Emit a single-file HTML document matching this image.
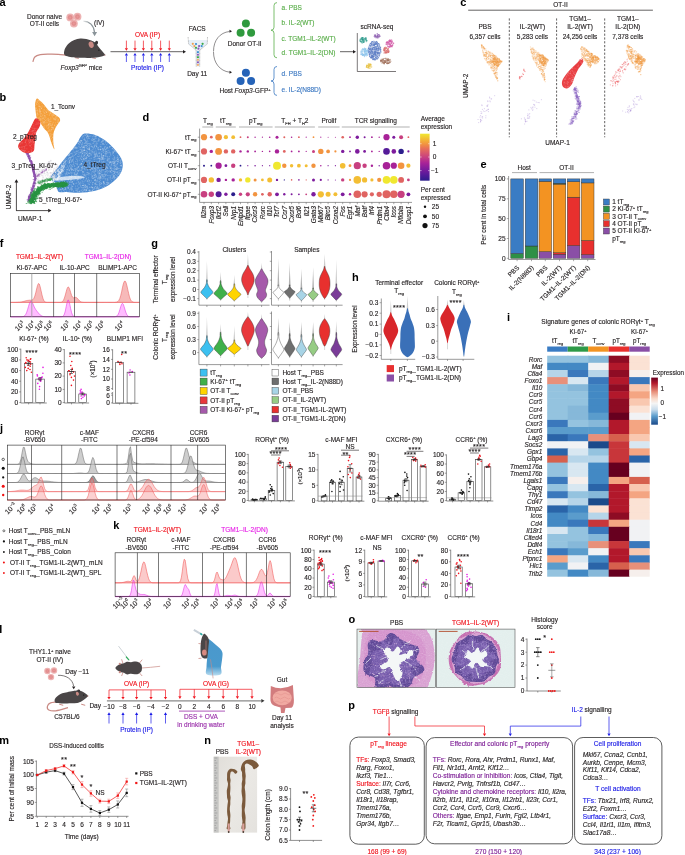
<!DOCTYPE html>
<html><head><meta charset="utf-8"><style>
html,body{margin:0;padding:0;background:#fff;}
svg{display:block;}
text{font-family:"Liberation Sans",sans-serif;stroke-width:0.14px;}
svg{will-change:transform;}
</style></head><body>
<svg width="685" height="855" viewBox="0 0 685 855" font-family="Liberation Sans, sans-serif">
<rect width="685" height="855" fill="#fff"/>
<text x="-0.4" y="5.8" font-size="11" font-weight="bold" fill="#000">a</text>
<text x="44.5" y="18.5" font-size="6.5" text-anchor="middle" fill="#231f20" stroke="#231f20"><tspan>Donor naive</tspan></text>
<text x="44.5" y="25.9" font-size="6.5" text-anchor="middle" fill="#231f20" stroke="#231f20"><tspan>OT-II cells</tspan></text>
<circle cx="70.2" cy="17.4" r="3.9" fill="#eaa4a4" fill-opacity="0.85"/>
<circle cx="77.5" cy="16.7" r="3.9" fill="#eaa4a4" fill-opacity="0.85"/>
<circle cx="73.9" cy="23.6" r="3.9" fill="#eaa4a4" fill-opacity="0.85"/>
<circle cx="70.2" cy="17.4" r="2.4" fill="#de8082" fill-opacity="0.75"/>
<circle cx="70.2" cy="17.4" r="1.0" fill="#e89a9a" fill-opacity="0.8"/>
<circle cx="77.5" cy="16.7" r="2.4" fill="#de8082" fill-opacity="0.75"/>
<circle cx="77.5" cy="16.7" r="1.0" fill="#e89a9a" fill-opacity="0.8"/>
<circle cx="73.9" cy="23.6" r="2.4" fill="#de8082" fill-opacity="0.75"/>
<circle cx="73.9" cy="23.6" r="1.0" fill="#e89a9a" fill-opacity="0.8"/>
<defs><linearGradient id="ivg" x1="0" y1="0" x2="1" y2="0.6"><stop offset="0" stop-color="#8a9499" stop-opacity="0.2"/><stop offset="0.45" stop-color="#8a9499"/></linearGradient></defs>
<path d="M83.3,21.2 C89,21.3 93.6,25 94.5,32.2" fill="none" stroke="url(#ivg)" stroke-width="1.35" />
<path d="M94.6,36.2 L92.1,32.0 L97.1,32.0 Z" fill="#8a9499" />
<text x="99.3" y="25.1" font-size="6.5" text-anchor="middle" fill="#231f20" stroke="#231f20"><tspan>(IV)</tspan></text>
<path d="M66.3,55.1 C65.0,55.0 61.1,54.5 58.3,54.3 C55.5,54.1 52.3,54.0 49.3,54.1 C46.3,54.2 42.7,54.2 40.3,54.7 C37.9,55.2 36.0,55.8 34.8,57.0 C33.6,58.2 33.2,61.1 32.9,61.9" fill="none" stroke="#c98a84" stroke-width="1.2" />
<line x1="91.8" y1="57.7" x2="95.8" y2="58.5" stroke="#c98a84" stroke-width="1.0"/>
<line x1="74.8" y1="57.6" x2="78.8" y2="58.4" stroke="#c98a84" stroke-width="1.0"/>
<path d="M105.3,55.1 C105.3,54.6 104.1,53.6 103.3,52.6 C102.5,51.6 101.3,50.4 100.3,49.1 C99.3,47.9 98.1,46.2 97.3,45.1 C96.5,44.0 96.3,43.4 95.3,42.6 C94.3,41.9 92.8,41.2 91.3,40.6 C89.8,40.0 88.1,39.4 86.3,39.1 C84.5,38.8 82.3,38.4 80.3,38.6 C78.3,38.8 76.1,39.4 74.3,40.1 C72.5,40.9 70.8,41.8 69.3,43.1 C67.8,44.4 66.2,46.4 65.3,48.1 C64.4,49.8 64.0,51.9 64.0,53.1 C64.0,54.4 64.2,54.9 65.3,55.6 C66.3,56.3 68.3,56.7 70.3,57.1 C72.3,57.5 74.5,57.7 77.3,57.8 C80.1,57.9 84.6,57.9 87.3,57.9 C90.0,57.9 91.3,57.9 93.3,57.7 C95.3,57.5 97.6,57.2 99.3,56.9 C101.0,56.6 102.3,56.2 103.3,55.9 C104.3,55.6 105.3,55.6 105.3,55.1 Z" fill="#4a4647" />
<ellipse cx="96.7" cy="42.9" rx="1.5" ry="2.0" fill="#3a3637" transform="rotate(20 96.7 42.3)"/>
<ellipse cx="91.2" cy="44.7" rx="2.5" ry="3.3" fill="#c98a84" transform="rotate(-15 91.2 44.7)"/>
<circle cx="98.9" cy="50.2" r="0.6" fill="#111"/>
<circle cx="104.9" cy="55.1" r="0.6" fill="#c98a84"/>
<text x="81.5" y="69.7" font-size="6.5" text-anchor="middle" fill="#231f20" stroke="#231f20"><tspan font-style="italic">Foxp3</tspan><tspan font-size="4.0" dy="-2.5">GFP</tspan><tspan dy="2.5"> mice</tspan></text>
<line x1="110.5" y1="51.7" x2="183.5" y2="51.7" stroke="#231f20" stroke-width="0.7"/>
<path d="M186.0,51.7 L183.0,49.9 L183.0,53.5 Z" fill="#231f20" />
<line x1="126.4" y1="40.6" x2="126.4" y2="48.5" stroke="#f0141e" stroke-width="0.7"/>
<path d="M126.4,50.8 L124.8,48.2 L128.0,48.2 Z" fill="#f0141e" />
<line x1="126.4" y1="62.0" x2="126.4" y2="55.5" stroke="#1a1ae6" stroke-width="0.7"/>
<path d="M126.4,53.0 L124.8,55.6 L128.0,55.6 Z" fill="#1a1ae6" />
<line x1="135.0" y1="40.6" x2="135.0" y2="48.5" stroke="#f0141e" stroke-width="0.7"/>
<path d="M135.0,50.8 L133.4,48.2 L136.6,48.2 Z" fill="#f0141e" />
<line x1="135.0" y1="62.0" x2="135.0" y2="55.5" stroke="#1a1ae6" stroke-width="0.7"/>
<path d="M135.0,53.0 L133.4,55.6 L136.6,55.6 Z" fill="#1a1ae6" />
<line x1="143.4" y1="40.6" x2="143.4" y2="48.5" stroke="#f0141e" stroke-width="0.7"/>
<path d="M143.4,50.8 L141.8,48.2 L145.0,48.2 Z" fill="#f0141e" />
<line x1="143.4" y1="62.0" x2="143.4" y2="55.5" stroke="#1a1ae6" stroke-width="0.7"/>
<path d="M143.4,53.0 L141.8,55.6 L145.0,55.6 Z" fill="#1a1ae6" />
<line x1="151.8" y1="40.6" x2="151.8" y2="48.5" stroke="#f0141e" stroke-width="0.7"/>
<path d="M151.8,50.8 L150.2,48.2 L153.4,48.2 Z" fill="#f0141e" />
<line x1="151.8" y1="62.0" x2="151.8" y2="55.5" stroke="#1a1ae6" stroke-width="0.7"/>
<path d="M151.8,53.0 L150.2,55.6 L153.4,55.6 Z" fill="#1a1ae6" />
<line x1="160.6" y1="40.6" x2="160.6" y2="48.5" stroke="#f0141e" stroke-width="0.7"/>
<path d="M160.6,50.8 L159.0,48.2 L162.2,48.2 Z" fill="#f0141e" />
<line x1="160.6" y1="62.0" x2="160.6" y2="55.5" stroke="#1a1ae6" stroke-width="0.7"/>
<path d="M160.6,53.0 L159.0,55.6 L162.2,55.6 Z" fill="#1a1ae6" />
<line x1="169.3" y1="40.6" x2="169.3" y2="48.5" stroke="#f0141e" stroke-width="0.7"/>
<path d="M169.3,50.8 L167.7,48.2 L170.9,48.2 Z" fill="#f0141e" />
<line x1="169.3" y1="62.0" x2="169.3" y2="55.5" stroke="#1a1ae6" stroke-width="0.7"/>
<path d="M169.3,53.0 L167.7,55.6 L170.9,55.6 Z" fill="#1a1ae6" />
<text x="147.5" y="37.0" font-size="6.5" text-anchor="middle" fill="#f0141e" stroke="#f0141e"><tspan>OVA (IP)</tspan></text>
<text x="147.5" y="70.3" font-size="6.5" text-anchor="middle" fill="#1a1ae6" stroke="#1a1ae6"><tspan>Protein (IP)</tspan></text>
<text x="197.2" y="30.8" font-size="6.5" text-anchor="middle" fill="#231f20" stroke="#231f20"><tspan>FACS</tspan></text>
<path d="M188.4,40 L188.6,44 L196,50.1 L196.2,66.5 L199.7,66.5 L199.8,50.1 L207.3,44 L207.5,40 Z" fill="#e6eff8" />
<path d="M188.1,37 L188.6,44 L196,50.1 L196.2,66.5 M207.5,37 L207.3,44 L199.8,50.1 L199.7,66.5" fill="none" stroke="#6a6a6a" stroke-width="0.45" stroke-dasharray="0.9,0.5"/>
<circle cx="192.8" cy="43.8" r="1.1" fill="#f0a050"/>
<circle cx="196.0" cy="44.0" r="1.1" fill="#3a90d0"/>
<circle cx="202.6" cy="43.8" r="1.1" fill="#3aaa48"/>
<circle cx="194.4" cy="46.1" r="1.1" fill="#f0a050"/>
<circle cx="199.1" cy="46.1" r="1.1" fill="#8a5ab8"/>
<circle cx="201.7" cy="46.1" r="1.1" fill="#3a90d0"/>
<circle cx="196.0" cy="47.8" r="1.1" fill="#3aaa48"/>
<circle cx="198.4" cy="48.7" r="1.1" fill="#8a5ab8"/>
<rect x="196.9" y="51.2" width="2.0" height="1.8" fill="#3a90d0"/>
<rect x="196.9" y="53.8" width="2.0" height="1.8" fill="#8a5ab8"/>
<rect x="196.9" y="56.3" width="2.0" height="1.8" fill="#3aaa48"/>
<rect x="196.9" y="58.9" width="2.0" height="1.8" fill="#f5b070"/>
<rect x="196.9" y="61.4" width="2.0" height="1.8" fill="#8a5ab8"/>
<rect x="196.9" y="64.0" width="2.0" height="1.8" fill="#f5b070"/>
<text x="197.2" y="75.5" font-size="6.5" text-anchor="middle" fill="#231f20" stroke="#231f20"><tspan>Day 11</tspan></text>
<path d="M213.5,51.5 C213.5,40 220,32.5 229.5,31.5" fill="none" stroke="#231f20" stroke-width="0.5" />
<path d="M232.0,31.3 L229.5,29.8 L229.5,32.8 Z" fill="#231f20" />
<path d="M213.5,52 C213.5,63 220,71 229.5,72.2" fill="none" stroke="#231f20" stroke-width="0.5" />
<path d="M232.0,72.3 L229.5,70.8 L229.5,73.8 Z" fill="#231f20" />
<circle cx="245.9" cy="23.6" r="4.0" fill="#2f9a3e"/>
<circle cx="240.6" cy="32.7" r="4.0" fill="#2f9a3e"/>
<circle cx="251.1" cy="32.7" r="4.0" fill="#2f9a3e"/>
<circle cx="245.9" cy="72.7" r="4.0" fill="#2563b8"/>
<circle cx="240.6" cy="80.9" r="4.0" fill="#2563b8"/>
<circle cx="251.1" cy="80.9" r="4.0" fill="#2563b8"/>
<text x="244.7" y="45.6" font-size="6.5" text-anchor="middle" fill="#231f20" stroke="#231f20"><tspan>Donor OT-II</tspan></text>
<text x="245.0" y="93.3" font-size="6.5" text-anchor="middle" fill="#231f20" stroke="#231f20"><tspan>Host </tspan><tspan font-style="italic">Foxp3</tspan><tspan>-GFP</tspan><tspan font-size="4.0" dy="-2.5">+</tspan></text>
<path d="M277.0,2.6 Q274.0,2.6 274.0,5.6 L274.0,27.2 Q274.0,30.2 271.0,30.2 Q274.0,30.2 274.0,33.2 L274.0,54.8 Q274.0,57.8 277.0,57.8" fill="none" stroke="#5aae4a" stroke-width="0.8" />
<path d="M277.0,66.5 Q274.0,66.5 274.0,69.5 L274.0,78.0 Q274.0,81.0 271.0,81.0 Q274.0,81.0 274.0,84.0 L274.0,92.4 Q274.0,95.4 277.0,95.4" fill="none" stroke="#3b78c2" stroke-width="0.8" />
<text x="281.6" y="10.0" font-size="6.5" text-anchor="start" fill="#5aae4a" stroke="#5aae4a"><tspan>a. PBS</tspan></text>
<text x="281.6" y="25.1" font-size="6.5" text-anchor="start" fill="#5aae4a" stroke="#5aae4a"><tspan>b. IL-2(WT)</tspan></text>
<text x="281.6" y="40.5" font-size="6.5" text-anchor="start" fill="#5aae4a" stroke="#5aae4a"><tspan>c. TGM1–IL-2(WT)</tspan></text>
<text x="281.6" y="54.8" font-size="6.5" text-anchor="start" fill="#5aae4a" stroke="#5aae4a"><tspan>d. TGM1–IL-2(DN)</tspan></text>
<text x="281.6" y="75.5" font-size="6.5" text-anchor="start" fill="#3b78c2" stroke="#3b78c2"><tspan>d. PBS</tspan></text>
<text x="281.6" y="91.6" font-size="6.5" text-anchor="start" fill="#3b78c2" stroke="#3b78c2"><tspan>e. IL-2(N88D)</tspan></text>
<line x1="340.0" y1="51.7" x2="353.0" y2="51.7" stroke="#231f20" stroke-width="0.7"/>
<path d="M356.0,51.7 L353.0,49.9 L353.0,53.5 Z" fill="#231f20" />
<text x="377.0" y="29.1" font-size="6.5" text-anchor="middle" fill="#231f20" stroke="#231f20"><tspan>scRNA-seq</tspan></text>
<line x1="357.3" y1="33.0" x2="357.3" y2="71.5" stroke="#231f20" stroke-width="0.6"/>
<line x1="357.3" y1="71.5" x2="396.0" y2="71.5" stroke="#231f20" stroke-width="0.6"/>
<path d="M363.6 42.5h.1M361.4 42.0h.1M362.7 39.8h.1M366.9 40.5h.1M363.3 41.7h.1M366.0 40.2h.1M364.8 38.5h.1M362.5 39.4h.1M361.1 38.2h.1M360.2 39.9h.1M362.9 39.6h.1M363.6 38.0h.1M363.2 40.8h.1M365.1 38.8h.1M362.7 37.5h.1M362.6 37.5h.1M360.7 41.9h.1M359.9 41.3h.1M364.3 39.7h.1M364.6 41.4h.1M365.9 39.9h.1M361.9 39.1h.1M361.0 40.2h.1M361.7 42.1h.1M360.3 38.9h.1M361.9 37.7h.1M365.7 38.0h.1M362.7 39.2h.1M365.8 38.0h.1M365.8 39.0h.1M363.0 39.0h.1M364.8 38.3h.1M363.2 41.0h.1M365.7 37.9h.1M366.3 41.7h.1M362.2 40.9h.1M362.5 42.8h.1M364.0 39.8h.1M362.8 39.9h.1M363.0 38.6h.1M366.2 38.3h.1M359.6 40.2h.1M363.0 41.1h.1M362.9 40.0h.1M364.2 42.1h.1M362.2 39.5h.1M366.8 41.0h.1M361.9 43.0h.1M365.3 39.2h.1M360.7 40.8h.1M361.6 38.5h.1M360.6 39.4h.1M365.9 39.5h.1M360.5 41.4h.1M363.6 41.9h.1M366.1 40.0h.1M363.0 40.2h.1M360.9 41.5h.1M366.4 40.6h.1M362.8 39.8h.1M361.6 38.8h.1M362.4 38.7h.1M362.5 37.8h.1M364.3 40.4h.1M361.7 37.7h.1M363.4 42.3h.1M361.6 39.4h.1M362.0 41.6h.1" stroke="#2a9a8a" stroke-opacity="0.85" stroke-width="0.7" stroke-linecap="square" fill="none"/>
<path d="M362.4 55.0h.1M363.7 55.1h.1M364.6 51.8h.1M361.4 50.9h.1M363.8 54.5h.1M365.1 50.4h.1M365.5 55.2h.1M364.1 51.1h.1M363.5 54.8h.1M365.8 49.9h.1M365.5 51.0h.1M362.8 55.6h.1M366.5 50.5h.1M364.7 54.0h.1M362.8 52.1h.1M365.8 48.6h.1M365.4 54.7h.1M365.6 49.1h.1M365.3 50.0h.1M366.0 54.3h.1M365.1 50.2h.1M363.0 54.9h.1M362.3 53.9h.1M365.9 51.6h.1M368.4 52.6h.1M367.4 49.4h.1M360.9 54.3h.1M366.2 51.6h.1M364.4 48.4h.1M363.0 49.7h.1M363.9 55.0h.1M364.6 53.7h.1M362.7 51.2h.1M364.8 51.6h.1M367.2 50.4h.1M367.9 50.5h.1M367.0 50.5h.1M367.9 52.8h.1M365.5 54.7h.1M363.0 49.7h.1M361.2 54.7h.1M362.7 50.8h.1M364.4 56.7h.1M361.0 53.1h.1M363.4 54.1h.1M361.0 51.6h.1M366.2 56.0h.1M367.7 50.6h.1M364.7 52.2h.1M361.9 49.5h.1M366.5 53.2h.1M364.2 55.7h.1M362.1 53.9h.1M364.5 52.3h.1M365.8 53.0h.1M365.2 53.3h.1M368.2 51.8h.1M366.9 54.1h.1M363.6 54.8h.1M362.6 55.4h.1M362.4 51.1h.1M365.3 54.9h.1M366.6 54.9h.1M364.0 49.8h.1M366.0 53.4h.1M362.3 55.0h.1M365.0 49.8h.1M365.5 49.1h.1M362.3 53.6h.1M361.1 52.6h.1M361.6 54.3h.1M362.6 53.0h.1M361.2 51.7h.1M366.8 53.8h.1M361.1 54.4h.1M366.8 51.4h.1M367.3 50.1h.1M364.3 55.6h.1M367.1 55.3h.1M362.5 48.9h.1M365.4 49.0h.1M364.2 49.1h.1M366.9 54.6h.1M366.0 52.6h.1M364.6 51.6h.1M365.6 53.3h.1M365.7 51.2h.1M368.1 53.1h.1M367.2 55.4h.1M362.8 48.9h.1M367.4 51.5h.1M364.7 51.7h.1M364.8 49.3h.1M364.2 51.1h.1M364.5 48.1h.1M366.6 53.5h.1M361.2 50.9h.1M364.6 54.4h.1M364.5 56.0h.1M364.6 49.7h.1M362.8 54.6h.1M363.0 54.9h.1M367.0 54.1h.1M367.0 52.0h.1M364.5 50.7h.1M363.2 48.9h.1M363.2 49.6h.1M361.3 52.9h.1" stroke="#8cc4ec" stroke-opacity="0.85" stroke-width="0.7" stroke-linecap="square" fill="none"/>
<path d="M376.5 48.3h.1M379.1 55.2h.1M378.5 47.1h.1M369.3 53.3h.1M375.8 55.0h.1M376.1 57.4h.1M373.3 54.7h.1M372.2 41.9h.1M372.9 58.1h.1M369.4 55.1h.1M371.6 48.0h.1M374.7 51.9h.1M370.5 51.3h.1M376.3 55.5h.1M372.0 58.0h.1M378.5 57.9h.1M369.5 51.4h.1M368.7 52.2h.1M376.6 44.1h.1M369.0 51.4h.1M377.1 45.8h.1M373.8 41.2h.1M371.5 51.4h.1M375.0 58.5h.1M371.6 42.2h.1M376.4 46.8h.1M375.7 55.0h.1M376.6 57.9h.1M378.4 43.5h.1M374.3 59.3h.1M372.9 56.2h.1M374.2 47.7h.1M379.5 55.3h.1M373.5 56.0h.1M369.8 46.7h.1M378.3 50.7h.1M370.3 53.1h.1M375.7 57.5h.1M378.4 48.9h.1M372.3 49.6h.1M373.7 58.2h.1M379.2 56.3h.1M376.2 48.9h.1M378.2 48.4h.1M375.3 42.3h.1M373.0 58.0h.1M371.2 43.5h.1M373.9 58.7h.1M379.7 48.6h.1M372.4 49.8h.1M370.6 50.7h.1M373.4 42.8h.1M372.0 48.9h.1M371.4 44.5h.1M377.1 58.6h.1M373.2 47.7h.1M376.7 49.0h.1M371.8 57.5h.1M370.5 46.4h.1M371.9 45.4h.1M373.5 54.2h.1M379.5 53.9h.1M374.6 43.5h.1M374.2 44.8h.1M374.1 56.4h.1M375.4 49.1h.1M371.3 50.4h.1M375.0 44.9h.1M372.4 55.7h.1M369.0 48.3h.1M370.9 57.5h.1M377.1 53.7h.1M376.3 52.4h.1M375.5 42.5h.1M375.6 54.3h.1M369.6 54.6h.1M376.8 43.0h.1M372.4 48.5h.1M372.2 53.0h.1M369.7 49.3h.1M375.5 55.0h.1M374.7 48.9h.1M376.5 42.0h.1M378.3 48.7h.1M369.8 48.1h.1M370.2 43.5h.1M373.1 45.7h.1M377.4 45.4h.1M370.0 45.7h.1M380.2 50.6h.1M372.1 44.8h.1M370.1 49.5h.1M376.1 57.0h.1M379.0 52.1h.1M371.9 45.5h.1M368.7 46.8h.1M376.4 48.3h.1M375.8 43.3h.1M378.2 52.3h.1M374.7 53.1h.1M368.4 48.3h.1M371.8 58.4h.1M373.7 47.2h.1M377.7 44.8h.1M379.4 46.9h.1M374.3 44.9h.1M376.7 41.9h.1M377.3 45.7h.1M374.7 43.9h.1M375.5 51.7h.1M377.1 52.5h.1M376.9 56.2h.1M373.0 43.9h.1M369.9 54.1h.1M373.0 56.6h.1M374.7 44.5h.1M377.1 58.7h.1M373.8 44.8h.1M371.2 55.5h.1M372.0 47.9h.1M377.5 50.6h.1M375.0 47.0h.1M371.7 51.5h.1M375.2 54.3h.1M372.3 52.7h.1M376.6 51.0h.1M376.7 56.3h.1M375.4 51.0h.1M370.6 52.4h.1M374.1 48.4h.1M371.1 53.9h.1M380.8 52.1h.1M374.9 53.4h.1M371.9 51.1h.1M371.8 46.6h.1M375.6 52.0h.1M374.0 45.6h.1M375.5 44.2h.1M377.8 48.4h.1M374.5 55.4h.1M376.5 43.6h.1M373.4 52.9h.1M371.9 42.0h.1M374.2 50.2h.1M376.4 51.0h.1M375.1 52.1h.1M379.5 53.1h.1M376.9 48.0h.1M378.9 49.4h.1M376.6 41.9h.1M375.6 49.9h.1M372.8 57.5h.1M376.3 49.6h.1M372.9 58.9h.1M377.5 54.4h.1M371.8 57.3h.1M376.9 48.8h.1M374.1 42.4h.1M377.0 44.4h.1M378.0 47.9h.1M371.8 52.8h.1M375.3 44.0h.1M374.2 54.4h.1M373.6 43.2h.1M373.5 44.8h.1M372.0 50.8h.1M374.3 49.1h.1M369.0 52.2h.1M373.6 47.8h.1M375.0 59.2h.1M370.7 43.6h.1M377.5 45.9h.1M378.9 45.6h.1M372.5 55.5h.1M378.2 53.1h.1M376.5 49.7h.1M372.5 49.2h.1M379.1 54.2h.1M374.6 52.6h.1M377.5 56.7h.1M373.9 50.0h.1M375.3 59.8h.1M375.4 57.5h.1M369.5 54.6h.1M369.9 45.4h.1M371.7 49.6h.1M375.3 52.9h.1M375.5 47.7h.1M380.8 51.9h.1M376.4 59.0h.1M378.3 53.8h.1M375.5 59.0h.1M370.6 45.5h.1M374.9 41.7h.1M371.6 56.6h.1M372.5 51.6h.1M377.1 44.2h.1M375.7 46.5h.1M370.2 48.9h.1M374.3 47.9h.1M371.9 55.9h.1M378.9 53.6h.1M374.1 44.3h.1M371.5 44.6h.1M375.4 56.0h.1M378.3 50.4h.1M372.8 51.7h.1M375.0 54.3h.1M379.5 47.1h.1M379.1 43.8h.1M369.7 44.6h.1M370.4 49.1h.1M380.4 47.6h.1M378.8 48.4h.1M375.1 44.5h.1M380.7 50.3h.1M372.9 59.4h.1M375.3 53.2h.1M373.9 45.4h.1M369.3 49.6h.1M379.9 52.6h.1M373.8 56.7h.1M371.4 57.3h.1M374.4 45.4h.1M377.3 53.6h.1M373.0 51.9h.1M377.7 57.3h.1M372.5 41.6h.1M380.5 49.4h.1M372.7 53.2h.1M372.8 56.5h.1M369.8 49.4h.1M370.7 57.3h.1M373.5 56.8h.1M378.9 44.9h.1M373.6 55.0h.1M374.7 49.6h.1M377.7 55.6h.1M371.9 49.6h.1M377.3 51.8h.1M375.1 44.1h.1M380.2 49.4h.1M375.7 50.3h.1M374.8 51.5h.1M371.1 52.8h.1M379.1 52.7h.1M377.5 53.4h.1M374.6 59.0h.1M371.6 52.9h.1M378.6 52.2h.1M370.8 44.9h.1M379.5 46.0h.1M374.5 54.0h.1M374.8 42.1h.1M368.6 50.0h.1M371.2 48.9h.1M374.9 51.6h.1M370.7 43.5h.1M378.2 46.9h.1M371.3 42.6h.1M376.5 43.7h.1M370.5 54.0h.1M375.8 54.1h.1M371.9 41.8h.1M370.5 48.7h.1M371.9 55.6h.1M375.9 44.5h.1M377.0 49.6h.1M372.6 56.8h.1M369.4 55.1h.1M377.4 42.4h.1M373.6 49.4h.1M370.2 47.3h.1M371.1 50.9h.1M372.9 41.7h.1M378.8 55.2h.1M371.3 55.4h.1M379.5 44.8h.1M372.7 47.2h.1M376.9 48.6h.1M370.1 56.3h.1M373.1 55.0h.1M380.5 47.6h.1M372.8 55.9h.1M374.0 53.9h.1M374.5 59.9h.1M377.2 52.7h.1M375.1 53.0h.1M369.0 49.2h.1M377.2 44.1h.1M374.7 49.9h.1M373.2 59.6h.1M377.5 52.6h.1M371.2 51.0h.1M373.1 49.9h.1M375.1 59.8h.1M378.3 57.6h.1M377.3 59.0h.1M372.1 43.7h.1M375.5 52.2h.1M374.7 46.5h.1M376.7 58.5h.1M375.5 49.0h.1M379.1 48.8h.1M372.9 52.6h.1M369.5 56.5h.1M374.0 53.9h.1M375.9 53.2h.1M370.8 57.8h.1M377.0 52.4h.1M380.5 47.0h.1M377.7 49.9h.1M370.6 57.8h.1M369.1 51.2h.1M374.1 51.8h.1M371.3 57.3h.1M375.5 43.5h.1M369.9 52.1h.1M370.1 53.0h.1M375.9 46.8h.1M369.3 45.4h.1M376.1 47.2h.1M380.3 48.5h.1M376.2 54.8h.1M374.9 52.6h.1M378.6 49.7h.1M376.0 48.2h.1M380.5 51.3h.1M376.3 41.4h.1M372.6 44.2h.1M374.7 47.6h.1M370.3 48.9h.1M377.6 56.4h.1M372.4 56.6h.1M371.9 54.3h.1M371.3 56.2h.1M380.7 49.4h.1M378.3 43.9h.1M373.0 59.6h.1M374.2 53.8h.1M368.9 50.5h.1M371.7 56.9h.1M373.2 59.6h.1M370.2 52.4h.1M368.5 48.8h.1M379.2 49.9h.1M369.7 53.2h.1M378.3 53.1h.1M377.8 43.6h.1M380.1 53.7h.1M369.7 56.8h.1M372.5 53.8h.1M368.7 47.8h.1M369.0 54.2h.1M373.6 45.0h.1M373.1 56.9h.1M371.3 53.9h.1M371.0 43.3h.1M372.4 48.7h.1M375.2 56.2h.1M372.7 48.2h.1M377.7 53.1h.1M374.3 52.1h.1M368.4 48.3h.1M369.0 48.8h.1M377.3 42.8h.1M378.2 47.2h.1M373.6 47.5h.1M377.4 46.5h.1M368.4 51.9h.1" stroke="#5a7cc4" stroke-opacity="0.85" stroke-width="0.7" stroke-linecap="square" fill="none"/>
<path d="M376.7 36.9h.1M378.1 34.5h.1M377.5 36.2h.1M376.8 36.2h.1M377.7 35.2h.1M376.7 37.4h.1M374.9 35.9h.1M375.2 34.7h.1M376.1 36.3h.1M379.6 35.8h.1M378.8 36.7h.1M377.1 33.8h.1M377.3 36.1h.1M374.9 36.2h.1M379.3 34.8h.1M376.0 37.2h.1M374.4 35.0h.1M377.6 37.3h.1M379.2 36.9h.1M380.1 36.4h.1M374.6 35.8h.1M378.3 36.5h.1M374.1 36.4h.1M375.3 35.7h.1M379.6 35.8h.1M375.6 35.8h.1M376.1 38.0h.1M378.6 37.2h.1M375.6 35.1h.1M377.4 33.9h.1M378.7 34.5h.1M377.2 36.5h.1M375.4 36.5h.1M378.0 37.9h.1M377.6 38.0h.1M378.0 35.7h.1M378.7 35.3h.1M377.3 36.9h.1M379.2 36.4h.1M374.8 37.3h.1M377.4 35.5h.1M375.4 36.8h.1" stroke="#8a5ab0" stroke-opacity="0.85" stroke-width="0.7" stroke-linecap="square" fill="none"/>
<path d="M390.9 45.3h.1M389.7 46.8h.1M389.3 44.6h.1M390.5 46.1h.1M388.2 42.7h.1M389.4 41.7h.1M388.5 40.8h.1M391.6 46.6h.1M387.7 45.3h.1M387.4 41.7h.1M389.1 43.8h.1M390.8 39.9h.1M387.0 43.7h.1M389.6 47.3h.1M389.3 41.8h.1M391.6 39.9h.1M387.7 46.8h.1M388.3 43.7h.1M389.5 41.2h.1M389.7 40.5h.1M392.3 45.3h.1M391.6 41.3h.1M386.4 42.6h.1M387.3 44.4h.1M386.8 41.7h.1M390.4 44.7h.1M390.2 40.5h.1M388.8 47.1h.1M392.2 41.5h.1M393.6 43.2h.1M390.0 41.3h.1M393.3 43.7h.1M389.8 41.1h.1M387.0 43.9h.1M390.0 46.8h.1M387.7 42.5h.1M392.3 45.4h.1M388.6 46.6h.1M391.2 45.7h.1M390.8 45.9h.1M388.8 42.9h.1M392.6 44.4h.1M390.9 46.2h.1M390.6 44.6h.1M386.3 42.6h.1M391.9 41.4h.1M389.2 44.1h.1M389.6 45.7h.1M391.3 43.0h.1M392.6 42.6h.1M388.1 44.3h.1M391.7 43.1h.1M387.4 42.3h.1M390.6 45.3h.1M393.5 43.2h.1M389.6 39.7h.1M392.7 45.4h.1M390.0 41.6h.1M386.2 44.6h.1M388.4 46.6h.1M391.7 46.3h.1M389.7 46.3h.1M387.4 46.2h.1M389.9 40.7h.1M389.0 41.1h.1M390.7 41.6h.1M387.1 42.7h.1M389.3 44.1h.1M391.5 46.3h.1M390.8 46.9h.1M386.1 43.4h.1M392.0 40.7h.1M389.4 44.1h.1M386.8 42.3h.1M391.6 42.6h.1M392.2 46.8h.1M389.8 40.7h.1M389.9 42.0h.1M386.9 42.6h.1M388.7 42.5h.1M392.1 45.9h.1M391.1 42.5h.1M391.1 43.6h.1M390.5 41.1h.1M386.2 44.6h.1M388.4 42.2h.1M389.9 43.3h.1M389.3 46.8h.1M390.3 44.1h.1M387.7 43.2h.1M391.3 43.3h.1M390.8 41.1h.1M390.9 41.0h.1M388.9 41.5h.1M390.4 46.2h.1M390.7 41.3h.1" stroke="#d35aa8" stroke-opacity="0.85" stroke-width="0.7" stroke-linecap="square" fill="none"/>
<path d="M386.3 52.7h.1M387.5 51.6h.1M383.9 49.4h.1M384.6 49.4h.1M386.5 50.6h.1M385.2 51.8h.1M384.5 49.7h.1M386.2 47.8h.1M384.6 47.9h.1M383.9 50.2h.1M385.7 51.3h.1M386.6 48.1h.1M388.5 52.5h.1M383.8 49.1h.1M384.9 51.0h.1M387.3 50.5h.1M383.9 53.1h.1M387.6 52.2h.1M384.4 50.7h.1M387.8 49.5h.1M388.2 50.7h.1M388.7 50.6h.1M388.1 48.1h.1M388.5 51.4h.1M385.3 52.8h.1M385.4 52.3h.1M387.7 52.6h.1M388.7 52.3h.1M389.0 51.4h.1M386.3 51.4h.1M385.9 48.0h.1M386.3 48.0h.1M385.4 49.8h.1M384.9 48.3h.1M386.2 50.4h.1M388.4 51.7h.1M387.9 49.5h.1M385.4 48.0h.1M384.3 52.0h.1M385.6 50.1h.1M385.1 53.3h.1M385.9 52.9h.1M385.9 52.6h.1M384.4 48.1h.1M388.1 49.9h.1M386.5 52.4h.1M387.5 51.1h.1M383.8 49.1h.1M386.1 52.0h.1M387.1 51.4h.1M384.4 50.5h.1M387.8 48.7h.1M384.9 52.4h.1M388.7 51.2h.1M386.0 48.4h.1M385.7 48.7h.1M386.3 52.1h.1M386.8 53.1h.1M384.3 48.2h.1M388.2 52.4h.1M384.0 50.8h.1M383.9 50.5h.1M386.6 52.6h.1M384.4 48.1h.1M387.2 49.7h.1M388.2 48.5h.1M385.3 47.1h.1" stroke="#d86a6a" stroke-opacity="0.85" stroke-width="0.7" stroke-linecap="square" fill="none"/>
<path d="M388.6 63.0h.1M387.0 60.4h.1M381.1 59.4h.1M384.1 63.7h.1M388.5 59.9h.1M387.1 62.1h.1M387.2 59.3h.1M384.0 62.8h.1M388.0 60.3h.1M390.8 61.3h.1M384.1 62.7h.1M388.4 60.8h.1M389.9 62.5h.1M385.6 62.4h.1M387.9 60.5h.1M388.1 60.0h.1M384.7 62.3h.1M381.5 60.4h.1M382.4 62.3h.1M384.0 63.6h.1M389.9 59.9h.1M386.1 60.3h.1M385.5 62.4h.1M388.5 63.4h.1M389.9 59.4h.1M383.7 60.6h.1M384.3 61.3h.1M387.8 60.1h.1M384.2 63.8h.1M387.1 63.7h.1M383.8 63.3h.1M389.6 62.8h.1M382.9 62.0h.1M383.1 59.1h.1M385.5 62.1h.1M384.7 60.8h.1M387.7 59.7h.1M387.0 62.5h.1M387.8 62.1h.1M382.1 60.5h.1M384.0 62.4h.1M380.7 61.2h.1M381.0 62.0h.1M383.6 61.1h.1M387.9 63.4h.1M382.1 61.2h.1M380.5 60.7h.1M383.2 62.3h.1M385.1 61.2h.1M381.8 60.4h.1M381.8 61.1h.1M380.9 61.4h.1M387.6 63.7h.1M389.3 62.8h.1M387.7 63.4h.1M385.4 61.8h.1M380.6 60.3h.1M388.4 58.7h.1M386.8 60.9h.1M384.2 61.7h.1M385.6 59.0h.1M385.3 58.3h.1M390.0 61.0h.1M388.4 59.4h.1M390.0 62.4h.1M386.9 61.5h.1M386.9 59.6h.1M385.0 60.6h.1M386.6 63.5h.1M389.3 61.5h.1M387.9 60.5h.1M384.2 58.5h.1M382.0 59.2h.1M385.3 60.7h.1M386.9 63.1h.1M388.0 60.7h.1M383.8 60.4h.1M387.6 59.4h.1M381.0 60.7h.1M388.6 62.9h.1M387.1 58.4h.1M385.0 62.4h.1M388.2 63.4h.1M382.3 61.7h.1M380.9 60.7h.1M384.2 62.6h.1M386.0 58.4h.1M385.1 61.8h.1M389.7 59.9h.1M382.6 59.9h.1M389.0 60.5h.1M385.9 61.9h.1M383.0 62.9h.1M382.0 63.2h.1M383.3 59.4h.1M383.2 59.0h.1M382.6 59.6h.1M381.7 60.7h.1M386.7 59.9h.1" stroke="#a0705a" stroke-opacity="0.85" stroke-width="0.7" stroke-linecap="square" fill="none"/>
<path d="M369.2 64.7h.1M369.3 65.5h.1M366.7 66.2h.1M368.5 64.9h.1M368.7 66.9h.1M366.5 65.3h.1M370.1 66.0h.1M369.8 68.3h.1M366.5 66.5h.1M368.2 68.0h.1M369.8 64.1h.1M370.9 66.0h.1M368.1 66.0h.1M369.2 64.6h.1M368.1 67.9h.1M366.9 65.1h.1M370.3 64.6h.1M368.4 66.5h.1M367.0 65.5h.1M367.0 65.7h.1M369.4 66.0h.1M369.3 66.6h.1M370.3 64.5h.1M369.0 68.1h.1M368.3 65.5h.1M368.8 64.8h.1M370.0 66.0h.1M368.4 67.2h.1M370.7 64.3h.1M367.7 65.5h.1M366.4 66.9h.1M371.7 66.9h.1M370.5 64.0h.1M368.0 64.1h.1M370.4 65.8h.1M368.4 66.8h.1M370.0 68.0h.1M371.1 67.2h.1M366.4 67.4h.1M369.0 63.9h.1M369.2 65.6h.1M368.6 67.5h.1M366.4 66.9h.1M370.8 64.5h.1M371.2 65.1h.1M367.4 67.4h.1M368.8 63.7h.1M367.5 67.1h.1" stroke="#e8c040" stroke-opacity="0.85" stroke-width="0.7" stroke-linecap="square" fill="none"/>
<text x="-0.6" y="100.7" font-size="11" font-weight="bold" fill="#000">b</text>
<path d="M84.7,133.5 C87.1,133.2 91.7,133.7 95.2,134.9 C98.7,136.1 102.2,138.1 105.7,140.8 C109.2,143.5 113.5,148.0 116.2,151.3 C118.9,154.6 121.1,157.4 122.1,160.5 C123.1,163.6 122.9,166.8 122.1,169.7 C121.3,172.5 119.8,175.0 117.5,177.6 C115.2,180.2 112.0,183.2 108.3,185.4 C104.6,187.6 100.0,189.5 95.2,190.7 C90.4,191.9 84.2,192.5 79.4,192.7 C74.6,192.9 69.7,192.1 66.3,192.0 C62.9,191.9 60.5,192.6 59.0,192.0 C57.5,191.4 57.7,189.8 57.0,188.5 C56.3,187.2 55.9,186.0 55.0,184.5 C54.1,183.0 52.2,180.9 51.5,179.5 C50.8,178.1 50.2,177.6 51.0,176.0 C51.8,174.4 54.2,172.3 56.0,170.0 C57.8,167.7 59.8,164.8 62.0,162.0 C64.2,159.2 66.5,156.6 69.0,153.5 C71.5,150.4 74.8,146.2 76.8,143.4 C78.8,140.6 79.4,138.5 80.7,136.8 C82.0,135.2 82.3,133.8 84.7,133.5 Z" fill="#4787cf" fill-opacity="0.97" />
<path d="M95.3 177.4h.1M118.1 171.9h.1M84.4 148.1h.1M89.7 167.5h.1M70.9 187.7h.1M105.4 142.9h.1M94.9 141.0h.1M71.6 190.4h.1M89.3 173.6h.1M65.6 189.2h.1M114.5 151.2h.1M72.4 169.2h.1M75.0 151.8h.1M109.2 162.0h.1M73.5 162.0h.1M104.3 183.5h.1M52.3 180.1h.1M77.0 167.7h.1M63.9 190.0h.1M65.0 178.2h.1M75.5 154.5h.1M88.3 179.4h.1M58.7 177.8h.1M107.7 184.4h.1M94.4 187.9h.1M75.2 188.2h.1M89.8 152.0h.1M121.2 165.1h.1M79.9 147.6h.1M93.2 182.4h.1M83.4 158.5h.1M95.8 180.2h.1M61.6 183.5h.1M72.0 160.3h.1M120.4 160.3h.1M85.7 176.7h.1M85.1 150.7h.1M79.7 142.2h.1M77.8 192.0h.1M119.2 170.6h.1M86.5 153.5h.1M106.6 184.8h.1M76.7 180.0h.1M106.1 174.6h.1M98.2 178.5h.1M76.8 175.2h.1M71.0 162.3h.1M105.7 174.4h.1M71.9 189.5h.1M97.2 167.9h.1M68.8 173.3h.1M83.9 181.8h.1M97.0 180.7h.1M75.7 171.6h.1M103.5 182.5h.1M75.9 183.4h.1M112.9 174.2h.1M87.8 164.8h.1M62.8 183.0h.1M117.6 161.8h.1M100.2 176.1h.1M102.9 143.7h.1M106.5 167.9h.1M98.3 158.4h.1M95.3 179.4h.1M96.3 176.1h.1M82.4 172.0h.1M66.6 174.1h.1M95.9 136.0h.1M84.5 146.9h.1M84.1 156.0h.1M94.5 168.4h.1M67.9 187.0h.1M70.8 157.8h.1M59.2 182.7h.1M94.6 139.1h.1M89.8 153.6h.1M92.3 190.2h.1M109.2 158.3h.1M108.8 171.5h.1M93.4 166.9h.1M94.3 154.3h.1M58.7 167.0h.1M94.7 141.8h.1M95.8 186.3h.1M77.7 159.1h.1M93.4 148.9h.1M120.7 162.9h.1M80.5 152.4h.1M121.0 162.6h.1M71.4 161.7h.1M59.7 170.3h.1M82.5 150.9h.1M106.6 182.4h.1M70.5 188.9h.1M106.6 148.0h.1M94.2 161.6h.1M96.9 169.2h.1M103.9 140.5h.1M105.1 151.3h.1M88.9 153.4h.1M72.1 164.9h.1M84.0 154.9h.1M104.0 168.5h.1M83.4 187.8h.1M114.1 165.8h.1M52.0 179.6h.1M81.4 167.6h.1M101.4 170.9h.1M85.3 187.5h.1M78.4 156.7h.1M72.1 182.6h.1M55.7 183.0h.1M100.4 159.1h.1M71.4 179.7h.1M85.0 166.0h.1M86.4 153.1h.1M61.9 168.2h.1M67.4 182.0h.1M107.3 172.8h.1M52.8 176.3h.1M110.9 146.5h.1M96.9 189.9h.1M101.7 141.5h.1M71.8 187.8h.1M61.6 169.6h.1M80.4 143.0h.1M95.3 136.1h.1M91.9 177.4h.1M81.7 152.1h.1M93.7 162.5h.1M117.7 155.7h.1M55.0 174.8h.1M61.7 170.9h.1M87.0 187.4h.1M90.5 170.3h.1M69.7 166.2h.1M69.1 177.9h.1M87.8 141.4h.1M67.7 155.5h.1M103.4 144.1h.1M101.7 172.3h.1M57.1 173.0h.1M93.2 147.6h.1M113.3 161.9h.1M74.0 180.7h.1M53.1 176.4h.1M118.7 173.8h.1M120.2 172.9h.1M95.4 154.5h.1M94.6 154.1h.1M78.4 141.6h.1M110.1 171.9h.1M108.2 159.2h.1M111.5 164.1h.1M93.1 167.4h.1M103.6 156.9h.1M114.2 162.0h.1M84.4 186.2h.1M95.0 158.9h.1M84.1 139.4h.1M77.6 156.3h.1M67.7 162.0h.1M77.2 189.0h.1M99.9 173.4h.1M84.5 189.5h.1M59.4 173.1h.1M71.7 173.4h.1M102.9 143.2h.1M79.5 191.1h.1M76.9 152.0h.1M84.3 150.3h.1M103.1 176.0h.1M98.8 189.2h.1M96.9 159.0h.1M55.3 179.6h.1M87.9 154.2h.1M114.9 162.6h.1M69.2 157.6h.1M63.8 163.6h.1M79.6 165.0h.1M116.5 168.9h.1M85.6 167.3h.1M77.8 170.5h.1M102.6 187.5h.1M72.9 160.1h.1M109.8 146.8h.1M57.2 179.2h.1M109.3 152.0h.1M81.5 167.7h.1M80.9 152.1h.1M104.5 166.4h.1M114.7 172.2h.1M105.0 167.5h.1M82.4 181.9h.1M102.8 175.0h.1M70.0 181.6h.1M78.2 141.2h.1M69.7 173.5h.1M105.3 166.5h.1M94.5 147.2h.1M81.5 155.0h.1M92.6 182.5h.1M102.7 139.1h.1M88.7 143.6h.1M101.4 159.9h.1M116.1 160.8h.1M81.9 159.6h.1M88.9 190.9h.1M93.4 139.6h.1M108.9 158.3h.1M85.3 185.7h.1M78.9 146.3h.1M91.0 154.6h.1M104.4 147.8h.1M76.0 148.2h.1M111.4 170.1h.1M79.5 142.0h.1M110.1 162.5h.1M58.0 176.0h.1M107.7 152.7h.1M99.6 184.6h.1M95.3 180.9h.1M87.4 168.2h.1M73.2 156.2h.1M84.9 175.1h.1M79.4 191.7h.1M100.3 173.2h.1M89.2 180.8h.1M76.8 168.6h.1M99.3 164.4h.1M92.3 178.5h.1M101.8 151.7h.1M104.6 173.2h.1M99.9 183.1h.1M103.5 169.7h.1M65.8 164.1h.1M120.3 165.7h.1M78.7 144.0h.1M97.4 186.8h.1M115.7 169.8h.1M100.0 166.3h.1M101.9 155.6h.1M72.7 149.3h.1M95.2 186.6h.1M62.9 171.0h.1M105.5 146.8h.1M102.8 158.2h.1M81.2 164.8h.1M115.3 151.4h.1M71.0 169.3h.1M91.0 169.2h.1M93.3 171.8h.1M100.1 176.7h.1M73.6 183.8h.1M96.9 188.4h.1M67.3 174.8h.1M110.8 161.7h.1M61.8 170.0h.1M58.5 178.4h.1M103.3 181.8h.1M108.1 175.7h.1M77.6 160.7h.1M99.4 177.5h.1M89.6 155.7h.1M59.4 168.8h.1M77.6 174.0h.1M86.2 190.5h.1M105.0 176.2h.1M85.1 154.5h.1M78.2 150.7h.1M86.5 174.8h.1M107.1 167.6h.1M72.0 153.4h.1M111.3 164.2h.1M67.9 172.9h.1M121.0 165.5h.1M78.5 188.8h.1M105.5 154.9h.1M83.6 156.2h.1M87.7 136.6h.1M66.5 191.2h.1M82.5 161.4h.1M118.9 174.2h.1M87.1 136.6h.1M78.9 179.6h.1M81.9 168.6h.1M115.2 171.7h.1M96.2 135.6h.1M52.7 179.1h.1M80.4 185.3h.1M104.8 186.3h.1M61.5 179.7h.1M81.0 191.0h.1M81.0 149.5h.1M84.4 150.5h.1M98.4 140.8h.1M93.6 141.6h.1M67.8 188.0h.1M70.0 178.1h.1M77.5 179.4h.1M61.8 164.2h.1M96.8 155.7h.1M77.2 161.8h.1M92.4 190.7h.1M68.1 167.2h.1M69.7 165.8h.1M103.0 141.4h.1M85.2 175.3h.1M51.6 179.2h.1M80.8 163.3h.1M94.4 180.4h.1M72.2 160.1h.1M97.6 188.2h.1M77.3 164.9h.1M82.9 177.1h.1M88.6 156.5h.1M90.2 182.6h.1M86.1 167.0h.1M65.7 160.4h.1M70.6 179.9h.1M103.7 149.0h.1M110.0 170.5h.1M78.6 170.7h.1M113.3 159.5h.1M103.6 166.7h.1M109.6 162.8h.1M92.9 140.5h.1M102.3 169.7h.1M94.5 146.6h.1M55.6 174.0h.1M83.7 171.9h.1M114.4 176.2h.1M55.9 171.6h.1M104.6 148.8h.1M104.9 164.0h.1M115.1 161.1h.1M69.7 189.5h.1M81.2 170.3h.1M97.3 143.8h.1M99.9 160.0h.1M91.8 187.5h.1M86.1 165.2h.1M115.0 166.4h.1M98.1 158.3h.1M106.8 183.0h.1M69.4 154.7h.1M95.7 171.4h.1M105.7 153.4h.1M58.3 170.9h.1M111.0 168.0h.1M78.3 171.2h.1M102.5 148.9h.1M80.0 153.0h.1M102.0 157.8h.1M114.7 163.5h.1M91.2 150.7h.1M84.1 139.6h.1M89.2 138.5h.1M121.2 165.6h.1M82.1 149.6h.1M90.2 191.1h.1M81.4 145.9h.1M87.6 187.9h.1M78.1 171.0h.1M116.3 152.8h.1M108.7 164.8h.1M117.8 161.1h.1M82.5 187.8h.1M91.8 163.1h.1M71.2 177.6h.1M69.2 161.4h.1M104.9 169.3h.1M100.4 176.7h.1M95.1 184.3h.1M62.6 174.9h.1M58.5 167.9h.1M68.9 154.6h.1M54.7 176.2h.1M59.7 178.7h.1M74.9 168.5h.1M96.4 162.4h.1M71.1 153.3h.1M80.9 158.0h.1M97.6 178.3h.1M111.7 172.7h.1M80.9 183.1h.1M99.0 153.6h.1M103.0 163.4h.1M101.6 169.9h.1M107.6 142.9h.1M107.2 179.2h.1M89.1 161.8h.1M67.9 182.6h.1M97.3 156.3h.1M96.8 147.1h.1M97.7 167.9h.1M103.9 163.3h.1M81.9 151.6h.1M103.3 155.6h.1M93.4 178.4h.1M82.6 174.1h.1M83.6 159.5h.1M108.1 161.7h.1M88.1 135.0h.1M107.5 178.9h.1M95.3 182.9h.1M94.7 175.9h.1M111.5 170.0h.1M72.3 176.6h.1M78.6 143.3h.1M100.0 146.3h.1M79.6 160.2h.1M83.4 178.9h.1M100.3 184.4h.1M99.6 178.7h.1M107.4 158.1h.1M97.9 172.5h.1M113.8 175.7h.1M82.5 144.8h.1M74.3 148.3h.1M99.5 179.0h.1M64.7 165.1h.1M110.7 155.1h.1M57.7 169.4h.1M90.1 190.2h.1M110.3 152.8h.1M104.8 161.8h.1M108.1 160.2h.1M116.3 169.5h.1M89.2 143.6h.1M81.3 159.6h.1M109.5 147.1h.1M72.0 181.8h.1M66.6 172.9h.1M93.3 139.1h.1M102.9 157.6h.1M73.8 184.2h.1M106.4 151.8h.1M99.2 140.8h.1M87.9 138.4h.1M96.6 187.7h.1M96.2 135.9h.1M87.5 161.3h.1M82.5 142.4h.1M70.8 160.1h.1M56.1 173.4h.1M75.3 145.9h.1M99.5 160.8h.1M58.0 184.5h.1M74.3 174.1h.1M83.2 185.1h.1M109.4 163.2h.1M75.7 163.5h.1M111.1 167.2h.1M83.1 172.4h.1M94.7 157.5h.1M81.3 141.3h.1M82.2 185.5h.1M72.8 155.1h.1M93.9 168.5h.1M58.7 178.2h.1M56.8 170.6h.1M71.2 172.4h.1M100.3 163.7h.1M95.0 183.7h.1M63.6 161.6h.1M73.7 170.5h.1M58.9 185.9h.1M77.3 179.9h.1M78.7 184.2h.1M104.1 176.6h.1M83.5 150.0h.1M117.3 157.3h.1M69.2 170.2h.1M82.1 169.8h.1M83.3 150.5h.1M53.5 181.9h.1M97.9 147.9h.1M86.5 167.9h.1M86.8 186.8h.1M106.4 151.6h.1M75.1 169.7h.1M62.5 188.8h.1M70.4 164.6h.1M66.7 160.5h.1M64.6 191.8h.1M73.2 148.2h.1M106.6 148.6h.1M102.2 162.6h.1M102.9 176.8h.1M115.8 166.5h.1M78.3 167.4h.1M69.5 160.6h.1M68.6 155.3h.1M119.0 162.3h.1M110.5 177.6h.1M93.1 152.6h.1M78.9 152.3h.1M96.1 184.1h.1M107.2 151.0h.1M92.6 147.0h.1M98.2 168.1h.1M71.0 176.8h.1M65.7 188.0h.1M59.5 168.5h.1M101.1 176.9h.1M85.6 185.1h.1M95.7 174.4h.1M84.1 165.8h.1M57.8 177.4h.1M75.6 161.6h.1M88.1 183.2h.1M72.5 166.6h.1M94.0 172.3h.1M73.2 150.0h.1M84.4 169.1h.1M96.8 141.4h.1M82.7 166.7h.1M86.5 150.9h.1M76.0 174.6h.1M114.6 159.7h.1M69.3 161.9h.1M85.5 142.3h.1M98.4 176.2h.1M84.9 165.3h.1M94.6 136.1h.1M86.9 172.7h.1M74.5 174.0h.1M77.2 170.0h.1M94.7 173.2h.1M116.8 175.4h.1M101.4 175.2h.1M67.4 169.9h.1M95.1 137.1h.1M104.6 146.9h.1M86.0 164.5h.1M102.3 178.8h.1M84.3 189.1h.1M82.5 167.0h.1M57.0 179.5h.1M97.3 165.5h.1M107.1 184.4h.1M94.8 174.9h.1M81.3 187.6h.1M74.7 179.1h.1M88.8 173.0h.1M96.3 184.7h.1M86.1 162.7h.1M97.7 166.8h.1M73.7 163.1h.1M72.2 181.6h.1M68.2 173.0h.1M91.4 186.6h.1M84.9 153.0h.1M69.4 155.0h.1M76.2 148.3h.1M71.9 170.7h.1M85.0 140.5h.1M88.2 149.4h.1M61.2 180.0h.1M105.5 165.6h.1M113.1 152.3h.1M114.6 158.6h.1M103.4 181.5h.1M84.1 187.3h.1M121.2 166.3h.1M81.3 164.3h.1M83.2 151.9h.1M118.4 161.6h.1M72.9 179.5h.1M68.4 158.5h.1M88.2 173.4h.1M98.8 164.4h.1M99.0 153.5h.1M86.0 145.9h.1M111.6 162.1h.1M114.3 167.7h.1M71.7 175.7h.1M117.6 172.8h.1M110.5 168.6h.1M63.9 159.9h.1M86.0 179.9h.1M60.5 189.6h.1M112.5 162.1h.1M114.0 151.1h.1M117.4 176.5h.1M97.6 187.3h.1M75.7 153.9h.1M87.7 155.6h.1M70.0 157.9h.1M118.3 168.8h.1M103.6 178.1h.1M94.7 161.7h.1M102.3 158.8h.1M75.8 157.9h.1M70.8 179.8h.1M86.0 143.6h.1M66.7 171.3h.1M76.5 151.1h.1M72.5 169.5h.1M86.8 162.4h.1M99.4 161.5h.1M118.3 159.5h.1M95.2 168.4h.1M107.1 175.6h.1M99.9 153.0h.1M76.4 159.3h.1M99.1 187.2h.1M100.8 146.5h.1M92.3 171.6h.1M71.4 186.1h.1M94.4 175.5h.1M60.9 182.8h.1M71.4 170.1h.1M103.4 152.6h.1M69.9 153.1h.1M84.5 166.8h.1M97.6 149.0h.1M92.4 168.9h.1M120.5 170.3h.1M86.3 158.5h.1M84.5 155.5h.1M105.0 167.6h.1M59.7 190.1h.1M88.4 177.8h.1M89.9 168.3h.1M92.0 140.3h.1M60.3 176.8h.1M109.0 177.8h.1M105.3 156.4h.1M60.4 178.5h.1M66.3 173.1h.1M100.5 149.7h.1M107.2 168.3h.1M103.0 159.3h.1M92.3 151.4h.1M67.4 166.0h.1M94.2 187.3h.1M93.9 163.1h.1M97.3 170.7h.1M80.0 149.3h.1M99.5 156.4h.1M76.5 174.1h.1M97.7 162.5h.1M109.0 152.8h.1M76.0 178.0h.1M99.3 158.7h.1M89.1 184.3h.1M108.4 165.1h.1M98.2 171.5h.1M78.7 140.9h.1M99.6 137.7h.1M64.6 189.7h.1M86.4 178.2h.1M75.6 147.9h.1M77.2 191.7h.1M64.6 187.1h.1M113.8 173.8h.1M69.9 176.7h.1M115.3 168.6h.1M66.6 169.6h.1M119.0 168.5h.1M95.8 136.3h.1M69.3 162.7h.1M99.0 152.3h.1M92.4 164.7h.1M107.1 167.6h.1M96.4 166.9h.1M59.1 184.8h.1M114.6 169.6h.1M111.9 175.0h.1M105.4 175.5h.1M84.4 149.5h.1M76.9 188.9h.1M83.9 145.9h.1M102.9 156.4h.1M84.7 174.0h.1M70.4 168.7h.1M89.8 158.8h.1M73.5 191.6h.1M76.7 183.0h.1M99.3 164.4h.1M82.2 137.9h.1M88.2 148.6h.1M105.9 149.3h.1M117.1 161.4h.1M113.9 161.0h.1M89.5 148.8h.1M104.9 155.3h.1M113.8 175.4h.1M70.1 158.2h.1M77.3 168.0h.1M100.0 174.1h.1M107.2 160.7h.1M86.2 189.1h.1M90.2 168.9h.1M72.9 172.8h.1M85.7 189.4h.1M109.8 166.5h.1M61.2 177.6h.1M95.1 141.2h.1M110.3 172.0h.1M113.4 176.5h.1M102.9 149.3h.1M81.1 156.0h.1M78.9 187.5h.1M82.0 180.8h.1M95.8 138.4h.1M66.0 167.7h.1M107.1 147.3h.1M68.8 155.8h.1M83.6 158.4h.1M116.8 169.5h.1M70.8 153.9h.1M87.1 143.0h.1M97.7 184.8h.1M114.9 168.9h.1M78.3 166.6h.1M90.5 143.9h.1M89.4 162.9h.1M65.0 159.7h.1M110.5 171.5h.1M74.4 147.6h.1M95.8 166.2h.1M72.2 161.4h.1M79.9 170.6h.1M113.5 155.6h.1M89.3 166.8h.1M98.4 147.9h.1M68.6 188.1h.1M61.3 173.8h.1M69.5 162.6h.1M83.1 147.7h.1M63.5 190.2h.1M103.5 155.5h.1M64.9 179.5h.1M101.3 157.0h.1M121.9 168.8h.1M114.6 172.8h.1M101.2 142.6h.1M116.7 172.0h.1M55.5 175.0h.1M101.9 159.5h.1M95.9 188.3h.1M86.5 137.9h.1M61.3 189.9h.1M99.6 158.9h.1M83.9 147.3h.1M105.3 179.8h.1M102.6 158.9h.1M85.9 156.9h.1M84.1 152.8h.1M84.3 190.5h.1M98.7 182.0h.1M75.5 186.1h.1M95.4 156.0h.1M84.2 166.0h.1M112.1 170.8h.1M107.7 156.7h.1M64.0 181.0h.1M92.0 146.8h.1M114.5 162.6h.1M74.2 165.7h.1M89.8 150.4h.1M89.0 190.7h.1M100.6 149.2h.1M99.6 169.9h.1M77.2 173.2h.1M77.7 179.7h.1M78.6 182.3h.1M80.6 147.7h.1M86.4 141.3h.1M94.0 151.3h.1M98.6 149.8h.1M105.0 153.6h.1M112.9 158.6h.1M100.2 177.9h.1M101.0 178.1h.1M77.2 190.2h.1M73.0 159.6h.1M75.2 176.5h.1M83.2 171.7h.1M87.5 154.8h.1M106.7 163.5h.1M104.2 178.0h.1M61.3 182.2h.1M104.1 181.8h.1M72.5 156.3h.1M103.2 150.9h.1M82.6 192.2h.1M60.2 189.3h.1M82.1 143.6h.1M116.7 167.3h.1M110.9 162.6h.1M86.5 190.1h.1M111.9 168.4h.1M105.9 169.6h.1M104.4 165.0h.1M116.7 164.7h.1M86.0 160.5h.1M95.8 169.9h.1M85.7 187.0h.1M114.1 179.8h.1M102.6 176.1h.1M65.0 162.5h.1M108.9 182.9h.1M63.6 171.7h.1M101.4 154.5h.1M93.6 143.1h.1M97.8 179.8h.1M106.6 166.8h.1M69.9 157.6h.1M119.1 174.0h.1M91.0 174.3h.1M112.8 171.1h.1M81.4 156.7h.1M61.8 181.9h.1M96.7 153.8h.1M100.4 149.8h.1M104.0 166.6h.1M92.6 136.8h.1M105.1 150.9h.1M102.4 140.4h.1M89.9 153.9h.1M84.5 150.6h.1M80.8 140.6h.1M81.5 163.5h.1M101.6 183.5h.1M112.5 153.9h.1M98.3 189.0h.1M95.2 145.2h.1M85.2 152.8h.1M85.1 169.9h.1M87.2 181.5h.1M87.1 144.9h.1M98.7 149.5h.1M85.5 135.4h.1M76.6 190.4h.1M87.2 155.3h.1M83.5 174.8h.1M86.8 157.5h.1M92.3 149.8h.1M99.5 158.6h.1M101.2 154.1h.1M96.4 145.1h.1M85.5 162.6h.1M83.7 178.8h.1M108.7 183.5h.1M60.9 180.4h.1M60.8 187.3h.1M93.3 175.1h.1M88.7 166.3h.1M87.7 180.7h.1M84.5 135.1h.1M96.3 161.9h.1M104.1 182.8h.1M103.1 174.6h.1M74.7 176.5h.1M96.5 146.5h.1M112.8 161.5h.1M88.8 145.2h.1M110.1 161.5h.1M103.8 183.4h.1M87.9 168.1h.1M83.9 147.6h.1M84.4 138.2h.1M82.2 153.7h.1M68.1 179.4h.1M92.4 188.1h.1M94.9 179.2h.1M81.4 144.5h.1M78.4 167.1h.1M119.8 172.0h.1M111.0 182.9h.1M81.5 163.5h.1M110.3 176.3h.1M79.4 144.7h.1M103.0 150.8h.1M99.8 171.8h.1M117.6 168.4h.1M85.4 185.9h.1M60.9 168.4h.1M52.9 176.9h.1M80.3 182.1h.1M72.8 149.1h.1M69.1 153.6h.1M83.2 164.9h.1M60.5 187.0h.1M71.5 165.4h.1M72.7 186.5h.1M117.4 167.3h.1M101.1 167.0h.1M70.9 157.0h.1M109.6 156.4h.1M84.2 143.4h.1M101.7 158.2h.1M78.4 179.3h.1M96.7 177.2h.1M114.0 163.6h.1M79.9 141.2h.1M71.5 168.3h.1M116.1 172.7h.1M119.9 157.6h.1M56.8 187.4h.1M85.9 141.3h.1M113.2 165.1h.1M61.1 176.0h.1M56.0 179.4h.1M72.3 186.3h.1M71.3 177.3h.1M86.2 147.7h.1M85.9 159.0h.1M62.1 165.8h.1M88.8 174.9h.1M75.1 169.9h.1M65.1 164.4h.1M68.0 180.0h.1M89.5 147.0h.1M59.6 186.4h.1M79.4 183.3h.1M104.1 186.9h.1M89.8 153.3h.1M86.6 137.0h.1M99.5 183.2h.1M97.0 181.1h.1M71.7 166.8h.1M62.6 188.9h.1M87.4 143.9h.1M121.0 170.2h.1M66.1 183.6h.1M95.5 170.3h.1M113.4 152.2h.1M70.7 167.3h.1M65.5 174.9h.1M84.9 145.4h.1M92.0 187.6h.1M107.7 183.7h.1M91.3 180.9h.1M74.5 155.3h.1M95.3 167.1h.1M80.8 186.7h.1M99.4 181.5h.1M82.8 168.3h.1M109.7 146.7h.1M64.0 178.1h.1M89.9 163.6h.1M73.1 183.4h.1M71.1 179.6h.1M80.3 142.2h.1M62.0 189.2h.1M69.1 175.8h.1M118.8 160.5h.1M96.6 152.2h.1M101.6 153.7h.1M90.9 144.7h.1M90.8 136.0h.1M91.9 161.5h.1M79.2 177.8h.1M92.1 175.5h.1M82.5 157.2h.1M102.4 144.2h.1M75.3 147.7h.1M65.6 184.6h.1M73.2 177.1h.1M84.3 177.5h.1M58.5 169.2h.1M108.7 150.6h.1M105.7 178.6h.1M57.1 184.9h.1M109.3 159.9h.1M100.5 178.0h.1M107.1 164.4h.1M79.0 191.5h.1M87.0 186.4h.1M113.2 163.4h.1M60.4 169.7h.1M91.4 163.2h.1M96.8 182.1h.1M75.8 178.3h.1M120.4 163.5h.1M107.6 182.4h.1M73.4 170.0h.1M59.8 185.2h.1M91.3 158.3h.1M107.4 159.8h.1M105.1 171.5h.1M86.2 134.2h.1M70.8 180.3h.1M117.7 174.2h.1M78.2 177.7h.1M98.5 167.7h.1M106.8 166.2h.1M89.3 148.8h.1M57.8 170.8h.1M64.7 161.2h.1M69.5 162.0h.1M94.8 145.1h.1M89.7 191.1h.1M110.2 167.8h.1M65.8 185.7h.1M59.3 171.4h.1M98.8 174.9h.1M95.9 150.9h.1M94.0 177.3h.1M53.3 176.4h.1M91.9 153.0h.1M82.6 167.2h.1M65.5 188.5h.1M89.0 156.5h.1M69.3 160.3h.1M53.8 180.4h.1M120.2 168.8h.1M120.6 161.5h.1M116.8 160.7h.1M87.2 135.6h.1M92.3 169.2h.1M79.4 156.1h.1M102.1 174.9h.1M69.2 169.7h.1M100.3 180.2h.1M94.7 152.1h.1M116.1 158.0h.1M97.9 161.6h.1M61.1 163.5h.1M86.4 145.4h.1M115.0 177.3h.1M62.8 170.3h.1M93.5 189.0h.1M61.9 178.0h.1M56.9 182.5h.1M94.8 171.5h.1M103.0 170.7h.1M89.9 164.2h.1M100.0 158.1h.1M83.1 183.6h.1M78.5 176.6h.1M108.2 182.8h.1M67.7 169.5h.1M84.2 168.3h.1M68.5 179.9h.1M106.7 156.2h.1M94.1 159.6h.1M89.2 149.3h.1M75.4 190.2h.1M59.5 184.7h.1M82.5 171.4h.1M93.9 169.3h.1M112.2 148.9h.1M87.6 181.0h.1M92.3 190.9h.1M91.8 168.5h.1M100.5 163.5h.1M58.2 179.8h.1M99.7 170.4h.1M69.3 170.5h.1M89.0 181.7h.1M63.2 170.2h.1M104.9 158.5h.1M87.3 148.4h.1M92.2 167.1h.1M82.7 189.9h.1M61.1 164.9h.1M100.8 144.4h.1M114.3 178.0h.1M99.4 185.7h.1M110.4 168.2h.1M76.7 147.7h.1M81.6 140.7h.1M69.2 191.2h.1M81.1 170.1h.1M89.5 190.3h.1M113.0 177.2h.1M113.3 153.2h.1M94.2 153.1h.1M75.2 177.5h.1M91.7 146.2h.1M60.0 185.4h.1M65.7 163.7h.1M110.5 162.3h.1M84.9 143.2h.1M117.5 169.1h.1M98.5 156.8h.1M101.6 155.9h.1M105.2 184.6h.1M87.6 172.6h.1M117.4 172.0h.1M113.0 177.9h.1M91.6 168.6h.1M79.3 169.1h.1M82.5 185.5h.1M103.4 155.6h.1M96.4 146.2h.1M115.8 165.2h.1M61.5 191.7h.1M65.1 173.7h.1M114.4 173.3h.1M96.7 142.8h.1M73.5 164.4h.1M84.7 158.0h.1M96.9 154.5h.1M98.6 177.5h.1M80.6 140.4h.1M95.5 169.0h.1M85.4 190.9h.1M77.0 164.4h.1M116.4 168.3h.1M85.8 166.8h.1M71.1 184.8h.1M103.3 158.8h.1M53.5 176.5h.1M87.9 155.4h.1M72.1 189.1h.1M89.2 189.9h.1M100.9 147.2h.1M94.2 145.9h.1M83.5 185.6h.1M69.5 182.2h.1M71.0 168.2h.1M89.0 147.3h.1M89.5 149.1h.1M107.6 147.4h.1M106.6 144.7h.1M113.7 171.1h.1M68.9 163.4h.1M74.5 172.7h.1M74.6 166.3h.1M86.2 142.7h.1M110.0 175.5h.1M96.3 176.1h.1M67.9 184.7h.1M115.1 161.5h.1M95.4 175.9h.1M68.1 159.4h.1M111.5 180.8h.1M89.5 145.1h.1M71.6 188.7h.1M71.5 156.9h.1M98.8 188.7h.1M98.1 141.0h.1M75.1 174.8h.1M119.9 172.7h.1M117.4 159.5h.1M84.4 164.1h.1M58.5 171.6h.1M101.7 161.7h.1M92.6 187.3h.1M95.2 174.3h.1M113.8 177.0h.1M83.6 190.2h.1M113.5 171.5h.1M106.5 154.0h.1M63.1 182.0h.1M89.2 184.3h.1M121.1 159.5h.1M63.6 186.6h.1M70.1 172.1h.1M57.9 184.7h.1M104.2 166.3h.1M106.3 141.8h.1M111.2 165.4h.1M78.3 181.7h.1M83.5 136.0h.1M91.0 146.4h.1M80.2 158.3h.1M100.7 171.3h.1M76.0 147.1h.1M92.5 176.5h.1M56.9 171.5h.1M106.9 171.0h.1M81.3 190.2h.1M91.4 165.1h.1M64.4 169.6h.1M84.4 174.9h.1M107.2 180.8h.1M99.6 139.4h.1M91.8 173.0h.1M88.0 149.6h.1M80.4 179.3h.1M87.4 170.1h.1M53.1 176.2h.1M110.5 154.0h.1M94.3 139.2h.1M117.6 158.9h.1M83.6 146.6h.1M80.3 164.5h.1M71.4 175.1h.1M95.0 183.6h.1M95.4 155.8h.1M84.8 184.8h.1M93.9 170.4h.1M105.6 168.8h.1M68.3 188.2h.1M90.2 187.3h.1M89.8 169.4h.1M117.9 159.4h.1M73.3 190.8h.1M112.1 178.5h.1M55.1 183.0h.1M56.8 183.0h.1M59.0 181.5h.1M85.3 158.5h.1M114.6 171.2h.1M82.7 136.2h.1M114.5 178.2h.1M60.9 174.4h.1M70.2 159.5h.1M84.2 175.8h.1M101.5 183.9h.1M115.9 177.6h.1M68.8 179.4h.1M103.2 140.4h.1M63.2 185.1h.1M118.3 158.3h.1M88.5 137.8h.1M56.5 183.9h.1M95.3 148.8h.1M105.4 149.6h.1M54.8 182.2h.1M91.2 155.2h.1M88.4 160.6h.1M89.5 149.3h.1M86.7 190.1h.1M66.0 158.3h.1M83.9 160.2h.1M75.4 170.7h.1M82.8 191.5h.1M77.1 163.4h.1M102.7 148.7h.1M55.7 171.4h.1M121.2 160.4h.1M117.5 163.9h.1M99.3 172.7h.1M105.5 172.0h.1M99.8 175.7h.1M68.9 185.8h.1M94.3 163.2h.1M95.9 153.9h.1M68.1 187.6h.1M93.1 162.9h.1M105.5 141.6h.1M85.2 140.0h.1M82.3 161.2h.1M87.7 188.6h.1M117.7 157.1h.1M87.4 146.6h.1M103.6 184.9h.1M82.3 153.1h.1M105.4 152.3h.1M96.0 138.0h.1M92.0 151.8h.1M98.5 139.7h.1M100.0 149.3h.1M91.9 176.3h.1M101.8 174.3h.1M78.7 154.2h.1M113.9 163.1h.1M82.6 153.6h.1M114.2 157.6h.1M83.1 185.5h.1M104.1 144.4h.1M76.7 153.6h.1M108.0 180.0h.1M75.2 168.7h.1M81.4 176.0h.1M115.6 174.6h.1M76.0 174.5h.1M66.0 179.1h.1M107.8 168.6h.1M104.5 174.5h.1M65.2 187.4h.1M57.3 184.9h.1M102.1 141.8h.1M114.0 175.9h.1M99.3 170.5h.1M92.4 184.0h.1M73.6 184.2h.1M82.1 148.0h.1M86.6 157.0h.1M98.4 138.7h.1M89.5 180.3h.1M77.6 186.0h.1M86.3 190.2h.1M74.8 152.7h.1M62.5 180.3h.1M93.1 189.7h.1M86.3 178.8h.1M62.7 188.6h.1M89.4 187.2h.1M81.2 177.7h.1M55.9 172.3h.1M66.0 176.3h.1M82.9 147.2h.1M87.0 133.9h.1M81.8 146.5h.1M76.6 169.6h.1M103.6 162.0h.1M81.4 150.5h.1M94.3 177.4h.1M101.0 149.3h.1M104.8 166.3h.1M113.1 163.1h.1M114.5 150.4h.1M99.5 173.7h.1M58.9 176.5h.1M57.2 186.8h.1M108.3 185.4h.1M103.6 150.0h.1M93.8 162.5h.1M113.3 168.9h.1M80.2 176.0h.1M106.4 171.1h.1M77.3 172.9h.1M91.6 139.8h.1M87.4 140.1h.1M105.3 168.5h.1M60.8 175.1h.1M103.2 161.6h.1M94.9 180.6h.1M64.3 177.2h.1M100.7 177.8h.1M83.1 147.4h.1M78.0 143.4h.1M98.0 173.7h.1M95.1 180.1h.1M71.4 169.4h.1M107.7 170.8h.1M73.1 152.0h.1M99.6 155.8h.1M65.7 189.6h.1M92.3 187.4h.1M81.6 140.5h.1M93.5 157.7h.1M92.8 143.3h.1M77.6 148.0h.1M86.9 186.1h.1M92.9 178.2h.1M58.1 182.0h.1M86.0 158.2h.1M112.4 148.5h.1M85.1 180.8h.1M69.5 184.5h.1M94.6 156.9h.1M114.8 164.7h.1M113.6 149.6h.1M94.6 155.9h.1M87.6 152.8h.1M73.5 158.1h.1M62.0 183.2h.1M58.1 178.4h.1M85.8 145.6h.1M87.5 135.9h.1M84.1 159.4h.1M97.5 155.8h.1M79.9 184.1h.1M107.7 148.3h.1M89.7 136.1h.1M86.7 134.3h.1M95.8 156.5h.1M117.3 163.5h.1M62.8 178.3h.1M78.8 166.4h.1M102.7 157.3h.1M88.6 136.4h.1M86.4 162.0h.1M112.7 151.9h.1M87.2 151.6h.1M100.9 182.6h.1M107.1 160.1h.1M99.1 173.5h.1M104.0 159.8h.1M77.2 151.3h.1M101.5 157.1h.1M102.6 167.5h.1M114.6 165.4h.1M87.7 174.6h.1M96.1 143.8h.1M89.9 160.5h.1M86.2 162.4h.1M87.1 169.4h.1M70.9 182.5h.1M106.8 153.1h.1M94.3 188.9h.1M56.9 182.7h.1M92.6 184.8h.1M96.0 153.7h.1M57.5 169.4h.1M64.6 182.2h.1M68.4 168.3h.1M64.3 181.9h.1M92.4 138.7h.1M75.0 173.2h.1M72.3 181.8h.1M114.6 156.9h.1M103.6 182.3h.1M100.8 186.6h.1M110.3 179.0h.1M93.5 135.9h.1M90.4 168.9h.1M58.2 182.9h.1" stroke="#ffffff" stroke-opacity="0.4" stroke-width="0.6" stroke-linecap="square" fill="none"/>
<path d="M53.0,178.6 C54.0,178.1 57.2,177.6 60.0,177.2 C62.8,176.8 66.7,176.2 70.0,176.0 C73.3,175.8 77.6,175.7 80.0,175.9 C82.4,176.1 84.5,176.7 84.5,177.2 C84.5,177.7 82.4,178.3 80.0,178.7 C77.6,179.1 73.3,179.5 70.0,179.8 C66.7,180.1 62.7,180.5 60.0,180.6 C57.3,180.7 55.2,180.6 54.0,180.3 C52.8,180.0 52.0,179.1 53.0,178.6 Z" fill="#ffffff" fill-opacity="0.7" />
<path d="M52.4 177.0h.1M60.6 172.4h.1M61.5 169.9h.1M58.5 174.5h.1M53.7 176.2h.1M58.0 177.2h.1M53.1 177.6h.1M57.5 179.4h.1M52.1 176.1h.1M54.1 178.8h.1M61.2 166.9h.1M57.8 171.1h.1M54.4 182.5h.1M61.3 172.9h.1M55.2 172.2h.1M58.7 175.7h.1M61.2 170.2h.1M57.7 174.8h.1M53.1 180.1h.1M62.9 170.9h.1M63.9 167.5h.1M50.9 177.3h.1M54.3 179.3h.1M55.8 179.8h.1M56.7 176.9h.1M61.5 171.6h.1M61.4 166.0h.1M60.4 172.5h.1M58.3 173.8h.1M62.5 165.8h.1M51.3 175.6h.1M62.9 169.1h.1M54.8 178.8h.1M54.7 177.7h.1M60.0 176.8h.1M63.7 163.2h.1M55.4 176.9h.1M57.6 177.7h.1M59.4 176.6h.1M64.8 162.3h.1M63.7 165.3h.1M62.5 171.9h.1M61.9 169.1h.1M59.9 173.5h.1M63.4 167.9h.1M60.0 168.9h.1M63.7 166.2h.1M62.3 169.7h.1M58.2 174.9h.1M59.4 172.1h.1M54.6 177.1h.1M53.8 177.5h.1M55.6 172.0h.1M54.4 182.6h.1M57.4 178.5h.1M58.4 169.6h.1M57.2 171.0h.1M59.2 174.3h.1M52.7 176.0h.1M58.6 173.3h.1M59.7 172.0h.1M54.1 176.1h.1M62.2 168.0h.1M61.6 165.7h.1M60.0 172.6h.1M53.2 174.7h.1M62.5 166.4h.1M64.2 166.4h.1M59.7 171.3h.1M58.7 175.9h.1M53.2 177.2h.1M53.0 180.0h.1M53.9 177.8h.1M59.8 175.3h.1M57.6 170.7h.1M53.1 178.2h.1M60.9 171.2h.1M56.1 175.8h.1M51.7 178.0h.1M63.6 168.1h.1M58.5 176.4h.1M53.4 180.0h.1M56.8 180.1h.1M58.8 177.5h.1M61.5 171.9h.1M58.2 173.6h.1M58.8 176.1h.1M58.4 172.0h.1M61.1 167.5h.1M62.7 170.5h.1M54.4 175.1h.1M54.2 178.2h.1M53.3 181.3h.1M61.7 171.2h.1M59.1 176.1h.1M53.3 180.9h.1M54.2 180.7h.1M57.5 174.3h.1M53.3 181.5h.1M65.6 161.4h.1M63.2 164.1h.1M53.9 178.1h.1M59.9 173.0h.1M58.2 177.5h.1M53.6 174.7h.1M64.2 165.9h.1M51.8 177.3h.1M60.8 169.8h.1M55.4 172.5h.1M58.2 170.5h.1M53.8 176.4h.1M59.9 173.2h.1M54.3 175.9h.1M59.2 176.7h.1M60.4 173.2h.1M62.8 166.8h.1M58.6 172.0h.1M55.4 179.3h.1M59.9 175.0h.1M57.7 179.2h.1" stroke="#ffffff" stroke-opacity="0.6" stroke-width="0.8" stroke-linecap="square" fill="none"/>
<path d="M35.1 178.6h.1M31.6 188.1h.1M31.3 163.5h.1M30.1 158.5h.1M32.9 168.6h.1M31.9 191.1h.1M32.3 165.8h.1M34.6 175.7h.1M30.3 193.6h.1M29.0 158.2h.1M31.3 191.9h.1M34.5 182.3h.1M31.4 164.2h.1M34.6 178.0h.1M29.5 158.2h.1M34.6 182.6h.1M31.5 192.5h.1M28.2 198.0h.1M31.3 161.3h.1M29.5 196.4h.1M29.8 196.1h.1M32.5 187.4h.1M34.4 173.2h.1M34.2 173.2h.1M34.4 179.8h.1M33.8 170.1h.1M32.9 187.2h.1M32.0 164.7h.1M31.6 163.0h.1M33.5 172.1h.1M32.8 191.0h.1M30.8 193.0h.1M28.5 200.1h.1M28.8 157.7h.1M33.2 167.3h.1M27.2 152.6h.1M35.2 176.3h.1M35.0 180.6h.1M35.1 175.5h.1M34.1 183.3h.1M29.2 198.6h.1M33.2 168.5h.1M34.1 172.9h.1M31.9 190.2h.1M35.1 175.3h.1M32.9 167.5h.1M33.2 167.9h.1M33.9 169.6h.1M30.9 164.9h.1M30.1 160.9h.1M28.4 196.3h.1M35.0 178.8h.1M32.3 167.6h.1M29.3 195.1h.1M28.8 196.1h.1M28.6 199.7h.1M29.8 196.9h.1M34.3 182.8h.1M32.1 164.7h.1M34.2 186.6h.1M33.4 185.1h.1M31.8 162.7h.1M29.9 157.9h.1M33.7 170.6h.1M34.7 175.1h.1M32.5 191.9h.1M34.6 177.6h.1M32.2 191.1h.1M31.4 189.0h.1M33.0 168.2h.1M32.5 166.8h.1M34.2 176.6h.1M31.3 161.9h.1M29.6 160.7h.1M28.4 156.9h.1M32.3 189.9h.1M34.2 183.8h.1M35.5 178.2h.1M35.5 180.4h.1M29.6 159.7h.1M35.3 177.3h.1M28.8 199.4h.1M34.2 172.5h.1M33.8 187.2h.1M31.2 164.7h.1M34.4 175.0h.1M33.4 171.9h.1M28.2 156.5h.1M27.9 153.6h.1M27.2 154.2h.1M32.5 165.8h.1M28.9 200.2h.1M31.0 192.5h.1M31.0 161.7h.1M34.5 178.0h.1M29.8 159.2h.1M28.6 157.7h.1M35.7 176.4h.1M31.2 163.0h.1M34.4 176.3h.1M34.4 183.6h.1M31.5 163.1h.1M31.4 192.9h.1M35.3 179.5h.1M35.3 183.1h.1M35.4 176.7h.1M30.2 200.5h.1M31.5 161.4h.1M35.4 175.1h.1M33.2 186.3h.1M33.6 169.3h.1M34.5 176.0h.1M33.2 190.7h.1M32.9 166.2h.1M34.4 181.1h.1M27.5 153.3h.1M33.5 188.1h.1M32.8 163.7h.1M32.8 168.1h.1M33.5 185.2h.1M34.8 176.9h.1M28.2 199.9h.1M31.9 188.8h.1M29.5 160.9h.1M28.7 200.5h.1M27.4 154.0h.1M33.5 183.4h.1M29.3 197.9h.1M29.5 160.4h.1M29.2 198.3h.1M30.8 162.1h.1M34.0 169.5h.1M35.5 179.4h.1M29.6 158.9h.1M31.7 165.6h.1M31.3 192.6h.1M35.6 178.9h.1M34.0 181.4h.1M34.4 185.6h.1M35.4 178.7h.1M33.2 179.5h.1M35.7 174.2h.1M30.0 159.0h.1M34.5 172.4h.1M30.2 160.8h.1M35.2 183.1h.1M29.1 198.6h.1M34.9 174.8h.1M35.1 177.0h.1M33.7 169.2h.1M33.1 172.8h.1M28.2 156.5h.1M29.1 155.7h.1M28.9 200.8h.1M32.1 189.8h.1M33.7 186.2h.1M31.1 192.4h.1M29.0 198.1h.1M35.3 175.0h.1M32.3 167.5h.1M28.7 199.3h.1M31.6 165.6h.1M33.7 169.0h.1M33.6 183.8h.1M33.9 182.6h.1M32.7 166.3h.1M35.1 177.6h.1M34.4 182.0h.1M34.9 174.4h.1M33.3 172.8h.1M32.1 163.7h.1M30.4 198.2h.1M26.7 154.1h.1M32.9 187.4h.1M30.6 195.1h.1M28.9 155.7h.1M31.0 161.9h.1M35.1 179.6h.1M32.8 164.9h.1M34.7 178.3h.1M33.9 185.1h.1M30.0 196.2h.1M31.1 187.4h.1M34.5 178.0h.1M34.0 183.5h.1M33.7 185.2h.1M33.2 186.6h.1M33.5 168.9h.1M29.9 159.5h.1M35.2 180.1h.1M32.5 188.3h.1M32.2 165.8h.1M33.6 172.3h.1M32.8 167.3h.1M32.3 189.1h.1M32.8 189.0h.1M34.2 182.5h.1M31.9 162.9h.1M32.4 168.8h.1M34.4 176.8h.1M34.8 175.1h.1M28.8 156.2h.1M32.4 166.1h.1M35.0 179.4h.1M30.1 196.0h.1M34.3 179.5h.1M35.4 179.3h.1M28.1 154.4h.1M33.7 175.2h.1M28.0 155.0h.1M34.2 173.5h.1M29.9 200.8h.1M30.5 157.3h.1M34.5 185.5h.1M34.3 171.9h.1M29.2 197.5h.1M32.0 166.3h.1M33.1 189.0h.1M32.1 166.3h.1M33.2 190.4h.1M28.4 155.4h.1M33.5 187.6h.1M31.8 166.4h.1M29.3 198.1h.1M33.9 173.8h.1M29.0 197.6h.1M32.4 164.1h.1M34.1 172.6h.1M32.6 189.2h.1M26.4 153.7h.1M33.8 187.0h.1M26.3 152.6h.1M33.0 171.8h.1M34.1 183.7h.1M26.8 153.3h.1M31.4 163.5h.1M33.9 171.3h.1M30.1 161.4h.1M32.3 191.1h.1M30.5 192.3h.1M29.0 198.7h.1M32.2 167.7h.1M29.9 197.7h.1M29.9 195.4h.1M34.4 176.7h.1M29.1 157.3h.1M29.3 156.5h.1M32.1 164.3h.1M34.7 179.4h.1M32.3 189.4h.1M34.3 171.5h.1M32.3 165.7h.1M33.9 181.3h.1M30.2 161.6h.1M33.6 168.3h.1M30.3 194.9h.1M31.8 163.4h.1M34.2 173.4h.1M30.6 163.2h.1M29.7 159.9h.1M33.7 183.5h.1M34.6 182.0h.1M34.5 175.1h.1M29.0 196.4h.1M30.0 194.5h.1M34.9 182.6h.1M33.4 172.7h.1M28.1 153.5h.1M34.8 177.3h.1M29.4 194.9h.1M31.7 161.6h.1M28.5 154.5h.1M33.1 168.9h.1M34.8 176.5h.1M32.3 189.9h.1M28.9 196.2h.1M31.3 192.2h.1M32.1 166.4h.1M35.7 178.7h.1M31.5 160.9h.1M33.0 183.4h.1M27.0 155.0h.1M28.8 201.0h.1M32.5 189.1h.1M31.9 164.5h.1M31.1 189.1h.1M30.6 195.4h.1M30.1 197.0h.1M34.3 182.7h.1M34.7 180.8h.1M29.3 158.9h.1M31.6 189.4h.1M32.5 166.1h.1M31.1 162.6h.1M27.8 153.6h.1M34.5 174.8h.1M29.6 199.7h.1M32.4 191.3h.1M32.0 164.6h.1M28.8 156.9h.1M25.7 152.4h.1M31.6 166.7h.1M29.2 199.0h.1M32.7 171.5h.1M29.0 199.8h.1M32.7 185.6h.1M35.4 180.4h.1M29.1 197.1h.1M28.8 200.7h.1M28.2 199.1h.1M29.3 197.0h.1M31.3 163.8h.1M33.7 170.7h.1M33.6 173.6h.1M32.7 186.5h.1M28.3 200.0h.1M31.1 193.5h.1M30.2 197.0h.1M35.1 184.8h.1M32.1 163.7h.1M32.4 166.2h.1M27.5 153.9h.1M31.0 160.5h.1M35.0 173.2h.1M30.4 196.1h.1M35.1 180.0h.1M32.0 162.2h.1M30.3 161.0h.1M27.8 153.4h.1M34.3 174.2h.1M36.2 178.6h.1M34.5 177.0h.1M35.4 176.3h.1M34.7 183.7h.1M29.6 158.9h.1M29.4 159.0h.1M32.5 188.4h.1M29.3 156.5h.1M32.7 171.1h.1M32.6 189.9h.1M33.9 171.6h.1M27.1 199.8h.1M30.0 194.3h.1M34.0 186.7h.1M33.7 186.8h.1M34.2 174.8h.1M28.7 197.5h.1M28.7 199.4h.1M35.1 175.2h.1M30.8 194.5h.1M35.2 176.3h.1M29.6 197.7h.1M28.2 199.6h.1M32.8 169.3h.1M32.9 166.9h.1M29.3 201.2h.1M33.5 166.4h.1M29.3 197.9h.1M28.7 155.2h.1M29.0 156.2h.1M29.6 196.3h.1M34.0 176.5h.1M33.0 184.8h.1M32.4 168.3h.1M29.6 199.0h.1M29.1 197.1h.1M28.6 197.1h.1M29.7 200.1h.1M33.9 182.6h.1M30.0 198.7h.1M34.5 177.6h.1M26.8 152.8h.1M33.4 168.0h.1M32.3 189.5h.1M33.4 176.0h.1M34.3 172.2h.1M29.6 159.9h.1M34.3 173.9h.1M32.7 186.5h.1M32.3 190.6h.1M31.2 196.1h.1M35.5 181.2h.1M28.8 196.8h.1M31.6 165.7h.1M34.1 183.5h.1M32.4 170.1h.1M31.8 165.7h.1M32.7 185.0h.1M34.2 174.1h.1M33.8 182.3h.1M34.0 173.3h.1M31.5 160.9h.1M32.3 168.2h.1M30.4 196.3h.1M33.8 175.8h.1M33.2 170.1h.1M34.2 186.6h.1M30.8 196.6h.1M30.6 194.3h.1M30.4 197.7h.1M28.5 200.2h.1M32.8 170.5h.1M34.7 183.4h.1M34.1 180.0h.1M32.8 170.6h.1M28.7 197.8h.1M29.0 196.3h.1M28.0 152.9h.1M35.6 177.8h.1M31.3 162.9h.1M33.8 172.3h.1M31.6 192.4h.1M33.5 174.6h.1M33.9 174.4h.1M34.9 178.2h.1M33.3 186.2h.1M34.4 172.8h.1M28.2 156.6h.1M32.9 188.2h.1M32.5 170.4h.1M31.2 160.6h.1M32.2 188.5h.1M30.4 196.9h.1M29.3 199.9h.1M30.0 157.5h.1M29.1 155.8h.1M30.9 193.7h.1M27.6 156.1h.1M28.1 157.7h.1M34.6 183.8h.1M28.4 159.0h.1M28.2 200.8h.1M26.1 153.5h.1M30.5 196.5h.1M31.6 162.8h.1M28.5 153.9h.1M32.5 166.2h.1M34.7 176.6h.1M28.8 200.2h.1M34.7 182.8h.1M30.3 160.1h.1M28.6 199.2h.1M35.5 177.6h.1M33.4 185.1h.1M29.1 198.1h.1M28.1 155.9h.1M34.4 182.7h.1M34.6 177.3h.1M29.1 158.5h.1M30.6 190.0h.1M32.7 168.8h.1M32.1 165.9h.1M33.5 170.2h.1M35.1 174.5h.1M29.1 156.2h.1M33.6 188.9h.1M31.2 193.5h.1M28.8 158.3h.1M28.9 201.0h.1M28.9 197.3h.1M30.6 193.8h.1M29.2 158.3h.1M35.0 183.5h.1M31.6 190.5h.1M32.3 165.3h.1M34.1 176.5h.1M32.7 165.1h.1M28.4 156.5h.1M34.4 176.5h.1M27.8 154.2h.1M31.0 191.8h.1M35.5 174.7h.1M29.7 196.2h.1M33.9 171.9h.1M29.9 158.1h.1M29.9 161.0h.1M28.8 201.1h.1M30.2 196.6h.1M33.4 167.9h.1M29.9 197.4h.1M33.9 172.3h.1M27.2 155.2h.1M35.8 179.9h.1M32.9 169.5h.1M29.3 197.1h.1M28.2 156.8h.1M34.3 170.9h.1M34.1 170.7h.1M32.0 161.8h.1M34.7 169.7h.1M33.0 186.0h.1M34.4 174.3h.1M34.2 173.0h.1M29.7 198.1h.1M31.8 165.6h.1M34.4 176.5h.1M34.1 176.1h.1M26.8 154.1h.1M27.8 200.2h.1M28.3 155.6h.1M35.5 178.8h.1M35.1 175.4h.1M33.8 172.6h.1M31.9 190.7h.1M32.0 190.3h.1M34.5 180.7h.1M32.8 167.9h.1M33.5 188.7h.1M33.8 185.8h.1M29.3 199.1h.1M31.2 162.8h.1M28.3 200.4h.1M35.6 177.5h.1M28.8 156.6h.1M29.8 198.2h.1M33.8 171.7h.1M30.0 155.9h.1M27.3 153.1h.1M35.5 177.0h.1M29.0 156.0h.1" stroke="#8e4fae" stroke-opacity="0.7" stroke-width="0.8" stroke-linecap="square" fill="none"/>
<path d="M42.4 175.5h.1M34.6 177.3h.1M43.5 180.4h.1M53.8 168.7h.1M38.3 168.7h.1M34.8 176.2h.1M57.1 170.9h.1M51.3 166.2h.1M53.2 172.8h.1M43.1 169.8h.1M41.7 170.4h.1M46.8 174.1h.1M56.1 167.4h.1M39.6 174.4h.1M46.4 168.0h.1M36.5 178.8h.1M50.2 175.6h.1M46.3 177.5h.1M47.1 172.6h.1M42.0 166.1h.1M47.0 171.7h.1M37.3 175.0h.1M39.5 175.6h.1M41.2 171.7h.1M56.5 167.8h.1M47.9 168.0h.1M46.6 181.7h.1M44.6 171.4h.1M50.8 172.5h.1M51.5 167.3h.1M49.5 177.3h.1M48.4 168.6h.1M46.4 167.2h.1M36.7 173.4h.1M50.4 167.7h.1M53.2 173.2h.1M42.0 181.3h.1M42.3 176.8h.1M40.6 184.6h.1M36.7 171.3h.1M46.2 178.6h.1M44.3 171.2h.1M47.0 163.2h.1M45.7 163.6h.1M57.1 164.7h.1M37.7 172.0h.1M52.2 163.2h.1M53.8 176.1h.1M51.0 178.4h.1M53.6 174.0h.1M42.5 182.5h.1M55.9 175.0h.1M50.4 175.8h.1M45.7 181.0h.1M54.1 178.4h.1M50.7 177.2h.1M41.6 175.0h.1M48.8 180.4h.1M40.0 167.1h.1M42.3 165.2h.1M52.9 172.3h.1M47.6 180.6h.1M53.4 170.0h.1M42.3 173.7h.1M48.2 167.5h.1M48.3 173.9h.1M57.4 166.3h.1M50.8 161.7h.1M41.3 175.1h.1M48.0 166.0h.1M45.0 178.8h.1M51.1 173.2h.1M39.0 175.6h.1M56.2 168.8h.1M54.0 172.1h.1M48.6 169.7h.1M44.1 173.9h.1M41.2 182.8h.1M45.9 175.0h.1M48.9 162.5h.1M42.7 179.4h.1M49.3 166.1h.1M38.3 181.7h.1M38.6 173.7h.1M45.4 170.6h.1M43.4 176.0h.1M48.9 161.8h.1M51.4 169.2h.1M47.8 176.0h.1M40.6 166.9h.1M48.1 164.9h.1M34.8 175.9h.1M35.5 174.3h.1M50.8 172.8h.1M45.6 170.5h.1M40.0 171.2h.1M34.2 178.2h.1M39.3 176.5h.1M55.6 163.9h.1M38.8 170.6h.1M48.4 161.7h.1M41.9 180.0h.1M39.3 171.5h.1M36.1 168.9h.1M53.3 174.0h.1M38.3 167.2h.1M54.3 177.0h.1M36.4 172.8h.1M39.7 169.5h.1M49.9 163.8h.1M49.7 161.9h.1M55.2 165.6h.1M43.5 177.5h.1M51.2 166.6h.1M37.6 179.5h.1M52.8 164.9h.1M55.3 169.4h.1M45.5 179.7h.1M47.6 167.6h.1M50.7 160.5h.1M53.1 177.1h.1M44.5 182.6h.1M41.0 182.0h.1M40.0 176.2h.1M55.8 163.6h.1M50.8 164.9h.1M49.1 162.5h.1M50.0 179.3h.1M52.8 178.1h.1M44.4 171.7h.1M42.7 179.9h.1M45.7 168.2h.1M39.8 171.4h.1M57.0 166.1h.1M43.2 182.5h.1M47.9 174.2h.1M41.9 170.1h.1M47.4 172.4h.1M49.5 168.8h.1M53.0 163.7h.1M37.0 169.7h.1M47.8 175.6h.1M37.0 176.2h.1M58.3 166.2h.1M44.2 172.7h.1M50.8 174.1h.1M38.9 173.1h.1M37.4 181.3h.1M53.9 170.9h.1M37.2 176.3h.1M53.3 175.2h.1M44.6 168.7h.1M53.4 171.1h.1M53.0 174.6h.1M55.5 170.8h.1M42.1 169.4h.1M48.4 177.8h.1M49.4 161.3h.1M36.8 179.4h.1M49.9 169.7h.1M53.6 177.4h.1M37.9 169.6h.1M39.9 168.1h.1M44.2 165.7h.1M53.7 173.8h.1M56.7 173.2h.1M45.3 176.0h.1M50.8 172.8h.1M47.1 165.5h.1M38.5 178.0h.1M45.9 168.9h.1M46.8 164.7h.1M46.9 172.3h.1M54.5 168.2h.1M51.6 167.2h.1M46.2 170.0h.1M48.6 164.1h.1M54.5 163.9h.1M51.3 164.8h.1M55.2 169.7h.1M45.8 170.4h.1M40.4 183.5h.1M57.7 167.9h.1M44.3 181.6h.1M38.5 180.5h.1M45.0 173.5h.1M55.4 162.9h.1M49.6 173.0h.1M47.1 165.7h.1M57.9 168.7h.1M48.5 165.5h.1M37.4 168.6h.1M45.9 169.1h.1M38.8 179.9h.1M42.1 179.4h.1M38.5 174.5h.1M54.4 171.6h.1M35.9 173.8h.1M52.0 179.4h.1M38.2 181.5h.1M55.1 175.1h.1M47.8 172.9h.1M42.6 177.9h.1M38.6 183.2h.1M56.9 164.4h.1M51.0 177.8h.1M51.1 177.6h.1M55.8 174.1h.1M51.5 175.9h.1M41.5 183.9h.1M40.0 174.5h.1M43.5 179.2h.1M53.6 162.9h.1M47.1 180.0h.1M41.6 165.9h.1M49.8 176.4h.1M50.9 160.4h.1M48.6 170.4h.1M43.0 167.2h.1M43.9 173.7h.1" stroke="#b0a8b8" stroke-opacity="0.35" stroke-width="0.7" stroke-linecap="square" fill="none"/>
<path d="M37.6 175.7h.1M36.5 178.2h.1M38.7 175.5h.1M44.1 171.9h.1M38.5 174.4h.1M44.4 170.9h.1M41.8 172.3h.1M42.0 172.7h.1M37.7 174.3h.1M38.9 174.5h.1M37.2 176.1h.1M41.7 172.6h.1M36.2 176.1h.1M45.9 170.2h.1M37.2 176.0h.1M40.9 173.1h.1M38.2 175.4h.1M36.8 176.1h.1M41.6 172.5h.1M37.1 175.9h.1M39.1 174.3h.1M46.3 170.0h.1M42.8 171.3h.1M35.6 176.3h.1M42.5 172.3h.1M41.0 173.1h.1M37.5 175.5h.1M42.9 171.7h.1M42.2 172.1h.1M37.6 176.2h.1M37.2 176.9h.1M38.7 175.9h.1M39.3 174.1h.1M44.3 170.5h.1M36.7 176.3h.1M39.4 174.1h.1M43.6 169.7h.1M38.2 175.3h.1M35.0 176.4h.1M46.4 169.5h.1M40.5 173.0h.1M42.6 170.4h.1M45.0 170.9h.1M46.4 169.2h.1M42.0 172.1h.1M44.9 169.7h.1M42.4 171.8h.1M38.3 176.2h.1M46.4 168.8h.1M46.0 170.1h.1M43.0 171.7h.1M42.3 172.6h.1M42.7 171.6h.1M38.1 174.8h.1M41.8 173.1h.1M46.0 169.4h.1M40.0 174.5h.1M46.6 169.9h.1M39.0 175.9h.1M38.5 174.9h.1" stroke="#9a5ab0" stroke-opacity="0.4" stroke-width="0.8" stroke-linecap="square" fill="none"/>
<path d="M51.5 186.0h.1M58.4 184.6h.1M34.7 199.6h.1M62.4 183.3h.1M63.3 184.7h.1M38.7 191.8h.1M62.9 184.0h.1M41.2 190.5h.1M34.8 196.6h.1M46.1 188.6h.1M45.4 186.7h.1M31.7 198.9h.1M55.1 184.3h.1M36.5 193.1h.1M30.8 198.5h.1M34.3 193.8h.1M35.7 199.6h.1M66.4 184.7h.1M60.9 182.9h.1M63.9 185.7h.1M32.1 194.5h.1M61.0 183.8h.1M41.2 188.3h.1M38.3 192.9h.1M32.3 199.9h.1M30.6 201.4h.1M31.8 201.7h.1M32.1 200.5h.1M49.7 184.3h.1M33.0 202.3h.1M52.8 185.1h.1M39.1 193.2h.1M42.3 188.6h.1M48.2 186.0h.1M28.7 202.8h.1M45.1 187.1h.1M35.8 195.2h.1M63.2 184.0h.1M44.8 185.1h.1M62.5 186.1h.1M60.4 184.7h.1M34.2 202.0h.1M32.6 199.4h.1M32.9 194.8h.1M44.9 185.4h.1M43.4 187.4h.1M59.3 184.3h.1M60.5 182.7h.1M58.0 186.4h.1M63.9 185.3h.1M32.3 198.9h.1M55.3 186.2h.1M44.8 185.1h.1M32.3 194.5h.1M62.4 184.2h.1M33.2 198.6h.1M41.8 186.9h.1M62.5 185.9h.1M31.7 199.5h.1M55.3 184.6h.1M43.2 187.2h.1M35.2 195.0h.1M62.5 185.4h.1M52.8 187.4h.1M31.9 202.2h.1M34.0 196.8h.1M29.6 200.0h.1M52.8 184.7h.1M33.5 198.0h.1M40.0 187.3h.1M37.5 195.1h.1M29.9 202.8h.1M40.9 189.3h.1M51.3 185.9h.1M50.0 184.9h.1M36.4 193.7h.1M44.1 189.0h.1M64.9 184.1h.1M51.4 183.6h.1M64.3 185.6h.1M39.0 188.2h.1M37.2 192.0h.1M58.4 184.8h.1M57.2 187.9h.1M40.2 189.8h.1M33.1 197.9h.1M46.8 184.5h.1M59.0 185.4h.1M43.0 185.4h.1M39.6 192.1h.1M29.3 200.4h.1M54.2 184.2h.1M31.4 192.8h.1M35.7 192.5h.1M55.1 185.9h.1M56.8 183.4h.1M31.1 200.8h.1M39.0 190.7h.1M65.6 184.5h.1M33.4 194.8h.1M33.4 197.9h.1M53.9 185.0h.1M40.5 190.1h.1M39.1 190.7h.1M54.3 184.2h.1M39.4 189.9h.1M60.0 186.7h.1M43.4 187.8h.1M32.8 198.6h.1M62.5 185.1h.1M58.0 183.3h.1M57.8 182.7h.1M53.0 186.8h.1M45.1 186.7h.1M67.2 185.9h.1M54.8 186.2h.1M45.8 187.5h.1M62.1 186.3h.1M39.4 191.8h.1M41.6 189.0h.1M62.5 186.9h.1M43.4 187.6h.1M32.5 201.6h.1M35.5 194.0h.1M42.3 185.9h.1M32.2 195.2h.1M33.3 202.0h.1M47.6 183.7h.1M42.6 186.8h.1M38.4 190.6h.1M44.1 187.7h.1M29.8 203.5h.1M62.4 185.7h.1M34.7 194.4h.1M60.7 183.0h.1M61.4 184.5h.1M36.7 198.9h.1M49.1 185.9h.1M32.6 198.9h.1M50.6 185.9h.1M41.0 190.1h.1M40.2 186.7h.1M35.0 195.3h.1M58.5 186.2h.1M44.2 185.5h.1M31.7 200.0h.1M37.6 189.3h.1M61.2 184.7h.1M53.0 184.9h.1M31.2 198.1h.1M60.0 184.1h.1M32.3 198.1h.1M63.2 184.6h.1M37.4 194.3h.1M44.2 189.1h.1M64.5 185.2h.1M42.5 185.4h.1M32.3 201.3h.1M51.3 185.7h.1M63.6 184.1h.1M63.7 185.4h.1M43.8 186.9h.1M32.9 200.7h.1M34.5 194.5h.1M63.2 183.7h.1M56.5 185.7h.1M42.0 188.0h.1M46.1 185.3h.1M31.6 199.1h.1M33.6 197.4h.1M60.7 185.3h.1M36.5 193.1h.1M27.7 201.6h.1M59.2 185.2h.1M32.9 199.5h.1M35.6 193.9h.1M56.5 184.4h.1M37.1 191.9h.1M65.7 185.5h.1M36.0 192.1h.1M62.0 184.8h.1M64.6 185.4h.1M34.0 199.1h.1M63.6 185.0h.1M53.9 183.8h.1M45.7 186.7h.1M43.8 185.0h.1M33.9 195.5h.1M48.1 184.7h.1M64.9 186.1h.1M64.7 185.1h.1M36.8 191.4h.1M35.0 201.5h.1M36.6 189.9h.1M32.2 196.8h.1M64.1 184.9h.1M33.9 194.9h.1M44.8 185.9h.1M57.8 185.0h.1M62.5 185.1h.1M61.6 184.7h.1M62.5 184.0h.1M53.2 185.4h.1M35.2 195.1h.1M43.3 188.1h.1M63.6 185.0h.1M42.8 188.8h.1M54.1 184.6h.1M31.1 195.8h.1M42.9 190.2h.1M35.2 198.7h.1M53.5 185.5h.1M59.6 184.1h.1M64.2 186.9h.1M47.4 188.3h.1M45.4 186.3h.1M62.4 184.6h.1M57.1 186.5h.1M37.7 193.3h.1M46.8 185.0h.1M65.4 183.9h.1M65.5 184.3h.1M36.6 195.7h.1M58.3 185.7h.1M65.6 186.3h.1M47.0 185.3h.1M35.9 196.5h.1M44.1 187.4h.1M58.3 185.2h.1M43.2 189.4h.1M49.5 186.1h.1M57.5 185.6h.1M34.0 190.7h.1M32.5 201.8h.1M32.5 202.2h.1M36.7 189.6h.1M51.3 186.5h.1M47.5 184.1h.1M60.8 185.7h.1M46.0 187.0h.1M33.0 197.9h.1M30.7 203.3h.1M63.0 183.5h.1M59.2 185.1h.1M46.3 185.6h.1M64.0 185.2h.1M61.0 184.4h.1M32.5 198.0h.1M32.5 202.1h.1M61.2 185.5h.1M59.0 183.2h.1M61.7 183.8h.1M32.5 194.6h.1M35.3 195.4h.1M46.9 186.1h.1M31.6 203.3h.1M48.2 183.5h.1M34.2 198.9h.1M34.3 193.0h.1M34.5 197.0h.1M35.3 197.1h.1M61.7 185.6h.1M37.7 188.3h.1M51.8 188.4h.1M44.9 186.3h.1M61.6 184.7h.1M58.2 187.1h.1M36.3 201.1h.1M33.3 196.8h.1M33.0 199.0h.1M33.6 196.1h.1M30.2 202.1h.1M62.0 186.9h.1M59.7 184.6h.1M46.7 184.3h.1M62.2 184.1h.1M42.1 186.1h.1M57.4 185.0h.1M63.8 184.3h.1M65.8 185.7h.1M33.3 194.4h.1M36.8 194.4h.1M62.3 185.1h.1M46.2 185.0h.1M38.8 192.3h.1M61.3 185.6h.1M32.6 197.0h.1M39.6 189.2h.1M62.1 185.9h.1M49.3 187.2h.1M48.8 185.3h.1M46.0 188.5h.1M41.1 189.1h.1M60.3 187.0h.1M60.6 187.4h.1M42.8 188.0h.1M61.1 185.7h.1M29.6 201.7h.1M47.6 186.5h.1M34.6 192.5h.1M32.6 197.7h.1M59.1 184.7h.1M41.6 189.9h.1M54.5 185.6h.1M64.0 186.1h.1M43.3 187.2h.1M56.1 184.8h.1M52.8 185.1h.1M43.7 187.1h.1M53.3 184.6h.1M65.7 183.7h.1M58.6 184.7h.1M50.8 186.7h.1M44.0 184.4h.1M31.5 198.3h.1M47.8 186.1h.1M35.8 193.5h.1M60.4 186.0h.1M36.4 194.3h.1M57.6 184.7h.1M44.9 184.3h.1M52.8 185.1h.1M45.4 187.7h.1M35.7 194.2h.1M31.9 200.2h.1M35.9 192.7h.1M52.7 185.1h.1M34.3 195.1h.1M63.1 183.7h.1M64.8 183.7h.1M62.7 182.9h.1M43.6 186.4h.1M56.2 184.4h.1M41.6 186.9h.1M54.8 184.8h.1M33.0 194.0h.1M33.2 202.6h.1M37.7 191.9h.1M65.7 184.0h.1M59.7 182.9h.1M34.7 198.0h.1M44.3 183.5h.1M63.1 184.1h.1M34.6 198.9h.1M36.9 192.9h.1M58.4 186.9h.1M40.3 190.9h.1M52.6 185.2h.1M28.2 201.9h.1M49.1 189.2h.1M41.4 187.9h.1M33.2 198.0h.1M54.1 187.2h.1M32.4 201.1h.1M31.3 200.1h.1M62.4 184.6h.1M50.0 185.3h.1M45.7 184.7h.1M42.1 189.3h.1M62.8 183.7h.1M41.2 186.7h.1M42.3 185.5h.1M38.0 192.7h.1M48.0 183.8h.1M57.3 184.9h.1M52.3 184.9h.1M63.8 183.2h.1M62.8 184.3h.1M53.7 186.5h.1M47.9 187.4h.1M32.7 201.7h.1M33.5 191.4h.1M32.5 196.1h.1M34.7 197.0h.1M57.2 185.4h.1M41.7 186.6h.1M42.8 189.1h.1M43.4 185.8h.1M59.4 184.6h.1M62.7 185.5h.1M62.2 186.5h.1M38.3 192.2h.1M59.5 184.0h.1M39.1 193.0h.1M34.3 199.7h.1M33.3 198.5h.1M40.4 189.0h.1M41.9 188.3h.1M30.5 201.4h.1M44.5 186.9h.1M34.3 194.7h.1M66.1 183.9h.1M63.8 183.1h.1M36.2 192.2h.1M66.1 183.7h.1M37.9 192.9h.1M49.5 185.0h.1M62.3 186.4h.1M61.5 186.1h.1M59.4 184.4h.1M56.1 185.7h.1M63.4 185.5h.1M61.0 184.2h.1M63.0 186.1h.1M53.3 183.9h.1M45.5 185.9h.1M62.7 184.1h.1M58.0 184.2h.1M40.3 190.8h.1M47.3 187.0h.1M47.6 187.1h.1M33.0 197.0h.1M38.1 191.1h.1M56.3 184.6h.1M60.7 183.9h.1M48.9 186.6h.1M36.2 192.0h.1M42.6 187.4h.1M42.4 188.5h.1M39.9 188.4h.1M33.7 193.1h.1M49.7 185.9h.1M34.0 196.8h.1M54.3 186.0h.1M53.2 182.7h.1M34.9 198.7h.1M51.8 184.5h.1M35.4 192.0h.1M45.6 183.8h.1M58.2 182.3h.1M65.2 184.4h.1M33.6 197.1h.1M39.3 190.0h.1M45.8 188.5h.1M49.6 185.1h.1M58.0 186.2h.1M32.5 199.6h.1M55.5 184.1h.1M62.5 184.7h.1M58.2 187.1h.1M49.8 183.8h.1M38.9 191.2h.1M42.9 186.3h.1M37.1 192.3h.1M44.8 184.8h.1M31.6 197.5h.1M54.1 184.8h.1M63.6 182.3h.1M40.5 187.6h.1M60.8 185.4h.1M34.7 192.7h.1M56.9 184.3h.1M43.6 187.4h.1M59.7 184.7h.1M65.5 183.8h.1M63.3 184.6h.1M62.3 186.1h.1M39.5 189.5h.1M30.1 199.5h.1M32.9 196.5h.1M60.8 185.8h.1M63.1 183.5h.1M32.7 196.1h.1M64.4 185.7h.1M48.6 186.0h.1M55.9 184.8h.1M49.7 186.8h.1M61.3 185.4h.1M62.4 183.3h.1M50.4 189.2h.1M42.8 187.8h.1M44.4 188.7h.1M56.8 185.4h.1M33.4 196.4h.1M63.3 184.7h.1M57.9 183.9h.1M40.0 188.9h.1M49.5 184.3h.1M48.4 184.6h.1M33.6 202.3h.1M34.2 196.4h.1M41.2 189.2h.1M59.4 183.9h.1M62.3 184.1h.1M60.1 183.9h.1M47.2 187.1h.1M30.7 203.0h.1M33.1 197.8h.1M41.5 187.7h.1M40.3 188.4h.1M33.4 198.3h.1M52.3 184.7h.1M63.1 182.8h.1M44.5 185.2h.1M37.7 192.4h.1M47.8 185.7h.1M49.6 186.5h.1M62.8 183.5h.1M33.1 197.5h.1M32.5 200.8h.1M58.6 183.7h.1M49.7 187.6h.1M44.8 186.3h.1M63.7 185.3h.1M42.9 188.0h.1M53.0 185.8h.1M32.2 194.8h.1M38.0 193.7h.1M38.7 187.5h.1M53.3 183.6h.1M46.6 187.1h.1M61.6 183.2h.1M62.8 184.8h.1M63.7 186.3h.1M48.1 185.7h.1M62.5 183.2h.1M55.3 183.7h.1M45.6 185.0h.1M52.0 183.9h.1M57.9 184.7h.1M45.5 186.4h.1M32.1 195.6h.1M62.9 184.6h.1M54.8 184.8h.1M37.3 189.3h.1M63.1 184.3h.1M65.1 183.8h.1M32.3 201.5h.1M38.4 190.7h.1M45.1 187.6h.1M58.7 184.7h.1M54.1 185.6h.1M62.3 185.5h.1M50.9 184.7h.1M46.7 185.1h.1M47.3 185.5h.1M59.4 185.8h.1M50.6 186.9h.1M33.0 200.0h.1M66.3 183.6h.1M36.5 201.7h.1M50.4 184.4h.1M32.4 200.4h.1M38.7 191.7h.1M33.6 196.5h.1M31.8 197.8h.1M64.7 184.2h.1M53.9 185.0h.1M61.5 185.6h.1M38.9 191.4h.1M35.4 194.2h.1M37.6 186.9h.1M37.3 190.6h.1M31.1 203.2h.1M28.8 200.4h.1M59.8 183.3h.1M59.5 185.5h.1M52.1 184.2h.1M44.8 185.8h.1M36.4 196.9h.1M60.8 183.1h.1M35.0 194.6h.1M38.1 189.4h.1M40.1 193.3h.1M61.2 183.5h.1M34.5 193.1h.1M35.3 199.9h.1M55.6 184.4h.1M61.6 183.6h.1M62.4 185.4h.1M57.4 183.9h.1M58.1 186.1h.1M66.4 185.7h.1M34.2 197.9h.1M49.3 186.1h.1M41.6 185.7h.1M32.8 196.2h.1M45.9 186.1h.1M36.9 192.9h.1M49.7 185.4h.1M58.7 184.2h.1M59.6 185.7h.1M48.9 185.6h.1M44.4 186.0h.1M33.2 201.7h.1M40.2 191.1h.1M34.1 198.4h.1M50.1 185.1h.1M39.5 191.8h.1M33.3 199.1h.1M51.0 186.3h.1M36.4 190.9h.1M46.2 185.4h.1M47.5 185.3h.1M61.2 184.1h.1M63.1 184.2h.1M34.3 198.0h.1M62.9 182.4h.1M58.9 184.4h.1M53.8 185.0h.1M34.8 193.4h.1M55.8 183.5h.1M64.1 183.6h.1M60.3 183.9h.1M59.4 185.3h.1M55.3 184.4h.1M63.3 185.6h.1M48.8 186.5h.1M67.3 184.6h.1M57.4 184.5h.1M40.7 189.6h.1M35.0 195.1h.1M57.3 184.5h.1M44.3 187.7h.1M55.7 186.3h.1M45.8 187.7h.1M56.4 186.5h.1M38.0 197.1h.1M57.1 184.0h.1M56.8 184.9h.1M57.7 185.3h.1M35.4 194.3h.1M44.0 187.9h.1M41.1 188.3h.1M39.0 193.5h.1M56.2 184.4h.1M32.2 199.0h.1M63.0 184.7h.1M66.8 185.3h.1M65.2 184.3h.1M34.7 195.7h.1M66.9 185.6h.1M53.1 184.8h.1M47.2 187.8h.1M36.3 193.3h.1M61.7 185.5h.1M47.6 185.7h.1M32.2 199.3h.1M37.5 192.0h.1M50.7 186.3h.1M63.6 184.2h.1M58.9 185.4h.1M61.4 184.8h.1M42.2 189.5h.1M60.0 183.0h.1M61.2 186.4h.1M46.1 187.1h.1M54.8 184.7h.1M56.4 184.6h.1M42.3 188.1h.1M36.4 190.9h.1M42.6 187.6h.1M32.9 198.6h.1M39.7 190.5h.1M64.9 183.6h.1M64.0 183.4h.1M31.2 201.3h.1M46.0 184.5h.1M41.5 188.0h.1M52.4 185.6h.1M45.0 185.4h.1M61.5 185.2h.1M62.7 184.4h.1M62.8 184.3h.1M41.3 188.3h.1M30.5 193.0h.1M56.6 186.1h.1M32.3 195.6h.1M59.3 184.5h.1M36.0 193.4h.1M32.0 197.4h.1M32.8 201.8h.1M33.0 194.5h.1M61.0 184.7h.1M52.9 184.5h.1M33.8 201.6h.1M36.6 194.4h.1M55.6 186.2h.1M33.3 198.3h.1M60.8 185.2h.1M68.2 184.5h.1M49.2 185.9h.1M55.3 185.7h.1M62.3 184.6h.1M34.7 203.5h.1M36.6 193.5h.1M33.3 196.0h.1M63.0 184.1h.1M62.5 184.1h.1M31.1 199.3h.1M35.6 193.1h.1M57.0 185.2h.1M49.6 185.8h.1M56.5 184.4h.1M46.6 185.4h.1M45.7 185.3h.1M50.4 185.2h.1M30.3 202.6h.1M33.1 196.2h.1M38.5 188.8h.1M41.0 190.3h.1M45.8 186.6h.1M32.4 195.5h.1M41.9 189.0h.1M63.6 182.1h.1M51.9 184.9h.1M32.2 197.3h.1M33.3 200.0h.1M33.9 194.0h.1M39.7 188.3h.1M41.2 188.5h.1M58.9 185.4h.1M51.1 185.5h.1M59.0 185.1h.1M59.1 185.0h.1M55.7 183.6h.1M34.1 199.8h.1M44.3 187.8h.1M64.9 183.0h.1M40.7 187.2h.1M45.0 185.3h.1M33.7 199.2h.1M38.4 193.6h.1M42.5 186.8h.1M34.5 188.7h.1M46.6 185.6h.1M65.8 185.1h.1M39.1 188.4h.1M39.8 189.8h.1M61.8 185.9h.1M43.5 186.2h.1M51.4 185.3h.1M46.4 185.9h.1M62.5 185.4h.1M47.4 185.3h.1M47.0 184.6h.1M33.0 199.9h.1M64.6 183.2h.1M39.1 189.4h.1M40.5 188.6h.1M43.9 188.7h.1M64.7 185.3h.1M54.7 184.8h.1M39.1 194.4h.1M34.2 202.2h.1M29.6 200.2h.1M65.8 185.6h.1M31.3 195.0h.1M42.6 187.6h.1M31.1 202.3h.1M51.4 185.2h.1M37.2 189.9h.1M32.1 197.8h.1M35.5 194.7h.1M67.6 183.9h.1M61.7 186.4h.1M34.4 191.1h.1M40.8 187.5h.1M61.3 184.1h.1M58.4 183.8h.1M46.0 188.2h.1M32.1 193.6h.1M58.6 184.5h.1M48.4 185.8h.1M51.9 184.9h.1M33.9 194.7h.1M46.7 186.2h.1M39.6 191.7h.1M35.7 197.1h.1M36.8 192.3h.1M43.6 188.1h.1M60.8 185.0h.1M55.7 185.7h.1M66.3 183.8h.1M53.9 185.4h.1M64.4 183.7h.1M35.1 199.9h.1M61.6 184.4h.1M61.7 186.2h.1M47.7 187.0h.1M57.4 183.3h.1M32.7 198.2h.1M57.1 184.3h.1M57.3 185.6h.1M61.5 182.3h.1M49.5 184.8h.1M54.9 186.3h.1M64.4 182.7h.1M51.8 183.8h.1M34.5 201.9h.1M38.3 191.4h.1M46.2 187.7h.1M59.1 183.9h.1M27.8 203.0h.1M63.6 183.2h.1M43.2 187.8h.1M33.3 198.9h.1M49.1 186.3h.1M38.6 195.3h.1M53.2 187.0h.1M33.5 200.0h.1M48.4 185.0h.1M32.6 200.6h.1M46.4 186.1h.1M30.1 196.9h.1M62.0 184.1h.1M40.2 188.3h.1M64.0 183.6h.1M39.6 189.4h.1M48.7 186.1h.1M56.4 185.5h.1M48.6 185.8h.1M34.4 194.7h.1M44.2 185.1h.1M56.9 185.9h.1M42.8 186.5h.1M55.7 186.4h.1M46.0 185.9h.1M52.4 183.4h.1M44.4 185.9h.1M60.9 185.9h.1M48.1 184.9h.1M55.7 186.0h.1M40.2 187.7h.1M42.3 186.2h.1M42.9 186.9h.1M45.9 187.3h.1M37.5 188.8h.1M35.4 192.7h.1M43.5 186.5h.1M56.7 184.5h.1M31.9 194.7h.1M63.6 184.5h.1M46.4 187.3h.1M65.0 184.9h.1M32.0 200.6h.1M61.3 184.6h.1M42.5 188.1h.1M58.4 185.9h.1M26.3 203.5h.1M59.6 185.8h.1M64.6 183.8h.1M65.2 184.7h.1M60.8 184.8h.1M35.6 194.4h.1M35.4 200.9h.1M35.6 195.0h.1M58.8 184.6h.1M50.2 185.9h.1M39.9 188.0h.1M31.3 197.9h.1M38.6 189.6h.1M62.6 184.2h.1M34.3 190.0h.1M32.5 199.5h.1M58.5 185.0h.1M57.9 185.2h.1M65.6 184.6h.1M65.6 186.6h.1M34.6 192.2h.1M31.9 196.3h.1M36.7 191.2h.1M37.6 191.2h.1M42.5 187.4h.1M61.7 184.4h.1M37.0 192.5h.1M32.8 198.2h.1M30.2 199.3h.1M41.1 187.5h.1M48.3 186.7h.1M34.0 192.5h.1M36.0 198.8h.1M37.2 191.9h.1M36.0 194.1h.1M61.5 184.6h.1M41.9 188.9h.1M38.7 193.3h.1M45.5 185.5h.1M38.8 189.3h.1M33.1 199.8h.1M33.0 192.6h.1M48.7 184.3h.1M58.7 184.8h.1M37.8 189.7h.1M31.3 200.0h.1M33.4 191.7h.1M40.4 189.1h.1M56.8 183.4h.1M44.1 185.3h.1M60.4 185.8h.1M64.3 185.0h.1M31.7 202.2h.1M63.6 183.4h.1M58.7 184.7h.1M51.1 187.1h.1M41.4 185.2h.1M31.0 200.8h.1M54.8 186.0h.1M65.0 184.0h.1M43.9 186.1h.1M62.3 183.4h.1M53.2 184.4h.1M49.6 187.1h.1M38.2 191.3h.1M45.2 185.6h.1M63.9 185.1h.1M40.2 187.2h.1M34.1 197.4h.1M33.4 199.9h.1M29.7 201.2h.1M35.7 198.8h.1M32.7 199.0h.1M60.8 184.3h.1M37.3 192.3h.1M35.7 193.5h.1M41.8 187.5h.1M49.1 186.1h.1M62.1 184.4h.1M33.2 195.0h.1M49.5 186.7h.1M33.4 199.1h.1M62.0 184.2h.1M40.8 188.4h.1M42.9 187.1h.1M42.2 189.7h.1M59.5 184.6h.1M60.5 184.7h.1M54.2 184.7h.1M53.7 186.1h.1M33.2 200.6h.1M40.6 186.3h.1M61.1 183.3h.1M29.5 200.5h.1M31.3 201.5h.1M43.6 184.6h.1M57.2 184.4h.1M43.4 187.7h.1M33.7 198.2h.1M40.0 189.2h.1M63.2 186.7h.1M47.2 185.0h.1M49.3 184.8h.1M33.1 198.0h.1M63.3 182.0h.1M52.1 186.0h.1M35.1 194.5h.1M42.5 188.0h.1M66.3 183.5h.1M62.5 184.0h.1M34.2 197.6h.1M64.2 183.4h.1M58.6 184.1h.1M31.7 200.6h.1M44.3 186.8h.1M35.9 195.5h.1M43.8 187.6h.1M31.0 200.4h.1M48.5 186.3h.1M53.8 186.5h.1M31.2 201.9h.1M36.1 193.1h.1M53.9 184.2h.1M62.8 183.8h.1M50.2 185.5h.1M31.6 199.4h.1M43.2 190.6h.1M38.6 191.4h.1M33.8 191.1h.1M31.9 202.4h.1M46.3 184.7h.1M46.2 185.3h.1M32.8 200.4h.1M33.7 194.4h.1M35.5 200.8h.1M52.5 184.2h.1M32.7 195.5h.1M45.7 185.0h.1M37.3 191.8h.1M48.6 184.7h.1M36.3 196.5h.1M58.9 185.3h.1M57.1 184.5h.1M31.0 200.9h.1M38.0 191.6h.1M43.7 187.1h.1M47.2 186.8h.1M34.6 193.4h.1M37.9 189.7h.1M55.1 185.7h.1M32.9 197.1h.1M59.0 185.2h.1M62.6 183.3h.1M31.3 198.3h.1M40.5 187.7h.1M52.4 185.8h.1M63.6 183.5h.1M64.1 184.0h.1M41.7 187.5h.1M54.0 185.5h.1M57.0 185.5h.1M36.3 191.4h.1M49.8 185.9h.1M62.8 184.9h.1M32.3 195.9h.1M37.5 192.3h.1M47.0 185.8h.1M33.1 194.3h.1M61.4 184.8h.1M51.7 184.2h.1M43.4 185.6h.1M29.3 202.3h.1M39.8 190.0h.1M45.6 187.5h.1M65.3 184.0h.1M46.0 186.7h.1M59.9 186.6h.1M55.7 185.6h.1M32.8 198.6h.1M62.8 184.6h.1M30.7 199.1h.1M35.2 193.2h.1M46.9 186.6h.1M39.5 188.9h.1M45.9 188.7h.1M56.7 184.1h.1M30.3 199.6h.1M32.0 195.8h.1M60.6 184.4h.1M63.6 186.3h.1M55.9 183.7h.1M38.5 190.4h.1M64.5 183.4h.1M45.8 187.2h.1M54.8 185.3h.1M35.2 192.3h.1M50.4 185.1h.1M54.9 184.1h.1M45.1 187.1h.1M43.8 187.6h.1M55.2 186.1h.1M45.9 184.7h.1M59.6 184.9h.1M39.5 190.2h.1M52.1 185.3h.1M63.1 184.2h.1M39.9 190.7h.1M31.5 202.6h.1M35.2 192.5h.1M48.8 185.9h.1M55.3 185.1h.1M61.9 183.4h.1M35.4 192.5h.1M49.8 185.3h.1M41.2 188.1h.1M41.3 188.7h.1M39.7 189.9h.1M34.5 196.5h.1M29.6 200.8h.1M40.5 189.7h.1M39.2 189.0h.1M62.2 183.3h.1M40.2 189.6h.1M40.0 190.4h.1M39.9 193.1h.1M54.2 185.3h.1M48.0 185.6h.1M41.5 188.5h.1M32.1 198.2h.1M64.1 186.4h.1M56.1 186.0h.1M64.6 182.9h.1M37.3 194.4h.1M60.1 183.9h.1M32.3 191.9h.1M37.7 192.6h.1M34.0 195.1h.1M59.6 184.0h.1M38.1 194.0h.1M35.7 192.5h.1M42.7 188.1h.1M32.9 198.9h.1M48.9 186.8h.1M63.5 184.5h.1M33.3 196.7h.1M45.2 185.5h.1M58.5 185.5h.1M46.3 186.1h.1M46.3 186.9h.1M60.4 184.4h.1M58.1 185.0h.1M64.5 183.4h.1M62.3 185.7h.1M32.5 202.1h.1M31.9 199.5h.1M51.7 185.0h.1M56.0 186.0h.1M33.4 200.4h.1M43.1 186.8h.1M62.1 185.7h.1M34.6 195.8h.1M62.2 185.0h.1M50.6 184.7h.1M48.4 184.6h.1M62.5 183.8h.1M56.0 183.9h.1M48.0 185.2h.1M50.9 186.2h.1M58.8 185.3h.1M54.0 184.4h.1M55.9 184.7h.1M39.6 189.2h.1M61.2 183.4h.1M33.4 195.5h.1M34.6 201.6h.1M37.7 188.9h.1M56.8 186.4h.1M45.3 185.8h.1M36.8 194.3h.1M55.7 183.7h.1M56.0 184.8h.1M30.9 200.8h.1M45.6 186.6h.1M57.7 184.6h.1M43.0 188.0h.1M47.9 185.5h.1M44.9 186.9h.1M36.7 193.3h.1M43.4 188.3h.1M63.5 184.6h.1M41.8 184.8h.1M40.2 188.8h.1M33.4 199.9h.1M36.2 191.3h.1M42.8 188.5h.1M36.4 193.6h.1M39.4 190.3h.1M50.4 185.9h.1M51.4 184.3h.1M64.6 182.4h.1M33.6 192.0h.1M37.3 191.6h.1M65.9 185.0h.1M52.5 185.0h.1M48.0 184.0h.1M60.9 185.0h.1M53.2 183.9h.1M30.4 199.6h.1M57.2 185.7h.1M46.0 186.8h.1M59.1 186.2h.1M35.4 192.4h.1M64.5 186.0h.1M57.1 184.3h.1M58.8 186.8h.1M31.4 198.0h.1M37.3 190.0h.1M65.3 185.1h.1M40.7 188.5h.1M64.2 184.9h.1M42.9 186.0h.1M53.8 184.7h.1M31.5 200.6h.1M52.5 184.6h.1M60.8 183.1h.1M32.2 198.3h.1M29.6 201.2h.1M38.8 192.0h.1M64.5 183.0h.1M31.7 202.3h.1M59.9 185.5h.1M50.8 185.6h.1M39.2 189.7h.1M54.3 186.2h.1M62.2 183.8h.1M45.8 186.3h.1M34.6 192.0h.1M36.7 197.9h.1M32.6 198.7h.1M63.8 183.9h.1M54.9 185.8h.1M63.6 184.2h.1M40.3 189.9h.1M34.3 197.6h.1M66.7 183.2h.1M50.1 187.0h.1M50.5 185.2h.1M44.6 186.9h.1M31.5 199.0h.1M54.2 184.4h.1M55.6 184.6h.1M38.0 192.2h.1M56.2 183.5h.1M43.6 186.4h.1M43.0 187.9h.1M36.2 196.4h.1M60.0 184.5h.1M33.6 202.6h.1M66.5 185.1h.1M41.6 189.9h.1M32.8 195.0h.1M56.7 185.0h.1M60.1 185.7h.1M47.2 185.2h.1M51.5 183.8h.1M62.0 184.6h.1M33.3 193.2h.1M63.6 184.6h.1M41.9 188.5h.1M64.7 184.8h.1M51.7 185.3h.1M31.9 200.2h.1M30.7 203.7h.1M58.1 183.7h.1M33.2 196.1h.1M41.0 188.0h.1M41.3 187.6h.1M49.2 187.0h.1M34.3 194.0h.1M66.7 182.9h.1M38.6 191.0h.1M34.6 195.8h.1M64.9 184.2h.1M41.1 188.9h.1M61.5 183.6h.1M33.0 196.7h.1M57.5 184.9h.1M63.1 182.4h.1M40.1 189.9h.1M65.6 181.6h.1M31.5 203.6h.1M37.1 188.9h.1M33.2 201.8h.1M35.7 192.5h.1M38.5 188.8h.1M47.7 185.4h.1M37.8 193.2h.1M56.7 183.3h.1M35.9 195.4h.1M34.4 201.7h.1M61.8 184.3h.1M50.1 186.1h.1M55.6 183.9h.1M32.6 197.7h.1M53.4 184.7h.1M40.6 189.9h.1M56.8 184.8h.1M39.2 193.0h.1M33.4 200.3h.1M37.6 198.4h.1M53.0 186.2h.1M58.0 182.6h.1M39.2 192.2h.1M44.6 185.1h.1M34.0 194.6h.1M42.0 189.6h.1M57.2 184.1h.1M43.9 187.7h.1M45.6 185.4h.1M58.8 186.3h.1M42.8 186.8h.1M61.9 184.1h.1M42.8 186.3h.1M44.1 188.9h.1M48.9 186.4h.1M48.3 185.1h.1M63.6 185.0h.1M64.3 185.3h.1M41.4 189.0h.1M68.2 182.8h.1M54.5 183.5h.1M66.6 184.7h.1M37.9 190.2h.1M33.2 195.0h.1M38.2 188.2h.1M55.0 184.2h.1M62.1 185.5h.1M44.7 185.7h.1M32.9 197.5h.1M36.6 198.2h.1M44.8 185.2h.1M42.4 187.2h.1M34.8 198.8h.1M66.7 185.4h.1M34.6 198.1h.1M33.9 192.8h.1M33.9 195.2h.1M32.4 202.6h.1M56.1 184.2h.1M56.6 185.0h.1M37.0 188.8h.1M49.9 187.6h.1M62.4 185.6h.1M39.7 188.9h.1M51.1 185.4h.1M33.6 199.3h.1M39.0 193.2h.1M37.7 190.0h.1M45.8 188.0h.1M55.5 184.9h.1M64.4 185.1h.1M30.6 195.8h.1M50.5 185.4h.1M44.6 186.5h.1M52.6 184.2h.1M55.8 185.4h.1M35.7 188.7h.1M52.1 184.6h.1M61.9 182.7h.1M32.3 193.5h.1M46.8 184.7h.1M62.2 185.3h.1M32.2 199.5h.1M43.0 188.3h.1M59.9 184.7h.1M36.3 191.4h.1M57.3 185.6h.1M39.8 189.6h.1M56.6 185.9h.1M37.3 193.1h.1M42.4 186.4h.1M60.6 185.0h.1M37.0 196.6h.1M48.8 183.6h.1M43.7 185.5h.1M38.8 187.2h.1M47.0 187.4h.1M39.4 189.2h.1M40.8 187.7h.1M42.2 189.2h.1M66.8 183.2h.1M41.5 186.4h.1M34.6 193.7h.1M46.4 185.0h.1M55.8 183.8h.1M47.7 186.2h.1M33.4 194.1h.1M62.4 183.4h.1M29.3 200.8h.1M33.5 197.8h.1M60.3 185.9h.1M37.6 191.3h.1M50.9 183.8h.1M60.4 184.4h.1M36.6 195.6h.1M62.5 184.6h.1M32.7 198.0h.1M57.9 186.0h.1M37.7 189.3h.1M60.4 185.1h.1M63.8 186.2h.1M30.7 194.8h.1M45.7 188.1h.1M51.1 185.6h.1M63.7 184.8h.1M39.0 191.4h.1M37.6 190.9h.1M60.2 186.6h.1M59.8 185.0h.1M34.7 194.7h.1M56.2 183.6h.1M45.8 184.7h.1M33.7 195.0h.1M42.7 186.2h.1M32.7 202.6h.1M36.8 194.7h.1M39.5 188.3h.1M66.3 183.6h.1M40.8 189.1h.1M37.7 191.4h.1M46.0 188.6h.1M62.7 183.2h.1M60.9 185.0h.1M63.1 185.7h.1M38.1 191.5h.1M41.9 186.9h.1M39.0 191.5h.1M34.0 191.6h.1M65.5 182.9h.1M37.9 192.2h.1M55.2 184.3h.1M58.4 184.3h.1M35.0 194.9h.1M63.2 187.4h.1M44.6 189.3h.1M37.2 191.0h.1M58.3 185.2h.1M43.1 187.1h.1M46.5 185.5h.1M49.2 185.8h.1M53.7 185.1h.1M31.8 198.6h.1M40.1 191.3h.1M33.3 201.9h.1M62.5 186.2h.1M63.7 184.9h.1M56.0 184.2h.1M35.5 191.9h.1M51.7 185.2h.1M31.3 199.4h.1M51.3 185.5h.1M32.2 196.2h.1M40.8 189.0h.1M53.7 185.7h.1M50.5 187.0h.1M35.6 197.4h.1M64.5 184.5h.1M61.9 184.4h.1M42.0 187.9h.1M35.6 191.4h.1M30.4 202.0h.1M38.3 187.4h.1M62.6 185.5h.1M61.8 183.4h.1M31.8 194.9h.1M44.9 185.4h.1M49.0 184.3h.1M65.1 185.4h.1M49.4 184.0h.1M31.4 199.6h.1M64.0 183.9h.1M40.7 188.5h.1M42.8 187.8h.1M39.2 192.8h.1M63.6 185.1h.1M33.3 200.2h.1M42.8 186.4h.1M33.8 198.2h.1M37.4 189.8h.1M66.4 184.3h.1M54.5 185.5h.1M48.5 184.6h.1M42.0 187.1h.1M35.0 191.1h.1M57.3 185.5h.1M38.1 194.6h.1M31.1 200.6h.1M63.3 183.8h.1M38.3 192.8h.1M64.2 183.8h.1M32.0 200.9h.1M55.2 182.8h.1M45.9 186.2h.1M63.7 184.4h.1M35.3 198.9h.1M61.9 184.6h.1M36.4 192.8h.1M48.5 185.1h.1M34.0 203.4h.1M33.0 196.4h.1M45.9 187.3h.1M61.5 185.3h.1M62.8 183.9h.1M64.6 185.5h.1M52.4 185.7h.1M32.0 199.0h.1M58.7 184.7h.1M46.3 185.5h.1M33.1 194.4h.1M45.1 187.3h.1M59.0 184.0h.1M61.7 183.9h.1M38.1 187.0h.1M40.8 189.0h.1M54.4 184.2h.1M44.7 183.8h.1M65.5 185.0h.1M47.0 186.5h.1M37.8 187.2h.1M34.0 198.9h.1M60.6 185.1h.1M63.1 183.2h.1M64.7 184.2h.1M33.4 193.2h.1M62.9 184.2h.1M53.2 186.8h.1M35.0 198.7h.1M33.6 199.3h.1M31.4 198.6h.1M44.5 184.4h.1M33.5 201.3h.1M59.3 183.8h.1M38.0 192.7h.1M54.7 185.9h.1M50.4 184.8h.1M56.5 184.0h.1M32.2 195.5h.1M37.5 190.2h.1M56.6 182.7h.1M36.3 192.2h.1M33.1 198.9h.1M53.1 186.4h.1M38.1 193.9h.1M47.2 185.8h.1M37.9 198.4h.1M57.0 185.0h.1M59.6 184.0h.1M60.7 184.2h.1M53.5 184.4h.1M58.7 183.7h.1M47.2 187.2h.1M32.2 196.4h.1M62.9 184.9h.1M39.4 187.8h.1M66.6 184.2h.1M30.4 198.7h.1M31.3 196.5h.1M46.4 185.2h.1M35.9 192.6h.1M34.4 202.7h.1M36.4 195.4h.1M44.8 187.1h.1M55.6 183.7h.1M63.5 184.5h.1M33.9 195.0h.1M40.6 188.5h.1M57.3 185.2h.1M43.2 186.0h.1M45.7 184.1h.1M33.5 199.7h.1M61.4 181.9h.1M60.9 184.4h.1M60.5 183.6h.1M33.5 193.2h.1M50.7 184.1h.1M58.7 183.6h.1M33.9 196.1h.1M31.6 200.7h.1M36.5 190.4h.1M59.3 185.3h.1M37.6 190.0h.1M64.8 184.9h.1M42.1 192.3h.1M48.6 185.7h.1M54.1 185.1h.1M30.8 201.8h.1M30.5 200.4h.1M52.9 185.5h.1M31.4 201.5h.1M61.5 185.0h.1M51.2 184.7h.1M34.6 198.7h.1M31.0 199.4h.1M31.7 199.8h.1M57.2 183.5h.1M37.4 193.8h.1M46.4 185.8h.1M61.6 186.2h.1M61.6 184.2h.1M48.9 184.9h.1M46.0 188.4h.1M39.9 189.6h.1M35.3 194.4h.1M46.3 187.2h.1M42.0 187.7h.1M42.9 188.8h.1M50.7 185.7h.1M38.7 192.6h.1M59.6 184.9h.1M61.3 183.3h.1M56.1 183.3h.1M33.0 196.2h.1M31.9 196.8h.1M51.6 185.4h.1M45.2 186.8h.1M60.1 184.3h.1M33.1 193.2h.1M55.5 185.6h.1M39.4 190.8h.1M41.0 190.8h.1M43.0 188.4h.1M60.1 184.1h.1M33.5 202.7h.1M42.9 189.6h.1M63.6 184.2h.1M35.7 196.2h.1M57.3 186.0h.1M34.1 195.7h.1M37.7 190.2h.1M63.0 183.2h.1M31.7 198.2h.1M39.9 194.2h.1M30.5 200.8h.1M34.8 189.4h.1M31.5 200.6h.1M58.3 185.3h.1M57.4 185.5h.1M40.6 187.4h.1M60.2 184.5h.1M58.1 183.6h.1M37.9 192.4h.1M56.7 185.2h.1M32.6 197.0h.1M35.1 193.2h.1M32.3 197.6h.1M55.1 186.5h.1M35.3 196.2h.1M40.1 190.2h.1M54.7 185.1h.1M64.9 184.8h.1M62.1 185.0h.1" stroke="#2a9444" stroke-opacity="0.85" stroke-width="0.8" stroke-linecap="square" fill="none"/>
<path d="M40.3 181.7h.1M50.4 178.9h.1M47.3 181.9h.1M46.4 179.6h.1M48.4 179.3h.1M42.5 180.9h.1M44.5 180.4h.1M40.5 184.0h.1M50.5 180.5h.1M49.5 180.2h.1M44.8 180.8h.1M42.2 180.8h.1M38.0 182.3h.1M38.9 182.4h.1M45.3 181.2h.1M47.8 179.5h.1M43.9 181.5h.1M42.3 181.1h.1M46.2 180.1h.1M46.6 180.9h.1M42.0 181.2h.1M44.1 181.1h.1M50.5 179.9h.1M52.3 179.9h.1M48.0 179.7h.1M47.9 180.1h.1M42.1 182.2h.1M35.2 183.4h.1M47.3 179.3h.1M47.3 181.3h.1M46.4 178.5h.1M43.0 181.3h.1M40.6 180.6h.1M45.9 180.9h.1M43.3 181.1h.1M44.5 181.6h.1M38.8 182.9h.1M45.2 179.8h.1M41.7 183.1h.1M48.1 179.3h.1M45.8 180.2h.1M51.0 178.5h.1M38.0 183.0h.1M39.6 182.7h.1M42.0 182.6h.1M48.4 180.5h.1M47.0 181.6h.1M50.4 180.1h.1M48.8 180.0h.1M52.2 180.0h.1M44.6 181.1h.1M49.1 180.1h.1M38.1 181.8h.1M39.4 180.6h.1M44.6 181.4h.1M39.4 183.3h.1M42.4 180.5h.1M50.2 178.4h.1M42.7 181.0h.1M45.0 182.0h.1M54.7 179.3h.1M43.3 180.9h.1M40.3 181.8h.1M50.8 179.4h.1M49.9 180.1h.1M49.1 180.5h.1M45.2 181.7h.1M52.1 178.4h.1M51.2 178.8h.1M39.1 183.8h.1M50.1 180.6h.1M48.2 179.9h.1M42.5 183.0h.1M51.4 179.3h.1M40.8 182.0h.1M50.0 179.9h.1M38.6 182.1h.1M49.1 179.4h.1M49.1 179.6h.1M44.1 180.9h.1M47.0 179.8h.1M48.2 179.9h.1M38.6 182.7h.1M49.1 179.4h.1M45.2 180.2h.1M38.9 183.8h.1M43.2 181.4h.1M51.2 178.8h.1M40.1 183.4h.1M38.7 182.8h.1M50.7 180.1h.1M43.0 181.9h.1M48.7 180.5h.1M48.1 179.1h.1M39.0 183.0h.1M40.4 183.0h.1M42.4 180.9h.1M49.2 178.8h.1M51.4 179.4h.1M41.4 180.7h.1M40.5 181.5h.1M42.8 181.6h.1M40.0 182.0h.1M37.2 182.4h.1M40.0 181.8h.1M50.1 180.6h.1M39.6 183.3h.1M45.4 179.8h.1M44.2 180.6h.1M41.0 180.7h.1M41.7 182.6h.1M45.0 180.3h.1M40.8 182.4h.1M47.2 178.8h.1M47.0 179.4h.1M43.5 180.8h.1M50.3 178.8h.1M43.0 180.3h.1M38.1 183.0h.1M42.9 181.0h.1M48.0 180.6h.1M45.0 180.3h.1M39.6 183.7h.1M40.7 182.4h.1M41.0 181.9h.1M41.6 181.6h.1M50.1 179.4h.1M49.4 179.5h.1M44.6 180.0h.1M50.0 179.4h.1M49.3 180.5h.1M44.6 180.4h.1M47.1 178.4h.1M40.2 182.6h.1M47.2 180.8h.1M42.5 180.9h.1M36.6 183.5h.1M44.7 181.2h.1M42.2 181.8h.1M47.4 180.4h.1M47.0 180.3h.1M38.2 181.0h.1M45.5 179.6h.1M49.1 179.8h.1M49.4 178.7h.1M49.7 180.2h.1M49.0 180.1h.1M52.0 179.7h.1M43.2 181.3h.1M44.4 182.8h.1M42.5 181.1h.1M50.4 179.6h.1M39.3 182.0h.1M49.6 178.7h.1M41.8 183.0h.1M47.9 178.6h.1M42.5 180.0h.1M39.0 181.5h.1M44.1 180.8h.1M44.5 180.1h.1" stroke="#2a9444" stroke-opacity="0.35" stroke-width="0.8" stroke-linecap="square" fill="none"/>
<path d="M36.9,98.5 C37.8,98.0 39.2,100.1 40.4,101.1 C41.6,102.1 42.6,103.1 43.9,104.6 C45.2,106.1 46.7,108.4 48.3,109.9 C49.9,111.4 51.8,112.2 53.5,113.4 C55.2,114.6 57.7,116.1 58.8,117.3 C59.9,118.5 60.2,119.3 60.1,120.4 C60.0,121.5 58.7,122.6 57.9,123.9 C57.1,125.2 56.0,126.7 55.3,128.3 C54.6,129.9 53.8,131.3 53.5,133.5 C53.2,135.7 53.1,138.8 53.3,141.4 C53.4,144.0 54.6,148.9 54.4,149.3 C54.1,149.7 52.8,146.6 51.8,144.0 C50.8,141.4 49.6,136.1 48.3,133.5 C47.0,130.9 45.2,130.1 43.9,128.3 C42.6,126.6 41.6,124.6 40.4,123.0 C39.2,121.4 37.7,120.6 36.9,118.6 C36.1,116.6 35.9,113.3 35.6,110.8 C35.3,108.3 34.9,105.8 35.1,103.8 C35.3,101.8 36.0,99.0 36.9,98.5 Z" fill="#f39a2e" fill-opacity="0.95" />
<path d="M46.4 126.9h.1M58.2 122.2h.1M47.8 128.3h.1M50.8 138.8h.1M37.5 113.9h.1M51.4 129.8h.1M39.9 110.8h.1M48.1 131.0h.1M47.6 132.2h.1M46.5 112.6h.1M43.0 110.2h.1M54.3 118.8h.1M56.3 118.1h.1M57.9 122.4h.1M37.3 115.4h.1M38.0 111.0h.1M37.6 101.5h.1M49.1 121.2h.1M38.0 119.9h.1M40.4 112.2h.1M40.4 118.5h.1M40.4 111.6h.1M54.4 115.2h.1M44.4 121.5h.1M39.7 106.3h.1M41.3 108.1h.1M53.6 146.3h.1M50.0 113.4h.1M36.8 110.1h.1M50.5 112.7h.1M39.5 117.2h.1M52.4 128.2h.1M38.6 100.3h.1M53.5 144.2h.1M50.7 117.9h.1M49.7 129.4h.1M53.3 118.2h.1M53.5 128.0h.1M47.1 110.2h.1M52.6 123.8h.1M40.2 107.1h.1M40.1 120.4h.1M57.1 118.0h.1M49.7 114.6h.1M42.0 107.1h.1M46.4 112.5h.1M40.5 119.5h.1M50.7 123.6h.1M37.0 100.1h.1M52.8 127.5h.1M35.6 105.4h.1M38.6 100.9h.1M50.8 121.2h.1M50.8 131.8h.1M41.9 116.1h.1M52.5 124.9h.1M50.5 136.9h.1M44.5 127.4h.1M58.7 122.1h.1M53.1 140.1h.1M51.1 135.0h.1M56.5 116.2h.1M38.6 106.1h.1M51.1 125.1h.1M42.9 117.9h.1M48.5 124.1h.1M49.2 123.4h.1M48.6 119.5h.1M41.8 122.5h.1M47.0 114.6h.1M40.0 110.0h.1M52.3 114.9h.1M41.4 108.5h.1M48.4 120.7h.1M44.5 119.5h.1M51.1 125.4h.1M41.6 103.4h.1M55.9 119.9h.1M35.5 108.7h.1M39.8 102.1h.1M37.8 100.4h.1M48.9 124.7h.1M39.7 108.9h.1M43.3 122.2h.1M48.0 120.3h.1M52.6 141.4h.1M39.6 121.6h.1M53.6 119.1h.1M40.0 106.9h.1M52.7 142.2h.1M50.8 119.0h.1M50.1 124.1h.1M55.5 119.1h.1M52.5 137.5h.1M54.2 119.1h.1M43.6 122.3h.1M51.1 130.2h.1M51.8 115.7h.1M51.6 127.4h.1M48.4 118.3h.1M52.6 137.2h.1M50.5 136.0h.1M41.5 118.9h.1M36.4 108.4h.1M48.9 124.3h.1M50.0 137.1h.1M58.7 119.9h.1M48.3 128.9h.1M44.2 113.0h.1M51.5 127.0h.1M45.8 122.8h.1M53.2 122.3h.1M50.7 121.6h.1M40.2 101.1h.1M46.5 111.8h.1M49.7 119.8h.1M54.5 125.5h.1M44.1 112.3h.1M52.2 127.2h.1M49.9 130.7h.1M36.1 101.6h.1M41.9 120.1h.1M48.9 130.6h.1M44.4 122.8h.1M40.4 116.0h.1M37.0 104.6h.1M45.7 111.6h.1M55.3 117.2h.1M43.2 126.4h.1M53.8 145.3h.1M45.8 117.3h.1M37.1 102.7h.1M49.2 123.1h.1M52.2 113.7h.1M37.1 113.9h.1M53.2 133.8h.1M42.2 105.8h.1M52.8 127.4h.1M57.9 120.8h.1M43.0 118.8h.1M41.3 116.9h.1M44.2 117.0h.1M45.0 118.2h.1M55.0 126.0h.1M56.0 127.1h.1M48.7 127.3h.1M37.2 102.6h.1M53.5 144.2h.1M45.0 115.7h.1M47.4 125.8h.1M53.1 134.5h.1M58.0 119.4h.1M55.2 119.9h.1M44.5 107.0h.1M40.2 120.1h.1M36.6 114.2h.1M36.0 104.0h.1M39.7 109.5h.1M39.7 112.8h.1M42.9 126.4h.1M55.5 122.9h.1M47.2 109.7h.1M55.1 118.1h.1M48.3 124.7h.1M52.9 129.3h.1M39.0 106.5h.1M43.1 111.7h.1M56.8 124.7h.1M37.2 112.2h.1M47.1 122.3h.1M54.8 119.7h.1M48.7 125.2h.1M42.9 114.3h.1M37.0 114.0h.1M37.7 118.5h.1M49.2 121.8h.1M50.5 113.3h.1M44.5 125.9h.1M42.6 115.6h.1M41.5 108.7h.1M53.4 115.2h.1M53.2 115.3h.1M38.6 103.3h.1M52.0 134.5h.1M39.6 118.9h.1M37.4 110.0h.1M39.0 104.8h.1M58.1 120.2h.1M47.9 131.4h.1M44.7 115.3h.1M51.6 129.4h.1M37.8 117.7h.1M43.9 123.9h.1M53.0 140.9h.1M37.2 110.9h.1M49.5 133.9h.1M44.1 122.0h.1M48.7 127.0h.1M49.1 111.9h.1M35.9 107.6h.1M51.6 114.1h.1M51.9 136.0h.1M44.6 128.6h.1M40.1 122.3h.1M38.7 118.1h.1M48.1 111.9h.1M49.3 115.4h.1M46.8 119.4h.1M50.7 133.5h.1M45.3 120.5h.1M48.2 125.2h.1M53.2 144.2h.1M53.4 128.9h.1M53.9 114.0h.1M47.7 118.7h.1M48.3 110.6h.1M42.8 118.6h.1M41.0 102.0h.1M51.7 142.5h.1M41.2 113.7h.1M45.0 116.6h.1M42.8 123.8h.1M46.9 109.0h.1M56.0 116.5h.1M36.4 103.9h.1M53.2 114.4h.1M40.7 114.1h.1M39.6 110.5h.1M51.7 138.7h.1M40.8 113.8h.1M46.1 125.3h.1M50.1 113.0h.1M37.3 113.0h.1M49.0 131.3h.1M54.7 124.8h.1M52.2 124.9h.1M41.0 123.3h.1M50.0 134.8h.1M39.6 106.2h.1M46.0 120.9h.1M49.3 126.1h.1M38.8 114.3h.1M50.6 125.2h.1M39.4 111.4h.1M44.2 109.5h.1M36.1 110.7h.1M44.9 113.6h.1M40.8 111.4h.1M48.9 110.8h.1M44.2 115.6h.1M57.3 122.0h.1M40.5 116.1h.1M39.2 108.8h.1M40.5 122.3h.1M42.8 121.2h.1M52.4 116.9h.1M39.7 111.8h.1M44.1 106.3h.1M43.2 118.0h.1M44.9 110.6h.1" stroke="#ffffff" stroke-opacity="0.3" stroke-width="0.6" stroke-linecap="square" fill="none"/>
<path d="M35.5,118.5 C36.8,117.7 38.7,119.5 39.5,120.5 C40.3,121.5 40.4,123.2 40.2,124.5 C40.1,125.8 39.3,127.2 38.6,128.5 C37.9,129.8 36.8,130.8 36.2,132.5 C35.7,134.2 35.6,136.7 35.3,138.8 C35.0,140.9 34.8,142.9 34.5,144.9 C34.2,146.9 34.7,149.7 33.6,151.1 C32.5,152.5 30.0,153.1 28.1,153.2 C26.2,153.3 23.6,152.4 22.0,151.5 C20.4,150.6 18.8,149.0 18.3,147.6 C17.8,146.2 18.3,144.7 19.2,143.2 C20.1,141.7 22.3,140.4 23.8,138.6 C25.3,136.8 26.8,134.7 28.1,132.5 C29.4,130.3 30.4,127.8 31.6,125.5 C32.8,123.2 34.2,119.3 35.5,118.5 Z" fill="#e8302e" fill-opacity="0.97" />
<path d="M28.7 141.3h.1M32.9 123.4h.1M24.3 146.6h.1M33.4 139.4h.1M30.5 141.4h.1M21.9 149.9h.1M19.6 146.9h.1M36.7 119.1h.1M22.0 146.8h.1M31.4 135.0h.1M33.4 141.9h.1M26.3 136.2h.1M18.9 147.0h.1M27.7 136.5h.1M26.8 145.3h.1M22.2 142.6h.1M25.8 140.6h.1M28.7 151.8h.1M28.8 151.7h.1M22.0 150.6h.1M35.2 130.4h.1M25.4 145.8h.1M28.8 140.3h.1M24.1 151.3h.1M37.9 124.1h.1M24.7 148.8h.1M24.4 151.3h.1M29.6 142.7h.1M33.7 125.9h.1M33.3 142.6h.1M21.2 149.3h.1M27.8 152.5h.1M30.6 140.2h.1M35.0 133.0h.1M31.2 149.8h.1M34.4 138.0h.1M30.0 145.9h.1M30.2 140.1h.1M33.6 132.2h.1M25.4 142.3h.1M25.1 142.6h.1M34.9 141.4h.1M32.9 130.3h.1M23.1 150.4h.1M29.3 142.7h.1M31.6 147.7h.1M35.0 132.2h.1M33.0 141.5h.1M33.2 130.7h.1M34.3 129.7h.1M29.2 131.0h.1M35.9 128.4h.1M26.8 148.8h.1M35.5 132.8h.1M31.8 127.6h.1M36.0 124.4h.1M19.5 147.5h.1M26.2 144.0h.1M22.9 149.0h.1M21.9 143.3h.1M20.5 142.3h.1M30.0 134.1h.1M29.9 141.1h.1M32.2 134.7h.1M32.2 132.0h.1M27.4 136.4h.1M34.0 128.2h.1M31.6 144.7h.1M36.7 123.0h.1M20.8 142.3h.1M23.3 150.6h.1M34.9 133.2h.1M30.2 129.5h.1M31.6 151.6h.1M24.8 150.5h.1M31.4 141.7h.1M28.9 143.9h.1M32.0 137.1h.1M26.7 139.8h.1M20.5 144.1h.1M30.3 139.2h.1M30.9 131.6h.1M29.3 134.5h.1M25.6 141.3h.1M27.0 136.4h.1M23.8 146.6h.1M24.5 147.7h.1M32.3 140.6h.1M31.2 135.1h.1M34.0 144.6h.1M34.2 135.9h.1M32.8 139.9h.1M33.9 130.8h.1M26.8 152.1h.1M38.1 123.8h.1M21.0 147.4h.1M26.6 135.5h.1M31.5 150.9h.1M30.4 146.0h.1M38.2 122.3h.1M32.4 133.6h.1M29.7 138.0h.1M30.3 137.4h.1M29.8 145.5h.1M33.1 148.7h.1M32.5 131.1h.1M39.7 123.4h.1M22.2 147.2h.1M32.8 128.3h.1M30.8 142.8h.1M34.7 128.4h.1M34.8 133.5h.1M31.9 130.9h.1M30.7 137.2h.1M38.1 128.9h.1M37.4 129.4h.1M38.8 120.5h.1M25.3 150.8h.1M32.8 143.0h.1M39.3 120.8h.1" stroke="#ffffff" stroke-opacity="0.25" stroke-width="0.6" stroke-linecap="square" fill="none"/>
<text x="50.9" y="109.3" font-size="6.5" text-anchor="start" fill="#231f20" stroke="#231f20"><tspan>1_Tconv</tspan></text>
<text x="12.9" y="139.3" font-size="6.5" text-anchor="start" fill="#231f20" stroke="#231f20"><tspan>2_pTreg</tspan></text>
<text x="11.4" y="167.9" font-size="6.5" text-anchor="start" fill="#231f20" stroke="#231f20"><tspan>3_pTreg_Ki-67</tspan><tspan font-size="4.0" dy="-2.5">+</tspan></text>
<text x="83.4" y="166.7" font-size="6.5" text-anchor="start" fill="#231f20" stroke="#231f20"><tspan>4_tTreg</tspan></text>
<text x="38.9" y="202.0" font-size="6.5" text-anchor="start" fill="#231f20" stroke="#231f20"><tspan>5_tTreg_Ki-67</tspan><tspan font-size="4.0" dy="-2.5">+</tspan></text>
<line x1="16.4" y1="182.0" x2="16.4" y2="210.6" stroke="#231f20" stroke-width="0.8"/>
<path d="M16.4,179.3 L14.5,182.5 L18.3,182.5 Z" fill="#231f20" />
<line x1="16.0" y1="210.6" x2="48.5" y2="210.6" stroke="#231f20" stroke-width="0.8"/>
<path d="M51.4,210.6 L48.2,208.7 L48.2,212.5 Z" fill="#231f20" />
<text x="30.2" y="220.8" font-size="6.5" text-anchor="middle" fill="#231f20" stroke="#231f20"><tspan>UMAP-1</tspan></text>
<g transform="translate(8.8,196.9) rotate(-90)"><text x="0" y="2.3" font-size="6.5" text-anchor="middle" fill="#231f20" stroke="#231f20"><tspan>UMAP-2</tspan></text></g>
<text x="460.2" y="5.8" font-size="11" font-weight="bold" fill="#000">c</text>
<line x1="468.2" y1="10.2" x2="652.9" y2="10.2" stroke="#231f20" stroke-width="0.7"/>
<text x="560.5" y="6.8" font-size="6.5" text-anchor="middle" fill="#231f20" stroke="#231f20"><tspan>OT-II</tspan></text>
<line x1="509.3" y1="18.4" x2="509.3" y2="137.3" stroke="#231f20" stroke-width="0.7" stroke-dasharray="2.2,1.6"/>
<line x1="556.6" y1="18.4" x2="556.6" y2="137.3" stroke="#231f20" stroke-width="0.7" stroke-dasharray="2.2,1.6"/>
<line x1="604.7" y1="18.4" x2="604.7" y2="137.3" stroke="#231f20" stroke-width="0.7" stroke-dasharray="2.2,1.6"/>
<text x="485.0" y="28.9" font-size="6.5" text-anchor="middle" fill="#231f20" stroke="#231f20"><tspan>PBS</tspan></text>
<text x="485.0" y="39.1" font-size="6.5" text-anchor="middle" fill="#231f20" stroke="#231f20"><tspan>6,357 cells</tspan></text>
<text x="532.4" y="28.9" font-size="6.5" text-anchor="middle" fill="#231f20" stroke="#231f20"><tspan>IL-2(WT)</tspan></text>
<text x="532.4" y="39.1" font-size="6.5" text-anchor="middle" fill="#231f20" stroke="#231f20"><tspan>5,283 cells</tspan></text>
<text x="580.0" y="20.7" font-size="6.5" text-anchor="middle" fill="#231f20" stroke="#231f20"><tspan>TGM1–</tspan></text>
<text x="580.0" y="28.9" font-size="6.5" text-anchor="middle" fill="#231f20" stroke="#231f20"><tspan>IL-2(WT)</tspan></text>
<text x="580.0" y="39.1" font-size="6.5" text-anchor="middle" fill="#231f20" stroke="#231f20"><tspan>24,256 cells</tspan></text>
<text x="627.8" y="20.7" font-size="6.5" text-anchor="middle" fill="#231f20" stroke="#231f20"><tspan>TGM1–</tspan></text>
<text x="627.8" y="28.9" font-size="6.5" text-anchor="middle" fill="#231f20" stroke="#231f20"><tspan>IL-2(DN)</tspan></text>
<text x="627.8" y="39.1" font-size="6.5" text-anchor="middle" fill="#231f20" stroke="#231f20"><tspan>7,378 cells</tspan></text>
<g transform="translate(465.4,85.8) rotate(-90)"><text x="0" y="2.3" font-size="6.5" text-anchor="middle" fill="#231f20" stroke="#231f20"><tspan>UMAP-2</tspan></text></g>
<text x="557.5" y="145.3" font-size="6.5" text-anchor="middle" fill="#231f20" stroke="#231f20"><tspan>UMAP-1</tspan></text>
<path d="M497.1 78.4h.1M501.0 61.1h.1M485.4 56.0h.1M497.9 62.7h.1M481.7 47.6h.1M484.4 48.5h.1M494.5 55.4h.1M493.6 61.0h.1M492.7 60.5h.1M493.8 63.7h.1M494.7 56.0h.1M494.9 55.4h.1M481.9 45.0h.1M481.3 44.9h.1M495.0 64.0h.1M483.8 55.9h.1M483.6 54.5h.1M489.1 52.3h.1M485.1 52.6h.1M488.7 55.3h.1M494.0 59.4h.1M493.6 66.1h.1M488.6 54.8h.1M499.0 59.1h.1M483.8 47.5h.1M483.5 53.1h.1M486.2 58.9h.1M489.2 64.4h.1M493.8 71.2h.1M491.2 57.4h.1M494.2 65.3h.1M494.4 70.7h.1M495.3 64.5h.1M496.8 72.4h.1M494.6 64.1h.1M488.8 52.1h.1M491.7 55.7h.1M484.6 54.4h.1M496.0 63.3h.1M495.1 68.8h.1M491.5 59.9h.1M501.2 61.3h.1M495.4 73.5h.1M485.0 55.0h.1M485.0 59.2h.1M497.1 68.2h.1M483.4 52.3h.1M496.3 77.0h.1M485.3 55.0h.1M490.2 62.0h.1M488.6 53.3h.1M484.2 56.7h.1M488.9 54.8h.1M493.5 63.2h.1M482.9 51.3h.1M492.8 67.9h.1M492.6 64.4h.1M490.4 56.8h.1M491.7 61.2h.1M491.6 54.9h.1M486.5 55.7h.1M492.2 68.1h.1M492.8 61.6h.1M494.9 75.1h.1M484.8 55.1h.1M494.3 58.4h.1M486.8 57.0h.1M497.4 64.7h.1M494.0 63.4h.1M490.4 56.1h.1M487.0 61.9h.1M490.5 55.8h.1M481.5 45.3h.1M489.8 61.5h.1M490.0 56.7h.1M486.2 58.1h.1M483.5 46.5h.1M490.4 61.6h.1M481.9 45.5h.1M496.9 61.5h.1M484.8 50.0h.1M487.6 62.7h.1M488.6 51.5h.1M493.5 71.1h.1M491.6 67.9h.1M483.3 48.0h.1M490.6 63.6h.1M490.1 53.5h.1M487.5 57.2h.1M491.7 62.4h.1M490.7 52.6h.1M485.6 52.7h.1M489.8 53.6h.1M494.7 67.4h.1M490.3 60.0h.1M484.8 48.8h.1M485.4 56.5h.1M490.3 59.8h.1M496.5 65.6h.1M495.5 72.0h.1M484.2 55.5h.1M494.9 73.8h.1M483.1 46.8h.1M494.3 61.2h.1M489.0 65.1h.1M489.5 62.3h.1M494.1 59.8h.1M491.8 64.3h.1M492.4 65.4h.1M486.2 58.6h.1M482.4 47.2h.1M483.7 48.1h.1M492.7 53.7h.1M496.9 78.0h.1M494.3 73.5h.1M493.9 68.1h.1M487.4 57.3h.1M491.0 68.3h.1M491.6 57.7h.1M497.6 61.9h.1M486.8 52.1h.1M498.4 65.0h.1M500.2 60.9h.1M494.5 67.8h.1M487.1 62.6h.1M496.1 74.0h.1M495.9 70.0h.1M489.6 52.5h.1M491.2 61.0h.1M490.6 55.3h.1M481.8 47.1h.1M492.8 66.2h.1M494.8 73.8h.1M485.8 49.0h.1M500.1 61.1h.1M495.9 72.7h.1M495.1 58.3h.1M488.5 62.0h.1M496.4 63.1h.1M491.2 66.2h.1M490.3 62.9h.1M497.9 66.2h.1M486.3 55.2h.1M494.2 56.2h.1M494.9 65.1h.1M497.8 60.3h.1M486.7 58.3h.1M482.6 50.8h.1M490.3 55.6h.1M497.1 66.9h.1M492.8 67.9h.1M499.0 59.9h.1M497.4 61.4h.1M488.3 58.8h.1M497.5 77.5h.1M491.5 67.3h.1M489.9 54.4h.1M495.2 73.0h.1M497.5 78.5h.1M497.2 74.8h.1M486.5 60.7h.1M490.1 58.2h.1M488.6 63.7h.1M489.8 55.0h.1M494.5 67.4h.1M494.8 69.3h.1M489.4 63.0h.1M493.9 62.4h.1M489.8 60.2h.1M484.7 48.5h.1M495.6 58.8h.1M494.2 70.2h.1M496.4 68.4h.1M497.8 65.9h.1M487.4 63.0h.1M488.1 51.0h.1M496.6 57.0h.1M496.1 72.2h.1M493.5 62.6h.1M499.6 62.4h.1M497.3 69.2h.1M498.2 63.1h.1M483.9 55.7h.1M497.3 66.7h.1M490.9 67.5h.1M495.5 72.4h.1M498.1 61.7h.1M495.5 76.8h.1M489.0 61.9h.1M495.8 75.3h.1M493.7 56.6h.1M488.2 62.5h.1M484.5 54.2h.1M497.1 65.3h.1M494.2 57.7h.1M493.7 70.6h.1M495.7 61.0h.1M492.6 56.4h.1M491.9 69.8h.1M488.5 57.8h.1M494.2 60.0h.1M492.6 55.5h.1M491.3 61.4h.1M497.0 73.7h.1M497.0 78.0h.1M493.7 61.9h.1M481.6 46.2h.1M481.5 45.3h.1M483.3 47.2h.1M493.2 62.1h.1M485.7 60.2h.1M499.1 61.9h.1M494.3 65.5h.1M485.6 52.3h.1M495.9 77.4h.1M483.2 53.9h.1M497.4 67.7h.1M486.9 53.5h.1M488.9 56.4h.1M496.4 67.2h.1M496.5 78.8h.1M499.2 61.4h.1M496.1 56.1h.1M487.0 54.2h.1M496.6 69.9h.1M491.1 63.2h.1M489.8 55.7h.1M496.5 59.8h.1M493.0 70.8h.1M491.0 63.0h.1M492.0 53.4h.1M491.8 62.5h.1M494.1 65.2h.1M498.4 66.2h.1M496.8 60.6h.1M484.1 55.9h.1M493.1 54.5h.1M499.0 58.7h.1M492.3 57.3h.1M493.2 54.9h.1M486.5 52.7h.1M496.0 67.9h.1M495.6 56.3h.1M492.4 59.0h.1M494.3 74.1h.1M487.0 59.5h.1M488.4 59.1h.1M496.6 61.7h.1M488.9 61.5h.1M496.1 62.7h.1M494.2 73.7h.1M497.4 59.5h.1M495.7 58.6h.1M490.8 60.3h.1M494.4 60.3h.1M496.8 60.2h.1M486.0 56.6h.1M492.9 55.6h.1M492.3 70.6h.1M496.3 70.4h.1M484.0 49.6h.1M486.0 53.8h.1M490.8 63.1h.1M497.1 78.5h.1M496.1 77.6h.1M487.4 61.7h.1M491.7 55.3h.1M496.6 62.9h.1M484.4 48.2h.1M482.7 52.3h.1M487.7 61.4h.1M495.9 63.0h.1M485.7 54.3h.1M492.8 57.2h.1M495.7 57.3h.1M491.9 61.8h.1M495.1 62.9h.1M494.4 55.4h.1M495.3 66.2h.1M493.3 68.8h.1M497.7 80.7h.1M495.2 76.0h.1M484.4 58.5h.1M495.7 61.9h.1M488.9 58.5h.1M486.2 50.5h.1M495.7 62.9h.1M494.5 57.2h.1M494.2 64.3h.1M495.8 64.7h.1M490.0 52.0h.1M492.5 66.3h.1M484.2 55.0h.1M490.9 65.3h.1M488.7 61.3h.1M486.4 54.5h.1M490.8 66.9h.1M497.9 64.9h.1M499.8 59.9h.1M492.5 61.5h.1M483.8 48.7h.1M498.2 64.0h.1M494.5 63.8h.1M493.0 62.9h.1M483.7 47.4h.1M491.0 67.8h.1M496.1 65.1h.1M493.5 58.7h.1M482.1 48.5h.1M495.6 56.2h.1M495.8 68.8h.1M499.5 60.2h.1M487.2 53.7h.1M486.3 56.6h.1M481.5 46.7h.1M493.4 61.5h.1M494.6 65.9h.1M497.0 66.0h.1M490.4 59.8h.1M496.2 64.6h.1M493.2 58.6h.1M497.7 80.9h.1M481.9 45.1h.1M491.3 62.0h.1M496.1 76.8h.1M496.7 76.9h.1M493.5 54.9h.1M497.5 60.6h.1M488.3 56.3h.1M495.8 75.7h.1M497.0 79.2h.1M491.6 60.5h.1M493.4 66.6h.1M494.0 69.2h.1M493.5 64.8h.1M485.2 52.4h.1M487.2 53.4h.1M488.5 56.4h.1M492.0 53.2h.1M493.8 73.1h.1M482.4 46.1h.1M489.3 62.9h.1M490.5 61.6h.1M486.4 59.0h.1M496.2 59.2h.1M491.1 58.9h.1M494.4 61.2h.1M498.8 59.1h.1M494.8 72.7h.1M492.1 62.4h.1M485.9 55.9h.1M497.0 72.4h.1M491.2 64.7h.1M486.5 52.0h.1M482.5 49.9h.1M487.1 52.1h.1M486.4 53.0h.1" stroke="#f0963a" stroke-opacity="0.42" stroke-width="0.8" stroke-linecap="square" fill="none"/>
<path d="M495.2 61.9h.1M494.8 64.7h.1M496.9 59.0h.1M493.9 59.7h.1M494.5 64.5h.1M493.8 58.7h.1M498.6 63.1h.1M497.4 61.7h.1M498.2 62.2h.1M493.1 58.6h.1M492.2 61.8h.1M495.1 57.9h.1M495.3 60.9h.1M496.0 64.9h.1M493.8 59.7h.1M495.3 61.7h.1M497.7 65.1h.1M493.8 63.6h.1M497.4 62.1h.1M496.0 60.3h.1M497.8 61.6h.1M492.5 60.8h.1M500.1 63.8h.1M494.2 55.8h.1M495.9 60.0h.1M497.2 63.1h.1M500.0 61.8h.1M498.6 65.7h.1M497.0 59.1h.1M494.4 61.6h.1M497.5 58.2h.1M500.9 60.8h.1M494.2 58.8h.1M499.6 61.3h.1M493.2 56.8h.1M492.7 61.4h.1M500.8 61.7h.1M494.0 61.8h.1M496.2 61.7h.1M495.8 64.3h.1M496.7 63.0h.1M496.2 62.0h.1M498.3 60.2h.1M499.3 60.3h.1M493.2 55.7h.1M498.0 63.2h.1M501.6 62.1h.1M498.6 64.8h.1M496.7 63.6h.1M502.1 61.1h.1M499.0 63.2h.1M494.6 64.4h.1M493.3 61.6h.1M497.5 63.5h.1M497.4 61.5h.1M497.2 61.4h.1M494.2 57.5h.1M498.1 66.1h.1M493.9 62.9h.1M497.9 60.7h.1M496.0 57.4h.1M494.8 57.2h.1M500.3 61.4h.1M499.3 59.2h.1M493.9 60.1h.1M497.1 58.8h.1M498.4 65.7h.1M501.8 61.7h.1M493.1 63.7h.1M498.9 59.2h.1M495.4 63.0h.1M498.2 61.9h.1M499.5 62.1h.1M500.5 63.7h.1M495.0 58.3h.1M494.2 58.2h.1M500.1 61.9h.1M498.7 64.6h.1M498.4 61.3h.1M497.1 66.1h.1M496.7 62.7h.1M497.3 58.9h.1M496.9 62.6h.1M499.5 64.6h.1M495.4 61.7h.1M498.9 62.8h.1M493.5 59.2h.1M493.9 61.5h.1M498.7 62.3h.1M495.9 60.8h.1M496.7 63.2h.1M494.4 64.3h.1M495.3 59.6h.1M498.0 58.5h.1M494.9 58.9h.1M492.4 62.1h.1M501.5 61.7h.1M494.0 61.5h.1M492.8 58.6h.1M494.8 59.5h.1M496.9 58.2h.1M493.7 58.2h.1M499.7 62.9h.1M495.1 59.3h.1M496.2 61.2h.1M497.1 65.2h.1M497.5 59.3h.1M495.6 61.6h.1M496.0 58.1h.1M499.0 65.1h.1M501.0 62.3h.1M492.7 59.7h.1M494.9 59.2h.1M497.0 65.5h.1M499.3 59.3h.1M495.3 63.1h.1M494.3 58.1h.1M495.5 57.9h.1M500.2 60.5h.1M492.5 62.5h.1M497.6 58.0h.1M501.2 61.4h.1M498.8 64.2h.1M496.3 59.5h.1M493.3 55.7h.1M497.9 62.2h.1M492.9 60.3h.1M499.3 60.8h.1M493.3 60.2h.1M500.5 62.7h.1M495.5 59.8h.1M494.1 57.0h.1M496.3 60.5h.1M494.8 62.0h.1M496.3 65.1h.1M494.9 60.1h.1M497.3 64.7h.1M498.8 62.0h.1M497.5 66.1h.1M499.1 64.5h.1" stroke="#f0963a" stroke-opacity="0.45" stroke-width="0.8" stroke-linecap="square" fill="none"/>
<path d="M481.7 113.0h.1M482.5 116.6h.1M482.0 105.6h.1M486.3 110.6h.1M494.6 95.7h.1M485.7 117.8h.1M489.8 100.9h.1M481.6 120.4h.1M488.4 111.6h.1M483.4 111.0h.1M481.1 113.5h.1M480.5 120.8h.1M478.0 119.5h.1M480.4 119.6h.1M478.6 122.6h.1M480.5 115.6h.1M485.8 115.8h.1M480.5 122.0h.1M487.5 106.1h.1M481.7 104.9h.1M487.8 101.6h.1M482.4 109.4h.1M487.2 105.9h.1M489.5 97.1h.1M484.4 108.7h.1M480.5 121.3h.1M487.9 104.8h.1M491.0 98.9h.1M480.7 119.3h.1M481.0 111.6h.1M487.2 110.1h.1M488.2 109.5h.1M481.8 117.0h.1M488.3 109.2h.1M486.8 106.0h.1M484.8 111.5h.1M491.5 98.9h.1M479.9 117.1h.1M482.5 118.0h.1M490.2 101.8h.1M489.6 98.0h.1M487.7 100.8h.1" stroke="#8a62c4" stroke-opacity="0.4" stroke-width="0.7" stroke-linecap="square" fill="none"/>
<path d="M541.8 63.7h.1M544.9 65.0h.1M539.5 54.7h.1M547.5 59.6h.1M538.6 66.4h.1M536.6 63.9h.1M544.0 74.2h.1M537.8 59.5h.1M538.5 60.3h.1M530.9 49.5h.1M539.3 64.2h.1M540.4 69.0h.1M533.7 52.3h.1M544.4 59.9h.1M542.7 71.0h.1M546.3 64.2h.1M537.2 55.1h.1M544.3 63.9h.1M535.0 56.7h.1M538.0 52.3h.1M543.8 63.7h.1M538.1 67.5h.1M545.7 57.4h.1M540.0 56.2h.1M540.9 55.5h.1M532.1 49.5h.1M540.1 58.0h.1M539.3 54.1h.1M533.4 52.8h.1M544.3 75.3h.1M537.4 57.4h.1M539.5 66.3h.1M541.2 64.8h.1M539.9 66.7h.1M532.3 48.8h.1M544.1 62.6h.1M542.0 62.4h.1M539.7 60.4h.1M537.6 54.3h.1M538.6 54.7h.1M537.3 64.0h.1M541.7 74.1h.1M543.0 71.3h.1M545.2 81.7h.1M536.0 57.5h.1M543.8 63.1h.1M542.7 55.7h.1M535.4 60.0h.1M535.5 52.5h.1M537.3 56.1h.1M543.0 54.9h.1M544.7 76.4h.1M540.3 54.3h.1M544.8 77.2h.1M543.8 74.1h.1M545.1 68.4h.1M541.6 63.4h.1M544.8 58.5h.1M535.3 59.1h.1M542.7 70.2h.1M533.2 49.9h.1M543.5 65.4h.1M536.7 65.7h.1M543.2 64.3h.1M544.9 79.5h.1M544.4 79.4h.1M547.9 60.4h.1M541.3 74.0h.1M544.4 73.4h.1M546.3 59.4h.1M545.1 59.4h.1M538.0 67.5h.1M534.2 50.0h.1M532.6 54.9h.1M544.3 73.8h.1M542.1 55.4h.1M538.1 60.0h.1M539.2 55.8h.1M540.1 63.0h.1M543.7 73.0h.1M548.3 59.9h.1M542.4 67.5h.1M533.9 54.4h.1M543.6 76.1h.1M539.4 63.1h.1M541.2 71.6h.1M537.1 55.3h.1M544.5 75.3h.1M542.7 56.9h.1M534.3 53.7h.1M537.0 53.2h.1M532.9 48.1h.1M542.9 61.3h.1M543.4 68.0h.1M538.4 64.5h.1M547.7 59.8h.1M541.9 69.5h.1M537.0 58.8h.1M544.0 69.5h.1M538.6 65.0h.1M538.6 54.2h.1M541.0 67.6h.1M536.3 58.1h.1M533.8 51.6h.1M534.4 50.1h.1M532.1 53.5h.1M539.8 70.5h.1M543.4 65.6h.1M533.4 58.6h.1M542.4 70.3h.1M533.1 57.4h.1M538.4 54.6h.1M541.7 63.5h.1M540.4 59.5h.1M535.9 58.2h.1M538.1 53.4h.1M546.0 58.5h.1M542.4 54.5h.1M542.1 62.7h.1M543.7 65.6h.1M537.2 56.4h.1M542.8 63.8h.1M542.6 74.6h.1M541.7 56.1h.1M541.4 73.5h.1M544.6 78.3h.1M543.0 65.0h.1M535.7 50.8h.1M530.5 49.4h.1M535.7 62.5h.1M543.2 61.3h.1M543.0 76.9h.1M541.7 57.6h.1M543.0 77.3h.1M532.8 58.8h.1M547.3 59.0h.1M533.4 58.8h.1M540.7 66.5h.1M534.9 54.0h.1M536.2 57.3h.1M536.0 51.2h.1M541.8 69.3h.1M540.7 59.4h.1M541.3 60.7h.1M533.8 57.0h.1M536.0 55.7h.1M536.7 65.9h.1M531.3 48.9h.1M534.0 54.9h.1M536.5 56.8h.1M542.7 57.7h.1M541.5 73.6h.1M543.4 55.8h.1M543.9 61.7h.1M540.0 55.2h.1M542.0 69.3h.1M532.5 56.8h.1M539.6 66.5h.1M534.7 61.9h.1M542.5 55.7h.1M542.9 62.0h.1M537.2 53.3h.1M545.8 64.2h.1M537.1 58.6h.1M534.6 52.9h.1M543.4 70.9h.1M545.7 63.8h.1M545.2 63.2h.1M531.2 52.1h.1M542.0 62.6h.1M533.6 50.2h.1M543.5 60.9h.1M539.8 55.3h.1M536.8 64.4h.1M543.1 55.8h.1M538.9 56.1h.1M544.7 61.8h.1M544.5 80.2h.1M544.4 60.1h.1M544.0 56.5h.1M532.0 56.1h.1M536.3 54.4h.1M541.7 65.6h.1M544.9 60.8h.1M539.3 61.4h.1M534.5 56.2h.1M534.1 52.2h.1M541.2 68.1h.1M543.6 67.0h.1M539.1 60.2h.1M536.6 59.8h.1M540.3 67.8h.1M540.9 56.0h.1M543.8 57.3h.1M545.7 60.4h.1M542.9 74.9h.1M544.7 58.8h.1M534.3 51.8h.1M539.0 55.6h.1M542.0 70.3h.1M535.8 60.3h.1M539.9 69.5h.1M540.8 61.1h.1M542.0 57.6h.1M541.3 67.2h.1M542.5 62.8h.1M539.7 62.1h.1M546.1 65.1h.1M538.1 55.8h.1M543.5 58.7h.1M539.2 68.6h.1M544.2 77.8h.1M544.7 68.2h.1M531.7 53.7h.1M539.2 68.7h.1M544.5 77.4h.1M542.0 58.8h.1M544.5 57.5h.1M541.6 69.2h.1M532.1 52.6h.1M536.8 60.7h.1M543.3 55.6h.1M540.5 62.7h.1M541.9 63.0h.1M544.9 58.9h.1M543.2 65.7h.1M536.0 63.8h.1M544.1 78.4h.1M545.8 59.6h.1M540.3 62.0h.1M542.3 76.0h.1M536.7 62.4h.1M541.2 62.5h.1M538.2 56.6h.1M537.1 56.2h.1M539.0 58.0h.1M535.9 62.1h.1M544.2 61.9h.1M540.1 70.2h.1M537.0 62.8h.1M544.9 57.1h.1M532.5 53.5h.1M542.5 72.0h.1M539.9 68.7h.1M541.3 62.2h.1M539.8 63.3h.1M532.8 53.6h.1M538.4 59.3h.1M536.9 54.5h.1M533.6 59.7h.1M540.8 60.2h.1M535.3 58.3h.1M533.0 55.1h.1M542.4 72.7h.1M530.4 47.0h.1M544.1 80.0h.1M542.9 63.3h.1M538.8 56.5h.1M530.9 50.7h.1M543.3 62.9h.1M541.0 57.3h.1M537.7 62.0h.1M540.6 65.7h.1M534.9 59.1h.1M543.2 61.6h.1M543.7 60.5h.1M539.6 61.6h.1M540.2 62.8h.1M541.6 54.6h.1M544.0 74.9h.1M533.1 49.7h.1M539.8 57.0h.1M542.3 65.5h.1M541.3 63.0h.1M534.1 58.4h.1M533.2 57.1h.1M535.6 62.9h.1M530.8 49.2h.1M545.2 61.3h.1M535.0 57.3h.1M545.3 58.7h.1M536.8 52.4h.1M531.5 51.1h.1M542.0 74.2h.1M531.7 48.1h.1M534.0 60.4h.1M544.7 66.9h.1M546.2 61.7h.1M538.8 52.9h.1M545.9 59.2h.1M541.7 61.3h.1M532.8 48.2h.1M531.9 51.0h.1M533.5 52.7h.1M532.3 51.9h.1M540.8 59.7h.1M547.2 62.3h.1M544.6 62.4h.1M544.7 62.6h.1M536.8 63.6h.1M544.4 79.7h.1M545.6 61.6h.1M533.8 57.7h.1M540.7 69.1h.1M541.9 61.6h.1M545.2 66.5h.1M543.6 71.4h.1M539.8 58.0h.1M538.4 66.8h.1M543.0 69.4h.1M545.9 65.8h.1M544.9 63.5h.1M531.5 52.2h.1M544.9 79.5h.1M544.4 62.8h.1M533.6 49.2h.1M543.3 75.7h.1M544.7 64.5h.1M531.2 52.2h.1M535.4 58.5h.1M541.2 64.4h.1M535.6 52.2h.1M542.9 75.6h.1" stroke="#f0963a" stroke-opacity="0.42" stroke-width="0.8" stroke-linecap="square" fill="none"/>
<path d="M543.6 60.7h.1M541.8 62.3h.1M543.5 58.3h.1M542.7 58.0h.1M540.2 61.6h.1M545.1 58.1h.1M544.9 63.1h.1M539.0 58.4h.1M540.7 61.5h.1M543.5 59.1h.1M545.6 61.8h.1M545.0 58.9h.1M540.5 58.5h.1M547.3 59.6h.1M543.1 64.5h.1M545.9 63.7h.1M540.3 61.3h.1M544.4 58.9h.1M543.5 57.1h.1M541.0 55.3h.1M541.3 56.8h.1M543.3 65.2h.1M544.5 63.4h.1M546.0 60.4h.1M539.8 60.2h.1M540.5 55.6h.1M545.1 61.3h.1M539.0 58.1h.1M543.1 63.9h.1M544.0 65.3h.1M543.3 57.5h.1M545.2 61.4h.1M541.7 62.3h.1M539.6 60.1h.1M546.6 59.9h.1M541.2 63.2h.1M539.5 62.1h.1M542.2 61.4h.1M543.7 57.4h.1M543.2 57.4h.1M544.6 63.2h.1M539.3 59.5h.1M544.3 60.2h.1M544.0 57.3h.1M542.1 61.2h.1M544.8 57.9h.1M544.9 63.4h.1M547.0 61.0h.1M543.0 61.3h.1M539.9 58.5h.1M544.9 58.7h.1M544.2 63.7h.1M543.0 58.1h.1M542.3 63.5h.1M539.7 61.6h.1M545.7 61.2h.1M540.9 56.5h.1M546.9 60.3h.1M540.5 60.1h.1M539.4 56.9h.1M544.4 64.7h.1M544.8 62.9h.1M543.4 56.7h.1M541.1 55.2h.1M541.0 58.2h.1M542.5 57.9h.1M543.5 61.5h.1M547.5 61.6h.1M539.1 60.3h.1M540.5 58.4h.1M544.0 60.4h.1M540.7 60.9h.1M543.4 59.3h.1M546.0 62.6h.1M545.8 58.6h.1M539.3 61.0h.1M541.1 57.7h.1M539.5 54.9h.1M543.1 60.0h.1M548.1 61.0h.1M542.8 62.8h.1M542.4 56.1h.1M543.7 65.5h.1M540.6 55.7h.1M543.0 58.9h.1M541.1 55.8h.1M542.5 59.2h.1M541.9 62.1h.1M545.1 58.1h.1M545.3 62.4h.1M543.9 61.4h.1M542.4 59.3h.1M540.7 55.5h.1M541.0 58.5h.1M539.2 55.9h.1M545.7 59.8h.1M542.5 59.5h.1M543.6 58.6h.1M542.7 57.7h.1M546.1 58.6h.1M539.7 55.3h.1M548.3 60.3h.1M539.1 57.8h.1M544.8 60.9h.1M543.8 60.9h.1M543.5 59.7h.1M540.4 58.6h.1M541.8 56.9h.1M545.0 59.6h.1M543.3 60.0h.1M543.6 65.4h.1M545.5 63.7h.1M541.0 60.1h.1M546.0 62.3h.1M542.5 56.6h.1M546.1 59.0h.1M547.1 59.6h.1M543.5 56.8h.1M542.6 64.7h.1M540.8 58.8h.1M543.9 57.7h.1M543.8 65.2h.1M542.7 64.8h.1M546.9 58.8h.1M546.5 63.1h.1M543.6 63.8h.1" stroke="#f0963a" stroke-opacity="0.45" stroke-width="0.8" stroke-linecap="square" fill="none"/>
<path d="M521.5 76.2h.1M520.3 77.1h.1M519.6 76.9h.1M523.7 69.6h.1M522.7 73.4h.1M523.1 74.6h.1M520.1 77.6h.1M524.2 70.3h.1M523.5 70.6h.1M523.4 74.5h.1M523.8 69.1h.1M519.9 79.1h.1M521.1 76.6h.1M519.5 76.7h.1M524.5 71.1h.1M519.4 78.4h.1M525.0 71.6h.1M522.1 76.6h.1M519.4 77.4h.1M519.7 78.2h.1" stroke="#e8363a" stroke-opacity="0.45" stroke-width="0.8" stroke-linecap="square" fill="none"/>
<path d="M533.6 104.4h.1M534.9 107.2h.1M525.3 121.1h.1M527.6 115.4h.1M536.7 108.6h.1M539.2 102.7h.1M536.3 102.1h.1M529.6 113.6h.1M541.4 99.7h.1M525.3 120.8h.1M528.8 109.9h.1M532.9 106.9h.1M521.4 118.8h.1M534.2 105.0h.1M532.6 107.7h.1M524.8 119.1h.1M532.6 110.4h.1M533.0 100.2h.1M529.6 116.5h.1M524.4 117.9h.1M527.7 113.9h.1M528.7 118.5h.1M527.8 116.0h.1M526.9 121.3h.1M532.8 109.2h.1M528.9 114.8h.1M529.5 117.8h.1M525.4 119.5h.1M534.6 105.1h.1M525.8 121.6h.1M527.4 118.3h.1M524.5 124.0h.1M525.5 121.9h.1M530.9 107.4h.1M531.4 108.8h.1M538.0 102.5h.1M534.7 100.8h.1M528.0 117.7h.1" stroke="#8a62c4" stroke-opacity="0.4" stroke-width="0.7" stroke-linecap="square" fill="none"/>
<path d="M583.7 47.9h.1M597.6 59.1h.1M586.2 49.6h.1M597.0 59.0h.1M599.2 58.6h.1M594.0 59.7h.1M590.1 57.4h.1M588.2 60.9h.1M587.5 59.0h.1M585.9 59.3h.1M590.9 55.4h.1M593.5 57.7h.1M587.1 55.4h.1M590.9 53.4h.1M586.6 53.6h.1M590.7 64.1h.1M588.2 64.9h.1M596.9 57.0h.1M590.5 59.0h.1M589.5 62.5h.1M588.7 51.5h.1M584.3 51.1h.1M586.9 62.6h.1M584.1 56.8h.1M587.6 63.0h.1M594.4 56.1h.1M585.0 50.5h.1M587.6 60.4h.1M597.9 58.2h.1M585.6 48.8h.1M596.8 57.2h.1M588.1 66.0h.1M587.6 50.7h.1M583.1 58.4h.1M597.3 59.4h.1M590.5 63.4h.1M581.3 49.3h.1M590.1 67.5h.1M592.4 62.8h.1M585.6 50.7h.1M588.9 53.0h.1M583.5 56.4h.1M588.3 53.5h.1M590.8 66.1h.1M582.6 50.7h.1M589.6 64.2h.1M586.8 54.1h.1M598.3 59.0h.1M589.2 60.1h.1M587.2 51.9h.1M583.1 55.9h.1M589.4 60.3h.1M598.4 59.0h.1M586.1 50.7h.1M586.7 54.6h.1M591.1 64.8h.1M590.6 61.4h.1M591.5 59.4h.1M584.8 58.3h.1M587.1 64.2h.1M593.6 62.1h.1M584.7 48.1h.1M587.5 60.6h.1M588.8 64.4h.1M582.0 53.9h.1M585.1 55.7h.1M589.0 61.7h.1M581.0 48.0h.1M588.6 62.6h.1M586.9 58.4h.1M589.0 54.2h.1M585.8 59.7h.1M585.6 60.4h.1M595.9 60.1h.1M586.1 60.9h.1M581.6 56.3h.1M584.4 49.5h.1M596.2 57.6h.1M580.5 48.6h.1M584.6 53.5h.1M588.6 63.4h.1M586.9 51.2h.1M582.5 52.1h.1M587.1 62.0h.1M586.1 54.4h.1M584.2 48.7h.1M588.4 63.4h.1M589.7 56.1h.1M591.1 57.1h.1M584.7 48.1h.1M591.9 61.2h.1M593.8 57.2h.1M588.4 65.0h.1M582.0 47.7h.1M590.0 65.9h.1M587.8 51.0h.1M585.9 59.4h.1M586.5 51.4h.1M588.3 62.9h.1M587.5 64.6h.1M589.7 57.6h.1M587.1 56.6h.1M589.9 61.4h.1M590.9 61.4h.1M591.9 59.3h.1M587.9 55.1h.1M591.4 53.8h.1M588.1 56.2h.1M581.0 49.4h.1M584.2 50.2h.1M581.8 47.1h.1M595.0 57.4h.1M582.6 46.8h.1M590.2 65.7h.1M583.9 57.4h.1M590.9 62.3h.1M584.6 58.8h.1M585.7 49.4h.1M589.0 64.3h.1M591.1 53.5h.1M584.5 53.6h.1M588.0 51.5h.1M586.2 50.5h.1M585.9 61.2h.1M592.5 60.0h.1M582.6 54.7h.1M590.5 62.9h.1M589.5 60.7h.1M590.1 63.0h.1M582.2 57.6h.1M591.9 58.4h.1M591.7 55.6h.1M591.2 65.2h.1M587.6 54.6h.1M595.7 57.0h.1M586.6 60.3h.1M588.5 59.8h.1M589.8 62.2h.1M586.0 55.7h.1M592.6 57.8h.1M592.3 54.9h.1M586.5 55.4h.1M588.9 52.0h.1M590.3 66.5h.1M587.6 60.5h.1M590.1 57.7h.1M581.8 51.3h.1M589.6 59.2h.1M585.7 54.9h.1M590.1 65.9h.1M590.1 63.0h.1M597.9 57.7h.1M592.6 60.5h.1M587.8 51.7h.1M597.9 57.7h.1M583.3 58.8h.1M587.5 53.7h.1M593.6 56.2h.1M584.9 54.7h.1M596.3 57.8h.1M589.2 62.1h.1M584.0 55.3h.1M589.7 52.8h.1M584.9 55.7h.1M581.0 48.8h.1M588.9 56.6h.1M593.5 56.8h.1M584.4 54.2h.1M583.8 54.5h.1M581.1 49.8h.1M594.2 55.8h.1M586.6 60.6h.1M591.5 57.8h.1M582.5 57.6h.1M593.6 61.9h.1M583.5 57.2h.1M589.9 56.7h.1M584.0 60.2h.1M585.9 60.7h.1M581.5 53.2h.1M592.7 57.5h.1M588.3 52.3h.1M587.7 55.8h.1M592.6 57.8h.1M588.9 56.0h.1M596.3 58.0h.1M587.2 60.9h.1M591.0 64.8h.1M589.6 64.6h.1M588.9 62.3h.1M595.5 61.1h.1M583.4 52.9h.1M585.6 52.0h.1M591.7 53.7h.1M592.2 58.9h.1M588.6 62.6h.1M588.8 53.5h.1M597.4 57.5h.1M594.2 60.6h.1M582.5 54.1h.1M589.9 67.3h.1M589.3 54.6h.1M587.6 51.4h.1M586.5 49.7h.1M590.0 60.3h.1M589.6 54.4h.1M597.7 59.2h.1M583.8 52.4h.1M587.9 58.6h.1M587.5 51.4h.1M590.7 62.4h.1M589.7 57.7h.1M592.7 60.2h.1M588.4 65.1h.1M588.5 55.0h.1M588.6 65.9h.1M594.6 60.5h.1M586.8 49.7h.1M584.8 56.6h.1M590.1 61.3h.1M592.3 54.3h.1M589.6 53.6h.1M587.4 62.8h.1M585.3 52.6h.1M584.0 48.2h.1M587.5 61.8h.1M583.9 51.9h.1M581.6 54.8h.1M591.8 59.4h.1M592.9 57.9h.1M594.0 59.6h.1M586.5 50.6h.1M583.6 49.1h.1M591.2 55.5h.1M581.5 46.7h.1M591.2 65.2h.1M597.6 57.8h.1M598.5 58.7h.1M588.7 55.7h.1M589.9 54.9h.1M588.7 60.6h.1M591.1 54.0h.1M582.8 47.4h.1M581.4 51.0h.1M582.8 55.4h.1M593.2 55.6h.1M585.8 55.9h.1M589.2 58.9h.1M583.9 49.9h.1M583.1 55.4h.1M596.3 58.2h.1M585.3 55.9h.1M587.1 61.7h.1M590.0 56.8h.1M583.2 49.2h.1M582.3 49.6h.1M597.8 59.4h.1M584.6 58.2h.1M589.8 54.2h.1M585.4 58.5h.1M592.9 62.2h.1M593.0 61.4h.1M593.5 61.7h.1M584.8 59.9h.1M585.1 51.6h.1M583.9 59.9h.1M593.4 56.9h.1M581.7 47.4h.1M586.0 59.5h.1M588.5 58.8h.1M582.3 53.8h.1M594.4 56.0h.1M587.6 55.7h.1M593.2 59.6h.1M590.2 65.8h.1M588.0 53.1h.1M589.7 65.3h.1M592.0 59.2h.1M593.0 59.8h.1M583.0 48.6h.1" stroke="#f0963a" stroke-opacity="0.42" stroke-width="0.8" stroke-linecap="square" fill="none"/>
<path d="M594.9 63.8h.1M593.7 59.1h.1M591.3 58.7h.1M595.4 62.3h.1M593.6 60.1h.1M591.7 55.6h.1M590.8 59.5h.1M595.9 60.4h.1M593.6 58.6h.1M593.0 58.1h.1M591.8 61.8h.1M596.0 59.9h.1M591.1 57.4h.1M595.9 63.8h.1M593.6 57.8h.1M597.5 57.1h.1M595.0 57.3h.1M598.6 59.2h.1M591.0 53.2h.1M595.6 57.1h.1M594.3 60.9h.1M596.0 63.1h.1M592.7 57.5h.1M592.5 61.6h.1M598.2 58.8h.1M591.4 53.4h.1M593.0 60.2h.1M598.3 61.7h.1M595.4 56.1h.1M595.6 58.9h.1M593.6 58.5h.1M597.5 62.1h.1M597.5 57.2h.1M591.5 61.4h.1M596.2 59.6h.1M595.8 60.2h.1M598.0 62.1h.1M597.8 61.2h.1M591.8 60.8h.1M594.4 55.8h.1M595.3 57.3h.1M595.5 55.9h.1M591.1 61.4h.1M599.9 59.4h.1M594.9 61.3h.1M592.7 57.9h.1M593.5 57.1h.1M595.7 59.0h.1M592.5 56.5h.1M591.6 53.7h.1M593.8 59.7h.1M597.5 60.9h.1M593.0 56.9h.1M590.5 60.8h.1M596.3 60.4h.1M592.0 58.0h.1M592.1 55.5h.1M597.4 60.4h.1M591.2 55.2h.1M596.9 56.9h.1M591.0 56.2h.1M598.4 61.6h.1M595.0 56.2h.1M591.0 54.3h.1M599.3 60.4h.1M593.6 57.9h.1M595.4 57.5h.1M592.5 54.0h.1M593.1 59.8h.1M595.4 57.9h.1M591.7 61.3h.1M598.8 59.1h.1M590.8 60.3h.1M596.6 60.5h.1M596.8 59.5h.1M596.9 63.3h.1M595.4 61.2h.1M595.0 62.0h.1M590.9 56.9h.1M595.5 57.2h.1M590.7 57.8h.1M596.5 61.9h.1M592.4 62.4h.1M594.1 62.6h.1M591.6 56.2h.1M594.0 57.4h.1M595.7 56.4h.1M591.3 58.7h.1M595.2 62.8h.1M596.0 58.5h.1M592.3 61.7h.1M593.0 62.0h.1M591.6 54.3h.1M595.0 59.0h.1M592.3 56.5h.1M591.0 54.8h.1M595.6 59.7h.1M598.0 58.2h.1M594.6 62.9h.1M598.3 59.0h.1M594.2 63.6h.1M590.8 56.4h.1M596.5 57.0h.1M596.8 61.7h.1M593.1 58.4h.1M591.9 58.1h.1M592.2 61.0h.1M592.5 57.8h.1M592.3 54.0h.1M595.5 57.0h.1" stroke="#f0963a" stroke-opacity="0.45" stroke-width="0.8" stroke-linecap="square" fill="none"/>
<path d="M578.8 102.5h.1M579.5 104.8h.1M576.8 113.7h.1M575.0 88.3h.1M573.9 89.4h.1M574.1 114.1h.1M572.7 122.8h.1M579.8 106.3h.1M572.0 121.9h.1M575.1 113.1h.1M575.9 90.6h.1M577.4 111.5h.1M576.7 96.3h.1M576.9 100.2h.1M579.3 96.7h.1M575.0 118.7h.1M578.8 98.8h.1M576.7 111.5h.1M577.0 96.3h.1M580.2 103.6h.1M577.1 96.1h.1M575.0 89.3h.1M574.7 116.6h.1M577.9 98.7h.1M577.3 96.1h.1M577.2 94.7h.1M573.1 118.4h.1M575.0 89.5h.1M580.3 102.0h.1M579.4 103.4h.1M575.8 119.3h.1M572.1 122.2h.1M574.3 114.8h.1M580.5 103.2h.1M570.8 124.5h.1M575.5 116.6h.1M577.0 97.1h.1M580.2 107.4h.1M571.8 122.8h.1M581.3 105.6h.1M579.9 109.0h.1M572.8 118.2h.1M578.2 96.8h.1M576.8 113.5h.1M576.3 96.9h.1M577.0 113.7h.1M574.8 114.0h.1M580.6 101.7h.1M578.3 104.6h.1M574.3 93.8h.1M577.1 109.3h.1M580.1 106.7h.1M575.8 114.6h.1M576.7 112.2h.1M579.7 105.2h.1M577.6 104.0h.1M575.7 90.4h.1M575.2 89.4h.1M578.1 90.3h.1M572.5 121.4h.1M571.0 120.9h.1M578.9 98.8h.1M578.6 102.0h.1M573.0 118.5h.1M571.8 118.4h.1M575.7 93.3h.1M572.2 121.2h.1M580.1 106.1h.1M578.1 104.7h.1M576.2 93.0h.1M577.3 101.3h.1M576.2 88.7h.1M576.3 111.7h.1M576.2 98.9h.1M577.3 100.2h.1M579.1 106.2h.1M575.1 114.8h.1M575.9 92.1h.1M576.1 90.1h.1M577.9 111.2h.1M577.7 101.4h.1M573.2 90.8h.1M576.8 103.0h.1M579.5 103.5h.1M574.3 114.0h.1M578.7 100.7h.1M577.0 95.8h.1M574.8 92.8h.1M580.8 103.7h.1M574.4 90.0h.1M571.7 119.7h.1M577.8 98.8h.1M572.9 116.9h.1M578.8 99.1h.1M579.0 107.1h.1M572.8 118.7h.1M574.0 117.9h.1M576.6 112.7h.1M579.7 103.9h.1M570.4 121.9h.1M576.6 93.3h.1M574.1 117.8h.1M576.5 99.1h.1M576.5 92.3h.1M575.2 96.4h.1M578.2 101.5h.1M580.1 104.6h.1M579.0 103.5h.1M574.7 87.7h.1M573.5 121.7h.1M579.7 105.9h.1M579.3 105.9h.1M575.6 89.9h.1M571.8 120.6h.1M577.0 91.7h.1M577.1 108.5h.1M576.6 88.8h.1M577.2 89.1h.1M578.5 102.0h.1M580.0 103.2h.1M577.5 96.2h.1M576.3 115.6h.1M580.2 106.5h.1M575.6 99.0h.1M577.0 114.1h.1M578.5 103.7h.1M574.8 88.3h.1M577.4 108.1h.1M578.0 101.6h.1M579.9 104.8h.1M576.8 114.5h.1M574.3 115.0h.1M570.3 123.8h.1M579.2 100.2h.1M575.7 114.7h.1M575.5 116.2h.1M576.2 111.4h.1M576.9 103.7h.1M570.2 119.9h.1M575.3 89.7h.1M578.9 104.3h.1M575.2 88.9h.1M576.2 93.9h.1M577.6 102.7h.1M573.6 89.4h.1M578.2 101.5h.1M579.1 104.0h.1M574.7 87.9h.1M576.3 113.4h.1M572.6 121.7h.1M575.5 114.3h.1M575.7 112.4h.1M576.1 90.6h.1M576.5 97.3h.1M576.2 87.9h.1M575.0 92.4h.1M579.6 105.2h.1M576.0 116.8h.1M579.2 103.3h.1M571.6 123.4h.1M578.7 99.9h.1M574.4 89.4h.1M575.9 114.3h.1M575.4 114.0h.1M578.6 100.6h.1M574.4 88.9h.1M576.0 110.9h.1M576.5 92.3h.1M578.6 110.4h.1M570.3 122.7h.1M580.3 101.5h.1M572.5 120.3h.1M577.0 95.4h.1M577.2 113.2h.1M571.4 122.5h.1M573.4 121.1h.1M578.8 108.2h.1M578.0 96.6h.1M577.3 95.2h.1M575.4 91.1h.1M575.0 116.1h.1M578.5 101.2h.1M573.5 118.7h.1M574.5 89.6h.1M580.5 104.8h.1M577.5 103.1h.1M578.4 107.4h.1M576.6 96.8h.1M575.0 92.7h.1M579.4 102.1h.1M579.4 101.9h.1M577.2 97.4h.1M580.5 103.1h.1M577.7 110.7h.1M574.1 88.8h.1M578.8 102.6h.1M570.8 123.7h.1M575.3 92.5h.1M580.2 103.0h.1M579.9 108.1h.1M577.1 97.2h.1M579.9 104.1h.1M573.3 121.6h.1M578.6 106.9h.1M577.8 100.5h.1M574.1 118.0h.1M575.9 96.3h.1M576.7 91.3h.1M573.4 116.7h.1M576.7 100.9h.1M579.4 103.7h.1M577.5 100.6h.1M574.4 90.2h.1M579.5 107.7h.1M579.1 112.5h.1M577.7 100.0h.1M572.0 119.9h.1M578.2 98.9h.1M570.5 123.8h.1M574.1 116.5h.1M577.4 97.7h.1M579.8 105.7h.1M580.6 102.4h.1M578.6 108.1h.1M578.1 108.9h.1M576.4 104.4h.1M576.1 86.6h.1M576.6 98.1h.1M572.1 118.7h.1M568.9 124.2h.1M576.4 111.8h.1M578.1 97.5h.1M579.1 104.2h.1M576.6 107.1h.1M575.8 94.4h.1M575.1 110.5h.1M578.3 104.6h.1M575.6 117.3h.1M574.0 91.9h.1M574.4 91.0h.1M578.7 108.6h.1M579.8 109.0h.1M578.6 108.5h.1M578.2 97.2h.1M577.6 101.5h.1M579.4 105.3h.1M576.3 114.4h.1M579.9 106.3h.1M578.4 92.3h.1M577.7 99.3h.1M571.3 119.6h.1M576.3 93.7h.1M577.9 106.0h.1M579.0 104.7h.1M576.1 117.8h.1M574.7 114.3h.1M569.4 123.8h.1M576.4 114.1h.1M580.7 106.5h.1M575.3 95.7h.1M572.0 123.9h.1M574.4 113.6h.1M576.4 95.0h.1M576.7 94.2h.1M576.3 93.4h.1M578.4 98.8h.1M579.4 104.0h.1M576.4 96.6h.1M576.5 95.9h.1M575.1 98.2h.1M578.8 96.9h.1M572.1 118.7h.1M571.9 123.2h.1M579.5 102.6h.1M577.8 91.4h.1M579.2 103.6h.1M575.3 115.9h.1M578.5 109.4h.1M576.8 90.5h.1M574.2 112.3h.1M571.6 116.9h.1M576.8 97.6h.1M575.2 111.2h.1M574.6 88.4h.1M576.3 95.0h.1M576.8 108.7h.1M580.0 100.4h.1M578.3 98.2h.1M575.7 88.8h.1M579.5 107.1h.1M577.6 101.5h.1M577.4 97.3h.1M571.5 122.2h.1M575.2 117.0h.1M573.7 120.4h.1M579.1 104.2h.1M575.1 93.6h.1M575.9 95.5h.1M575.6 89.0h.1M579.1 104.5h.1M576.6 95.9h.1M576.2 97.8h.1M578.8 110.7h.1M578.1 106.9h.1M573.1 117.1h.1M576.8 118.8h.1M577.5 101.9h.1M576.9 113.8h.1M575.6 92.4h.1M578.8 112.3h.1M575.0 90.3h.1M577.1 97.9h.1M577.7 104.7h.1M572.4 123.2h.1M578.5 107.8h.1M575.0 87.9h.1M579.3 96.5h.1M576.9 96.8h.1M572.0 120.8h.1M576.3 112.6h.1" stroke="#8a62c4" stroke-opacity="0.6" stroke-width="0.7" stroke-linecap="square" fill="none"/>
<path d="M637.6 58.0h.1M629.6 58.7h.1M630.2 59.0h.1M640.0 57.9h.1M636.1 68.2h.1M641.5 63.4h.1M639.0 64.5h.1M641.0 56.2h.1M637.2 65.8h.1M635.3 67.7h.1M637.6 58.8h.1M629.4 54.7h.1M628.1 47.3h.1M626.6 53.1h.1M632.4 56.2h.1M631.6 54.1h.1M641.4 62.1h.1M631.0 47.5h.1M641.5 67.3h.1M640.8 55.4h.1M629.7 46.5h.1M630.1 47.4h.1M630.9 57.9h.1M643.8 58.7h.1M639.6 57.6h.1M639.7 71.4h.1M631.7 57.5h.1M641.2 62.4h.1M632.5 62.5h.1M637.0 61.9h.1M635.2 58.8h.1M629.3 58.8h.1M639.8 59.8h.1M639.6 61.8h.1M636.9 61.4h.1M643.1 60.4h.1M641.3 66.2h.1M637.9 53.6h.1M632.2 55.5h.1M632.6 56.8h.1M635.4 62.3h.1M630.9 53.2h.1M627.6 51.2h.1M637.1 58.6h.1M631.3 56.0h.1M635.2 67.4h.1M637.2 69.4h.1M642.2 63.9h.1M637.6 54.8h.1M628.5 47.1h.1M634.3 54.5h.1M638.2 61.6h.1M643.0 58.4h.1M640.7 74.5h.1M628.4 56.5h.1M640.3 69.0h.1M632.1 58.1h.1M642.3 63.4h.1M634.1 52.1h.1M642.2 63.0h.1M638.3 58.1h.1M642.6 56.9h.1M640.0 66.1h.1M631.3 49.6h.1M637.6 61.0h.1M640.8 64.0h.1M631.2 53.4h.1M635.7 62.0h.1M641.6 62.8h.1M627.4 46.7h.1M636.0 53.0h.1M637.2 62.9h.1M641.8 65.0h.1M632.9 63.3h.1M627.4 54.8h.1M639.2 64.2h.1M628.7 48.6h.1M638.1 58.1h.1M636.2 61.7h.1M633.0 50.8h.1M630.8 56.2h.1M643.5 59.2h.1M641.3 68.3h.1M638.5 69.1h.1M640.6 59.3h.1M640.5 69.5h.1M631.8 61.5h.1M638.5 64.5h.1M637.8 57.3h.1M632.6 49.1h.1M635.5 55.6h.1M639.1 72.0h.1M631.3 47.8h.1M640.4 68.6h.1M640.4 55.2h.1M636.7 63.4h.1M633.3 54.4h.1M627.0 47.8h.1M628.1 58.4h.1M632.5 62.8h.1M640.8 59.0h.1M640.5 64.4h.1M631.4 60.7h.1M640.4 71.8h.1M642.3 61.9h.1M634.6 51.6h.1M643.4 63.0h.1M637.5 69.0h.1M638.0 58.3h.1M629.9 56.8h.1M630.3 51.9h.1M638.6 53.7h.1M629.8 46.8h.1M629.3 50.4h.1M632.3 60.0h.1M627.7 50.4h.1M627.5 52.2h.1M628.6 46.9h.1M642.8 61.4h.1M635.7 60.8h.1M638.3 72.0h.1M632.1 63.1h.1M639.1 71.6h.1M639.8 54.4h.1M630.3 51.9h.1M637.2 66.8h.1M630.3 58.0h.1M628.0 47.0h.1M631.1 56.8h.1M640.7 74.8h.1M631.0 49.4h.1M626.3 50.3h.1M636.5 51.7h.1M630.2 55.8h.1M637.4 62.4h.1M642.1 58.9h.1M635.0 65.2h.1M639.4 54.9h.1M637.2 59.1h.1M629.8 49.5h.1M641.5 56.3h.1M632.7 54.5h.1M632.4 62.6h.1M631.9 53.0h.1M632.1 60.1h.1M640.2 58.3h.1M637.2 60.6h.1M638.1 57.3h.1M641.5 63.7h.1M627.6 53.8h.1M640.4 56.8h.1M644.0 62.8h.1M641.0 66.9h.1M628.8 57.9h.1M632.2 51.6h.1M628.6 55.7h.1M640.8 70.6h.1M631.3 51.8h.1M637.6 56.0h.1M631.4 47.8h.1M635.6 68.3h.1M641.0 67.9h.1M638.9 71.7h.1M638.1 54.7h.1M633.3 63.4h.1M630.5 56.4h.1M638.8 61.0h.1M636.3 58.7h.1M639.0 60.5h.1M633.8 58.1h.1M639.4 58.5h.1M627.2 51.3h.1M633.0 56.5h.1M634.9 50.6h.1M630.5 58.8h.1M631.6 52.6h.1M638.4 56.0h.1M626.6 50.4h.1M641.6 56.9h.1M636.5 59.2h.1M628.7 53.9h.1M635.2 55.4h.1M631.5 51.6h.1M636.6 55.0h.1M639.0 63.3h.1M631.1 53.1h.1M643.7 58.9h.1M633.7 55.4h.1M628.5 57.5h.1M629.3 46.2h.1M628.4 46.4h.1M631.8 58.2h.1M632.2 57.6h.1M640.3 59.3h.1M638.3 59.5h.1M637.5 56.5h.1M632.9 56.4h.1M635.5 63.9h.1M631.3 53.1h.1M636.8 66.8h.1M641.5 59.9h.1M628.8 54.4h.1M643.9 60.5h.1M638.5 57.1h.1M640.5 61.7h.1M631.4 59.0h.1M630.0 58.8h.1M634.6 61.5h.1M638.8 66.6h.1M626.8 51.8h.1M628.1 55.0h.1M631.5 58.4h.1M636.0 62.0h.1M631.7 55.9h.1M629.0 53.6h.1M642.0 65.5h.1M638.2 68.9h.1M632.2 54.9h.1M630.9 51.6h.1M636.1 61.8h.1M629.6 46.8h.1M626.3 51.0h.1M642.0 61.6h.1M638.7 57.9h.1M633.5 56.7h.1M628.7 56.4h.1M638.3 59.7h.1M635.7 57.0h.1M632.9 53.4h.1M638.2 67.6h.1M635.9 59.7h.1M631.0 55.1h.1M631.7 62.0h.1M629.4 47.8h.1M639.8 69.6h.1M628.0 45.1h.1M641.9 56.7h.1M641.3 63.0h.1M636.2 60.3h.1M637.5 60.3h.1M643.5 59.6h.1M638.3 55.0h.1M630.6 52.5h.1M635.2 66.4h.1M627.8 45.9h.1M640.6 59.5h.1M635.1 62.0h.1M627.9 51.7h.1M631.7 58.7h.1M645.2 60.7h.1M632.1 61.4h.1M628.0 45.3h.1M640.9 60.7h.1M629.0 57.2h.1M631.3 59.8h.1M635.3 64.7h.1M631.2 51.2h.1M641.2 65.8h.1M629.7 51.2h.1M628.4 48.8h.1M635.8 66.9h.1M635.1 61.8h.1M639.5 71.2h.1M631.7 50.4h.1M628.4 55.2h.1M634.2 64.7h.1M639.8 57.6h.1M643.9 60.5h.1M641.1 63.2h.1M640.2 68.9h.1M633.6 58.7h.1M638.2 67.6h.1M637.7 55.9h.1M635.6 60.8h.1M633.4 54.6h.1M627.1 46.2h.1M628.9 46.9h.1M636.3 54.8h.1M637.6 67.0h.1M634.9 58.0h.1M635.4 61.1h.1M630.1 56.3h.1M629.5 59.1h.1M634.5 61.1h.1M639.6 67.7h.1M633.7 57.7h.1M630.5 50.3h.1M635.8 54.3h.1M636.8 63.0h.1M629.4 51.5h.1M630.0 55.4h.1M631.9 51.4h.1M632.4 48.7h.1M628.0 44.9h.1M630.8 61.0h.1M632.0 57.2h.1M640.8 65.9h.1M633.0 62.8h.1M637.4 60.4h.1M629.3 46.5h.1M627.3 50.6h.1M635.7 55.4h.1M639.3 59.3h.1M636.2 66.6h.1M630.8 49.8h.1M640.5 70.0h.1M636.0 61.4h.1M635.2 59.0h.1M634.2 56.3h.1M636.1 55.5h.1M637.8 55.9h.1M636.2 58.6h.1M641.6 61.3h.1M630.8 49.5h.1M637.5 54.1h.1M628.6 50.1h.1M627.3 45.5h.1M635.9 58.9h.1M634.0 60.9h.1M631.9 53.5h.1M636.3 62.4h.1M636.2 61.6h.1M638.3 65.1h.1M636.0 63.6h.1M629.0 56.2h.1M635.0 50.8h.1M632.6 50.0h.1M633.8 51.9h.1M639.1 71.3h.1M634.1 63.1h.1M629.5 47.5h.1M629.9 59.6h.1M641.6 62.4h.1M630.5 55.7h.1M638.1 66.0h.1M638.0 60.9h.1M631.8 51.8h.1M635.5 56.8h.1M635.4 55.6h.1M635.5 57.4h.1" stroke="#f0963a" stroke-opacity="0.42" stroke-width="0.8" stroke-linecap="square" fill="none"/>
<path d="M640.5 57.5h.1M645.3 59.8h.1M636.6 56.4h.1M636.6 61.5h.1M644.6 61.3h.1M638.7 62.1h.1M638.2 61.4h.1M640.3 61.7h.1M639.4 58.0h.1M641.9 65.3h.1M642.2 65.1h.1M639.9 59.3h.1M639.7 58.4h.1M642.9 60.4h.1M637.9 56.7h.1M640.6 62.9h.1M639.6 58.8h.1M639.4 60.5h.1M638.9 55.5h.1M639.0 59.9h.1M636.2 59.0h.1M637.7 58.8h.1M638.9 63.3h.1M641.1 57.0h.1M642.0 59.7h.1M638.1 63.3h.1M641.5 58.8h.1M640.8 59.2h.1M637.4 62.0h.1M644.6 61.1h.1M641.6 58.9h.1M644.0 59.9h.1M639.7 58.9h.1M640.9 62.8h.1M644.2 58.8h.1M644.7 59.1h.1M638.4 58.9h.1M638.8 59.4h.1M641.1 61.4h.1M636.1 61.3h.1M639.8 61.5h.1M639.0 63.8h.1M638.1 55.0h.1M643.4 61.6h.1M637.7 58.1h.1M640.2 56.4h.1M641.7 59.1h.1M641.9 63.2h.1M637.7 57.2h.1M642.8 61.2h.1M639.0 57.1h.1M638.8 59.1h.1M638.2 59.7h.1M637.9 61.1h.1M641.3 63.9h.1M642.1 57.5h.1M640.2 61.8h.1M643.6 61.3h.1M640.1 61.7h.1M641.4 57.8h.1M637.6 59.6h.1M641.8 61.0h.1M638.8 55.4h.1M639.4 62.6h.1M639.4 58.0h.1M641.5 57.2h.1M641.2 63.9h.1M637.5 62.0h.1M638.8 56.4h.1M640.2 61.5h.1M640.2 58.7h.1M642.4 60.0h.1M637.4 59.2h.1M638.9 60.4h.1M638.5 57.2h.1M636.6 60.1h.1M640.9 61.6h.1M640.2 63.0h.1M642.0 61.5h.1M637.9 55.9h.1M640.1 63.7h.1M640.1 63.2h.1M640.7 63.8h.1M637.0 61.7h.1M638.5 58.7h.1M636.5 62.2h.1M640.8 61.7h.1M637.8 59.1h.1M644.0 59.8h.1M642.5 64.9h.1M644.6 60.5h.1M640.1 57.6h.1M638.6 57.5h.1M638.5 58.3h.1M642.2 59.6h.1M639.6 56.7h.1M636.5 58.3h.1M636.3 59.8h.1M642.4 59.3h.1M642.9 60.8h.1M640.3 58.4h.1M639.1 56.2h.1M642.5 62.9h.1M638.0 63.4h.1M645.2 59.5h.1M639.7 63.7h.1M640.1 63.2h.1M638.7 56.6h.1M641.7 60.6h.1M639.3 62.2h.1M638.4 63.7h.1M638.4 58.6h.1M641.4 65.4h.1M644.5 61.1h.1M641.4 58.0h.1M643.1 60.3h.1M642.9 64.0h.1M643.2 59.1h.1M644.6 61.8h.1M643.8 58.6h.1M639.3 64.2h.1M638.0 62.7h.1M637.8 59.4h.1M640.4 63.4h.1M638.1 58.0h.1M637.1 55.9h.1M639.0 57.1h.1M637.6 56.7h.1M638.1 57.9h.1M641.8 60.9h.1M636.5 61.2h.1M638.2 57.4h.1M637.8 58.1h.1" stroke="#f0963a" stroke-opacity="0.45" stroke-width="0.8" stroke-linecap="square" fill="none"/>
<path d="M620.8 76.7h.1M626.0 66.8h.1M627.9 64.2h.1M619.9 71.5h.1M617.7 82.7h.1M622.5 71.8h.1M618.7 69.0h.1M618.9 69.6h.1M625.2 62.1h.1M627.1 59.4h.1M620.2 71.4h.1M615.4 83.9h.1M623.5 63.6h.1M619.2 76.1h.1M618.5 70.8h.1M617.1 81.5h.1M612.7 78.9h.1M621.9 67.0h.1M617.9 81.7h.1M614.5 75.3h.1M612.8 85.6h.1M610.3 84.9h.1M617.5 84.7h.1M625.9 62.9h.1M616.5 81.4h.1M621.8 68.2h.1M615.9 72.9h.1M618.5 76.9h.1M615.2 82.3h.1M624.0 65.3h.1M615.8 81.7h.1M625.4 69.8h.1M627.2 61.2h.1M613.0 83.7h.1M617.8 81.8h.1M614.8 79.4h.1M613.7 77.7h.1M618.1 70.2h.1M610.9 80.5h.1M616.9 72.3h.1M624.7 61.7h.1M616.8 75.4h.1M619.2 73.2h.1M615.3 74.1h.1M620.2 66.9h.1M615.2 83.0h.1M615.2 82.2h.1M625.7 64.5h.1M618.3 82.0h.1M614.0 75.8h.1M620.3 66.9h.1M615.7 77.2h.1M611.2 81.1h.1M619.5 69.0h.1M620.4 79.7h.1M622.9 66.3h.1M612.6 85.9h.1M623.8 62.7h.1M612.5 81.7h.1M621.2 67.7h.1M620.0 75.3h.1M615.5 83.3h.1M621.9 67.1h.1M613.0 76.9h.1M622.1 64.4h.1M615.9 79.2h.1M624.6 68.7h.1M628.6 63.9h.1M620.3 70.2h.1M624.3 69.6h.1M625.7 69.2h.1M623.3 72.9h.1M614.9 76.9h.1M613.2 80.2h.1M627.9 64.8h.1M614.0 81.2h.1M619.2 78.3h.1M622.6 64.5h.1M622.5 70.5h.1M617.8 70.0h.1M627.4 65.2h.1M617.1 80.9h.1M617.2 81.7h.1M616.7 76.3h.1M612.7 77.3h.1M613.5 78.2h.1M615.5 85.9h.1M625.2 62.7h.1M618.9 81.6h.1M624.1 63.8h.1M615.7 71.7h.1M628.4 63.7h.1M618.6 80.8h.1M618.1 70.6h.1M624.2 69.3h.1" stroke="#e8363a" stroke-opacity="0.45" stroke-width="0.8" stroke-linecap="square" fill="none"/>
<path d="M628.7 112.9h.1M627.9 107.4h.1M634.7 106.9h.1M631.8 108.5h.1M640.7 97.1h.1M637.2 96.7h.1M629.3 106.8h.1M636.9 104.7h.1M636.8 104.2h.1M633.5 101.3h.1M633.0 100.2h.1M640.4 95.9h.1M639.1 99.9h.1M633.8 103.9h.1M637.0 96.8h.1M630.6 110.2h.1M635.5 104.1h.1M630.6 111.1h.1M634.3 102.0h.1M634.1 105.2h.1M628.3 110.2h.1M638.8 100.0h.1M633.4 104.2h.1M636.6 96.7h.1M627.6 111.7h.1M629.3 105.8h.1M631.0 109.2h.1M627.7 112.0h.1M629.7 109.3h.1M627.3 109.4h.1M625.6 112.2h.1M629.9 111.5h.1M622.6 111.0h.1M640.8 98.6h.1M628.7 110.1h.1M634.7 98.4h.1M633.9 107.7h.1M641.7 99.5h.1M630.7 110.4h.1M640.0 98.0h.1M630.6 110.5h.1M638.5 96.5h.1" stroke="#8a62c4" stroke-opacity="0.4" stroke-width="0.7" stroke-linecap="square" fill="none"/>
<path d="M581.0,60.0 C582.2,59.8 583.3,61.2 583.0,62.5 C582.7,63.8 580.3,65.8 579.0,68.0 C577.7,70.2 576.2,73.3 575.0,76.0 C573.8,78.7 573.3,81.9 572.0,84.0 C570.7,86.1 568.6,88.2 567.0,88.5 C565.4,88.8 563.2,87.4 562.5,86.0 C561.8,84.6 561.6,82.3 562.5,80.0 C563.4,77.7 565.8,74.7 568.0,72.0 C570.2,69.3 573.8,66.0 576.0,64.0 C578.2,62.0 579.8,60.2 581.0,60.0 Z" fill="#e8363a" fill-opacity="0.95" />
<path d="M567.4 83.4h.1M573.9 77.4h.1M565.5 78.0h.1M566.0 83.2h.1M564.3 82.2h.1M566.6 76.0h.1M571.5 80.1h.1M564.1 83.9h.1M564.1 82.3h.1M571.6 82.1h.1M581.7 61.6h.1M572.2 81.0h.1M572.4 81.7h.1M581.4 63.2h.1M570.5 73.6h.1M580.6 63.9h.1M567.9 82.0h.1M567.3 74.3h.1M572.5 67.6h.1M579.7 62.9h.1M575.2 68.4h.1M568.2 72.9h.1M566.4 76.9h.1M565.9 87.1h.1M570.4 73.1h.1M572.5 79.8h.1M578.3 65.5h.1M567.6 84.6h.1M569.1 86.0h.1M572.3 81.4h.1M572.8 71.4h.1M577.0 68.8h.1M564.1 79.2h.1M582.4 61.7h.1M573.1 77.8h.1M582.1 62.5h.1M571.8 77.7h.1M579.9 61.3h.1M577.8 64.2h.1M579.9 62.2h.1M573.6 79.1h.1M577.2 65.1h.1M572.4 75.4h.1M578.3 69.2h.1M570.4 78.8h.1M576.8 66.0h.1M568.8 79.1h.1M569.5 78.4h.1M578.6 66.1h.1M565.7 79.1h.1M571.7 68.6h.1M567.4 86.9h.1M572.3 79.4h.1M571.1 74.9h.1M573.6 73.5h.1M570.4 84.7h.1M571.3 81.4h.1M581.1 64.7h.1M572.6 68.4h.1M578.7 64.9h.1M574.6 74.5h.1M575.0 72.1h.1M568.2 75.3h.1M573.1 76.7h.1M580.4 60.9h.1M577.2 64.7h.1M568.2 87.0h.1M573.7 72.8h.1M570.4 71.7h.1M572.0 70.5h.1M568.3 82.6h.1M569.3 73.6h.1M577.7 66.5h.1M567.2 73.9h.1M578.5 68.7h.1M567.3 81.8h.1M574.7 74.2h.1M579.2 61.4h.1M579.0 67.3h.1M568.2 86.8h.1M580.1 62.7h.1M581.4 63.3h.1M568.4 72.6h.1M571.0 80.6h.1M572.4 79.4h.1M570.4 82.9h.1M565.2 86.2h.1M573.6 79.4h.1M564.6 79.0h.1M565.1 79.4h.1" stroke="#ffffff" stroke-opacity="0.3" stroke-width="0.6" stroke-linecap="square" fill="none"/>
<path d="M582.1 59.2h.1M575.9 66.4h.1M577.8 64.6h.1M582.3 60.8h.1M582.4 60.1h.1M576.9 65.2h.1M582.7 61.1h.1M579.0 66.9h.1M578.6 62.4h.1M578.1 66.1h.1M582.0 61.8h.1M579.4 61.6h.1M580.7 64.0h.1M580.9 64.1h.1M579.8 61.7h.1M581.9 60.8h.1M578.8 62.2h.1M578.7 62.9h.1M580.5 63.9h.1M580.1 64.4h.1M582.3 61.2h.1M579.8 64.7h.1M576.6 66.0h.1M580.2 65.1h.1M579.6 60.6h.1M582.4 59.5h.1M580.8 63.6h.1M576.2 65.3h.1M577.7 66.0h.1M575.6 68.3h.1M580.2 60.4h.1M580.1 63.4h.1M580.0 62.3h.1M575.5 66.9h.1M578.8 64.6h.1M577.4 68.4h.1M577.4 64.3h.1M578.0 67.8h.1M579.9 59.6h.1M576.8 68.4h.1M581.1 62.0h.1M579.6 66.2h.1M582.9 61.6h.1M579.6 63.8h.1M580.4 59.6h.1M580.3 63.7h.1M575.8 66.4h.1M579.0 66.1h.1M580.5 60.7h.1M580.2 63.3h.1M577.3 64.4h.1M579.1 60.9h.1M575.9 66.9h.1M577.5 65.2h.1M581.5 58.8h.1M579.3 63.1h.1M578.4 62.3h.1M582.4 60.2h.1M577.0 64.5h.1M579.5 65.6h.1" stroke="#e8363a" stroke-opacity="0.6" stroke-width="0.8" stroke-linecap="square" fill="none"/>
<text x="142.5" y="120.6" font-size="11" font-weight="bold" fill="#000">d</text>
<line x1="199.6" y1="128.6" x2="199.6" y2="202.4" stroke="#555" stroke-width="0.6"/>
<line x1="199.6" y1="202.4" x2="412.0" y2="202.4" stroke="#555" stroke-width="0.6"/>
<text x="196.5" y="139.5" font-size="6.5" text-anchor="end" fill="#231f20" stroke="#231f20"><tspan>tT</tspan><tspan font-size="4.0" dy="1.8">reg</tspan></text>
<line x1="197.8" y1="137.2" x2="199.6" y2="137.2" stroke="#555" stroke-width="0.5"/>
<text x="196.5" y="153.7" font-size="6.5" text-anchor="end" fill="#231f20" stroke="#231f20"><tspan>Ki-67</tspan><tspan font-size="4.0" dy="-2.5">+</tspan><tspan dy="2.5"> tT</tspan><tspan font-size="4.0" dy="1.8">reg</tspan></text>
<line x1="197.8" y1="151.4" x2="199.6" y2="151.4" stroke="#555" stroke-width="0.5"/>
<text x="196.5" y="168.0" font-size="6.5" text-anchor="end" fill="#231f20" stroke="#231f20"><tspan>OT-II T</tspan><tspan font-size="4.0" dy="1.8">conv</tspan></text>
<line x1="197.8" y1="165.7" x2="199.6" y2="165.7" stroke="#555" stroke-width="0.5"/>
<text x="196.5" y="182.2" font-size="6.5" text-anchor="end" fill="#231f20" stroke="#231f20"><tspan>OT-II pT</tspan><tspan font-size="4.0" dy="1.8">reg</tspan></text>
<line x1="197.8" y1="179.9" x2="199.6" y2="179.9" stroke="#555" stroke-width="0.5"/>
<text x="196.5" y="196.6" font-size="6.5" text-anchor="end" fill="#231f20" stroke="#231f20"><tspan>OT-II Ki-67</tspan><tspan font-size="4.0" dy="-2.5">+</tspan><tspan dy="2.5"> pT</tspan><tspan font-size="4.0" dy="1.8">reg</tspan></text>
<line x1="197.8" y1="194.3" x2="199.6" y2="194.3" stroke="#555" stroke-width="0.5"/>
<line x1="204.0" y1="202.4" x2="204.0" y2="204.2" stroke="#555" stroke-width="0.5"/>
<g transform="translate(204.0,206.0) rotate(-90)"><text x="0" y="2.3" font-size="6.3" text-anchor="end" fill="#231f20" stroke="#231f20"><tspan font-style="italic">Il2ra</tspan></text></g>
<line x1="211.3" y1="202.4" x2="211.3" y2="204.2" stroke="#555" stroke-width="0.5"/>
<g transform="translate(211.3,206.0) rotate(-90)"><text x="0" y="2.3" font-size="6.3" text-anchor="end" fill="#231f20" stroke="#231f20"><tspan font-style="italic">Foxp3</tspan></text></g>
<line x1="218.6" y1="202.4" x2="218.6" y2="204.2" stroke="#555" stroke-width="0.5"/>
<g transform="translate(218.6,206.0) rotate(-90)"><text x="0" y="2.3" font-size="6.3" text-anchor="end" fill="#231f20" stroke="#231f20"><tspan font-style="italic">Ikzf2</tspan></text></g>
<line x1="225.9" y1="202.4" x2="225.9" y2="204.2" stroke="#555" stroke-width="0.5"/>
<g transform="translate(225.9,206.0) rotate(-90)"><text x="0" y="2.3" font-size="6.3" text-anchor="end" fill="#231f20" stroke="#231f20"><tspan font-style="italic">Sell</tspan></text></g>
<line x1="233.2" y1="202.4" x2="233.2" y2="204.2" stroke="#555" stroke-width="0.5"/>
<g transform="translate(233.2,206.0) rotate(-90)"><text x="0" y="2.3" font-size="6.3" text-anchor="end" fill="#231f20" stroke="#231f20"><tspan font-style="italic">Nrp1</tspan></text></g>
<line x1="240.5" y1="202.4" x2="240.5" y2="204.2" stroke="#555" stroke-width="0.5"/>
<g transform="translate(240.5,206.0) rotate(-90)"><text x="0" y="2.3" font-size="6.3" text-anchor="end" fill="#231f20" stroke="#231f20"><tspan font-style="italic">Entpd1</tspan></text></g>
<line x1="247.8" y1="202.4" x2="247.8" y2="204.2" stroke="#555" stroke-width="0.5"/>
<g transform="translate(247.8,206.0) rotate(-90)"><text x="0" y="2.3" font-size="6.3" text-anchor="end" fill="#231f20" stroke="#231f20"><tspan font-style="italic">Itgae</tspan></text></g>
<line x1="255.1" y1="202.4" x2="255.1" y2="204.2" stroke="#555" stroke-width="0.5"/>
<g transform="translate(255.1,206.0) rotate(-90)"><text x="0" y="2.3" font-size="6.3" text-anchor="end" fill="#231f20" stroke="#231f20"><tspan font-style="italic">Cxcr3</tspan></text></g>
<line x1="262.4" y1="202.4" x2="262.4" y2="204.2" stroke="#555" stroke-width="0.5"/>
<g transform="translate(262.4,206.0) rotate(-90)"><text x="0" y="2.3" font-size="6.3" text-anchor="end" fill="#231f20" stroke="#231f20"><tspan font-style="italic">Rorc</tspan></text></g>
<line x1="269.7" y1="202.4" x2="269.7" y2="204.2" stroke="#555" stroke-width="0.5"/>
<g transform="translate(269.7,206.0) rotate(-90)"><text x="0" y="2.3" font-size="6.3" text-anchor="end" fill="#231f20" stroke="#231f20"><tspan font-style="italic">Il10</tspan></text></g>
<line x1="277.0" y1="202.4" x2="277.0" y2="204.2" stroke="#555" stroke-width="0.5"/>
<g transform="translate(277.0,206.0) rotate(-90)"><text x="0" y="2.3" font-size="6.3" text-anchor="end" fill="#231f20" stroke="#231f20"><tspan font-style="italic">Tcf7</tspan></text></g>
<line x1="284.3" y1="202.4" x2="284.3" y2="204.2" stroke="#555" stroke-width="0.5"/>
<g transform="translate(284.3,206.0) rotate(-90)"><text x="0" y="2.3" font-size="6.3" text-anchor="end" fill="#231f20" stroke="#231f20"><tspan font-style="italic">Ccr7</tspan></text></g>
<line x1="291.6" y1="202.4" x2="291.6" y2="204.2" stroke="#555" stroke-width="0.5"/>
<g transform="translate(291.6,206.0) rotate(-90)"><text x="0" y="2.3" font-size="6.3" text-anchor="end" fill="#231f20" stroke="#231f20"><tspan font-style="italic">Cxcr5</tspan></text></g>
<line x1="298.9" y1="202.4" x2="298.9" y2="204.2" stroke="#555" stroke-width="0.5"/>
<g transform="translate(298.9,206.0) rotate(-90)"><text x="0" y="2.3" font-size="6.3" text-anchor="end" fill="#231f20" stroke="#231f20"><tspan font-style="italic">Bcl6</tspan></text></g>
<line x1="306.2" y1="202.4" x2="306.2" y2="204.2" stroke="#555" stroke-width="0.5"/>
<g transform="translate(306.2,206.0) rotate(-90)"><text x="0" y="2.3" font-size="6.3" text-anchor="end" fill="#231f20" stroke="#231f20"><tspan font-style="italic">Il21</tspan></text></g>
<line x1="313.5" y1="202.4" x2="313.5" y2="204.2" stroke="#555" stroke-width="0.5"/>
<g transform="translate(313.5,206.0) rotate(-90)"><text x="0" y="2.3" font-size="6.3" text-anchor="end" fill="#231f20" stroke="#231f20"><tspan font-style="italic">Gata3</tspan></text></g>
<line x1="320.8" y1="202.4" x2="320.8" y2="204.2" stroke="#555" stroke-width="0.5"/>
<g transform="translate(320.8,206.0) rotate(-90)"><text x="0" y="2.3" font-size="6.3" text-anchor="end" fill="#231f20" stroke="#231f20"><tspan font-style="italic">Mki67</tspan></text></g>
<line x1="328.1" y1="202.4" x2="328.1" y2="204.2" stroke="#555" stroke-width="0.5"/>
<g transform="translate(328.1,206.0) rotate(-90)"><text x="0" y="2.3" font-size="6.3" text-anchor="end" fill="#231f20" stroke="#231f20"><tspan font-style="italic">Birc5</tspan></text></g>
<line x1="335.4" y1="202.4" x2="335.4" y2="204.2" stroke="#555" stroke-width="0.5"/>
<g transform="translate(335.4,206.0) rotate(-90)"><text x="0" y="2.3" font-size="6.3" text-anchor="end" fill="#231f20" stroke="#231f20"><tspan font-style="italic">Ccna2</tspan></text></g>
<line x1="342.7" y1="202.4" x2="342.7" y2="204.2" stroke="#555" stroke-width="0.5"/>
<g transform="translate(342.7,206.0) rotate(-90)"><text x="0" y="2.3" font-size="6.3" text-anchor="end" fill="#231f20" stroke="#231f20"><tspan font-style="italic">Fos</tspan></text></g>
<line x1="350.0" y1="202.4" x2="350.0" y2="204.2" stroke="#555" stroke-width="0.5"/>
<g transform="translate(350.0,206.0) rotate(-90)"><text x="0" y="2.3" font-size="6.3" text-anchor="end" fill="#231f20" stroke="#231f20"><tspan font-style="italic">Egr1</tspan></text></g>
<line x1="357.3" y1="202.4" x2="357.3" y2="204.2" stroke="#555" stroke-width="0.5"/>
<g transform="translate(357.3,206.0) rotate(-90)"><text x="0" y="2.3" font-size="6.3" text-anchor="end" fill="#231f20" stroke="#231f20"><tspan font-style="italic">Maf</tspan></text></g>
<line x1="364.6" y1="202.4" x2="364.6" y2="204.2" stroke="#555" stroke-width="0.5"/>
<g transform="translate(364.6,206.0) rotate(-90)"><text x="0" y="2.3" font-size="6.3" text-anchor="end" fill="#231f20" stroke="#231f20"><tspan font-style="italic">Batf</tspan></text></g>
<line x1="371.9" y1="202.4" x2="371.9" y2="204.2" stroke="#555" stroke-width="0.5"/>
<g transform="translate(371.9,206.0) rotate(-90)"><text x="0" y="2.3" font-size="6.3" text-anchor="end" fill="#231f20" stroke="#231f20"><tspan font-style="italic">Irf4</tspan></text></g>
<line x1="379.2" y1="202.4" x2="379.2" y2="204.2" stroke="#555" stroke-width="0.5"/>
<g transform="translate(379.2,206.0) rotate(-90)"><text x="0" y="2.3" font-size="6.3" text-anchor="end" fill="#231f20" stroke="#231f20"><tspan font-style="italic">Prdm1</tspan></text></g>
<line x1="386.5" y1="202.4" x2="386.5" y2="204.2" stroke="#555" stroke-width="0.5"/>
<g transform="translate(386.5,206.0) rotate(-90)"><text x="0" y="2.3" font-size="6.3" text-anchor="end" fill="#231f20" stroke="#231f20"><tspan font-style="italic">Ctla4</tspan></text></g>
<line x1="393.8" y1="202.4" x2="393.8" y2="204.2" stroke="#555" stroke-width="0.5"/>
<g transform="translate(393.8,206.0) rotate(-90)"><text x="0" y="2.3" font-size="6.3" text-anchor="end" fill="#231f20" stroke="#231f20"><tspan font-style="italic">Icos</tspan></text></g>
<line x1="401.1" y1="202.4" x2="401.1" y2="204.2" stroke="#555" stroke-width="0.5"/>
<g transform="translate(401.1,206.0) rotate(-90)"><text x="0" y="2.3" font-size="6.3" text-anchor="end" fill="#231f20" stroke="#231f20"><tspan font-style="italic">Nfkbia</tspan></text></g>
<line x1="408.4" y1="202.4" x2="408.4" y2="204.2" stroke="#555" stroke-width="0.5"/>
<g transform="translate(408.4,206.0) rotate(-90)"><text x="0" y="2.3" font-size="6.3" text-anchor="end" fill="#231f20" stroke="#231f20"><tspan font-style="italic">Dusp1</tspan></text></g>
<circle cx="204.0" cy="137.2" r="3.1" fill="#f29440"/>
<circle cx="211.3" cy="137.2" r="1.4" fill="#e06462"/>
<circle cx="218.6" cy="137.2" r="3.3" fill="#f29440"/>
<circle cx="225.9" cy="137.2" r="2.1" fill="#f3be34"/>
<circle cx="233.2" cy="137.2" r="1.9" fill="#f3be34"/>
<circle cx="240.5" cy="137.2" r="0.9" fill="#e06462"/>
<circle cx="247.8" cy="137.2" r="1.0" fill="#c84080"/>
<circle cx="255.1" cy="137.2" r="0.7" fill="#a82298"/>
<circle cx="262.4" cy="137.2" r="0.6" fill="#a82298"/>
<circle cx="269.7" cy="137.2" r="0.8" fill="#a82298"/>
<circle cx="277.0" cy="137.2" r="1.5" fill="#a82298"/>
<circle cx="284.3" cy="137.2" r="1.0" fill="#e06462"/>
<circle cx="291.6" cy="137.2" r="0.8" fill="#a82298"/>
<circle cx="298.9" cy="137.2" r="0.9" fill="#e06462"/>
<circle cx="306.2" cy="137.2" r="0.6" fill="#a82298"/>
<circle cx="313.5" cy="137.2" r="0.9" fill="#f29440"/>
<circle cx="320.8" cy="137.2" r="0.6" fill="#a82298"/>
<circle cx="328.1" cy="137.2" r="0.5" fill="#a82298"/>
<circle cx="335.4" cy="137.2" r="0.5" fill="#a82298"/>
<circle cx="342.7" cy="137.2" r="1.3" fill="#e06462"/>
<circle cx="350.0" cy="137.2" r="0.9" fill="#a82298"/>
<circle cx="357.3" cy="137.2" r="1.7" fill="#7e1c9d"/>
<circle cx="364.6" cy="137.2" r="1.0" fill="#7e1c9d"/>
<circle cx="371.9" cy="137.2" r="0.9" fill="#a82298"/>
<circle cx="379.2" cy="137.2" r="0.7" fill="#a82298"/>
<circle cx="386.5" cy="137.2" r="3.1" fill="#a82298"/>
<circle cx="393.8" cy="137.2" r="1.5" fill="#7e1c9d"/>
<circle cx="401.1" cy="137.2" r="2.0" fill="#c84080"/>
<circle cx="408.4" cy="137.2" r="0.9" fill="#e06462"/>
<circle cx="204.0" cy="151.4" r="3.1" fill="#e06462"/>
<circle cx="211.3" cy="151.4" r="1.7" fill="#a82298"/>
<circle cx="218.6" cy="151.4" r="3.4" fill="#f29440"/>
<circle cx="225.9" cy="151.4" r="2.2" fill="#e06462"/>
<circle cx="233.2" cy="151.4" r="2.2" fill="#e06462"/>
<circle cx="240.5" cy="151.4" r="1.2" fill="#a82298"/>
<circle cx="247.8" cy="151.4" r="1.2" fill="#a82298"/>
<circle cx="255.1" cy="151.4" r="0.9" fill="#a82298"/>
<circle cx="262.4" cy="151.4" r="0.7" fill="#a82298"/>
<circle cx="269.7" cy="151.4" r="0.8" fill="#a82298"/>
<circle cx="277.0" cy="151.4" r="2.2" fill="#a82298"/>
<circle cx="284.3" cy="151.4" r="1.4" fill="#e06462"/>
<circle cx="291.6" cy="151.4" r="0.9" fill="#a82298"/>
<circle cx="298.9" cy="151.4" r="0.9" fill="#a82298"/>
<circle cx="306.2" cy="151.4" r="0.6" fill="#a82298"/>
<circle cx="313.5" cy="151.4" r="1.5" fill="#c84080"/>
<circle cx="320.8" cy="151.4" r="2.7" fill="#f29440"/>
<circle cx="328.1" cy="151.4" r="1.9" fill="#f29440"/>
<circle cx="335.4" cy="151.4" r="1.1" fill="#f29440"/>
<circle cx="342.7" cy="151.4" r="1.7" fill="#7e1c9d"/>
<circle cx="350.0" cy="151.4" r="0.9" fill="#7e1c9d"/>
<circle cx="357.3" cy="151.4" r="2.3" fill="#7e1c9d"/>
<circle cx="364.6" cy="151.4" r="1.4" fill="#7e1c9d"/>
<circle cx="371.9" cy="151.4" r="0.9" fill="#a82298"/>
<circle cx="379.2" cy="151.4" r="0.7" fill="#a82298"/>
<circle cx="386.5" cy="151.4" r="3.3" fill="#551b99"/>
<circle cx="393.8" cy="151.4" r="2.3" fill="#7e1c9d"/>
<circle cx="401.1" cy="151.4" r="2.7" fill="#2c1e8c"/>
<circle cx="408.4" cy="151.4" r="1.1" fill="#7e1c9d"/>
<circle cx="204.0" cy="165.7" r="1.0" fill="#2c1e8c"/>
<circle cx="211.3" cy="165.7" r="0.9" fill="#2c1e8c"/>
<circle cx="218.6" cy="165.7" r="3.1" fill="#a82298"/>
<circle cx="225.9" cy="165.7" r="1.4" fill="#7e1c9d"/>
<circle cx="233.2" cy="165.7" r="2.2" fill="#c84080"/>
<circle cx="240.5" cy="165.7" r="0.9" fill="#2c1e8c"/>
<circle cx="247.8" cy="165.7" r="0.6" fill="#7e1c9d"/>
<circle cx="255.1" cy="165.7" r="0.8" fill="#7e1c9d"/>
<circle cx="262.4" cy="165.7" r="0.6" fill="#7e1c9d"/>
<circle cx="269.7" cy="165.7" r="0.6" fill="#7e1c9d"/>
<circle cx="277.0" cy="165.7" r="4.0" fill="#f0e830"/>
<circle cx="284.3" cy="165.7" r="2.2" fill="#f29440"/>
<circle cx="291.6" cy="165.7" r="1.7" fill="#f3be34"/>
<circle cx="298.9" cy="165.7" r="1.9" fill="#f3be34"/>
<circle cx="306.2" cy="165.7" r="1.5" fill="#f3be34"/>
<circle cx="313.5" cy="165.7" r="2.2" fill="#f29440"/>
<circle cx="320.8" cy="165.7" r="0.8" fill="#a82298"/>
<circle cx="328.1" cy="165.7" r="0.6" fill="#7e1c9d"/>
<circle cx="335.4" cy="165.7" r="0.6" fill="#7e1c9d"/>
<circle cx="342.7" cy="165.7" r="2.8" fill="#f3be34"/>
<circle cx="350.0" cy="165.7" r="1.4" fill="#f29440"/>
<circle cx="357.3" cy="165.7" r="3.6" fill="#c84080"/>
<circle cx="364.6" cy="165.7" r="2.2" fill="#c84080"/>
<circle cx="371.9" cy="165.7" r="1.2" fill="#a82298"/>
<circle cx="379.2" cy="165.7" r="0.7" fill="#7e1c9d"/>
<circle cx="386.5" cy="165.7" r="3.8" fill="#a82298"/>
<circle cx="393.8" cy="165.7" r="3.1" fill="#a82298"/>
<circle cx="401.1" cy="165.7" r="3.3" fill="#f29440"/>
<circle cx="408.4" cy="165.7" r="2.1" fill="#f3be34"/>
<circle cx="204.0" cy="179.9" r="3.1" fill="#e06462"/>
<circle cx="211.3" cy="179.9" r="2.7" fill="#f3be34"/>
<circle cx="218.6" cy="179.9" r="2.2" fill="#7e1c9d"/>
<circle cx="225.9" cy="179.9" r="1.2" fill="#a82298"/>
<circle cx="233.2" cy="179.9" r="1.7" fill="#a82298"/>
<circle cx="240.5" cy="179.9" r="1.7" fill="#f3be34"/>
<circle cx="247.8" cy="179.9" r="2.7" fill="#f0e830"/>
<circle cx="255.1" cy="179.9" r="1.5" fill="#f29440"/>
<circle cx="262.4" cy="179.9" r="1.4" fill="#f3be34"/>
<circle cx="269.7" cy="179.9" r="2.5" fill="#f3be34"/>
<circle cx="277.0" cy="179.9" r="1.2" fill="#7e1c9d"/>
<circle cx="284.3" cy="179.9" r="0.6" fill="#2c1e8c"/>
<circle cx="291.6" cy="179.9" r="0.8" fill="#e06462"/>
<circle cx="298.9" cy="179.9" r="0.8" fill="#7e1c9d"/>
<circle cx="306.2" cy="179.9" r="0.6" fill="#e06462"/>
<circle cx="313.5" cy="179.9" r="1.5" fill="#7e1c9d"/>
<circle cx="320.8" cy="179.9" r="1.1" fill="#7e1c9d"/>
<circle cx="328.1" cy="179.9" r="0.6" fill="#7e1c9d"/>
<circle cx="335.4" cy="179.9" r="0.5" fill="#7e1c9d"/>
<circle cx="342.7" cy="179.9" r="1.7" fill="#c84080"/>
<circle cx="350.0" cy="179.9" r="1.1" fill="#f29440"/>
<circle cx="357.3" cy="179.9" r="3.8" fill="#f3be34"/>
<circle cx="364.6" cy="179.9" r="2.6" fill="#f3be34"/>
<circle cx="371.9" cy="179.9" r="1.6" fill="#f3be34"/>
<circle cx="379.2" cy="179.9" r="2.1" fill="#f29440"/>
<circle cx="386.5" cy="179.9" r="3.8" fill="#f0e830"/>
<circle cx="393.8" cy="179.9" r="3.8" fill="#f0e830"/>
<circle cx="401.1" cy="179.9" r="2.9" fill="#e06462"/>
<circle cx="408.4" cy="179.9" r="1.4" fill="#c84080"/>
<circle cx="204.0" cy="194.3" r="3.3" fill="#c84080"/>
<circle cx="211.3" cy="194.3" r="2.7" fill="#c84080"/>
<circle cx="218.6" cy="194.3" r="3.0" fill="#551b99"/>
<circle cx="225.9" cy="194.3" r="1.7" fill="#7e1c9d"/>
<circle cx="233.2" cy="194.3" r="2.0" fill="#2c1e8c"/>
<circle cx="240.5" cy="194.3" r="1.7" fill="#c84080"/>
<circle cx="247.8" cy="194.3" r="2.1" fill="#c84080"/>
<circle cx="255.1" cy="194.3" r="2.2" fill="#f29440"/>
<circle cx="262.4" cy="194.3" r="1.4" fill="#e06462"/>
<circle cx="269.7" cy="194.3" r="2.2" fill="#e06462"/>
<circle cx="277.0" cy="194.3" r="1.9" fill="#7e1c9d"/>
<circle cx="284.3" cy="194.3" r="1.2" fill="#7e1c9d"/>
<circle cx="291.6" cy="194.3" r="1.0" fill="#7e1c9d"/>
<circle cx="298.9" cy="194.3" r="0.9" fill="#7e1c9d"/>
<circle cx="306.2" cy="194.3" r="0.9" fill="#c84080"/>
<circle cx="313.5" cy="194.3" r="2.2" fill="#7e1c9d"/>
<circle cx="320.8" cy="194.3" r="3.1" fill="#f3be34"/>
<circle cx="328.1" cy="194.3" r="2.5" fill="#f3be34"/>
<circle cx="335.4" cy="194.3" r="2.0" fill="#f3be34"/>
<circle cx="342.7" cy="194.3" r="1.9" fill="#7e1c9d"/>
<circle cx="350.0" cy="194.3" r="1.2" fill="#a82298"/>
<circle cx="357.3" cy="194.3" r="3.8" fill="#e06462"/>
<circle cx="364.6" cy="194.3" r="3.1" fill="#e06462"/>
<circle cx="371.9" cy="194.3" r="2.1" fill="#e06462"/>
<circle cx="379.2" cy="194.3" r="2.6" fill="#e06462"/>
<circle cx="386.5" cy="194.3" r="4.0" fill="#e06462"/>
<circle cx="393.8" cy="194.3" r="3.8" fill="#e06462"/>
<circle cx="401.1" cy="194.3" r="3.6" fill="#c84080"/>
<circle cx="408.4" cy="194.3" r="1.9" fill="#7e1c9d"/>
<line x1="202.3" y1="127.0" x2="213.2" y2="127.0" stroke="#a8a8a8" stroke-width="0.9"/>
<text x="207.8" y="123.1" font-size="6.5" text-anchor="middle" fill="#231f20" stroke="#231f20"><tspan>T</tspan><tspan font-size="4.0" dy="1.8">reg</tspan></text>
<line x1="215.8" y1="127.0" x2="235.8" y2="127.0" stroke="#a8a8a8" stroke-width="0.9"/>
<text x="225.8" y="123.1" font-size="6.5" text-anchor="middle" fill="#231f20" stroke="#231f20"><tspan>tT</tspan><tspan font-size="4.0" dy="1.8">reg</tspan></text>
<line x1="239.0" y1="127.0" x2="272.6" y2="127.0" stroke="#a8a8a8" stroke-width="0.9"/>
<text x="255.8" y="123.1" font-size="6.5" text-anchor="middle" fill="#231f20" stroke="#231f20"><tspan>pT</tspan><tspan font-size="4.0" dy="1.8">reg</tspan></text>
<line x1="274.8" y1="127.0" x2="314.9" y2="127.0" stroke="#a8a8a8" stroke-width="0.9"/>
<text x="294.9" y="123.1" font-size="6.5" text-anchor="middle" fill="#231f20" stroke="#231f20"><tspan>T</tspan><tspan font-size="4.0" dy="1.8">FH</tspan><tspan dy="-1.8"> + T</tspan><tspan font-size="4.0" dy="1.8">H</tspan><tspan dy="-1.8">2</tspan></text>
<line x1="318.2" y1="127.0" x2="339.6" y2="127.0" stroke="#a8a8a8" stroke-width="0.9"/>
<text x="328.9" y="123.1" font-size="6.5" text-anchor="middle" fill="#231f20" stroke="#231f20"><tspan>Prolif</tspan></text>
<line x1="341.8" y1="127.0" x2="409.7" y2="127.0" stroke="#a8a8a8" stroke-width="0.9"/>
<text x="375.8" y="123.1" font-size="6.5" text-anchor="middle" fill="#231f20" stroke="#231f20"><tspan>TCR signalling</tspan></text>
<text x="420.7" y="121.0" font-size="6.5" text-anchor="start" fill="#231f20" stroke="#231f20"><tspan>Average</tspan></text>
<text x="420.7" y="129.1" font-size="6.5" text-anchor="start" fill="#231f20" stroke="#231f20"><tspan>expression</tspan></text>
<defs><linearGradient id="plg" x1="0" y1="0" x2="0" y2="1"><stop offset="0.000" stop-color="#f0e830"/><stop offset="0.109" stop-color="#f3be34"/><stop offset="0.219" stop-color="#f29440"/><stop offset="0.312" stop-color="#e87058"/><stop offset="0.406" stop-color="#d9586c"/><stop offset="0.500" stop-color="#c84080"/><stop offset="0.625" stop-color="#a82298"/><stop offset="0.750" stop-color="#7e1c9d"/><stop offset="0.875" stop-color="#551b99"/><stop offset="1.000" stop-color="#2c1e8c"/></linearGradient></defs>
<rect x="420.1" y="133.7" width="9.5" height="47.0" fill="url(#plg)"/>
<line x1="420.1" y1="143.7" x2="421.6" y2="143.7" stroke="#fff" stroke-width="0.5"/>
<line x1="428.1" y1="143.7" x2="429.6" y2="143.7" stroke="#fff" stroke-width="0.5"/>
<line x1="420.1" y1="157.0" x2="421.6" y2="157.0" stroke="#fff" stroke-width="0.5"/>
<line x1="428.1" y1="157.0" x2="429.6" y2="157.0" stroke="#fff" stroke-width="0.5"/>
<line x1="420.1" y1="170.6" x2="421.6" y2="170.6" stroke="#fff" stroke-width="0.5"/>
<line x1="428.1" y1="170.6" x2="429.6" y2="170.6" stroke="#fff" stroke-width="0.5"/>
<text x="432.8" y="146.0" font-size="6.5" text-anchor="start" fill="#231f20" stroke="#231f20"><tspan>1</tspan></text>
<text x="432.8" y="159.3" font-size="6.5" text-anchor="start" fill="#231f20" stroke="#231f20"><tspan>0</tspan></text>
<text x="431.0" y="172.9" font-size="6.5" text-anchor="start" fill="#231f20" stroke="#231f20"><tspan>−1</tspan></text>
<text x="420.7" y="191.9" font-size="6.5" text-anchor="start" fill="#231f20" stroke="#231f20"><tspan>Per cent</tspan></text>
<text x="420.7" y="200.0" font-size="6.5" text-anchor="start" fill="#231f20" stroke="#231f20"><tspan>expressed</tspan></text>
<circle cx="425.0" cy="206.8" r="1.2" fill="#111"/>
<text x="431.8" y="209.1" font-size="6.5" text-anchor="start" fill="#231f20" stroke="#231f20"><tspan>25</tspan></text>
<circle cx="425.0" cy="216.3" r="1.9" fill="#111"/>
<text x="431.8" y="218.6" font-size="6.5" text-anchor="start" fill="#231f20" stroke="#231f20"><tspan>50</tspan></text>
<circle cx="425.0" cy="225.6" r="2.6" fill="#111"/>
<text x="431.8" y="227.9" font-size="6.5" text-anchor="start" fill="#231f20" stroke="#231f20"><tspan>75</tspan></text>
<text x="480.5" y="167.6" font-size="11" font-weight="bold" fill="#000">e</text>
<line x1="508.6" y1="176.0" x2="508.6" y2="259.5" stroke="#555" stroke-width="0.6"/>
<line x1="508.6" y1="259.5" x2="595.5" y2="259.5" stroke="#555" stroke-width="0.6"/>
<line x1="506.8" y1="258.3" x2="508.6" y2="258.3" stroke="#555" stroke-width="0.5"/>
<text x="505.5" y="260.6" font-size="6.5" text-anchor="end" fill="#231f20" stroke="#231f20"><tspan>0</tspan></text>
<line x1="506.8" y1="238.5" x2="508.6" y2="238.5" stroke="#555" stroke-width="0.5"/>
<text x="505.5" y="240.8" font-size="6.5" text-anchor="end" fill="#231f20" stroke="#231f20"><tspan>25</tspan></text>
<line x1="506.8" y1="218.6" x2="508.6" y2="218.6" stroke="#555" stroke-width="0.5"/>
<text x="505.5" y="220.9" font-size="6.5" text-anchor="end" fill="#231f20" stroke="#231f20"><tspan>50</tspan></text>
<line x1="506.8" y1="198.8" x2="508.6" y2="198.8" stroke="#555" stroke-width="0.5"/>
<text x="505.5" y="201.1" font-size="6.5" text-anchor="end" fill="#231f20" stroke="#231f20"><tspan>75</tspan></text>
<line x1="506.8" y1="178.9" x2="508.6" y2="178.9" stroke="#555" stroke-width="0.5"/>
<text x="505.5" y="181.2" font-size="6.5" text-anchor="end" fill="#231f20" stroke="#231f20"><tspan>100</tspan></text>
<g transform="translate(484.0,214.8) rotate(-90)"><text x="0" y="2.3" font-size="6.5" text-anchor="middle" fill="#231f20" stroke="#231f20"><tspan>Per cent in total cells</tspan></text></g>
<text x="524.2" y="169.6" font-size="6.5" text-anchor="middle" fill="#231f20" stroke="#231f20"><tspan>Host</tspan></text>
<line x1="512.0" y1="172.6" x2="537.0" y2="172.6" stroke="#a8a8a8" stroke-width="0.9"/>
<text x="566.5" y="169.6" font-size="6.5" text-anchor="middle" fill="#231f20" stroke="#231f20"><tspan>OT-II</tspan></text>
<line x1="539.5" y1="172.6" x2="594.0" y2="172.6" stroke="#a8a8a8" stroke-width="0.9"/>
<rect x="510.8" y="253.5" width="12.6" height="4.8" fill="#2e9046" stroke="#333" stroke-width="0.45"/>
<rect x="510.8" y="178.9" width="12.6" height="74.6" fill="#3a7cc4" stroke="#333" stroke-width="0.45"/>
<line x1="517.1" y1="259.5" x2="517.1" y2="261.2" stroke="#555" stroke-width="0.5"/>
<rect x="525.2" y="246.0" width="12.6" height="12.3" fill="#2e9046" stroke="#333" stroke-width="0.45"/>
<rect x="525.2" y="178.9" width="12.6" height="67.1" fill="#3a7cc4" stroke="#333" stroke-width="0.45"/>
<line x1="531.5" y1="259.5" x2="531.5" y2="261.2" stroke="#555" stroke-width="0.5"/>
<rect x="539.0" y="251.6" width="12.6" height="6.7" fill="#8a4fa6" stroke="#333" stroke-width="0.45"/>
<rect x="539.0" y="181.3" width="12.6" height="70.3" fill="#f39322" stroke="#333" stroke-width="0.45"/>
<rect x="539.0" y="178.9" width="12.6" height="2.4" fill="#3a7cc4" stroke="#333" stroke-width="0.45"/>
<line x1="545.3" y1="259.5" x2="545.3" y2="261.2" stroke="#555" stroke-width="0.5"/>
<rect x="553.2" y="254.3" width="12.6" height="4.0" fill="#8a4fa6" stroke="#333" stroke-width="0.45"/>
<rect x="553.2" y="252.7" width="12.6" height="1.6" fill="#e8302e" stroke="#333" stroke-width="0.45"/>
<rect x="553.2" y="184.1" width="12.6" height="68.7" fill="#f39322" stroke="#333" stroke-width="0.45"/>
<rect x="553.2" y="183.3" width="12.6" height="0.8" fill="#2e9046" stroke="#333" stroke-width="0.45"/>
<rect x="553.2" y="178.9" width="12.6" height="4.4" fill="#3a7cc4" stroke="#333" stroke-width="0.45"/>
<line x1="559.5" y1="259.5" x2="559.5" y2="261.2" stroke="#555" stroke-width="0.5"/>
<rect x="567.3" y="245.6" width="12.6" height="12.7" fill="#8a4fa6" stroke="#333" stroke-width="0.45"/>
<rect x="567.3" y="197.2" width="12.6" height="48.4" fill="#e8302e" stroke="#333" stroke-width="0.45"/>
<rect x="567.3" y="181.7" width="12.6" height="15.5" fill="#f39322" stroke="#333" stroke-width="0.45"/>
<rect x="567.3" y="178.9" width="12.6" height="2.8" fill="#3a7cc4" stroke="#333" stroke-width="0.45"/>
<line x1="573.6" y1="259.5" x2="573.6" y2="261.2" stroke="#555" stroke-width="0.5"/>
<rect x="581.4" y="254.7" width="12.6" height="3.6" fill="#8a4fa6" stroke="#333" stroke-width="0.45"/>
<rect x="581.4" y="240.4" width="12.6" height="14.3" fill="#e8302e" stroke="#333" stroke-width="0.45"/>
<rect x="581.4" y="182.9" width="12.6" height="57.6" fill="#f39322" stroke="#333" stroke-width="0.45"/>
<rect x="581.4" y="178.9" width="12.6" height="4.0" fill="#3a7cc4" stroke="#333" stroke-width="0.45"/>
<line x1="587.7" y1="259.5" x2="587.7" y2="261.2" stroke="#555" stroke-width="0.5"/>
<g transform="translate(518.2,266.5) rotate(-45)"><text x="0" y="2.2" font-size="6.5" text-anchor="end" fill="#231f20" stroke="#231f20">PBS</text></g>
<g transform="translate(532.6,266.5) rotate(-45)"><text x="0" y="2.2" font-size="6.5" text-anchor="end" fill="#231f20" stroke="#231f20">IL-2(N88D)</text></g>
<g transform="translate(546.4,266.5) rotate(-45)"><text x="0" y="2.2" font-size="6.5" text-anchor="end" fill="#231f20" stroke="#231f20">PBS</text></g>
<g transform="translate(560.6,266.5) rotate(-45)"><text x="0" y="2.2" font-size="6.5" text-anchor="end" fill="#231f20" stroke="#231f20">IL-2(WT)</text></g>
<g transform="translate(574.7,266.5) rotate(-45)"><text x="0" y="2.2" font-size="6.5" text-anchor="end" fill="#231f20" stroke="#231f20">TGM1–IL-2(WT)</text></g>
<g transform="translate(588.8,266.5) rotate(-45)"><text x="0" y="2.2" font-size="6.5" text-anchor="end" fill="#231f20" stroke="#231f20">TGM1–IL-2(DN)</text></g>
<rect x="603.4" y="199.0" width="6.0" height="6.0" fill="#3a7cc4" stroke="#333" stroke-width="0.4"/>
<text x="612.2" y="204.3" font-size="6.5" text-anchor="start" fill="#231f20" stroke="#231f20"><tspan>1 tT</tspan><tspan font-size="4.0" dy="1.8">reg</tspan></text>
<rect x="603.4" y="206.1" width="6.0" height="6.0" fill="#2e9046" stroke="#333" stroke-width="0.4"/>
<text x="612.2" y="211.4" font-size="6.5" text-anchor="start" fill="#231f20" stroke="#231f20"><tspan>2 Ki-67</tspan><tspan font-size="4.0" dy="-2.5">+</tspan><tspan dy="2.5"> tT</tspan><tspan font-size="4.0" dy="1.8">reg</tspan></text>
<rect x="603.4" y="213.3" width="6.0" height="6.0" fill="#f39322" stroke="#333" stroke-width="0.4"/>
<text x="612.2" y="218.6" font-size="6.5" text-anchor="start" fill="#231f20" stroke="#231f20"><tspan>3 OT-II T</tspan><tspan font-size="4.0" dy="1.8">conv</tspan></text>
<rect x="603.4" y="220.7" width="6.0" height="6.0" fill="#e8302e" stroke="#333" stroke-width="0.4"/>
<text x="612.2" y="226.0" font-size="6.5" text-anchor="start" fill="#231f20" stroke="#231f20"><tspan>4 OT-II pT</tspan><tspan font-size="4.0" dy="1.8">reg</tspan></text>
<rect x="603.4" y="228.0" width="6.0" height="6.0" fill="#8a4fa6" stroke="#333" stroke-width="0.4"/>
<text x="612.2" y="233.3" font-size="6.5" text-anchor="start" fill="#231f20" stroke="#231f20"><tspan>5 OT-II Ki-67</tspan><tspan font-size="4.0" dy="-2.5">+</tspan></text>
<text x="612.2" y="240.8" font-size="6.5" text-anchor="start" fill="#231f20" stroke="#231f20"><tspan>pT</tspan><tspan font-size="4.0" dy="1.8">reg</tspan></text>
<text x="-0.2" y="247.0" font-size="11" font-weight="bold" fill="#000">f</text>
<text x="15.9" y="259.3" font-size="6.5" text-anchor="start" fill="#f0141e" stroke="#f0141e"><tspan>TGM1–IL-2(WT)</tspan></text>
<text x="84.7" y="259.3" font-size="6.5" text-anchor="start" fill="#e61ee6" stroke="#e61ee6"><tspan>TGM1–IL-2(DN)</tspan></text>
<text x="31.8" y="270.4" font-size="6.5" text-anchor="middle" fill="#231f20" stroke="#231f20"><tspan>Ki-67-APC</tspan></text>
<text x="74.6" y="270.4" font-size="6.5" text-anchor="middle" fill="#231f20" stroke="#231f20"><tspan>IL-10-APC</tspan></text>
<text x="117.5" y="270.4" font-size="6.5" text-anchor="middle" fill="#231f20" stroke="#231f20"><tspan>BLIMP1-APC</tspan></text>
<path d="M10.6,302.4 L10.6,302.4 L11.5,302.4 L12.4,302.4 L13.3,302.4 L14.2,302.4 L15.1,302.4 L16.0,302.4 L16.9,302.3 L17.8,302.3 L18.7,302.2 L19.6,302.2 L20.5,302.0 L21.4,301.9 L22.2,301.7 L23.1,301.5 L24.0,301.3 L24.9,301.1 L25.8,300.8 L26.7,300.6 L27.6,300.4 L28.5,300.3 L29.4,300.2 L30.3,300.2 L31.2,300.1 L32.1,300.0 L33.0,299.5 L33.9,298.3 L34.8,296.1 L35.7,292.9 L36.6,289.0 L37.5,285.4 L38.4,283.5 L39.3,284.0 L40.2,286.8 L41.1,290.8 L42.0,294.9 L42.9,298.2 L43.7,300.3 L44.6,301.5 L45.5,302.1 L46.4,302.3 L47.3,302.4 L48.2,302.4 L49.1,302.4 L50.0,302.4 L50.9,302.4 L51.8,302.4 L52.7,302.4 L53.6,302.4 L53.6,302.4 Z" fill="#f08080" fill-opacity="0.55" stroke="#e85050" stroke-width="0.5"/>
<path d="M10.6,316.8 L10.6,316.8 L11.5,316.8 L12.4,316.8 L13.3,316.8 L14.2,316.8 L15.1,316.8 L16.0,316.8 L16.9,316.8 L17.8,316.8 L18.7,316.8 L19.6,316.8 L20.5,316.8 L21.4,316.8 L22.2,316.7 L23.1,316.6 L24.0,316.3 L24.9,315.6 L25.8,314.3 L26.7,312.3 L27.6,309.5 L28.5,306.4 L29.4,303.5 L30.3,301.6 L31.2,301.2 L32.1,302.1 L33.0,304.0 L33.9,306.1 L34.8,308.0 L35.7,309.5 L36.6,310.8 L37.5,311.9 L38.4,313.0 L39.3,314.0 L40.2,314.9 L41.1,315.6 L42.0,316.1 L42.9,316.4 L43.7,316.6 L44.6,316.7 L45.5,316.8 L46.4,316.8 L47.3,316.8 L48.2,316.8 L49.1,316.8 L50.0,316.8 L50.9,316.8 L51.8,316.8 L52.7,316.8 L53.6,316.8 L53.6,316.8 Z" fill="#ff40ff" fill-opacity="0.35" stroke="#e020e0" stroke-width="0.5"/>
<path d="M53.6,302.4 L53.6,302.4 L54.5,302.4 L55.4,302.4 L56.3,302.4 L57.2,302.4 L58.1,302.4 L59.0,302.4 L59.9,302.4 L60.8,302.3 L61.7,302.0 L62.6,301.4 L63.5,300.2 L64.4,298.0 L65.3,295.0 L66.2,291.6 L67.1,288.5 L68.0,286.9 L68.9,287.4 L69.8,289.6 L70.7,292.6 L71.6,295.4 L72.5,297.1 L73.4,297.8 L74.3,297.6 L75.2,297.3 L76.0,297.4 L76.9,297.9 L77.8,298.8 L78.7,299.9 L79.6,300.9 L80.5,301.6 L81.4,302.0 L82.3,302.2 L83.2,302.3 L84.1,302.4 L85.0,302.4 L85.9,302.4 L86.8,302.4 L87.7,302.4 L88.6,302.4 L89.5,302.4 L90.4,302.4 L91.3,302.4 L92.2,302.4 L93.1,302.4 L94.0,302.4 L94.9,302.4 L95.8,302.4 L96.7,302.4 L96.7,302.4 Z" fill="#f08080" fill-opacity="0.55" stroke="#e85050" stroke-width="0.5"/>
<path d="M53.6,316.8 L53.6,316.8 L54.5,316.8 L55.4,316.8 L56.3,316.8 L57.2,316.8 L58.1,316.8 L59.0,316.8 L59.9,316.8 L60.8,316.8 L61.7,316.7 L62.6,316.5 L63.5,315.8 L64.4,314.1 L65.3,311.0 L66.2,306.6 L67.1,302.3 L68.0,299.9 L68.9,300.7 L69.8,304.3 L70.7,308.8 L71.6,312.6 L72.5,315.0 L73.4,316.2 L74.3,316.6 L75.2,316.8 L76.0,316.8 L76.9,316.8 L77.8,316.8 L78.7,316.8 L79.6,316.8 L80.5,316.8 L81.4,316.8 L82.3,316.8 L83.2,316.8 L84.1,316.8 L85.0,316.8 L85.9,316.8 L86.8,316.8 L87.7,316.8 L88.6,316.8 L89.5,316.8 L90.4,316.8 L91.3,316.8 L92.2,316.8 L93.1,316.8 L94.0,316.8 L94.9,316.8 L95.8,316.8 L96.7,316.8 L96.7,316.8 Z" fill="#ff40ff" fill-opacity="0.35" stroke="#e020e0" stroke-width="0.5"/>
<path d="M96.7,302.4 L96.7,302.4 L97.6,302.4 L98.5,302.4 L99.4,302.4 L100.2,302.4 L101.1,302.4 L102.0,302.4 L102.9,302.4 L103.8,302.4 L104.7,302.4 L105.6,302.4 L106.5,302.4 L107.4,302.4 L108.2,302.4 L109.1,302.4 L110.0,302.4 L110.9,302.4 L111.8,302.4 L112.7,302.4 L113.6,302.4 L114.5,302.4 L115.3,302.3 L116.2,302.2 L117.1,302.0 L118.0,301.4 L118.9,300.3 L119.8,298.4 L120.7,295.6 L121.6,291.9 L122.4,287.8 L123.3,284.0 L124.2,281.5 L125.1,281.0 L126.0,282.5 L126.9,285.6 L127.8,289.7 L128.7,293.6 L129.5,296.9 L130.4,299.3 L131.3,300.8 L132.2,301.7 L133.1,302.1 L134.0,302.3 L134.9,302.4 L135.8,302.4 L136.6,302.4 L137.5,302.4 L138.4,302.4 L139.3,302.4 L139.3,302.4 Z" fill="#f08080" fill-opacity="0.55" stroke="#e85050" stroke-width="0.5"/>
<path d="M96.7,316.8 L96.7,316.8 L97.6,316.8 L98.5,316.8 L99.4,316.8 L100.2,316.8 L101.1,316.8 L102.0,316.8 L102.9,316.8 L103.8,316.8 L104.7,316.8 L105.6,316.8 L106.5,316.8 L107.4,316.8 L108.2,316.8 L109.1,316.8 L110.0,316.8 L110.9,316.8 L111.8,316.8 L112.7,316.8 L113.6,316.8 L114.5,316.8 L115.3,316.7 L116.2,316.4 L117.1,315.8 L118.0,314.6 L118.9,312.6 L119.8,309.8 L120.7,306.7 L121.6,304.2 L122.4,303.3 L123.3,304.3 L124.2,306.9 L125.1,310.0 L126.0,312.8 L126.9,314.8 L127.8,315.9 L128.7,316.5 L129.5,316.7 L130.4,316.8 L131.3,316.8 L132.2,316.8 L133.1,316.8 L134.0,316.8 L134.9,316.8 L135.8,316.8 L136.6,316.8 L137.5,316.8 L138.4,316.8 L139.3,316.8 L139.3,316.8 Z" fill="#ff40ff" fill-opacity="0.35" stroke="#e020e0" stroke-width="0.5"/>
<line x1="10.6" y1="302.4" x2="139.3" y2="302.4" stroke="#f07070" stroke-width="0.5"/>
<rect x="10.6" y="273.4" width="128.7" height="43.4" fill="none" stroke="#222" stroke-width="0.6"/>
<line x1="53.6" y1="273.4" x2="53.6" y2="316.8" stroke="#222" stroke-width="0.6"/>
<line x1="96.7" y1="273.4" x2="96.7" y2="316.8" stroke="#222" stroke-width="0.6"/>
<line x1="31.8" y1="273.4" x2="31.8" y2="316.8" stroke="#999" stroke-width="0.8"/>
<line x1="74.5" y1="273.4" x2="74.5" y2="316.8" stroke="#222" stroke-width="0.6"/>
<g transform="translate(23.3,326.0) rotate(-45)"><text x="0" y="0" font-size="7.0" text-anchor="end" fill="#231f20" stroke="#231f20">10</text><text x="0.3" y="-2.9" font-size="4.2" fill="#231f20" stroke="#231f20">3</text></g>
<g transform="translate(33.8,326.0) rotate(-45)"><text x="0" y="0" font-size="7.0" text-anchor="end" fill="#231f20" stroke="#231f20">10</text><text x="0.3" y="-2.9" font-size="4.2" fill="#231f20" stroke="#231f20">4</text></g>
<g transform="translate(43.0,326.0) rotate(-45)"><text x="0" y="0" font-size="7.0" text-anchor="end" fill="#231f20" stroke="#231f20">10</text><text x="0.3" y="-2.9" font-size="4.2" fill="#231f20" stroke="#231f20">5</text></g>
<g transform="translate(52.1,326.0) rotate(-45)"><text x="0" y="0" font-size="7.0" text-anchor="end" fill="#231f20" stroke="#231f20">10</text><text x="0.3" y="-2.9" font-size="4.2" fill="#231f20" stroke="#231f20">6</text></g>
<g transform="translate(68.8,326.0) rotate(-45)"><text x="0" y="0" font-size="7.0" text-anchor="end" fill="#231f20" stroke="#231f20">10</text><text x="0.3" y="-2.9" font-size="4.2" fill="#231f20" stroke="#231f20">3</text></g>
<g transform="translate(81.0,326.0) rotate(-45)"><text x="0" y="0" font-size="7.0" text-anchor="end" fill="#231f20" stroke="#231f20">10</text><text x="0.3" y="-2.9" font-size="4.2" fill="#231f20" stroke="#231f20">4</text></g>
<g transform="translate(92.3,326.0) rotate(-45)"><text x="0" y="0" font-size="7.0" text-anchor="end" fill="#231f20" stroke="#231f20">10</text><text x="0.3" y="-2.9" font-size="4.2" fill="#231f20" stroke="#231f20">5</text></g>
<g transform="translate(103.5,326.0) rotate(-45)"><text x="0" y="0" font-size="7.0" text-anchor="end" fill="#231f20" stroke="#231f20">10</text><text x="0.3" y="-2.9" font-size="4.2" fill="#231f20" stroke="#231f20">6</text></g>
<g transform="translate(122.9,326.0) rotate(-45)"><text x="0" y="0" font-size="7.0" text-anchor="end" fill="#231f20" stroke="#231f20">10</text><text x="0.3" y="-2.9" font-size="4.2" fill="#231f20" stroke="#231f20">4</text></g>
<text x="33.9" y="341.0" font-size="6.5" text-anchor="middle" fill="#231f20" stroke="#231f20"><tspan>Ki-67</tspan><tspan font-size="4.0" dy="-2.5">+</tspan><tspan dy="2.5"> (%)</tspan></text>
<text x="77.3" y="341.0" font-size="6.5" text-anchor="middle" fill="#231f20" stroke="#231f20"><tspan>IL-10</tspan><tspan font-size="4.0" dy="-2.5">+</tspan><tspan dy="2.5"> (%)</tspan></text>
<text x="124.9" y="341.0" font-size="6.5" text-anchor="middle" fill="#231f20" stroke="#231f20"><tspan>BLIMP1 MFI</tspan></text>
<line x1="20.8" y1="348.7" x2="20.8" y2="403.0" stroke="#444" stroke-width="0.6"/>
<line x1="19.2" y1="402.6" x2="20.8" y2="402.6" stroke="#444" stroke-width="0.5"/>
<text x="18.2" y="404.9" font-size="6.5" text-anchor="end" fill="#231f20" stroke="#231f20"><tspan>0</tspan></text>
<line x1="19.2" y1="391.9" x2="20.8" y2="391.9" stroke="#444" stroke-width="0.5"/>
<text x="18.2" y="394.3" font-size="6.5" text-anchor="end" fill="#231f20" stroke="#231f20"><tspan>20</tspan></text>
<line x1="19.2" y1="381.2" x2="20.8" y2="381.2" stroke="#444" stroke-width="0.5"/>
<text x="18.2" y="383.6" font-size="6.5" text-anchor="end" fill="#231f20" stroke="#231f20"><tspan>40</tspan></text>
<line x1="19.2" y1="370.6" x2="20.8" y2="370.6" stroke="#444" stroke-width="0.5"/>
<text x="18.2" y="372.9" font-size="6.5" text-anchor="end" fill="#231f20" stroke="#231f20"><tspan>60</tspan></text>
<line x1="19.2" y1="359.9" x2="20.8" y2="359.9" stroke="#444" stroke-width="0.5"/>
<text x="18.2" y="362.2" font-size="6.5" text-anchor="end" fill="#231f20" stroke="#231f20"><tspan>80</tspan></text>
<line x1="19.2" y1="349.2" x2="20.8" y2="349.2" stroke="#444" stroke-width="0.5"/>
<text x="18.2" y="351.5" font-size="6.5" text-anchor="end" fill="#231f20" stroke="#231f20"><tspan>100</tspan></text>
<line x1="20.8" y1="403.0" x2="46.8" y2="403.0" stroke="#444" stroke-width="0.6"/>
<rect x="24.3" y="363.6" width="8.5" height="39.0" fill="#fff" stroke="#444" stroke-width="0.6"/>
<line x1="28.6" y1="403.0" x2="28.6" y2="404.4" stroke="#444" stroke-width="0.5"/>
<circle cx="26.2" cy="357.7" r="0.8" fill="#f0141e"/>
<circle cx="30.8" cy="358.8" r="0.8" fill="#f0141e"/>
<circle cx="30.3" cy="359.3" r="0.8" fill="#f0141e"/>
<circle cx="27.0" cy="359.9" r="0.8" fill="#f0141e"/>
<circle cx="28.5" cy="360.4" r="0.8" fill="#f0141e"/>
<circle cx="28.2" cy="360.9" r="0.8" fill="#f0141e"/>
<circle cx="29.5" cy="361.5" r="0.8" fill="#f0141e"/>
<circle cx="30.4" cy="362.0" r="0.8" fill="#f0141e"/>
<circle cx="25.9" cy="362.6" r="0.8" fill="#f0141e"/>
<circle cx="25.5" cy="363.1" r="0.8" fill="#f0141e"/>
<circle cx="30.7" cy="364.2" r="0.8" fill="#f0141e"/>
<circle cx="28.1" cy="365.2" r="0.8" fill="#f0141e"/>
<circle cx="30.2" cy="366.3" r="0.8" fill="#f0141e"/>
<circle cx="25.3" cy="367.4" r="0.8" fill="#f0141e"/>
<circle cx="28.2" cy="368.4" r="0.8" fill="#f0141e"/>
<circle cx="30.0" cy="369.5" r="0.8" fill="#f0141e"/>
<circle cx="26.8" cy="370.6" r="0.8" fill="#f0141e"/>
<circle cx="31.4" cy="372.2" r="0.8" fill="#f0141e"/>
<line x1="28.6" y1="365.2" x2="28.6" y2="362.0" stroke="#222" stroke-width="0.5"/>
<line x1="27.1" y1="362.0" x2="30.1" y2="362.0" stroke="#222" stroke-width="0.5"/>
<line x1="27.1" y1="365.2" x2="30.1" y2="365.2" stroke="#222" stroke-width="0.5"/>
<line x1="26.4" y1="363.6" x2="30.8" y2="363.6" stroke="#222" stroke-width="0.7"/>
<rect x="35.8" y="379.1" width="8.5" height="23.5" fill="#fff" stroke="#444" stroke-width="0.6"/>
<line x1="40.0" y1="403.0" x2="40.0" y2="404.4" stroke="#444" stroke-width="0.5"/>
<circle cx="43.0" cy="367.4" r="0.8" fill="#e61ee6"/>
<circle cx="42.9" cy="373.2" r="0.8" fill="#e61ee6"/>
<circle cx="37.2" cy="374.8" r="0.8" fill="#e61ee6"/>
<circle cx="37.4" cy="375.9" r="0.8" fill="#e61ee6"/>
<circle cx="42.2" cy="377.0" r="0.8" fill="#e61ee6"/>
<circle cx="41.6" cy="377.5" r="0.8" fill="#e61ee6"/>
<circle cx="41.1" cy="378.0" r="0.8" fill="#e61ee6"/>
<circle cx="38.8" cy="378.6" r="0.8" fill="#e61ee6"/>
<circle cx="40.7" cy="379.1" r="0.8" fill="#e61ee6"/>
<circle cx="40.7" cy="380.2" r="0.8" fill="#e61ee6"/>
<circle cx="40.6" cy="381.2" r="0.8" fill="#e61ee6"/>
<circle cx="37.8" cy="383.4" r="0.8" fill="#e61ee6"/>
<circle cx="39.6" cy="386.6" r="0.8" fill="#e61ee6"/>
<circle cx="39.4" cy="389.2" r="0.8" fill="#e61ee6"/>
<line x1="40.0" y1="380.7" x2="40.0" y2="377.5" stroke="#222" stroke-width="0.5"/>
<line x1="38.5" y1="377.5" x2="41.5" y2="377.5" stroke="#222" stroke-width="0.5"/>
<line x1="38.5" y1="380.7" x2="41.5" y2="380.7" stroke="#222" stroke-width="0.5"/>
<line x1="37.8" y1="379.1" x2="42.2" y2="379.1" stroke="#222" stroke-width="0.7"/>
<text x="31.6" y="355.1" font-size="7.2" text-anchor="middle" fill="#231f20" stroke="#231f20" letter-spacing="0.3"><tspan>****</tspan></text>
<line x1="64.3" y1="349.1" x2="64.3" y2="403.0" stroke="#444" stroke-width="0.6"/>
<line x1="62.7" y1="402.6" x2="64.3" y2="402.6" stroke="#444" stroke-width="0.5"/>
<text x="61.7" y="404.9" font-size="6.5" text-anchor="end" fill="#231f20" stroke="#231f20"><tspan>0</tspan></text>
<line x1="62.7" y1="389.4" x2="64.3" y2="389.4" stroke="#444" stroke-width="0.5"/>
<text x="61.7" y="391.7" font-size="6.5" text-anchor="end" fill="#231f20" stroke="#231f20"><tspan>10</tspan></text>
<line x1="62.7" y1="376.1" x2="64.3" y2="376.1" stroke="#444" stroke-width="0.5"/>
<text x="61.7" y="378.4" font-size="6.5" text-anchor="end" fill="#231f20" stroke="#231f20"><tspan>20</tspan></text>
<line x1="62.7" y1="362.9" x2="64.3" y2="362.9" stroke="#444" stroke-width="0.5"/>
<text x="61.7" y="365.2" font-size="6.5" text-anchor="end" fill="#231f20" stroke="#231f20"><tspan>30</tspan></text>
<line x1="62.7" y1="349.6" x2="64.3" y2="349.6" stroke="#444" stroke-width="0.5"/>
<text x="61.7" y="351.9" font-size="6.5" text-anchor="end" fill="#231f20" stroke="#231f20"><tspan>40</tspan></text>
<line x1="64.3" y1="403.0" x2="89.1" y2="403.0" stroke="#444" stroke-width="0.6"/>
<rect x="67.6" y="371.5" width="7.8" height="31.1" fill="#fff" stroke="#444" stroke-width="0.6"/>
<line x1="71.5" y1="403.0" x2="71.5" y2="404.4" stroke="#444" stroke-width="0.5"/>
<circle cx="70.0" cy="356.2" r="0.8" fill="#f0141e"/>
<circle cx="71.8" cy="361.5" r="0.8" fill="#f0141e"/>
<circle cx="70.8" cy="365.5" r="0.8" fill="#f0141e"/>
<circle cx="72.2" cy="368.2" r="0.8" fill="#f0141e"/>
<circle cx="72.3" cy="369.5" r="0.8" fill="#f0141e"/>
<circle cx="69.0" cy="370.8" r="0.8" fill="#f0141e"/>
<circle cx="68.7" cy="370.8" r="0.8" fill="#f0141e"/>
<circle cx="73.6" cy="372.1" r="0.8" fill="#f0141e"/>
<circle cx="70.1" cy="373.5" r="0.8" fill="#f0141e"/>
<circle cx="70.0" cy="374.8" r="0.8" fill="#f0141e"/>
<circle cx="74.5" cy="376.1" r="0.8" fill="#f0141e"/>
<circle cx="71.4" cy="377.4" r="0.8" fill="#f0141e"/>
<circle cx="73.5" cy="380.1" r="0.8" fill="#f0141e"/>
<circle cx="71.4" cy="385.4" r="0.8" fill="#f0141e"/>
<line x1="71.5" y1="373.5" x2="71.5" y2="369.5" stroke="#222" stroke-width="0.5"/>
<line x1="70.0" y1="369.5" x2="73.0" y2="369.5" stroke="#222" stroke-width="0.5"/>
<line x1="70.0" y1="373.5" x2="73.0" y2="373.5" stroke="#222" stroke-width="0.5"/>
<line x1="69.3" y1="371.5" x2="73.8" y2="371.5" stroke="#222" stroke-width="0.7"/>
<rect x="78.8" y="394.0" width="7.8" height="8.6" fill="#fff" stroke="#444" stroke-width="0.6"/>
<line x1="82.7" y1="403.0" x2="82.7" y2="404.4" stroke="#444" stroke-width="0.5"/>
<circle cx="81.1" cy="389.4" r="0.8" fill="#e61ee6"/>
<circle cx="80.3" cy="390.7" r="0.8" fill="#e61ee6"/>
<circle cx="82.1" cy="392.0" r="0.8" fill="#e61ee6"/>
<circle cx="80.7" cy="392.0" r="0.8" fill="#e61ee6"/>
<circle cx="80.1" cy="393.3" r="0.8" fill="#e61ee6"/>
<circle cx="82.1" cy="393.3" r="0.8" fill="#e61ee6"/>
<circle cx="85.2" cy="394.7" r="0.8" fill="#e61ee6"/>
<circle cx="84.5" cy="394.7" r="0.8" fill="#e61ee6"/>
<circle cx="84.3" cy="396.0" r="0.8" fill="#e61ee6"/>
<circle cx="81.1" cy="396.0" r="0.8" fill="#e61ee6"/>
<circle cx="82.9" cy="397.3" r="0.8" fill="#e61ee6"/>
<circle cx="81.4" cy="398.6" r="0.8" fill="#e61ee6"/>
<line x1="82.7" y1="395.0" x2="82.7" y2="392.9" stroke="#222" stroke-width="0.5"/>
<line x1="81.2" y1="392.9" x2="84.2" y2="392.9" stroke="#222" stroke-width="0.5"/>
<line x1="81.2" y1="395.0" x2="84.2" y2="395.0" stroke="#222" stroke-width="0.5"/>
<line x1="80.5" y1="394.0" x2="84.9" y2="394.0" stroke="#222" stroke-width="0.7"/>
<text x="75.2" y="357.4" font-size="7.2" text-anchor="middle" fill="#231f20" stroke="#231f20" letter-spacing="0.3"><tspan>****</tspan></text>
<line x1="112.6" y1="349.3" x2="112.6" y2="390.0" stroke="#444" stroke-width="0.6"/>
<line x1="112.6" y1="392.6" x2="112.6" y2="403.3" stroke="#444" stroke-width="0.6"/>
<line x1="111.0" y1="393.6" x2="113.2" y2="392.2" stroke="#444" stroke-width="0.5"/>
<line x1="111.0" y1="349.8" x2="112.6" y2="349.8" stroke="#444" stroke-width="0.5"/>
<text x="109.8" y="352.1" font-size="6.5" text-anchor="end" fill="#231f20" stroke="#231f20"><tspan>16</tspan></text>
<line x1="111.0" y1="359.4" x2="112.6" y2="359.4" stroke="#444" stroke-width="0.5"/>
<text x="109.8" y="361.7" font-size="6.5" text-anchor="end" fill="#231f20" stroke="#231f20"><tspan>14</tspan></text>
<line x1="111.0" y1="369.3" x2="112.6" y2="369.3" stroke="#444" stroke-width="0.5"/>
<text x="109.8" y="371.6" font-size="6.5" text-anchor="end" fill="#231f20" stroke="#231f20"><tspan>12</tspan></text>
<line x1="111.0" y1="379.0" x2="112.6" y2="379.0" stroke="#444" stroke-width="0.5"/>
<text x="109.8" y="381.3" font-size="6.5" text-anchor="end" fill="#231f20" stroke="#231f20"><tspan>10</tspan></text>
<line x1="111.0" y1="388.6" x2="112.6" y2="388.6" stroke="#444" stroke-width="0.5"/>
<text x="109.8" y="390.9" font-size="6.5" text-anchor="end" fill="#231f20" stroke="#231f20"><tspan>8</tspan></text>
<line x1="111.0" y1="395.2" x2="112.6" y2="395.2" stroke="#444" stroke-width="0.5"/>
<text x="109.8" y="397.5" font-size="6.5" text-anchor="end" fill="#231f20" stroke="#231f20"><tspan>6</tspan></text>
<line x1="111.0" y1="402.9" x2="112.6" y2="402.9" stroke="#444" stroke-width="0.5"/>
<text x="109.8" y="405.2" font-size="6.5" text-anchor="end" fill="#231f20" stroke="#231f20"><tspan>0</tspan></text>
<line x1="112.6" y1="403.3" x2="138.4" y2="403.3" stroke="#444" stroke-width="0.6"/>
<rect x="115.7" y="362.3" width="7.8" height="40.6" fill="#fff" stroke="#444" stroke-width="0.6"/>
<line x1="119.6" y1="403.3" x2="119.6" y2="404.7" stroke="#444" stroke-width="0.5"/>
<circle cx="121.7" cy="354.5" r="0.8" fill="#f0141e"/>
<circle cx="118.0" cy="361.5" r="0.8" fill="#f0141e"/>
<circle cx="121.0" cy="362.3" r="0.8" fill="#f0141e"/>
<circle cx="119.8" cy="363.0" r="0.8" fill="#f0141e"/>
<circle cx="122.0" cy="363.8" r="0.8" fill="#f0141e"/>
<circle cx="119.9" cy="364.5" r="0.8" fill="#f0141e"/>
<line x1="117.4" y1="362.3" x2="121.8" y2="362.3" stroke="#222" stroke-width="0.7"/>
<rect x="127.1" y="372.2" width="7.8" height="30.7" fill="#fff" stroke="#444" stroke-width="0.6"/>
<line x1="131.0" y1="403.3" x2="131.0" y2="404.7" stroke="#444" stroke-width="0.5"/>
<circle cx="130.1" cy="370.0" r="0.8" fill="#e61ee6"/>
<circle cx="132.3" cy="371.5" r="0.8" fill="#e61ee6"/>
<circle cx="128.9" cy="373.0" r="0.8" fill="#e61ee6"/>
<circle cx="129.9" cy="375.0" r="0.8" fill="#e61ee6"/>
<line x1="128.8" y1="372.2" x2="133.2" y2="372.2" stroke="#222" stroke-width="0.7"/>
<text x="124.2" y="355.6" font-size="7.2" text-anchor="middle" fill="#231f20" stroke="#231f20" letter-spacing="0.3"><tspan>**</tspan></text>
<g transform="translate(92.4,368.9) rotate(-90)"><text x="0" y="2.3" font-size="6.3" text-anchor="middle" fill="#231f20" stroke="#231f20"><tspan>(×10</tspan><tspan font-size="3.9" dy="-2.4">3</tspan><tspan dy="2.4">)</tspan></text></g>
<text x="151.2" y="247.0" font-size="11" font-weight="bold" fill="#000">g</text>
<text x="234.3" y="251.7" font-size="6.5" text-anchor="middle" fill="#231f20" stroke="#231f20"><tspan>Clusters</tspan></text>
<text x="306.8" y="251.7" font-size="6.5" text-anchor="middle" fill="#231f20" stroke="#231f20"><tspan>Samples</tspan></text>
<g transform="translate(155.7,279.3) rotate(-90)"><text x="0" y="2.3" font-size="6.5" text-anchor="middle" fill="#231f20" stroke="#231f20"><tspan>Terminal effector</tspan></text></g>
<g transform="translate(164.3,279.3) rotate(-90)"><text x="0" y="2.3" font-size="6.5" text-anchor="middle" fill="#231f20" stroke="#231f20"><tspan>T</tspan><tspan font-size="4.0" dy="1.8">reg</tspan></text></g>
<g transform="translate(173.0,279.3) rotate(-90)"><text x="0" y="2.3" font-size="6.3" text-anchor="middle" fill="#231f20" stroke="#231f20"><tspan>expression level</tspan></text></g>
<g transform="translate(155.7,337.0) rotate(-90)"><text x="0" y="2.3" font-size="6.5" text-anchor="middle" fill="#231f20" stroke="#231f20"><tspan>Colonic RORγt</tspan><tspan font-size="4.0" dy="-2.5">+</tspan></text></g>
<g transform="translate(164.3,337.0) rotate(-90)"><text x="0" y="2.3" font-size="6.5" text-anchor="middle" fill="#231f20" stroke="#231f20"><tspan>T</tspan><tspan font-size="4.0" dy="1.8">reg</tspan></text></g>
<g transform="translate(173.0,337.0) rotate(-90)"><text x="0" y="2.3" font-size="6.3" text-anchor="middle" fill="#231f20" stroke="#231f20"><tspan>expression level</tspan></text></g>
<line x1="198.9" y1="251.0" x2="198.9" y2="305.2" stroke="#555" stroke-width="0.6"/>
<line x1="198.9" y1="305.2" x2="269.6" y2="305.2" stroke="#555" stroke-width="0.6"/>
<line x1="198.9" y1="311.5" x2="198.9" y2="364.6" stroke="#555" stroke-width="0.6"/>
<line x1="198.9" y1="364.6" x2="269.6" y2="364.6" stroke="#555" stroke-width="0.6"/>
<line x1="271.5" y1="251.0" x2="271.5" y2="305.2" stroke="#555" stroke-width="0.6"/>
<line x1="271.5" y1="305.2" x2="342.6" y2="305.2" stroke="#555" stroke-width="0.6"/>
<line x1="271.5" y1="311.5" x2="271.5" y2="364.6" stroke="#555" stroke-width="0.6"/>
<line x1="271.5" y1="364.6" x2="342.6" y2="364.6" stroke="#555" stroke-width="0.6"/>
<line x1="197.2" y1="252.0" x2="198.9" y2="252.0" stroke="#555" stroke-width="0.5"/>
<text x="196.0" y="254.3" font-size="6.5" text-anchor="end" fill="#231f20" stroke="#231f20"><tspan>0.4</tspan></text>
<line x1="269.8" y1="252.0" x2="271.5" y2="252.0" stroke="#555" stroke-width="0.5"/>
<line x1="197.2" y1="261.3" x2="198.9" y2="261.3" stroke="#555" stroke-width="0.5"/>
<text x="196.0" y="263.6" font-size="6.5" text-anchor="end" fill="#231f20" stroke="#231f20"><tspan>0.3</tspan></text>
<line x1="269.8" y1="261.3" x2="271.5" y2="261.3" stroke="#555" stroke-width="0.5"/>
<line x1="197.2" y1="270.7" x2="198.9" y2="270.7" stroke="#555" stroke-width="0.5"/>
<text x="196.0" y="273.0" font-size="6.5" text-anchor="end" fill="#231f20" stroke="#231f20"><tspan>0.2</tspan></text>
<line x1="269.8" y1="270.7" x2="271.5" y2="270.7" stroke="#555" stroke-width="0.5"/>
<line x1="197.2" y1="280.1" x2="198.9" y2="280.1" stroke="#555" stroke-width="0.5"/>
<text x="196.0" y="282.4" font-size="6.5" text-anchor="end" fill="#231f20" stroke="#231f20"><tspan>0.1</tspan></text>
<line x1="269.8" y1="280.1" x2="271.5" y2="280.1" stroke="#555" stroke-width="0.5"/>
<line x1="197.2" y1="289.5" x2="198.9" y2="289.5" stroke="#555" stroke-width="0.5"/>
<text x="196.0" y="291.8" font-size="6.5" text-anchor="end" fill="#231f20" stroke="#231f20"><tspan>0</tspan></text>
<line x1="269.8" y1="289.5" x2="271.5" y2="289.5" stroke="#555" stroke-width="0.5"/>
<line x1="197.2" y1="298.6" x2="198.9" y2="298.6" stroke="#555" stroke-width="0.5"/>
<text x="196.0" y="300.9" font-size="6.5" text-anchor="end" fill="#231f20" stroke="#231f20"><tspan>−0.1</tspan></text>
<line x1="269.8" y1="298.6" x2="271.5" y2="298.6" stroke="#555" stroke-width="0.5"/>
<line x1="197.2" y1="313.3" x2="198.9" y2="313.3" stroke="#555" stroke-width="0.5"/>
<text x="196.0" y="315.6" font-size="6.5" text-anchor="end" fill="#231f20" stroke="#231f20"><tspan>0.9</tspan></text>
<line x1="269.8" y1="313.3" x2="271.5" y2="313.3" stroke="#555" stroke-width="0.5"/>
<line x1="197.2" y1="326.5" x2="198.9" y2="326.5" stroke="#555" stroke-width="0.5"/>
<text x="196.0" y="328.8" font-size="6.5" text-anchor="end" fill="#231f20" stroke="#231f20"><tspan>0.6</tspan></text>
<line x1="269.8" y1="326.5" x2="271.5" y2="326.5" stroke="#555" stroke-width="0.5"/>
<line x1="197.2" y1="339.6" x2="198.9" y2="339.6" stroke="#555" stroke-width="0.5"/>
<text x="196.0" y="341.9" font-size="6.5" text-anchor="end" fill="#231f20" stroke="#231f20"><tspan>0.3</tspan></text>
<line x1="269.8" y1="339.6" x2="271.5" y2="339.6" stroke="#555" stroke-width="0.5"/>
<line x1="197.2" y1="352.6" x2="198.9" y2="352.6" stroke="#555" stroke-width="0.5"/>
<text x="196.0" y="354.9" font-size="6.5" text-anchor="end" fill="#231f20" stroke="#231f20"><tspan>0</tspan></text>
<line x1="269.8" y1="352.6" x2="271.5" y2="352.6" stroke="#555" stroke-width="0.5"/>
<line x1="206.9" y1="305.2" x2="206.9" y2="307.0" stroke="#555" stroke-width="0.5"/>
<line x1="206.9" y1="364.6" x2="206.9" y2="366.4" stroke="#555" stroke-width="0.5"/>
<line x1="220.6" y1="305.2" x2="220.6" y2="307.0" stroke="#555" stroke-width="0.5"/>
<line x1="220.6" y1="364.6" x2="220.6" y2="366.4" stroke="#555" stroke-width="0.5"/>
<line x1="234.3" y1="305.2" x2="234.3" y2="307.0" stroke="#555" stroke-width="0.5"/>
<line x1="234.3" y1="364.6" x2="234.3" y2="366.4" stroke="#555" stroke-width="0.5"/>
<line x1="247.9" y1="305.2" x2="247.9" y2="307.0" stroke="#555" stroke-width="0.5"/>
<line x1="247.9" y1="364.6" x2="247.9" y2="366.4" stroke="#555" stroke-width="0.5"/>
<line x1="261.6" y1="305.2" x2="261.6" y2="307.0" stroke="#555" stroke-width="0.5"/>
<line x1="261.6" y1="364.6" x2="261.6" y2="366.4" stroke="#555" stroke-width="0.5"/>
<line x1="278.4" y1="305.2" x2="278.4" y2="307.0" stroke="#555" stroke-width="0.5"/>
<line x1="278.4" y1="364.6" x2="278.4" y2="366.4" stroke="#555" stroke-width="0.5"/>
<line x1="289.7" y1="305.2" x2="289.7" y2="307.0" stroke="#555" stroke-width="0.5"/>
<line x1="289.7" y1="364.6" x2="289.7" y2="366.4" stroke="#555" stroke-width="0.5"/>
<line x1="301.4" y1="305.2" x2="301.4" y2="307.0" stroke="#555" stroke-width="0.5"/>
<line x1="301.4" y1="364.6" x2="301.4" y2="366.4" stroke="#555" stroke-width="0.5"/>
<line x1="313.1" y1="305.2" x2="313.1" y2="307.0" stroke="#555" stroke-width="0.5"/>
<line x1="313.1" y1="364.6" x2="313.1" y2="366.4" stroke="#555" stroke-width="0.5"/>
<line x1="324.6" y1="305.2" x2="324.6" y2="307.0" stroke="#555" stroke-width="0.5"/>
<line x1="324.6" y1="364.6" x2="324.6" y2="366.4" stroke="#555" stroke-width="0.5"/>
<line x1="336.3" y1="305.2" x2="336.3" y2="307.0" stroke="#555" stroke-width="0.5"/>
<line x1="336.3" y1="364.6" x2="336.3" y2="366.4" stroke="#555" stroke-width="0.5"/>
<path d="M206.0,281.9 L206.7,268.3 L206.9,261.0 L207.2,268.3 L207.8,281.9 Z" fill="#999" fill-opacity="0.5"/>
<line x1="206.9" y1="298.5" x2="206.9" y2="300.0" stroke="#999" stroke-width="0.7" stroke-opacity="0.55"/>
<path d="M207.2,280.0 C207.3,280.6 207.2,282.5 207.6,283.8 C208.0,285.0 208.7,286.4 209.4,287.6 C210.2,288.7 211.5,289.9 212.1,290.7 C212.6,291.6 213.2,291.8 212.9,292.6 C212.6,293.4 211.2,294.6 210.2,295.6 C209.3,296.5 207.8,298.0 207.2,298.5 C206.6,299.0 207.2,299.0 206.6,298.5 C206.0,298.0 204.5,296.5 203.6,295.6 C202.7,294.6 201.2,293.4 200.9,292.6 C200.6,291.8 201.2,291.6 201.7,290.7 C202.3,289.9 203.6,288.7 204.4,287.6 C205.1,286.4 205.8,285.0 206.2,283.8 C206.6,282.5 206.5,280.6 206.7,280.0 C206.8,279.4 207.0,279.4 207.2,280.0 Z" fill="#3cc0f0" stroke="#333" stroke-width="0.4"/>
<path d="M219.7,282.9 L220.3,275.8 L220.6,272.0 L220.8,275.8 L221.5,282.9 Z" fill="#999" fill-opacity="0.5"/>
<line x1="220.6" y1="299.5" x2="220.6" y2="301.0" stroke="#999" stroke-width="0.7" stroke-opacity="0.55"/>
<path d="M220.8,281.0 C221.0,281.6 221.0,283.6 221.4,284.8 C221.8,286.1 222.5,287.5 223.3,288.7 C224.1,289.9 225.6,291.0 226.2,291.9 C226.8,292.7 227.4,293.0 227.1,293.8 C226.8,294.6 225.2,295.7 224.2,296.6 C223.1,297.6 221.5,299.0 220.9,299.5 C220.3,300.0 220.9,300.0 220.3,299.5 C219.7,299.0 218.1,297.6 217.0,296.6 C216.0,295.7 214.4,294.6 214.1,293.8 C213.8,293.0 214.4,292.7 215.0,291.9 C215.6,291.0 217.1,289.9 217.9,288.7 C218.7,287.5 219.4,286.1 219.8,284.8 C220.2,283.6 220.2,281.6 220.3,281.0 C220.5,280.4 220.7,280.4 220.8,281.0 Z" fill="#3fb04a" stroke="#333" stroke-width="0.4"/>
<path d="M233.4,285.6 L234.1,278.7 L234.3,275.0 L234.6,278.7 L235.2,285.6 Z" fill="#999" fill-opacity="0.5"/>
<line x1="234.3" y1="300.5" x2="234.3" y2="302.0" stroke="#999" stroke-width="0.7" stroke-opacity="0.55"/>
<path d="M234.6,284.0 C234.7,284.5 234.7,286.1 235.1,287.2 C235.5,288.3 236.2,289.4 237.0,290.4 C237.8,291.4 239.3,292.4 239.9,293.1 C240.5,293.8 241.1,293.9 240.8,294.7 C240.5,295.5 238.9,296.6 237.9,297.6 C236.8,298.6 235.2,300.0 234.6,300.5 C234.0,301.0 234.6,301.0 234.0,300.5 C233.4,300.0 231.8,298.6 230.7,297.6 C229.7,296.6 228.1,295.5 227.8,294.7 C227.5,293.9 228.1,293.8 228.7,293.1 C229.3,292.4 230.8,291.4 231.6,290.4 C232.4,289.4 233.1,288.3 233.5,287.2 C233.9,286.1 233.9,284.5 234.1,284.0 C234.2,283.5 234.4,283.5 234.6,284.0 Z" fill="#ffd400" stroke="#333" stroke-width="0.4"/>
<path d="M247.0,267.3 L247.7,258.7 L247.9,254.0 L248.2,258.7 L248.8,267.3 Z" fill="#999" fill-opacity="0.5"/>
<line x1="247.9" y1="294.7" x2="247.9" y2="298.0" stroke="#999" stroke-width="0.7" stroke-opacity="0.55"/>
<path d="M248.2,265.6 C248.6,266.2 249.2,267.8 249.9,269.0 C250.6,270.2 251.7,271.7 252.4,273.0 C253.1,274.3 253.6,275.7 253.9,277.0 C254.2,278.3 254.3,279.7 254.1,281.0 C253.9,282.3 253.4,283.7 252.9,285.0 C252.4,286.3 251.5,287.8 250.9,289.0 C250.3,290.2 249.5,291.1 249.1,292.0 C248.7,292.9 248.5,294.2 248.2,294.7 C248.0,295.1 247.8,295.1 247.6,294.7 C247.3,294.2 247.2,292.9 246.7,292.0 C246.3,291.1 245.5,290.2 244.9,289.0 C244.3,287.8 243.4,286.3 242.9,285.0 C242.4,283.7 241.9,282.3 241.7,281.0 C241.5,279.7 241.6,278.3 241.9,277.0 C242.2,275.7 242.7,274.3 243.4,273.0 C244.1,271.7 245.2,270.2 245.9,269.0 C246.6,267.8 247.2,266.2 247.6,265.6 C248.0,265.0 247.8,265.0 248.2,265.6 Z" fill="#e8383c" stroke="#333" stroke-width="0.4"/>
<path d="M260.7,270.5 L261.4,265.6 L261.6,263.0 L261.9,265.6 L262.5,270.5 Z" fill="#999" fill-opacity="0.5"/>
<line x1="261.6" y1="301.5" x2="261.6" y2="303.0" stroke="#999" stroke-width="0.7" stroke-opacity="0.55"/>
<path d="M261.9,269.0 C262.3,269.5 262.9,270.8 263.6,272.0 C264.3,273.2 265.4,274.7 266.1,276.0 C266.8,277.3 267.7,278.7 267.9,280.0 C268.2,281.3 267.9,282.7 267.6,284.0 C267.3,285.3 266.5,286.8 266.1,288.0 C265.7,289.2 265.3,290.0 265.4,291.0 C265.5,292.0 266.5,293.0 266.6,294.0 C266.7,295.0 266.6,296.0 266.1,297.0 C265.6,298.0 264.3,299.2 263.6,300.0 C262.9,300.8 262.3,301.2 261.9,301.5 C261.5,301.8 261.7,301.8 261.3,301.5 C260.9,301.2 260.3,300.8 259.6,300.0 C258.9,299.2 257.6,298.0 257.1,297.0 C256.6,296.0 256.5,295.0 256.6,294.0 C256.7,293.0 257.7,292.0 257.8,291.0 C257.9,290.0 257.5,289.2 257.1,288.0 C256.7,286.8 255.9,285.3 255.6,284.0 C255.3,282.7 255.1,281.3 255.3,280.0 C255.6,278.7 256.4,277.3 257.1,276.0 C257.8,274.7 258.9,273.2 259.6,272.0 C260.3,270.8 260.9,269.5 261.3,269.0 C261.7,268.5 261.5,268.5 261.9,269.0 Z" fill="#a55aaa" stroke="#333" stroke-width="0.4"/>
<path d="M277.5,286.1 L278.1,268.4 L278.4,258.8 L278.6,268.4 L279.3,286.1 Z" fill="#666" fill-opacity="0.5"/>
<line x1="278.4" y1="298.5" x2="278.4" y2="300.5" stroke="#666" stroke-width="0.7" stroke-opacity="0.55"/>
<path d="M278.6,285.0 C278.8,285.4 278.7,286.5 279.0,287.3 C279.4,288.0 280.0,288.9 280.6,289.6 C281.3,290.3 282.4,291.0 283.0,291.5 C283.5,292.0 284.0,291.9 283.7,292.6 C283.4,293.3 282.1,294.6 281.3,295.6 C280.5,296.5 279.2,298.0 278.7,298.5 C278.2,299.0 278.6,299.0 278.1,298.5 C277.6,298.0 276.3,296.5 275.5,295.6 C274.7,294.6 273.4,293.3 273.1,292.6 C272.8,291.9 273.3,292.0 273.8,291.5 C274.4,291.0 275.5,290.3 276.2,289.6 C276.8,288.9 277.4,288.0 277.8,287.3 C278.1,286.5 278.0,285.4 278.1,285.0 C278.3,284.6 278.5,284.6 278.6,285.0 Z" fill="#ffffff" stroke="#333" stroke-width="0.4"/>
<path d="M288.8,286.1 L289.4,271.1 L289.7,263.0 L289.9,271.1 L290.6,286.1 Z" fill="#666" fill-opacity="0.5"/>
<line x1="289.7" y1="298.0" x2="289.7" y2="300.5" stroke="#666" stroke-width="0.7" stroke-opacity="0.55"/>
<path d="M289.9,285.0 C290.1,285.4 290.0,286.4 290.3,287.1 C290.7,287.8 291.3,288.6 291.9,289.3 C292.6,289.9 293.7,290.6 294.3,291.0 C294.8,291.5 295.3,291.4 295.0,292.1 C294.7,292.8 293.4,294.1 292.6,295.1 C291.8,296.0 290.5,297.5 290.0,298.0 C289.5,298.5 289.9,298.5 289.4,298.0 C288.9,297.5 287.6,296.0 286.8,295.1 C286.0,294.1 284.7,292.8 284.4,292.1 C284.1,291.4 284.6,291.5 285.1,291.0 C285.7,290.6 286.8,289.9 287.5,289.3 C288.1,288.6 288.7,287.8 289.1,287.1 C289.4,286.4 289.3,285.4 289.4,285.0 C289.6,284.6 289.8,284.6 289.9,285.0 Z" fill="#6e6e6e" stroke="#333" stroke-width="0.4"/>
<path d="M300.5,289.1 L301.1,276.0 L301.4,269.0 L301.6,276.0 L302.3,289.1 Z" fill="#666" fill-opacity="0.5"/>
<line x1="301.4" y1="300.5" x2="301.4" y2="302.5" stroke="#666" stroke-width="0.7" stroke-opacity="0.55"/>
<path d="M301.6,288.0 C301.8,288.4 301.7,289.4 302.0,290.1 C302.3,290.8 302.9,291.6 303.6,292.2 C304.2,292.8 305.4,293.5 305.9,293.9 C306.4,294.4 306.9,294.4 306.6,295.0 C306.3,295.6 305.1,296.8 304.3,297.8 C303.4,298.7 302.2,300.0 301.7,300.5 C301.2,301.0 301.6,301.0 301.1,300.5 C300.6,300.0 299.4,298.7 298.5,297.8 C297.7,296.8 296.5,295.6 296.2,295.0 C295.9,294.4 296.4,294.4 296.9,293.9 C297.4,293.5 298.6,292.8 299.2,292.2 C299.9,291.6 300.5,290.8 300.8,290.1 C301.1,289.4 301.0,288.4 301.1,288.0 C301.3,287.6 301.5,287.6 301.6,288.0 Z" fill="#a8d4e6" stroke="#333" stroke-width="0.4"/>
<path d="M312.2,289.0 L312.9,275.0 L313.1,267.5 L313.4,275.0 L314.0,289.0 Z" fill="#666" fill-opacity="0.5"/>
<line x1="313.1" y1="300.0" x2="313.1" y2="302.0" stroke="#666" stroke-width="0.7" stroke-opacity="0.55"/>
<path d="M313.4,288.0 C313.5,288.3 313.4,289.3 313.7,290.0 C314.0,290.7 314.6,291.4 315.2,292.0 C315.8,292.6 316.9,293.2 317.4,293.7 C317.9,294.1 318.4,294.1 318.1,294.7 C317.8,295.3 316.6,296.5 315.9,297.4 C315.1,298.2 313.9,299.6 313.4,300.0 C312.9,300.4 313.3,300.4 312.8,300.0 C312.3,299.6 311.1,298.2 310.4,297.4 C309.6,296.5 308.4,295.3 308.1,294.7 C307.8,294.1 308.3,294.1 308.8,293.7 C309.3,293.2 310.4,292.6 311.0,292.0 C311.6,291.4 312.2,290.7 312.5,290.0 C312.8,289.3 312.7,288.3 312.9,288.0 C313.0,287.7 313.2,287.7 313.4,288.0 Z" fill="#96cc84" stroke="#333" stroke-width="0.4"/>
<path d="M323.7,267.8 L324.4,258.8 L324.6,254.0 L324.9,258.8 L325.5,267.8 Z" fill="#999" fill-opacity="0.5"/>
<line x1="324.6" y1="298.4" x2="324.6" y2="300.0" stroke="#999" stroke-width="0.7" stroke-opacity="0.55"/>
<path d="M324.9,266.5 C325.0,266.9 325.2,268.1 325.5,269.0 C325.8,269.9 326.4,270.8 326.9,272.0 C327.5,273.2 328.3,274.7 328.8,276.0 C329.3,277.3 329.6,278.5 329.8,280.0 C330.0,281.5 330.1,283.5 330.0,285.0 C329.9,286.5 329.8,287.7 329.5,289.0 C329.2,290.3 328.7,291.8 328.2,293.0 C327.7,294.2 327.2,295.1 326.6,296.0 C326.1,296.9 325.3,298.0 324.9,298.4 C324.5,298.8 324.7,298.8 324.3,298.4 C323.9,298.0 323.2,296.9 322.6,296.0 C322.1,295.1 321.5,294.2 321.0,293.0 C320.5,291.8 320.0,290.3 319.7,289.0 C319.4,287.7 319.3,286.5 319.2,285.0 C319.2,283.5 319.2,281.5 319.4,280.0 C319.6,278.5 319.9,277.3 320.4,276.0 C320.9,274.7 321.8,273.2 322.3,272.0 C322.9,270.8 323.4,269.9 323.7,269.0 C324.0,268.1 324.2,266.9 324.4,266.5 C324.5,266.1 324.7,266.1 324.9,266.5 Z" fill="#e8302e" stroke="#333" stroke-width="0.4"/>
<path d="M335.4,285.6 L336.1,269.0 L336.3,260.0 L336.6,269.0 L337.2,285.6 Z" fill="#999" fill-opacity="0.5"/>
<line x1="336.3" y1="300.0" x2="336.3" y2="301.5" stroke="#999" stroke-width="0.7" stroke-opacity="0.55"/>
<path d="M336.6,284.0 C336.7,284.5 336.6,286.1 336.9,287.2 C337.3,288.3 337.9,289.4 338.5,290.4 C339.2,291.4 340.3,292.4 340.9,293.1 C341.4,293.8 341.9,294.0 341.6,294.7 C341.3,295.4 340.0,296.5 339.2,297.4 C338.4,298.2 337.1,299.6 336.6,300.0 C336.1,300.4 336.5,300.4 336.0,300.0 C335.5,299.6 334.2,298.2 333.4,297.4 C332.6,296.5 331.3,295.4 331.0,294.7 C330.7,294.0 331.2,293.8 331.7,293.1 C332.3,292.4 333.4,291.4 334.1,290.4 C334.7,289.4 335.3,288.3 335.7,287.2 C336.0,286.1 335.9,284.5 336.1,284.0 C336.2,283.5 336.4,283.5 336.6,284.0 Z" fill="#7a3c98" stroke="#333" stroke-width="0.4"/>
<path d="M206.0,338.0 L206.7,324.4 L206.9,317.0 L207.2,324.4 L207.8,338.0 Z" fill="#999" fill-opacity="0.5"/>
<line x1="206.9" y1="356.4" x2="206.9" y2="358.0" stroke="#999" stroke-width="0.7" stroke-opacity="0.55"/>
<path d="M207.2,336.0 C207.3,336.7 207.3,338.7 207.7,340.1 C208.1,341.4 208.8,342.9 209.5,344.1 C210.3,345.3 211.7,346.6 212.3,347.5 C212.9,348.4 213.5,348.6 213.2,349.5 C212.9,350.4 211.4,351.8 210.4,352.9 C209.4,354.1 207.8,355.8 207.2,356.4 C206.6,357.0 207.2,357.0 206.6,356.4 C206.0,355.8 204.4,354.1 203.4,352.9 C202.4,351.8 200.9,350.4 200.6,349.5 C200.3,348.6 200.9,348.4 201.5,347.5 C202.1,346.6 203.5,345.3 204.3,344.1 C205.0,342.9 205.7,341.4 206.1,340.1 C206.5,338.7 206.5,336.7 206.7,336.0 C206.8,335.3 207.0,335.3 207.2,336.0 Z" fill="#3cc0f0" stroke="#333" stroke-width="0.4"/>
<path d="M219.7,334.9 L220.3,327.8 L220.6,324.0 L220.8,327.8 L221.5,334.9 Z" fill="#999" fill-opacity="0.5"/>
<line x1="220.6" y1="355.5" x2="220.6" y2="358.0" stroke="#999" stroke-width="0.7" stroke-opacity="0.55"/>
<path d="M220.8,332.5 C221.0,333.3 221.0,335.7 221.4,337.4 C221.8,339.0 222.5,340.7 223.3,342.2 C224.1,343.7 225.6,345.2 226.2,346.3 C226.8,347.3 227.4,347.7 227.1,348.7 C226.8,349.7 225.2,351.0 224.2,352.1 C223.1,353.2 221.5,354.9 220.9,355.5 C220.3,356.1 220.9,356.1 220.3,355.5 C219.7,354.9 218.1,353.2 217.0,352.1 C216.0,351.0 214.4,349.7 214.1,348.7 C213.8,347.7 214.4,347.3 215.0,346.3 C215.6,345.2 217.1,343.7 217.9,342.2 C218.7,340.7 219.4,339.0 219.8,337.4 C220.2,335.7 220.2,333.3 220.3,332.5 C220.5,331.7 220.7,331.7 220.8,332.5 Z" fill="#3fb04a" stroke="#333" stroke-width="0.4"/>
<path d="M233.4,341.3 L234.1,331.4 L234.3,326.0 L234.6,331.4 L235.2,341.3 Z" fill="#999" fill-opacity="0.5"/>
<line x1="234.3" y1="354.0" x2="234.3" y2="357.0" stroke="#999" stroke-width="0.7" stroke-opacity="0.55"/>
<path d="M234.6,340.0 C234.7,340.4 234.7,341.7 235.1,342.6 C235.5,343.5 236.2,344.4 237.0,345.2 C237.8,346.0 239.3,346.8 239.9,347.4 C240.5,348.0 241.1,348.0 240.8,348.7 C240.5,349.4 238.9,350.5 237.9,351.4 C236.8,352.2 235.2,353.6 234.6,354.0 C234.0,354.4 234.6,354.4 234.0,354.0 C233.4,353.6 231.8,352.2 230.7,351.4 C229.7,350.5 228.1,349.4 227.8,348.7 C227.5,348.0 228.1,348.0 228.7,347.4 C229.3,346.8 230.8,346.0 231.6,345.2 C232.4,344.4 233.1,343.5 233.5,342.6 C233.9,341.7 233.9,340.4 234.1,340.0 C234.2,339.6 234.4,339.6 234.6,340.0 Z" fill="#ffd400" stroke="#333" stroke-width="0.4"/>
<path d="M247.0,318.5 L247.7,314.3 L247.9,312.0 L248.2,314.3 L248.8,318.5 Z" fill="#999" fill-opacity="0.5"/>
<line x1="247.9" y1="346.0" x2="247.9" y2="350.0" stroke="#999" stroke-width="0.7" stroke-opacity="0.55"/>
<path d="M248.2,317.0 C248.7,317.5 249.6,318.7 250.4,320.0 C251.2,321.3 252.6,323.3 253.2,325.0 C253.9,326.7 254.3,328.3 254.3,330.0 C254.3,331.7 253.7,333.3 253.1,335.0 C252.5,336.7 251.6,338.5 250.9,340.0 C250.2,341.5 249.5,343.0 249.1,344.0 C248.7,345.0 248.5,345.7 248.2,346.0 C248.0,346.3 247.8,346.3 247.6,346.0 C247.3,345.7 247.2,345.0 246.7,344.0 C246.3,343.0 245.6,341.5 244.9,340.0 C244.2,338.5 243.3,336.7 242.7,335.0 C242.1,333.3 241.5,331.7 241.5,330.0 C241.5,328.3 241.9,326.7 242.6,325.0 C243.2,323.3 244.6,321.3 245.4,320.0 C246.2,318.7 247.1,317.5 247.6,317.0 C248.1,316.5 247.7,316.5 248.2,317.0 Z" fill="#e8383c" stroke="#333" stroke-width="0.4"/>
<path d="M260.7,320.4 L261.4,316.2 L261.6,314.0 L261.9,316.2 L262.5,320.4 Z" fill="#999" fill-opacity="0.5"/>
<line x1="261.6" y1="358.0" x2="261.6" y2="359.0" stroke="#999" stroke-width="0.7" stroke-opacity="0.55"/>
<path d="M261.9,318.8 C262.4,319.3 263.3,320.8 264.1,322.0 C264.9,323.2 266.0,324.7 266.6,326.0 C267.2,327.3 267.8,328.5 267.8,330.0 C267.8,331.5 267.1,333.2 266.6,335.0 C266.1,336.8 264.9,339.2 264.6,341.0 C264.4,342.8 264.8,344.5 265.1,346.0 C265.4,347.5 266.5,348.7 266.6,350.0 C266.7,351.3 266.2,352.8 265.6,354.0 C265.0,355.2 263.7,356.3 263.1,357.0 C262.5,357.7 262.2,357.8 261.9,358.0 C261.6,358.2 261.6,358.2 261.3,358.0 C261.0,357.8 260.7,357.7 260.1,357.0 C259.5,356.3 258.2,355.2 257.6,354.0 C257.0,352.8 256.5,351.3 256.6,350.0 C256.7,348.7 257.8,347.5 258.1,346.0 C258.4,344.5 258.9,342.8 258.6,341.0 C258.4,339.2 257.1,336.8 256.6,335.0 C256.1,333.2 255.4,331.5 255.4,330.0 C255.4,328.5 256.0,327.3 256.6,326.0 C257.2,324.7 258.3,323.2 259.1,322.0 C259.9,320.8 260.8,319.3 261.3,318.8 C261.8,318.3 261.4,318.3 261.9,318.8 Z" fill="#a55aaa" stroke="#333" stroke-width="0.4"/>
<path d="M277.5,335.6 L278.1,324.1 L278.4,318.0 L278.6,324.1 L279.3,335.6 Z" fill="#666" fill-opacity="0.5"/>
<line x1="278.4" y1="357.5" x2="278.4" y2="359.0" stroke="#666" stroke-width="0.7" stroke-opacity="0.55"/>
<path d="M278.6,333.0 C278.8,333.9 278.7,336.4 279.0,338.1 C279.4,339.8 280.0,341.6 280.7,343.2 C281.3,344.8 282.5,346.3 283.0,347.4 C283.6,348.6 284.1,348.9 283.8,350.0 C283.5,351.1 282.2,352.5 281.4,353.8 C280.5,355.0 279.2,356.9 278.7,357.5 C278.2,358.1 278.6,358.1 278.1,357.5 C277.6,356.9 276.3,355.0 275.4,353.8 C274.6,352.5 273.3,351.1 273.0,350.0 C272.7,348.9 273.2,348.6 273.8,347.4 C274.3,346.3 275.5,344.8 276.1,343.2 C276.8,341.6 277.4,339.8 277.8,338.1 C278.1,336.4 278.0,333.9 278.1,333.0 C278.3,332.1 278.5,332.1 278.6,333.0 Z" fill="#ffffff" stroke="#333" stroke-width="0.4"/>
<path d="M288.8,336.2 L289.4,327.0 L289.7,322.0 L289.9,327.0 L290.6,336.2 Z" fill="#666" fill-opacity="0.5"/>
<line x1="289.7" y1="356.5" x2="289.7" y2="358.0" stroke="#666" stroke-width="0.7" stroke-opacity="0.55"/>
<path d="M289.9,334.0 C290.1,334.8 290.0,337.0 290.3,338.5 C290.6,340.0 291.2,341.6 291.9,343.0 C292.5,344.4 293.7,345.8 294.2,346.8 C294.7,347.8 295.2,348.0 294.9,349.0 C294.6,350.0 293.4,351.5 292.6,352.8 C291.7,354.0 290.5,355.9 290.0,356.5 C289.5,357.1 289.9,357.1 289.4,356.5 C288.9,355.9 287.7,354.0 286.8,352.8 C286.0,351.5 284.8,350.0 284.5,349.0 C284.2,348.0 284.7,347.8 285.2,346.8 C285.7,345.8 286.9,344.4 287.5,343.0 C288.2,341.6 288.8,340.0 289.1,338.5 C289.4,337.0 289.3,334.8 289.4,334.0 C289.6,333.2 289.8,333.2 289.9,334.0 Z" fill="#6e6e6e" stroke="#333" stroke-width="0.4"/>
<path d="M300.5,337.2 L301.1,327.3 L301.4,322.0 L301.6,327.3 L302.3,337.2 Z" fill="#666" fill-opacity="0.5"/>
<line x1="301.4" y1="356.5" x2="301.4" y2="358.0" stroke="#666" stroke-width="0.7" stroke-opacity="0.55"/>
<path d="M301.6,335.0 C301.8,335.8 301.7,338.0 302.0,339.5 C302.3,341.0 302.9,342.6 303.5,344.0 C304.1,345.4 305.2,346.8 305.7,347.8 C306.2,348.8 306.7,349.1 306.4,350.0 C306.1,350.9 304.9,352.2 304.1,353.2 C303.4,354.3 302.2,356.0 301.7,356.5 C301.2,357.0 301.6,357.0 301.1,356.5 C300.6,356.0 299.4,354.3 298.6,353.2 C297.9,352.2 296.7,350.9 296.4,350.0 C296.1,349.1 296.6,348.8 297.1,347.8 C297.6,346.8 298.7,345.4 299.3,344.0 C299.9,342.6 300.5,341.0 300.8,339.5 C301.1,338.0 301.0,335.8 301.1,335.0 C301.3,334.2 301.5,334.2 301.6,335.0 Z" fill="#a8d4e6" stroke="#333" stroke-width="0.4"/>
<path d="M312.2,336.2 L312.9,327.0 L313.1,322.0 L313.4,327.0 L314.0,336.2 Z" fill="#666" fill-opacity="0.5"/>
<line x1="313.1" y1="355.5" x2="313.1" y2="357.0" stroke="#666" stroke-width="0.7" stroke-opacity="0.55"/>
<path d="M313.4,334.0 C313.5,334.7 313.4,336.9 313.7,338.4 C314.0,339.8 314.6,341.4 315.2,342.7 C315.8,344.0 316.9,345.4 317.4,346.3 C317.9,347.3 318.4,347.6 318.1,348.5 C317.8,349.4 316.6,350.8 315.9,352.0 C315.1,353.2 313.9,354.9 313.4,355.5 C312.9,356.1 313.3,356.1 312.8,355.5 C312.3,354.9 311.1,353.2 310.4,352.0 C309.6,350.8 308.4,349.4 308.1,348.5 C307.8,347.6 308.3,347.3 308.8,346.3 C309.3,345.4 310.4,344.0 311.0,342.7 C311.6,341.4 312.2,339.8 312.5,338.4 C312.8,336.9 312.7,334.7 312.9,334.0 C313.0,333.3 313.2,333.3 313.4,334.0 Z" fill="#96cc84" stroke="#333" stroke-width="0.4"/>
<path d="M323.7,320.5 L324.4,316.3 L324.6,314.0 L324.9,316.3 L325.5,320.5 Z" fill="#999" fill-opacity="0.5"/>
<line x1="324.6" y1="346.0" x2="324.6" y2="350.0" stroke="#999" stroke-width="0.7" stroke-opacity="0.55"/>
<path d="M324.9,319.0 C325.4,319.5 326.4,320.8 327.1,322.0 C327.8,323.2 328.6,324.5 329.1,326.0 C329.6,327.5 329.9,329.3 329.9,331.0 C329.9,332.7 329.6,334.5 329.2,336.0 C328.8,337.5 328.1,338.7 327.6,340.0 C327.1,341.3 326.6,343.0 326.1,344.0 C325.7,345.0 325.2,345.7 324.9,346.0 C324.6,346.3 324.6,346.3 324.3,346.0 C324.0,345.7 323.6,345.0 323.1,344.0 C322.7,343.0 322.1,341.3 321.6,340.0 C321.1,338.7 320.4,337.5 320.0,336.0 C319.6,334.5 319.3,332.7 319.3,331.0 C319.3,329.3 319.6,327.5 320.1,326.0 C320.6,324.5 321.4,323.2 322.1,322.0 C322.8,320.8 323.8,319.5 324.3,319.0 C324.8,318.5 324.4,318.5 324.9,319.0 Z" fill="#e8302e" stroke="#333" stroke-width="0.4"/>
<path d="M335.4,335.6 L336.1,326.1 L336.3,321.0 L336.6,326.1 L337.2,335.6 Z" fill="#999" fill-opacity="0.5"/>
<line x1="336.3" y1="357.0" x2="336.3" y2="358.0" stroke="#999" stroke-width="0.7" stroke-opacity="0.55"/>
<path d="M336.6,333.0 C336.7,333.9 336.6,336.4 336.9,338.1 C337.3,339.8 337.9,341.6 338.5,343.2 C339.2,344.8 340.3,346.3 340.9,347.4 C341.4,348.6 341.9,349.0 341.6,350.0 C341.3,351.0 340.0,352.3 339.2,353.5 C338.4,354.7 337.1,356.4 336.6,357.0 C336.1,357.6 336.5,357.6 336.0,357.0 C335.5,356.4 334.2,354.7 333.4,353.5 C332.6,352.3 331.3,351.0 331.0,350.0 C330.7,349.0 331.2,348.6 331.7,347.4 C332.3,346.3 333.4,344.8 334.1,343.2 C334.7,341.6 335.3,339.8 335.7,338.1 C336.0,336.4 335.9,333.9 336.1,333.0 C336.2,332.1 336.4,332.1 336.6,333.0 Z" fill="#7a3c98" stroke="#333" stroke-width="0.4"/>
<rect x="200.1" y="369.1" width="7.0" height="7.0" fill="#3cc0f0" stroke="#333" stroke-width="0.4"/>
<text x="210.3" y="374.9" font-size="6.5" text-anchor="start" fill="#231f20" stroke="#231f20"><tspan>tT</tspan><tspan font-size="4.0" dy="1.8">reg</tspan></text>
<rect x="200.1" y="378.1" width="7.0" height="7.0" fill="#3fb04a" stroke="#333" stroke-width="0.4"/>
<text x="210.3" y="383.9" font-size="6.5" text-anchor="start" fill="#231f20" stroke="#231f20"><tspan>Ki-67</tspan><tspan font-size="4.0" dy="-2.5">+</tspan><tspan dy="2.5"> tT</tspan><tspan font-size="4.0" dy="1.8">reg</tspan></text>
<rect x="200.1" y="387.5" width="7.0" height="7.0" fill="#ffd400" stroke="#333" stroke-width="0.4"/>
<text x="210.3" y="393.3" font-size="6.5" text-anchor="start" fill="#231f20" stroke="#231f20"><tspan>OT-II T</tspan><tspan font-size="4.0" dy="1.8">conv</tspan></text>
<rect x="200.1" y="396.9" width="7.0" height="7.0" fill="#e8383c" stroke="#333" stroke-width="0.4"/>
<text x="210.3" y="402.7" font-size="6.5" text-anchor="start" fill="#231f20" stroke="#231f20"><tspan>OT-II pT</tspan><tspan font-size="4.0" dy="1.8">reg</tspan></text>
<rect x="200.1" y="406.3" width="7.0" height="7.0" fill="#a55aaa" stroke="#333" stroke-width="0.4"/>
<text x="210.3" y="412.1" font-size="6.5" text-anchor="start" fill="#231f20" stroke="#231f20"><tspan>OT-II Ki-67</tspan><tspan font-size="4.0" dy="-2.5">+</tspan><tspan dy="2.5"> pT</tspan><tspan font-size="4.0" dy="1.8">reg</tspan></text>
<rect x="272.0" y="369.4" width="6.6" height="6.6" fill="#ffffff" stroke="#333" stroke-width="0.4"/>
<text x="282.4" y="375.0" font-size="6.5" text-anchor="start" fill="#231f20" stroke="#231f20"><tspan>Host T</tspan><tspan font-size="4.0" dy="1.8">reg</tspan><tspan dy="-1.8">_PBS</tspan></text>
<rect x="272.0" y="378.1" width="6.6" height="6.6" fill="#6e6e6e" stroke="#333" stroke-width="0.4"/>
<text x="282.4" y="383.7" font-size="6.5" text-anchor="start" fill="#231f20" stroke="#231f20"><tspan>Host T</tspan><tspan font-size="4.0" dy="1.8">reg</tspan><tspan dy="-1.8">_IL-2(N88D)</tspan></text>
<rect x="272.0" y="387.5" width="6.6" height="6.6" fill="#a8d4e6" stroke="#333" stroke-width="0.4"/>
<text x="282.4" y="393.1" font-size="6.5" text-anchor="start" fill="#231f20" stroke="#231f20"><tspan>OT-II_PBS</tspan></text>
<rect x="272.0" y="396.7" width="6.6" height="6.6" fill="#96cc84" stroke="#333" stroke-width="0.4"/>
<text x="282.4" y="402.3" font-size="6.5" text-anchor="start" fill="#231f20" stroke="#231f20"><tspan>OT-II_IL-2(WT)</tspan></text>
<rect x="272.0" y="406.3" width="6.6" height="6.6" fill="#e8302e" stroke="#333" stroke-width="0.4"/>
<text x="282.4" y="411.9" font-size="6.5" text-anchor="start" fill="#231f20" stroke="#231f20"><tspan>OT-II_TGM1-IL-2(WT)</tspan></text>
<rect x="272.0" y="415.3" width="6.6" height="6.6" fill="#7a3c98" stroke="#333" stroke-width="0.4"/>
<text x="282.4" y="420.9" font-size="6.5" text-anchor="start" fill="#231f20" stroke="#231f20"><tspan>OT-II_TGM1-IL-2(DN)</tspan></text>
<text x="352.0" y="280.7" font-size="11" font-weight="bold" fill="#000">h</text>
<text x="399.1" y="285.1" font-size="6.5" text-anchor="middle" fill="#231f20" stroke="#231f20"><tspan>Terminal effector</tspan></text>
<text x="399.1" y="293.3" font-size="6.5" text-anchor="middle" fill="#231f20" stroke="#231f20"><tspan>T</tspan><tspan font-size="4.0" dy="1.8">reg</tspan></text>
<text x="456.8" y="285.0" font-size="6.5" text-anchor="middle" fill="#231f20" stroke="#231f20"><tspan>Colonic RORγt</tspan><tspan font-size="4.0" dy="-2.5">+</tspan></text>
<text x="456.8" y="293.8" font-size="6.5" text-anchor="middle" fill="#231f20" stroke="#231f20"><tspan>T</tspan><tspan font-size="4.0" dy="1.8">reg</tspan></text>
<g transform="translate(354.5,329.0) rotate(-90)"><text x="0" y="2.3" font-size="6.5" text-anchor="middle" fill="#231f20" stroke="#231f20"><tspan>Expression level</tspan></text></g>
<line x1="381.3" y1="298.5" x2="381.3" y2="359.3" stroke="#555" stroke-width="0.6"/>
<line x1="381.3" y1="359.3" x2="415.2" y2="359.3" stroke="#555" stroke-width="0.6"/>
<line x1="379.6" y1="302.7" x2="381.3" y2="302.7" stroke="#555" stroke-width="0.5"/>
<text x="378.3" y="305.0" font-size="6.5" text-anchor="end" fill="#231f20" stroke="#231f20"><tspan>0.3</tspan></text>
<line x1="379.6" y1="313.2" x2="381.3" y2="313.2" stroke="#555" stroke-width="0.5"/>
<text x="378.3" y="315.5" font-size="6.5" text-anchor="end" fill="#231f20" stroke="#231f20"><tspan>0.2</tspan></text>
<line x1="379.6" y1="324.1" x2="381.3" y2="324.1" stroke="#555" stroke-width="0.5"/>
<text x="378.3" y="326.4" font-size="6.5" text-anchor="end" fill="#231f20" stroke="#231f20"><tspan>0.1</tspan></text>
<line x1="379.6" y1="334.3" x2="381.3" y2="334.3" stroke="#555" stroke-width="0.5"/>
<text x="378.3" y="336.6" font-size="6.5" text-anchor="end" fill="#231f20" stroke="#231f20"><tspan>0</tspan></text>
<line x1="379.6" y1="344.9" x2="381.3" y2="344.9" stroke="#555" stroke-width="0.5"/>
<text x="378.3" y="347.2" font-size="6.5" text-anchor="end" fill="#231f20" stroke="#231f20"><tspan>−0.1</tspan></text>
<line x1="379.6" y1="355.5" x2="381.3" y2="355.5" stroke="#555" stroke-width="0.5"/>
<text x="378.3" y="357.8" font-size="6.5" text-anchor="end" fill="#231f20" stroke="#231f20"><tspan>−0.2</tspan></text>
<line x1="437.8" y1="296.0" x2="437.8" y2="359.3" stroke="#555" stroke-width="0.6"/>
<line x1="437.8" y1="359.3" x2="474.3" y2="359.3" stroke="#555" stroke-width="0.6"/>
<line x1="436.1" y1="309.5" x2="437.8" y2="309.5" stroke="#555" stroke-width="0.5"/>
<text x="434.8" y="311.8" font-size="6.5" text-anchor="end" fill="#231f20" stroke="#231f20"><tspan>0.6</tspan></text>
<line x1="436.1" y1="325.6" x2="437.8" y2="325.6" stroke="#555" stroke-width="0.5"/>
<text x="434.8" y="327.9" font-size="6.5" text-anchor="end" fill="#231f20" stroke="#231f20"><tspan>0.3</tspan></text>
<line x1="436.1" y1="341.2" x2="437.8" y2="341.2" stroke="#555" stroke-width="0.5"/>
<text x="434.8" y="343.5" font-size="6.5" text-anchor="end" fill="#231f20" stroke="#231f20"><tspan>0</tspan></text>
<line x1="436.1" y1="357.0" x2="437.8" y2="357.0" stroke="#555" stroke-width="0.5"/>
<text x="434.8" y="359.3" font-size="6.5" text-anchor="end" fill="#231f20" stroke="#231f20"><tspan>−0.3</tspan></text>
<line x1="390.8" y1="359.3" x2="390.8" y2="361.0" stroke="#555" stroke-width="0.5"/>
<line x1="407.4" y1="359.3" x2="407.4" y2="361.0" stroke="#555" stroke-width="0.5"/>
<line x1="447.5" y1="359.3" x2="447.5" y2="361.0" stroke="#555" stroke-width="0.5"/>
<line x1="463.1" y1="359.3" x2="463.1" y2="361.0" stroke="#555" stroke-width="0.5"/>
<path d="M389.9,314.2 L390.6,305.0 L390.8,300.0 L391.1,305.0 L391.7,314.2 Z" fill="#999" fill-opacity="0.5"/>
<line x1="390.8" y1="349.5" x2="390.8" y2="354.0" stroke="#999" stroke-width="0.7" stroke-opacity="0.55"/>
<path d="M391.1,312.5 C391.4,313.1 391.8,314.9 392.3,316.0 C392.8,317.1 393.4,317.8 394.0,319.0 C394.6,320.2 395.2,321.7 395.8,323.0 C396.4,324.3 397.0,325.7 397.4,327.0 C397.8,328.3 398.3,329.7 398.2,331.0 C398.1,332.3 397.6,333.7 397.0,335.0 C396.4,336.3 395.6,337.7 394.9,339.0 C394.2,340.3 393.6,341.7 393.0,343.0 C392.4,344.3 391.9,345.9 391.6,347.0 C391.3,348.1 391.3,349.1 391.1,349.5 C390.9,349.9 390.7,349.9 390.5,349.5 C390.3,349.1 390.3,348.1 390.0,347.0 C389.7,345.9 389.2,344.3 388.6,343.0 C388.1,341.7 387.4,340.3 386.7,339.0 C386.0,337.7 385.2,336.3 384.6,335.0 C384.1,333.7 383.5,332.3 383.4,331.0 C383.3,329.7 383.8,328.3 384.2,327.0 C384.6,325.7 385.2,324.3 385.8,323.0 C386.4,321.7 387.0,320.2 387.6,319.0 C388.2,317.8 388.8,317.1 389.3,316.0 C389.8,314.9 390.2,313.1 390.5,312.5 C390.8,311.9 390.8,311.9 391.1,312.5 Z" fill="#d8262a" stroke="none" stroke-width="0.4"/>
<path d="M406.6,310.2 L407.2,301.0 L407.5,296.0 L407.8,301.0 L408.4,310.2 Z" fill="#999" fill-opacity="0.5"/>
<line x1="407.5" y1="357.0" x2="407.5" y2="356.0" stroke="#999" stroke-width="0.7" stroke-opacity="0.55"/>
<path d="M407.8,308.5 C408.1,309.1 408.4,310.9 408.7,312.0 C409.0,313.1 409.4,313.9 409.7,315.0 C410.0,316.1 410.2,317.3 410.6,318.5 C411.0,319.7 411.6,320.7 412.1,322.0 C412.6,323.3 413.2,325.0 413.6,326.3 C414.0,327.6 414.1,328.7 414.3,330.0 C414.5,331.3 414.5,332.5 414.6,334.2 C414.6,335.9 414.6,338.1 414.7,340.0 C414.8,341.9 414.9,344.4 414.9,345.9 C414.9,347.4 414.8,347.9 414.5,349.0 C414.2,350.1 413.8,351.2 413.2,352.2 C412.6,353.2 411.9,354.2 411.0,355.0 C410.1,355.8 408.7,356.7 408.0,357.0 C407.3,357.3 407.7,357.3 407.0,357.0 C406.3,356.7 404.9,355.8 404.0,355.0 C403.1,354.2 402.4,353.2 401.8,352.2 C401.2,351.2 400.8,350.1 400.5,349.0 C400.2,347.9 400.1,347.4 400.1,345.9 C400.1,344.4 400.2,341.9 400.3,340.0 C400.4,338.1 400.4,335.9 400.4,334.2 C400.5,332.5 400.5,331.3 400.7,330.0 C400.9,328.7 401.0,327.6 401.4,326.3 C401.8,325.0 402.4,323.3 402.9,322.0 C403.4,320.7 404.0,319.7 404.4,318.5 C404.8,317.3 405.0,316.1 405.3,315.0 C405.6,313.9 406.0,313.1 406.3,312.0 C406.6,310.9 406.9,309.1 407.2,308.5 C407.4,307.9 407.6,307.9 407.8,308.5 Z" fill="#3a70b8" stroke="none" stroke-width="0.4"/>
<path d="M446.6,306.5 L447.2,302.1 L447.5,299.8 L447.8,302.1 L448.4,306.5 Z" fill="#999" fill-opacity="0.5"/>
<line x1="447.5" y1="342.7" x2="447.5" y2="349.3" stroke="#999" stroke-width="0.7" stroke-opacity="0.55"/>
<path d="M447.8,305.0 C448.2,305.5 448.6,306.8 449.3,308.0 C450.0,309.2 451.2,311.2 452.0,312.5 C452.8,313.8 453.6,314.9 454.0,316.0 C454.4,317.1 454.8,317.8 454.7,319.0 C454.6,320.2 454.1,321.6 453.7,323.0 C453.2,324.4 452.5,325.9 452.0,327.2 C451.5,328.5 451.1,329.6 450.7,331.0 C450.3,332.4 449.9,334.1 449.5,335.4 C449.1,336.7 448.8,337.8 448.5,339.0 C448.2,340.2 448.0,342.1 447.8,342.7 C447.6,343.3 447.4,343.3 447.2,342.7 C447.0,342.1 446.8,340.2 446.5,339.0 C446.2,337.8 445.9,336.7 445.5,335.4 C445.1,334.1 444.7,332.4 444.3,331.0 C443.9,329.6 443.5,328.5 443.0,327.2 C442.5,325.9 441.8,324.4 441.3,323.0 C440.9,321.6 440.4,320.2 440.3,319.0 C440.2,317.8 440.6,317.1 441.0,316.0 C441.4,314.9 442.2,313.8 443.0,312.5 C443.8,311.2 445.0,309.2 445.7,308.0 C446.4,306.8 446.8,305.5 447.2,305.0 C447.6,304.5 447.4,304.5 447.8,305.0 Z" fill="#d8262a" stroke="none" stroke-width="0.4"/>
<path d="M463.0,306.5 L463.6,302.3 L463.9,300.0 L464.1,302.3 L464.8,306.5 Z" fill="#999" fill-opacity="0.5"/>
<line x1="463.9" y1="355.8" x2="463.9" y2="357.0" stroke="#999" stroke-width="0.7" stroke-opacity="0.55"/>
<path d="M464.2,305.0 C464.4,305.5 464.6,306.8 465.1,308.0 C465.6,309.2 466.7,311.0 467.4,312.5 C468.1,314.0 468.8,315.5 469.4,317.0 C470.0,318.5 470.8,320.2 470.9,321.5 C471.0,322.8 470.5,323.6 470.2,325.0 C469.9,326.4 469.4,328.2 469.0,329.6 C468.6,331.0 468.2,332.1 467.9,333.5 C467.6,334.9 467.3,336.3 467.0,337.8 C466.7,339.3 466.4,340.9 466.1,342.5 C465.8,344.1 465.5,346.0 465.3,347.6 C465.1,349.2 464.9,350.6 464.7,352.0 C464.5,353.4 464.4,355.2 464.2,355.8 C464.0,356.4 463.8,356.4 463.6,355.8 C463.4,355.2 463.3,353.4 463.1,352.0 C462.9,350.6 462.7,349.2 462.5,347.6 C462.3,346.0 462.0,344.1 461.7,342.5 C461.4,340.9 461.1,339.3 460.8,337.8 C460.5,336.3 460.2,334.9 459.9,333.5 C459.6,332.1 459.2,331.0 458.8,329.6 C458.4,328.2 457.9,326.4 457.6,325.0 C457.3,323.6 456.8,322.8 456.9,321.5 C457.0,320.2 457.8,318.5 458.4,317.0 C459.0,315.5 459.7,314.0 460.4,312.5 C461.1,311.0 462.2,309.2 462.7,308.0 C463.2,306.8 463.3,305.5 463.6,305.0 C463.8,304.5 463.9,304.5 464.2,305.0 Z" fill="#3a70b8" stroke="none" stroke-width="0.4"/>
<text x="399.1" y="310.4" font-size="7.2" text-anchor="middle" fill="#231f20" stroke="#231f20" letter-spacing="0.3"><tspan>****</tspan></text>
<text x="455.6" y="305.4" font-size="7.2" text-anchor="middle" fill="#231f20" stroke="#231f20" letter-spacing="0.3"><tspan>****</tspan></text>
<rect x="386.7" y="365.1" width="7.3" height="7.0" fill="#e83030"/>
<text x="398.9" y="370.9" font-size="6.5" text-anchor="start" fill="#231f20" stroke="#231f20"><tspan>pT</tspan><tspan font-size="4.0" dy="1.8">reg</tspan><tspan dy="-1.8">_TGM1-IL-2(WT)</tspan></text>
<rect x="386.7" y="374.5" width="7.3" height="7.0" fill="#8a4fa6"/>
<text x="398.9" y="380.3" font-size="6.5" text-anchor="start" fill="#231f20" stroke="#231f20"><tspan>pT</tspan><tspan font-size="4.0" dy="1.8">reg</tspan><tspan dy="-1.8">_TGM1-IL-2(DN)</tspan></text>
<text x="506.9" y="320.8" font-size="11" font-weight="bold" fill="#000">i</text>
<text x="598.0" y="324.3" font-size="6.6" text-anchor="middle" fill="#231f20" stroke="#231f20"><tspan>Signature genes of colonic RORγt</tspan><tspan font-size="4.1" dy="-2.5">+</tspan><tspan dy="2.5">  T</tspan><tspan font-size="4.1" dy="1.8">reg</tspan></text>
<text x="557.5" y="343.4" font-size="6.3" text-anchor="middle" fill="#231f20" stroke="#231f20"><tspan>tT</tspan><tspan font-size="3.9" dy="1.8">reg</tspan></text>
<text x="578.0" y="334.3" font-size="6.3" text-anchor="middle" fill="#231f20" stroke="#231f20"><tspan>Ki-67</tspan><tspan font-size="3.9" dy="-2.4">+</tspan></text>
<text x="578.0" y="343.4" font-size="6.3" text-anchor="middle" fill="#231f20" stroke="#231f20"><tspan>tT</tspan><tspan font-size="3.9" dy="1.8">reg</tspan></text>
<text x="598.5" y="343.4" font-size="6.3" text-anchor="middle" fill="#231f20" stroke="#231f20"><tspan>T</tspan><tspan font-size="3.9" dy="1.8">conv</tspan></text>
<text x="619.0" y="343.4" font-size="6.3" text-anchor="middle" fill="#231f20" stroke="#231f20"><tspan>pT</tspan><tspan font-size="3.9" dy="1.8">reg</tspan></text>
<text x="639.5" y="334.3" font-size="6.3" text-anchor="middle" fill="#231f20" stroke="#231f20"><tspan>Ki-67</tspan><tspan font-size="3.9" dy="-2.4">+</tspan></text>
<text x="639.5" y="343.4" font-size="6.3" text-anchor="middle" fill="#231f20" stroke="#231f20"><tspan>pT</tspan><tspan font-size="3.9" dy="1.8">reg</tspan></text>
<rect x="547.2" y="346.5" width="20.5" height="5.2" fill="#3a7cc4"/>
<rect x="567.7" y="346.5" width="20.5" height="5.2" fill="#2e9a48"/>
<rect x="588.2" y="346.5" width="20.5" height="5.2" fill="#f39322"/>
<rect x="608.7" y="346.5" width="20.5" height="5.2" fill="#e8302e"/>
<rect x="629.2" y="346.5" width="20.5" height="5.2" fill="#8a4fa6"/>
<rect x="547.2" y="355.7" width="21.1" height="7.6" fill="#94c3df"/>
<rect x="567.7" y="355.7" width="21.1" height="7.6" fill="#94c3df"/>
<rect x="588.2" y="355.7" width="21.1" height="7.6" fill="#86b8d9"/>
<rect x="608.7" y="355.7" width="21.1" height="7.6" fill="#8e0c24"/>
<rect x="629.2" y="355.7" width="20.5" height="7.6" fill="#fbe2d4"/>
<text x="542.3" y="361.6" font-size="6.4" text-anchor="end" fill="#231f20" stroke="#231f20"><tspan font-style="italic">Rorc</tspan></text>
<rect x="547.2" y="362.8" width="21.1" height="7.6" fill="#4389c4"/>
<rect x="567.7" y="362.8" width="21.1" height="7.6" fill="#4389c4"/>
<rect x="588.2" y="362.8" width="21.1" height="7.6" fill="#f1f2f4"/>
<rect x="608.7" y="362.8" width="21.1" height="7.6" fill="#b2182b"/>
<rect x="629.2" y="362.8" width="20.5" height="7.6" fill="#fbe2d4"/>
<text x="542.3" y="368.7" font-size="6.4" text-anchor="end" fill="#231f20" stroke="#231f20"><tspan font-style="italic">Maf</tspan></text>
<rect x="547.2" y="370.0" width="21.1" height="7.6" fill="#b6d5e9"/>
<rect x="567.7" y="370.0" width="21.1" height="7.6" fill="#3a78bc"/>
<rect x="588.2" y="370.0" width="21.1" height="7.6" fill="#b6d5e9"/>
<rect x="608.7" y="370.0" width="21.1" height="7.6" fill="#8e0c24"/>
<rect x="629.2" y="370.0" width="20.5" height="7.6" fill="#f6efec"/>
<text x="542.3" y="375.8" font-size="6.4" text-anchor="end" fill="#231f20" stroke="#231f20"><tspan font-style="italic">Ctla4</tspan></text>
<rect x="547.2" y="377.1" width="21.1" height="7.6" fill="#e8907a"/>
<rect x="567.7" y="377.1" width="21.1" height="7.6" fill="#d8e7f1"/>
<rect x="588.2" y="377.1" width="21.1" height="7.6" fill="#3a78bc"/>
<rect x="608.7" y="377.1" width="21.1" height="7.6" fill="#b2182b"/>
<rect x="629.2" y="377.1" width="20.5" height="7.6" fill="#3a78bc"/>
<text x="542.3" y="383.0" font-size="6.4" text-anchor="end" fill="#231f20" stroke="#231f20"><tspan font-style="italic">Foxo1</tspan></text>
<rect x="547.2" y="384.2" width="21.1" height="7.6" fill="#94c3df"/>
<rect x="567.7" y="384.2" width="21.1" height="7.6" fill="#86b8d9"/>
<rect x="588.2" y="384.2" width="21.1" height="7.6" fill="#4389c4"/>
<rect x="608.7" y="384.2" width="21.1" height="7.6" fill="#8e0c24"/>
<rect x="629.2" y="384.2" width="20.5" height="7.6" fill="#f9c8b0"/>
<text x="542.3" y="390.1" font-size="6.4" text-anchor="end" fill="#231f20" stroke="#231f20"><tspan font-style="italic">Il10</tspan></text>
<rect x="547.2" y="391.3" width="21.1" height="7.6" fill="#94c3df"/>
<rect x="567.7" y="391.3" width="21.1" height="7.6" fill="#94c3df"/>
<rect x="588.2" y="391.3" width="21.1" height="7.6" fill="#4389c4"/>
<rect x="608.7" y="391.3" width="21.1" height="7.6" fill="#b2182b"/>
<rect x="629.2" y="391.3" width="20.5" height="7.6" fill="#f4a582"/>
<text x="542.3" y="397.2" font-size="6.4" text-anchor="end" fill="#231f20" stroke="#231f20"><tspan font-style="italic">Ccr9</tspan></text>
<rect x="547.2" y="398.5" width="21.1" height="7.6" fill="#94c3df"/>
<rect x="567.7" y="398.5" width="21.1" height="7.6" fill="#94c3df"/>
<rect x="588.2" y="398.5" width="21.1" height="7.6" fill="#4389c4"/>
<rect x="608.7" y="398.5" width="21.1" height="7.6" fill="#8e0c24"/>
<rect x="629.2" y="398.5" width="20.5" height="7.6" fill="#f9c8b0"/>
<text x="542.3" y="404.3" font-size="6.4" text-anchor="end" fill="#231f20" stroke="#231f20"><tspan font-style="italic">Ccr5</tspan></text>
<rect x="547.2" y="405.6" width="21.1" height="7.6" fill="#94c3df"/>
<rect x="567.7" y="405.6" width="21.1" height="7.6" fill="#86b8d9"/>
<rect x="588.2" y="405.6" width="21.1" height="7.6" fill="#4389c4"/>
<rect x="608.7" y="405.6" width="21.1" height="7.6" fill="#8e0c24"/>
<rect x="629.2" y="405.6" width="20.5" height="7.6" fill="#fbe2d4"/>
<text x="542.3" y="411.5" font-size="6.4" text-anchor="end" fill="#231f20" stroke="#231f20"><tspan font-style="italic">Ccr4</tspan></text>
<rect x="547.2" y="412.7" width="21.1" height="7.6" fill="#94c3df"/>
<rect x="567.7" y="412.7" width="21.1" height="7.6" fill="#86b8d9"/>
<rect x="588.2" y="412.7" width="21.1" height="7.6" fill="#5a9ccc"/>
<rect x="608.7" y="412.7" width="21.1" height="7.6" fill="#67001f"/>
<rect x="629.2" y="412.7" width="20.5" height="7.6" fill="#f1f2f4"/>
<text x="542.3" y="418.6" font-size="6.4" text-anchor="end" fill="#231f20" stroke="#231f20"><tspan font-style="italic">Ccr6</tspan></text>
<rect x="547.2" y="419.9" width="21.1" height="7.6" fill="#3a78bc"/>
<rect x="567.7" y="419.9" width="21.1" height="7.6" fill="#94c3df"/>
<rect x="588.2" y="419.9" width="21.1" height="7.6" fill="#86b8d9"/>
<rect x="608.7" y="419.9" width="21.1" height="7.6" fill="#b2182b"/>
<rect x="629.2" y="419.9" width="20.5" height="7.6" fill="#f4a582"/>
<text x="542.3" y="425.7" font-size="6.4" text-anchor="end" fill="#231f20" stroke="#231f20"><tspan font-style="italic">Cxcr3</tspan></text>
<rect x="547.2" y="427.0" width="21.1" height="7.6" fill="#5a9ccc"/>
<rect x="567.7" y="427.0" width="21.1" height="7.6" fill="#5a9ccc"/>
<rect x="588.2" y="427.0" width="21.1" height="7.6" fill="#5a9ccc"/>
<rect x="608.7" y="427.0" width="21.1" height="7.6" fill="#b2182b"/>
<rect x="629.2" y="427.0" width="20.5" height="7.6" fill="#f4a582"/>
<text x="542.3" y="432.9" font-size="6.4" text-anchor="end" fill="#231f20" stroke="#231f20"><tspan font-style="italic">Cxcr6</tspan></text>
<rect x="547.2" y="434.1" width="21.1" height="7.6" fill="#2a64a8"/>
<rect x="567.7" y="434.1" width="21.1" height="7.6" fill="#3a78bc"/>
<rect x="588.2" y="434.1" width="21.1" height="7.6" fill="#e8907a"/>
<rect x="608.7" y="434.1" width="21.1" height="7.6" fill="#d6604d"/>
<rect x="629.2" y="434.1" width="20.5" height="7.6" fill="#f9c8b0"/>
<text x="542.3" y="440.0" font-size="6.4" text-anchor="end" fill="#231f20" stroke="#231f20"><tspan font-style="italic">Lag3</tspan></text>
<rect x="547.2" y="441.3" width="21.1" height="7.6" fill="#f1f2f4"/>
<rect x="567.7" y="441.3" width="21.1" height="7.6" fill="#f1f2f4"/>
<rect x="588.2" y="441.3" width="21.1" height="7.6" fill="#1b4a8a"/>
<rect x="608.7" y="441.3" width="21.1" height="7.6" fill="#c8363a"/>
<rect x="629.2" y="441.3" width="20.5" height="7.6" fill="#d8e7f1"/>
<text x="542.3" y="447.1" font-size="6.4" text-anchor="end" fill="#231f20" stroke="#231f20"><tspan font-style="italic">Socs2</tspan></text>
<rect x="547.2" y="448.4" width="21.1" height="7.6" fill="#2a64a8"/>
<rect x="567.7" y="448.4" width="21.1" height="7.6" fill="#d8e7f1"/>
<rect x="588.2" y="448.4" width="21.1" height="7.6" fill="#94c3df"/>
<rect x="608.7" y="448.4" width="21.1" height="7.6" fill="#c8363a"/>
<rect x="629.2" y="448.4" width="20.5" height="7.6" fill="#f4a582"/>
<text x="542.3" y="454.3" font-size="6.4" text-anchor="end" fill="#231f20" stroke="#231f20"><tspan font-style="italic">Gpx1</tspan></text>
<rect x="547.2" y="455.5" width="21.1" height="7.6" fill="#d6604d"/>
<rect x="567.7" y="455.5" width="21.1" height="7.6" fill="#b6d5e9"/>
<rect x="588.2" y="455.5" width="21.1" height="7.6" fill="#b6d5e9"/>
<rect x="608.7" y="455.5" width="21.1" height="7.6" fill="#c8363a"/>
<rect x="629.2" y="455.5" width="20.5" height="7.6" fill="#2a64a8"/>
<text x="542.3" y="461.4" font-size="6.4" text-anchor="end" fill="#231f20" stroke="#231f20"><tspan font-style="italic">Gbp4</tspan></text>
<rect x="547.2" y="462.6" width="21.1" height="7.6" fill="#94c3df"/>
<rect x="567.7" y="462.6" width="21.1" height="7.6" fill="#d8e7f1"/>
<rect x="588.2" y="462.6" width="21.1" height="7.6" fill="#4389c4"/>
<rect x="608.7" y="462.6" width="21.1" height="7.6" fill="#67001f"/>
<rect x="629.2" y="462.6" width="20.5" height="7.6" fill="#f1f2f4"/>
<text x="542.3" y="468.5" font-size="6.4" text-anchor="end" fill="#231f20" stroke="#231f20"><tspan font-style="italic">Tmem176a</tspan></text>
<rect x="547.2" y="469.8" width="21.1" height="7.6" fill="#94c3df"/>
<rect x="567.7" y="469.8" width="21.1" height="7.6" fill="#d8e7f1"/>
<rect x="588.2" y="469.8" width="21.1" height="7.6" fill="#4389c4"/>
<rect x="608.7" y="469.8" width="21.1" height="7.6" fill="#67001f"/>
<rect x="629.2" y="469.8" width="20.5" height="7.6" fill="#f1f2f4"/>
<text x="542.3" y="475.6" font-size="6.4" text-anchor="end" fill="#231f20" stroke="#231f20"><tspan font-style="italic">Tmem176b</tspan></text>
<rect x="547.2" y="476.9" width="21.1" height="7.6" fill="#3a78bc"/>
<rect x="567.7" y="476.9" width="21.1" height="7.6" fill="#f6efec"/>
<rect x="588.2" y="476.9" width="21.1" height="7.6" fill="#4389c4"/>
<rect x="608.7" y="476.9" width="21.1" height="7.6" fill="#f4a582"/>
<rect x="629.2" y="476.9" width="20.5" height="7.6" fill="#d6604d"/>
<text x="542.3" y="482.8" font-size="6.4" text-anchor="end" fill="#231f20" stroke="#231f20"><tspan font-style="italic">Lgals1</tspan></text>
<rect x="547.2" y="484.0" width="21.1" height="7.6" fill="#94c3df"/>
<rect x="567.7" y="484.0" width="21.1" height="7.6" fill="#d8e7f1"/>
<rect x="588.2" y="484.0" width="21.1" height="7.6" fill="#2a64a8"/>
<rect x="608.7" y="484.0" width="21.1" height="7.6" fill="#b2182b"/>
<rect x="629.2" y="484.0" width="20.5" height="7.6" fill="#f9c8b0"/>
<text x="542.3" y="489.9" font-size="6.4" text-anchor="end" fill="#231f20" stroke="#231f20"><tspan font-style="italic">Capg</tspan></text>
<rect x="547.2" y="491.2" width="21.1" height="7.6" fill="#3a78bc"/>
<rect x="567.7" y="491.2" width="21.1" height="7.6" fill="#94c3df"/>
<rect x="588.2" y="491.2" width="21.1" height="7.6" fill="#86b8d9"/>
<rect x="608.7" y="491.2" width="21.1" height="7.6" fill="#b2182b"/>
<rect x="629.2" y="491.2" width="20.5" height="7.6" fill="#f4a582"/>
<text x="542.3" y="497.0" font-size="6.4" text-anchor="end" fill="#231f20" stroke="#231f20"><tspan font-style="italic">Thy1</tspan></text>
<rect x="547.2" y="498.3" width="21.1" height="7.6" fill="#d8e7f1"/>
<rect x="567.7" y="498.3" width="21.1" height="7.6" fill="#b6d5e9"/>
<rect x="588.2" y="498.3" width="21.1" height="7.6" fill="#1b4a8a"/>
<rect x="608.7" y="498.3" width="21.1" height="7.6" fill="#b2182b"/>
<rect x="629.2" y="498.3" width="20.5" height="7.6" fill="#fbe2d4"/>
<text x="542.3" y="504.2" font-size="6.4" text-anchor="end" fill="#231f20" stroke="#231f20"><tspan font-style="italic">Cd47</tspan></text>
<rect x="547.2" y="505.4" width="21.1" height="7.6" fill="#2a64a8"/>
<rect x="567.7" y="505.4" width="21.1" height="7.6" fill="#4389c4"/>
<rect x="588.2" y="505.4" width="21.1" height="7.6" fill="#fbe2d4"/>
<rect x="608.7" y="505.4" width="21.1" height="7.6" fill="#b2182b"/>
<rect x="629.2" y="505.4" width="20.5" height="7.6" fill="#fbe2d4"/>
<text x="542.3" y="511.3" font-size="6.4" text-anchor="end" fill="#231f20" stroke="#231f20"><tspan font-style="italic">Timp2</tspan></text>
<rect x="547.2" y="512.6" width="21.1" height="7.6" fill="#4389c4"/>
<rect x="567.7" y="512.6" width="21.1" height="7.6" fill="#5a9ccc"/>
<rect x="588.2" y="512.6" width="21.1" height="7.6" fill="#b6d5e9"/>
<rect x="608.7" y="512.6" width="21.1" height="7.6" fill="#8e0c24"/>
<rect x="629.2" y="512.6" width="20.5" height="7.6" fill="#fbe2d4"/>
<text x="542.3" y="518.4" font-size="6.4" text-anchor="end" fill="#231f20" stroke="#231f20"><tspan font-style="italic">Icos</tspan></text>
<rect x="547.2" y="519.7" width="21.1" height="7.6" fill="#4389c4"/>
<rect x="567.7" y="519.7" width="21.1" height="7.6" fill="#3a78bc"/>
<rect x="588.2" y="519.7" width="21.1" height="7.6" fill="#c8363a"/>
<rect x="608.7" y="519.7" width="21.1" height="7.6" fill="#f4a582"/>
<rect x="629.2" y="519.7" width="20.5" height="7.6" fill="#f1f2f4"/>
<text x="542.3" y="525.6" font-size="6.4" text-anchor="end" fill="#231f20" stroke="#231f20"><tspan font-style="italic">Cd4</tspan></text>
<rect x="547.2" y="526.8" width="21.1" height="7.6" fill="#d8e7f1"/>
<rect x="567.7" y="526.8" width="21.1" height="7.6" fill="#94c3df"/>
<rect x="588.2" y="526.8" width="21.1" height="7.6" fill="#3a78bc"/>
<rect x="608.7" y="526.8" width="21.1" height="7.6" fill="#67001f"/>
<rect x="629.2" y="526.8" width="20.5" height="7.6" fill="#f1f2f4"/>
<text x="542.3" y="532.7" font-size="6.4" text-anchor="end" fill="#231f20" stroke="#231f20"><tspan font-style="italic">Il18r1</tspan></text>
<rect x="547.2" y="534.0" width="21.1" height="7.6" fill="#94c3df"/>
<rect x="567.7" y="534.0" width="21.1" height="7.6" fill="#94c3df"/>
<rect x="588.2" y="534.0" width="21.1" height="7.6" fill="#86b8d9"/>
<rect x="608.7" y="534.0" width="21.1" height="7.6" fill="#67001f"/>
<rect x="629.2" y="534.0" width="20.5" height="7.6" fill="#f1f2f4"/>
<text x="542.3" y="539.8" font-size="6.4" text-anchor="end" fill="#231f20" stroke="#231f20"><tspan font-style="italic">Cited4</tspan></text>
<rect x="547.2" y="541.1" width="21.1" height="7.6" fill="#94c3df"/>
<rect x="567.7" y="541.1" width="21.1" height="7.6" fill="#86b8d9"/>
<rect x="588.2" y="541.1" width="21.1" height="7.6" fill="#e8907a"/>
<rect x="608.7" y="541.1" width="21.1" height="7.6" fill="#c8363a"/>
<rect x="629.2" y="541.1" width="20.5" height="7.6" fill="#3a78bc"/>
<text x="542.3" y="546.9" font-size="6.4" text-anchor="end" fill="#231f20" stroke="#231f20"><tspan font-style="italic">Ddit4</tspan></text>
<rect x="547.2" y="548.2" width="21.1" height="7.6" fill="#3a78bc"/>
<rect x="567.7" y="548.2" width="21.1" height="7.6" fill="#5a9ccc"/>
<rect x="588.2" y="548.2" width="21.1" height="7.6" fill="#f1f2f4"/>
<rect x="608.7" y="548.2" width="21.1" height="7.6" fill="#b2182b"/>
<rect x="629.2" y="548.2" width="20.5" height="7.6" fill="#f9c8b0"/>
<text x="542.3" y="554.1" font-size="6.4" text-anchor="end" fill="#231f20" stroke="#231f20"><tspan font-style="italic">Ech1</tspan></text>
<rect x="547.2" y="555.3" width="21.1" height="7.6" fill="#f4a582"/>
<rect x="567.7" y="555.3" width="21.1" height="7.6" fill="#d8e7f1"/>
<rect x="588.2" y="555.3" width="21.1" height="7.6" fill="#4389c4"/>
<rect x="608.7" y="555.3" width="21.1" height="7.6" fill="#b2182b"/>
<rect x="629.2" y="555.3" width="20.5" height="7.6" fill="#3a78bc"/>
<text x="542.3" y="561.2" font-size="6.4" text-anchor="end" fill="#231f20" stroke="#231f20"><tspan font-style="italic">Ptpnc1</tspan></text>
<rect x="547.2" y="562.5" width="21.1" height="7.6" fill="#5a9ccc"/>
<rect x="567.7" y="562.5" width="21.1" height="7.6" fill="#f1f2f4"/>
<rect x="588.2" y="562.5" width="21.1" height="7.6" fill="#2a64a8"/>
<rect x="608.7" y="562.5" width="21.1" height="7.6" fill="#d6604d"/>
<rect x="629.2" y="562.5" width="20.5" height="7.6" fill="#e8907a"/>
<text x="542.3" y="568.3" font-size="6.4" text-anchor="end" fill="#231f20" stroke="#231f20"><tspan font-style="italic">Hic1</tspan></text>
<rect x="547.2" y="569.6" width="21.1" height="7.1" fill="#94c3df"/>
<rect x="567.7" y="569.6" width="21.1" height="7.1" fill="#4389c4"/>
<rect x="588.2" y="569.6" width="21.1" height="7.1" fill="#86b8d9"/>
<rect x="608.7" y="569.6" width="21.1" height="7.1" fill="#67001f"/>
<rect x="629.2" y="569.6" width="20.5" height="7.1" fill="#f6efec"/>
<text x="542.3" y="575.5" font-size="6.4" text-anchor="end" fill="#231f20" stroke="#231f20"><tspan font-style="italic">Trib2</tspan></text>
<text x="652.8" y="374.7" font-size="6.3" text-anchor="start" fill="#231f20" stroke="#231f20"><tspan>Expression</tspan></text>
<defs><linearGradient id="rdbu" x1="0" y1="0" x2="0" y2="1"><stop offset="0" stop-color="#67001f"/><stop offset="0.12" stop-color="#b2182b"/><stop offset="0.3" stop-color="#e8907a"/><stop offset="0.45" stop-color="#f9dccc"/><stop offset="0.55" stop-color="#f4f4f4"/><stop offset="0.68" stop-color="#c8dcec"/><stop offset="0.82" stop-color="#5a9ccc"/><stop offset="1" stop-color="#1b4a8a"/></linearGradient></defs>
<rect x="651.2" y="377.6" width="6.7" height="47.1" fill="url(#rdbu)"/>
<text x="660.4" y="390.5" font-size="6.3" text-anchor="start" fill="#231f20" stroke="#231f20"><tspan>1</tspan></text>
<text x="660.4" y="405.1" font-size="6.3" text-anchor="start" fill="#231f20" stroke="#231f20"><tspan>0</tspan></text>
<text x="658.8" y="419.4" font-size="6.3" text-anchor="start" fill="#231f20" stroke="#231f20"><tspan>−1</tspan></text>
<text x="0.0" y="432.0" font-size="11" font-weight="bold" fill="#000">j</text>
<text x="34.5" y="434.7" font-size="6.5" text-anchor="middle" fill="#231f20" stroke="#231f20"><tspan>RORγt</tspan></text>
<text x="34.5" y="442.2" font-size="6.5" text-anchor="middle" fill="#231f20" stroke="#231f20"><tspan>-BV650</tspan></text>
<text x="89.3" y="434.7" font-size="6.5" text-anchor="middle" fill="#231f20" stroke="#231f20"><tspan>c-MAF</tspan></text>
<text x="89.3" y="442.2" font-size="6.5" text-anchor="middle" fill="#231f20" stroke="#231f20"><tspan>-FITC</tspan></text>
<text x="143.3" y="434.7" font-size="6.5" text-anchor="middle" fill="#231f20" stroke="#231f20"><tspan>CXCR6</tspan></text>
<text x="143.3" y="442.2" font-size="6.5" text-anchor="middle" fill="#231f20" stroke="#231f20"><tspan>-PE-cf594</tspan></text>
<text x="198.5" y="434.7" font-size="6.5" text-anchor="middle" fill="#231f20" stroke="#231f20"><tspan>CCR6</tspan></text>
<text x="198.5" y="442.2" font-size="6.5" text-anchor="middle" fill="#231f20" stroke="#231f20"><tspan>-BV605</tspan></text>
<path d="M7.4,464.4 L7.4,464.4 L8.5,464.4 L9.7,464.4 L10.8,464.4 L11.9,464.4 L13.1,464.4 L14.2,464.4 L15.3,464.4 L16.5,464.4 L17.6,464.3 L18.7,464.0 L19.8,462.6 L21.0,458.9 L22.1,452.7 L23.2,447.4 L24.4,447.5 L25.5,452.6 L26.6,458.0 L27.8,461.2 L28.9,462.5 L30.0,463.2 L31.2,463.6 L32.3,464.0 L33.4,464.2 L34.6,464.3 L35.7,464.4 L36.8,464.4 L37.9,464.4 L39.1,464.4 L40.2,464.4 L41.3,464.4 L42.5,464.4 L43.6,464.4 L44.7,464.4 L45.9,464.4 L47.0,464.4 L48.1,464.4 L49.3,464.4 L50.4,464.4 L51.5,464.4 L52.6,464.4 L53.8,464.4 L54.9,464.4 L56.0,464.4 L57.2,464.4 L58.3,464.4 L59.4,464.4 L60.6,464.4 L61.7,464.4 L61.7,464.4 Z" fill="#bdbdbd" fill-opacity="0.75" stroke="#555" stroke-width="0.45"/>
<path d="M61.7,464.4 L61.7,464.4 L62.9,464.4 L64.0,464.4 L65.2,464.4 L66.3,464.4 L67.5,464.4 L68.6,464.4 L69.8,464.4 L70.9,464.4 L72.1,464.4 L73.2,464.4 L74.4,464.3 L75.5,463.7 L76.7,462.0 L77.8,458.0 L79.0,452.4 L80.1,448.2 L81.3,448.7 L82.4,453.5 L83.6,459.0 L84.7,462.5 L85.9,463.9 L87.0,464.3 L88.2,464.4 L89.3,464.4 L90.5,464.4 L91.7,464.4 L92.8,464.4 L94.0,464.4 L95.1,464.4 L96.3,464.4 L97.4,464.4 L98.6,464.4 L99.7,464.4 L100.9,464.4 L102.0,464.4 L103.2,464.4 L104.3,464.4 L105.5,464.4 L106.6,464.4 L107.8,464.4 L108.9,464.4 L110.1,464.4 L111.2,464.4 L112.4,464.4 L113.5,464.4 L114.7,464.4 L115.8,464.4 L117.0,464.4 L117.0,464.4 Z" fill="#bdbdbd" fill-opacity="0.75" stroke="#555" stroke-width="0.45"/>
<path d="M117.0,464.4 L117.0,464.4 L118.1,464.4 L119.2,464.4 L120.4,464.4 L121.5,464.3 L122.6,464.3 L123.8,464.1 L124.9,464.0 L126.0,463.7 L127.1,462.6 L128.2,458.0 L129.4,448.9 L130.5,446.7 L131.6,454.9 L132.8,460.9 L133.9,462.3 L135.0,462.7 L136.1,463.0 L137.2,463.3 L138.4,463.5 L139.5,463.7 L140.6,463.8 L141.8,463.9 L142.9,463.9 L144.0,463.9 L145.1,463.9 L146.2,463.8 L147.4,463.8 L148.5,463.8 L149.6,463.8 L150.8,463.8 L151.9,463.8 L153.0,463.8 L154.1,463.8 L155.2,463.9 L156.4,463.9 L157.5,463.9 L158.6,464.0 L159.8,464.0 L160.9,464.1 L162.0,464.1 L163.1,464.1 L164.2,464.2 L165.4,464.2 L166.5,464.2 L167.6,464.3 L168.8,464.3 L169.9,464.3 L171.0,464.3 L171.0,464.4 Z" fill="#bdbdbd" fill-opacity="0.75" stroke="#555" stroke-width="0.45"/>
<path d="M171.0,464.4 L171.0,464.4 L172.1,464.4 L173.3,464.4 L174.4,464.4 L175.5,464.4 L176.7,464.4 L177.8,464.4 L178.9,464.4 L180.1,464.3 L181.2,463.7 L182.3,462.0 L183.4,458.2 L184.6,452.8 L185.7,448.5 L186.8,448.3 L188.0,452.0 L189.1,456.5 L190.2,459.4 L191.4,460.9 L192.5,461.6 L193.6,462.3 L194.8,463.0 L195.9,463.6 L197.0,464.0 L198.2,464.2 L199.3,464.3 L200.4,464.4 L201.5,464.4 L202.7,464.4 L203.8,464.4 L204.9,464.4 L206.1,464.4 L207.2,464.4 L208.3,464.4 L209.5,464.4 L210.6,464.4 L211.7,464.4 L212.9,464.4 L214.0,464.4 L215.1,464.4 L216.2,464.4 L217.4,464.4 L218.5,464.4 L219.6,464.4 L220.8,464.4 L221.9,464.4 L223.0,464.4 L224.2,464.4 L225.3,464.4 L225.3,464.4 Z" fill="#bdbdbd" fill-opacity="0.75" stroke="#555" stroke-width="0.45"/>
<line x1="7.4" y1="464.4" x2="225.3" y2="464.4" stroke="#8a8a8a" stroke-width="0.45"/>
<path d="M7.4,473.5 L7.4,473.5 L8.5,473.5 L9.7,473.5 L10.8,473.5 L11.9,473.5 L13.1,473.5 L14.2,473.5 L15.3,473.5 L16.5,473.4 L17.6,472.9 L18.7,471.4 L19.8,467.8 L21.0,462.3 L22.1,457.5 L23.2,456.9 L24.4,461.0 L25.5,466.7 L26.6,470.8 L27.8,472.7 L28.9,473.3 L30.0,473.5 L31.2,473.5 L32.3,473.5 L33.4,473.5 L34.6,473.5 L35.7,473.5 L36.8,473.5 L37.9,473.5 L39.1,473.5 L40.2,473.5 L41.3,473.5 L42.5,473.5 L43.6,473.5 L44.7,473.5 L45.9,473.5 L47.0,473.5 L48.1,473.5 L49.3,473.5 L50.4,473.5 L51.5,473.5 L52.6,473.5 L53.8,473.5 L54.9,473.5 L56.0,473.5 L57.2,473.5 L58.3,473.5 L59.4,473.5 L60.6,473.5 L61.7,473.5 L61.7,473.5 Z" fill="#bdbdbd" fill-opacity="0.75" stroke="#555" stroke-width="0.45"/>
<path d="M61.7,473.5 L61.7,473.5 L62.9,473.5 L64.0,473.5 L65.2,473.5 L66.3,473.5 L67.5,473.5 L68.6,473.5 L69.8,473.5 L70.9,473.5 L72.1,473.5 L73.2,473.5 L74.4,473.4 L75.5,473.3 L76.7,473.2 L77.8,473.1 L79.0,473.0 L80.1,473.0 L81.3,473.0 L82.4,473.1 L83.6,473.3 L84.7,473.4 L85.9,473.4 L87.0,473.2 L88.2,472.5 L89.3,470.2 L90.5,465.7 L91.7,460.2 L92.8,457.4 L94.0,459.5 L95.1,464.8 L96.3,469.6 L97.4,472.2 L98.6,473.2 L99.7,473.5 L100.9,473.5 L102.0,473.5 L103.2,473.5 L104.3,473.5 L105.5,473.5 L106.6,473.5 L107.8,473.5 L108.9,473.5 L110.1,473.5 L111.2,473.5 L112.4,473.5 L113.5,473.5 L114.7,473.5 L115.8,473.5 L117.0,473.5 L117.0,473.5 Z" fill="#bdbdbd" fill-opacity="0.75" stroke="#555" stroke-width="0.45"/>
<path d="M117.0,473.5 L117.0,473.5 L118.1,473.5 L119.2,473.5 L120.4,473.5 L121.5,473.5 L122.6,473.5 L123.8,473.5 L124.9,473.4 L126.0,473.2 L127.1,471.8 L128.2,465.8 L129.4,455.8 L130.5,453.4 L131.6,461.8 L132.8,469.1 L133.9,471.3 L135.0,471.9 L136.1,472.3 L137.2,472.8 L138.4,473.1 L139.5,473.3 L140.6,473.4 L141.8,473.5 L142.9,473.5 L144.0,473.5 L145.1,473.5 L146.2,473.5 L147.4,473.5 L148.5,473.5 L149.6,473.5 L150.8,473.5 L151.9,473.5 L153.0,473.5 L154.1,473.5 L155.2,473.5 L156.4,473.5 L157.5,473.5 L158.6,473.5 L159.8,473.5 L160.9,473.5 L162.0,473.5 L163.1,473.5 L164.2,473.5 L165.4,473.5 L166.5,473.5 L167.6,473.5 L168.8,473.5 L169.9,473.5 L171.0,473.5 L171.0,473.5 Z" fill="#bdbdbd" fill-opacity="0.75" stroke="#555" stroke-width="0.45"/>
<path d="M171.0,473.5 L171.0,473.5 L172.1,473.5 L173.3,473.5 L174.4,473.5 L175.5,473.5 L176.7,473.5 L177.8,473.5 L178.9,473.5 L180.1,473.5 L181.2,473.5 L182.3,473.5 L183.4,473.4 L184.6,473.1 L185.7,472.0 L186.8,469.4 L188.0,465.0 L189.1,459.6 L190.2,456.0 L191.4,456.4 L192.5,460.2 L193.6,464.8 L194.8,468.1 L195.9,469.7 L197.0,470.3 L198.2,470.6 L199.3,470.9 L200.4,471.4 L201.5,471.9 L202.7,472.4 L203.8,472.8 L204.9,473.1 L206.1,473.3 L207.2,473.4 L208.3,473.4 L209.5,473.5 L210.6,473.5 L211.7,473.5 L212.9,473.5 L214.0,473.5 L215.1,473.5 L216.2,473.5 L217.4,473.5 L218.5,473.5 L219.6,473.5 L220.8,473.5 L221.9,473.5 L223.0,473.5 L224.2,473.5 L225.3,473.5 L225.3,473.5 Z" fill="#bdbdbd" fill-opacity="0.75" stroke="#555" stroke-width="0.45"/>
<line x1="7.4" y1="473.5" x2="225.3" y2="473.5" stroke="#8a8a8a" stroke-width="0.45"/>
<path d="M7.4,482.5 L7.4,482.5 L8.5,482.5 L9.7,482.5 L10.8,482.5 L11.9,482.5 L13.1,482.5 L14.2,482.5 L15.3,482.5 L16.5,482.4 L17.6,482.1 L18.7,481.3 L19.8,479.9 L21.0,477.8 L22.1,475.6 L23.2,474.1 L24.4,474.3 L25.5,475.9 L26.6,478.1 L27.8,480.0 L28.9,480.9 L30.0,480.9 L31.2,480.3 L32.3,479.3 L33.4,478.3 L34.6,477.7 L35.7,477.7 L36.8,478.2 L37.9,479.0 L39.1,479.8 L40.2,480.4 L41.3,480.8 L42.5,480.9 L43.6,481.0 L44.7,481.0 L45.9,481.0 L47.0,481.1 L48.1,481.2 L49.3,481.3 L50.4,481.5 L51.5,481.7 L52.6,481.8 L53.8,482.0 L54.9,482.1 L56.0,482.2 L57.2,482.3 L58.3,482.4 L59.4,482.4 L60.6,482.4 L61.7,482.5 L61.7,482.5 Z" fill="#bdbdbd" fill-opacity="0.75" stroke="#555" stroke-width="0.45"/>
<path d="M61.7,482.5 L61.7,482.5 L62.9,482.5 L64.0,482.5 L65.2,482.5 L66.3,482.5 L67.5,482.5 L68.6,482.5 L69.8,482.5 L70.9,482.5 L72.1,482.5 L73.2,482.5 L74.4,482.5 L75.5,482.5 L76.7,482.5 L77.8,482.5 L79.0,482.5 L80.1,482.5 L81.3,482.5 L82.4,482.5 L83.6,482.5 L84.7,482.5 L85.9,482.5 L87.0,482.3 L88.2,481.8 L89.3,480.7 L90.5,478.8 L91.7,476.8 L92.8,475.8 L94.0,476.5 L95.1,478.5 L96.3,480.4 L97.4,481.7 L98.6,482.3 L99.7,482.4 L100.9,482.5 L102.0,482.5 L103.2,482.5 L104.3,482.5 L105.5,482.5 L106.6,482.5 L107.8,482.5 L108.9,482.5 L110.1,482.5 L111.2,482.5 L112.4,482.5 L113.5,482.5 L114.7,482.5 L115.8,482.5 L117.0,482.5 L117.0,482.5 Z" fill="#7a7a7a" fill-opacity="0.75" stroke="#444" stroke-width="0.45"/>
<path d="M117.0,482.5 L117.0,482.5 L118.1,482.5 L119.2,482.5 L120.4,482.5 L121.5,482.5 L122.6,482.5 L123.8,482.5 L124.9,482.5 L126.0,482.2 L127.1,481.0 L128.2,478.4 L129.4,475.5 L130.5,475.3 L131.6,478.0 L132.8,480.7 L133.9,481.9 L135.0,482.2 L136.1,482.1 L137.2,481.9 L138.4,481.6 L139.5,481.2 L140.6,480.8 L141.8,480.4 L142.9,480.0 L144.0,479.7 L145.1,479.5 L146.2,479.5 L147.4,479.6 L148.5,479.9 L149.6,480.2 L150.8,480.6 L151.9,481.0 L153.0,481.4 L154.1,481.7 L155.2,482.0 L156.4,482.2 L157.5,482.3 L158.6,482.4 L159.8,482.4 L160.9,482.5 L162.0,482.5 L163.1,482.5 L164.2,482.5 L165.4,482.5 L166.5,482.5 L167.6,482.5 L168.8,482.5 L169.9,482.5 L171.0,482.5 L171.0,482.5 Z" fill="#bdbdbd" fill-opacity="0.75" stroke="#555" stroke-width="0.45"/>
<path d="M171.0,482.5 L171.0,482.5 L172.1,482.5 L173.3,482.5 L174.4,482.5 L175.5,482.5 L176.7,482.5 L177.8,482.5 L178.9,482.5 L180.1,482.5 L181.2,482.4 L182.3,482.2 L183.4,481.6 L184.6,480.6 L185.7,479.7 L186.8,479.5 L188.0,480.2 L189.1,481.2 L190.2,482.0 L191.4,482.3 L192.5,482.2 L193.6,481.8 L194.8,480.7 L195.9,478.8 L197.0,476.3 L198.2,474.1 L199.3,473.1 L200.4,473.8 L201.5,475.9 L202.7,478.1 L203.8,479.8 L204.9,480.6 L206.1,480.9 L207.2,481.0 L208.3,481.0 L209.5,481.1 L210.6,481.3 L211.7,481.5 L212.9,481.8 L214.0,482.0 L215.1,482.2 L216.2,482.3 L217.4,482.4 L218.5,482.5 L219.6,482.5 L220.8,482.5 L221.9,482.5 L223.0,482.5 L224.2,482.5 L225.3,482.5 L225.3,482.5 Z" fill="#bdbdbd" fill-opacity="0.75" stroke="#555" stroke-width="0.45"/>
<line x1="7.4" y1="482.5" x2="225.3" y2="482.5" stroke="#8a8a8a" stroke-width="0.45"/>
<path d="M7.4,491.6 L7.4,491.6 L8.5,491.6 L9.7,491.5 L10.8,491.5 L11.9,491.4 L13.1,491.3 L14.2,491.2 L15.3,491.0 L16.5,490.8 L17.6,490.6 L18.7,490.4 L19.8,490.2 L21.0,490.1 L22.1,490.1 L23.2,490.1 L24.4,490.2 L25.5,490.3 L26.6,490.4 L27.8,490.3 L28.9,490.0 L30.0,489.4 L31.2,488.5 L32.3,487.5 L33.4,486.5 L34.6,485.7 L35.7,485.3 L36.8,484.8 L37.9,483.4 L39.1,480.6 L40.2,477.7 L41.3,477.1 L42.5,480.1 L43.6,484.9 L44.7,488.7 L45.9,490.7 L47.0,491.4 L48.1,491.6 L49.3,491.6 L50.4,491.6 L51.5,491.6 L52.6,491.6 L53.8,491.6 L54.9,491.6 L56.0,491.6 L57.2,491.6 L58.3,491.6 L59.4,491.6 L60.6,491.6 L61.7,491.6 L61.7,491.6 Z" fill="#f47a7a" fill-opacity="0.35" stroke="#f04848" stroke-width="0.45"/>
<path d="M61.7,491.6 L61.7,491.6 L62.9,491.6 L64.0,491.6 L65.2,491.6 L66.3,491.6 L67.5,491.6 L68.6,491.6 L69.8,491.6 L70.9,491.6 L72.1,491.6 L73.2,491.6 L74.4,491.6 L75.5,491.6 L76.7,491.6 L77.8,491.6 L79.0,491.6 L80.1,491.6 L81.3,491.6 L82.4,491.6 L83.6,491.6 L84.7,491.6 L85.9,491.5 L87.0,490.9 L88.2,489.3 L89.3,485.8 L90.5,481.0 L91.7,477.8 L92.8,478.7 L94.0,482.9 L95.1,487.4 L96.3,490.2 L97.4,491.2 L98.6,491.5 L99.7,491.6 L100.9,491.6 L102.0,491.6 L103.2,491.6 L104.3,491.6 L105.5,491.6 L106.6,491.6 L107.8,491.6 L108.9,491.6 L110.1,491.6 L111.2,491.6 L112.4,491.6 L113.5,491.6 L114.7,491.6 L115.8,491.6 L117.0,491.6 L117.0,491.6 Z" fill="#f47a7a" fill-opacity="0.35" stroke="#f04848" stroke-width="0.45"/>
<path d="M117.0,491.6 L117.0,491.6 L118.1,491.6 L119.2,491.6 L120.4,491.6 L121.5,491.6 L122.6,491.6 L123.8,491.6 L124.9,491.6 L126.0,491.4 L127.1,490.8 L128.2,489.1 L129.4,486.3 L130.5,484.0 L131.6,484.2 L132.8,486.7 L133.9,489.4 L135.0,490.8 L136.1,491.3 L137.2,491.2 L138.4,490.8 L139.5,490.2 L140.6,489.3 L141.8,488.0 L142.9,486.4 L144.0,484.5 L145.1,482.6 L146.2,480.9 L147.4,479.7 L148.5,479.3 L149.6,479.7 L150.8,480.9 L151.9,482.6 L153.0,484.5 L154.1,486.4 L155.2,488.0 L156.4,489.3 L157.5,490.2 L158.6,490.8 L159.8,491.2 L160.9,491.4 L162.0,491.5 L163.1,491.6 L164.2,491.6 L165.4,491.6 L166.5,491.6 L167.6,491.6 L168.8,491.6 L169.9,491.6 L171.0,491.6 L171.0,491.6 Z" fill="#f47a7a" fill-opacity="0.35" stroke="#f04848" stroke-width="0.45"/>
<path d="M171.0,491.6 L171.0,491.6 L172.1,491.6 L173.3,491.6 L174.4,491.6 L175.5,491.6 L176.7,491.6 L177.8,491.6 L178.9,491.6 L180.1,491.6 L181.2,491.6 L182.3,491.6 L183.4,491.6 L184.6,491.6 L185.7,491.6 L186.8,491.6 L188.0,491.6 L189.1,491.5 L190.2,491.3 L191.4,490.9 L192.5,490.3 L193.6,489.5 L194.8,488.6 L195.9,487.8 L197.0,487.4 L198.2,487.1 L199.3,486.4 L200.4,484.5 L201.5,481.3 L202.7,478.3 L203.8,477.3 L204.9,479.4 L206.1,483.3 L207.2,487.2 L208.3,489.8 L209.5,491.0 L210.6,491.4 L211.7,491.6 L212.9,491.6 L214.0,491.6 L215.1,491.6 L216.2,491.6 L217.4,491.6 L218.5,491.6 L219.6,491.6 L220.8,491.6 L221.9,491.6 L223.0,491.6 L224.2,491.6 L225.3,491.6 L225.3,491.6 Z" fill="#f47a7a" fill-opacity="0.35" stroke="#f04848" stroke-width="0.45"/>
<line x1="7.4" y1="491.6" x2="225.3" y2="491.6" stroke="#f49494" stroke-width="0.45"/>
<path d="M7.4,500.0 L7.4,500.0 L8.5,500.0 L9.7,500.0 L10.8,500.0 L11.9,500.0 L13.1,500.0 L14.2,500.0 L15.3,500.0 L16.5,500.0 L17.6,500.0 L18.7,500.0 L19.8,499.9 L21.0,499.8 L22.1,499.7 L23.2,499.5 L24.4,499.1 L25.5,498.6 L26.6,498.1 L27.8,497.5 L28.9,497.0 L30.0,496.6 L31.2,496.5 L32.3,496.6 L33.4,496.9 L34.6,497.1 L35.7,496.8 L36.8,495.4 L37.9,492.8 L39.1,489.5 L40.2,486.7 L41.3,485.9 L42.5,487.5 L43.6,490.8 L44.7,494.4 L45.9,497.2 L47.0,498.8 L48.1,499.6 L49.3,499.9 L50.4,500.0 L51.5,500.0 L52.6,500.0 L53.8,500.0 L54.9,500.0 L56.0,500.0 L57.2,500.0 L58.3,500.0 L59.4,500.0 L60.6,500.0 L61.7,500.0 L61.7,500.0 Z" fill="#f47a7a" fill-opacity="0.35" stroke="#f04848" stroke-width="0.45"/>
<path d="M61.7,500.0 L61.7,500.0 L62.9,500.0 L64.0,500.0 L65.2,500.0 L66.3,500.0 L67.5,500.0 L68.6,500.0 L69.8,500.0 L70.9,500.0 L72.1,500.0 L73.2,500.0 L74.4,500.0 L75.5,500.0 L76.7,500.0 L77.8,500.0 L79.0,500.0 L80.1,500.0 L81.3,500.0 L82.4,500.0 L83.6,500.0 L84.7,499.9 L85.9,499.5 L87.0,498.3 L88.2,495.6 L89.3,491.1 L90.5,486.1 L91.7,483.0 L92.8,483.8 L94.0,488.0 L95.1,493.1 L96.3,496.9 L97.4,498.9 L98.6,499.7 L99.7,499.9 L100.9,500.0 L102.0,500.0 L103.2,500.0 L104.3,500.0 L105.5,500.0 L106.6,500.0 L107.8,500.0 L108.9,500.0 L110.1,500.0 L111.2,500.0 L112.4,500.0 L113.5,500.0 L114.7,500.0 L115.8,500.0 L117.0,500.0 L117.0,500.0 Z" fill="#f47a7a" fill-opacity="0.35" stroke="#f04848" stroke-width="0.45"/>
<path d="M117.0,500.0 L117.0,500.0 L118.1,500.0 L119.2,500.0 L120.4,500.0 L121.5,500.0 L122.6,500.0 L123.8,500.0 L124.9,500.0 L126.0,499.8 L127.1,499.0 L128.2,496.9 L129.4,493.5 L130.5,490.6 L131.6,490.8 L132.8,493.9 L133.9,497.2 L135.0,499.1 L136.1,499.6 L137.2,499.5 L138.4,499.1 L139.5,498.4 L140.6,497.3 L141.8,495.7 L142.9,493.8 L144.0,491.6 L145.1,489.3 L146.2,487.3 L147.4,485.9 L148.5,485.4 L149.6,485.9 L150.8,487.3 L151.9,489.3 L153.0,491.6 L154.1,493.8 L155.2,495.7 L156.4,497.3 L157.5,498.4 L158.6,499.1 L159.8,499.5 L160.9,499.8 L162.0,499.9 L163.1,500.0 L164.2,500.0 L165.4,500.0 L166.5,500.0 L167.6,500.0 L168.8,500.0 L169.9,500.0 L171.0,500.0 L171.0,500.0 Z" fill="#f47a7a" fill-opacity="0.35" stroke="#f04848" stroke-width="0.45"/>
<path d="M171.0,500.0 L171.0,500.0 L172.1,500.0 L173.3,500.0 L174.4,500.0 L175.5,500.0 L176.7,500.0 L177.8,500.0 L178.9,500.0 L180.1,500.0 L181.2,500.0 L182.3,500.0 L183.4,500.0 L184.6,500.0 L185.7,499.9 L186.8,499.7 L188.0,499.5 L189.1,499.0 L190.2,498.4 L191.4,497.7 L192.5,496.9 L193.6,496.3 L194.8,496.0 L195.9,496.0 L197.0,496.2 L198.2,496.0 L199.3,494.9 L200.4,492.3 L201.5,488.7 L202.7,485.5 L203.8,484.4 L204.9,486.3 L206.1,490.1 L207.2,494.2 L208.3,497.2 L209.5,498.9 L210.6,499.7 L211.7,499.9 L212.9,500.0 L214.0,500.0 L215.1,500.0 L216.2,500.0 L217.4,500.0 L218.5,500.0 L219.6,500.0 L220.8,500.0 L221.9,500.0 L223.0,500.0 L224.2,500.0 L225.3,500.0 L225.3,500.0 Z" fill="#f47a7a" fill-opacity="0.35" stroke="#f04848" stroke-width="0.45"/>
<line x1="7.4" y1="500.0" x2="225.3" y2="500.0" stroke="#f49494" stroke-width="0.45"/>
<rect x="7.4" y="445.1" width="217.9" height="54.9" fill="none" stroke="#222" stroke-width="0.6"/>
<line x1="61.7" y1="445.1" x2="61.7" y2="500.0" stroke="#222" stroke-width="0.6"/>
<line x1="117.0" y1="445.1" x2="117.0" y2="500.0" stroke="#222" stroke-width="0.6"/>
<line x1="171.0" y1="445.1" x2="171.0" y2="500.0" stroke="#222" stroke-width="0.6"/>
<line x1="31.5" y1="445.1" x2="31.5" y2="500.0" stroke="#222" stroke-width="0.6"/>
<line x1="136.6" y1="445.1" x2="136.6" y2="500.0" stroke="#222" stroke-width="0.6"/>
<line x1="197.6" y1="445.1" x2="197.6" y2="500.0" stroke="#222" stroke-width="0.6"/>
<circle cx="3.2" cy="459.4" r="1.2" fill="#fff" stroke="#222" stroke-width="0.7"/>
<circle cx="3.2" cy="468.3" r="1.5" fill="#111"/>
<circle cx="3.2" cy="477.4" r="1.1" fill="#111"/>
<circle cx="3.2" cy="486.3" r="1.5" fill="#f01010"/>
<circle cx="3.2" cy="495.0" r="1.2" fill="#f01010"/>
<g transform="translate(13.3,509.3) rotate(-45)"><text x="0" y="0" font-size="7.0" text-anchor="end" fill="#231f20" stroke="#231f20">10</text><text x="0.3" y="-2.9" font-size="4.2" fill="#231f20" stroke="#231f20">−3</text></g>
<g transform="translate(25.2,509.3) rotate(-45)"><text x="0" y="0" font-size="7.0" text-anchor="end" fill="#231f20" stroke="#231f20">10</text><text x="0.3" y="-2.9" font-size="4.2" fill="#231f20" stroke="#231f20">0</text></g>
<g transform="translate(36.0,509.3) rotate(-45)"><text x="0" y="0" font-size="7.0" text-anchor="end" fill="#231f20" stroke="#231f20">10</text><text x="0.3" y="-2.9" font-size="4.2" fill="#231f20" stroke="#231f20">3</text></g>
<g transform="translate(53.5,509.3) rotate(-45)"><text x="0" y="0" font-size="7.0" text-anchor="end" fill="#231f20" stroke="#231f20">10</text><text x="0.3" y="-2.9" font-size="4.2" fill="#231f20" stroke="#231f20">4</text></g>
<g transform="translate(77.2,509.3) rotate(-45)"><text x="0" y="0" font-size="7.0" text-anchor="end" fill="#231f20" stroke="#231f20">10</text><text x="0.3" y="-2.9" font-size="4.2" fill="#231f20" stroke="#231f20">3</text></g>
<g transform="translate(100.0,509.3) rotate(-45)"><text x="0" y="0" font-size="7.0" text-anchor="end" fill="#231f20" stroke="#231f20">10</text><text x="0.3" y="-2.9" font-size="4.2" fill="#231f20" stroke="#231f20">4</text></g>
<g transform="translate(111.4,509.3) rotate(-45)"><text x="0" y="0" font-size="7.0" text-anchor="end" fill="#231f20" stroke="#231f20">10</text><text x="0.3" y="-2.9" font-size="4.2" fill="#231f20" stroke="#231f20">5</text></g>
<g transform="translate(131.1,509.3) rotate(-45)"><text x="0" y="0" font-size="7.0" text-anchor="end" fill="#231f20" stroke="#231f20">10</text><text x="0.3" y="-2.9" font-size="4.2" fill="#231f20" stroke="#231f20">3</text></g>
<g transform="translate(150.4,509.3) rotate(-45)"><text x="0" y="0" font-size="7.0" text-anchor="end" fill="#231f20" stroke="#231f20">10</text><text x="0.3" y="-2.9" font-size="4.2" fill="#231f20" stroke="#231f20">4</text></g>
<g transform="translate(161.8,509.3) rotate(-45)"><text x="0" y="0" font-size="7.0" text-anchor="end" fill="#231f20" stroke="#231f20">10</text><text x="0.3" y="-2.9" font-size="4.2" fill="#231f20" stroke="#231f20">5</text></g>
<g transform="translate(171.4,509.3) rotate(-45)"><text x="0" y="0" font-size="7.0" text-anchor="end" fill="#231f20" stroke="#231f20">10</text><text x="0.3" y="-2.9" font-size="4.2" fill="#231f20" stroke="#231f20">6</text></g>
<g transform="translate(186.3,509.3) rotate(-45)"><text x="0" y="0" font-size="7.0" text-anchor="end" fill="#231f20" stroke="#231f20">10</text><text x="0.3" y="-2.9" font-size="4.2" fill="#231f20" stroke="#231f20">3</text></g>
<g transform="translate(207.4,509.3) rotate(-45)"><text x="0" y="0" font-size="7.0" text-anchor="end" fill="#231f20" stroke="#231f20">10</text><text x="0.3" y="-2.9" font-size="4.2" fill="#231f20" stroke="#231f20">4</text></g>
<g transform="translate(219.6,509.3) rotate(-45)"><text x="0" y="0" font-size="7.0" text-anchor="end" fill="#231f20" stroke="#231f20">10</text><text x="0.3" y="-2.9" font-size="4.2" fill="#231f20" stroke="#231f20">5</text></g>
<circle cx="3.9" cy="530.8" r="1.0" fill="#fff" stroke="#222" stroke-width="0.6"/>
<circle cx="3.9" cy="541.4" r="1.1" fill="#111"/>
<circle cx="3.9" cy="552.0" r="0.9" fill="#111"/>
<circle cx="3.9" cy="562.5" r="1.0" fill="#f01010"/>
<circle cx="3.9" cy="573.0" r="0.9" fill="#f01010"/>
<text x="8.8" y="533.1" font-size="6.5" text-anchor="start" fill="#231f20" stroke="#231f20"><tspan>Host T</tspan><tspan font-size="4.0" dy="1.8">conv</tspan><tspan dy="-1.8">_PBS_mLN</tspan></text>
<text x="8.8" y="543.7" font-size="6.5" text-anchor="start" fill="#231f20" stroke="#231f20"><tspan>Host T</tspan><tspan font-size="4.0" dy="1.8">reg</tspan><tspan dy="-1.8">_PBS_mLN</tspan></text>
<text x="8.8" y="554.3" font-size="6.5" text-anchor="start" fill="#231f20" stroke="#231f20"><tspan>Host T</tspan><tspan font-size="4.0" dy="1.8">reg</tspan><tspan dy="-1.8">_PBS_Colon</tspan></text>
<text x="10.0" y="564.8" font-size="6.5" text-anchor="start" fill="#231f20" stroke="#231f20"><tspan>OT-II T</tspan><tspan font-size="4.0" dy="1.8">reg</tspan><tspan dy="-1.8">_TGM1-IL-2(WT)_mLN</tspan></text>
<text x="10.0" y="575.3" font-size="6.5" text-anchor="start" fill="#231f20" stroke="#231f20"><tspan>OT-II T</tspan><tspan font-size="4.0" dy="1.8">reg</tspan><tspan dy="-1.8">_TGM1-IL-2(WT)_SPL</tspan></text>
<text x="272.1" y="441.5" font-size="6.5" text-anchor="middle" fill="#231f20" stroke="#231f20"><tspan>RORγt</tspan><tspan font-size="4.0" dy="-2.5">+</tspan><tspan dy="2.5"> (%)</tspan></text>
<line x1="248.2" y1="453.9" x2="248.2" y2="500.9" stroke="#444" stroke-width="0.6"/>
<line x1="246.6" y1="500.5" x2="248.2" y2="500.5" stroke="#444" stroke-width="0.5"/>
<text x="245.6" y="502.8" font-size="6.5" text-anchor="end" fill="#231f20" stroke="#231f20"><tspan>0</tspan></text>
<line x1="246.6" y1="491.3" x2="248.2" y2="491.3" stroke="#444" stroke-width="0.5"/>
<text x="245.6" y="493.6" font-size="6.5" text-anchor="end" fill="#231f20" stroke="#231f20"><tspan>20</tspan></text>
<line x1="246.6" y1="482.1" x2="248.2" y2="482.1" stroke="#444" stroke-width="0.5"/>
<text x="245.6" y="484.4" font-size="6.5" text-anchor="end" fill="#231f20" stroke="#231f20"><tspan>40</tspan></text>
<line x1="246.6" y1="472.8" x2="248.2" y2="472.8" stroke="#444" stroke-width="0.5"/>
<text x="245.6" y="475.2" font-size="6.5" text-anchor="end" fill="#231f20" stroke="#231f20"><tspan>60</tspan></text>
<line x1="246.6" y1="463.6" x2="248.2" y2="463.6" stroke="#444" stroke-width="0.5"/>
<text x="245.6" y="466.0" font-size="6.5" text-anchor="end" fill="#231f20" stroke="#231f20"><tspan>80</tspan></text>
<line x1="246.6" y1="454.4" x2="248.2" y2="454.4" stroke="#444" stroke-width="0.5"/>
<text x="245.6" y="456.7" font-size="6.5" text-anchor="end" fill="#231f20" stroke="#231f20"><tspan>100</tspan></text>
<line x1="248.2" y1="500.9" x2="294.9" y2="500.9" stroke="#444" stroke-width="0.6"/>
<rect x="251.1" y="499.6" width="6.6" height="0.9" fill="#fff" stroke="#444" stroke-width="0.6"/>
<line x1="254.4" y1="500.9" x2="254.4" y2="502.3" stroke="#444" stroke-width="0.5"/>
<circle cx="252.6" cy="499.1" r="0.8" fill="#111"/>
<circle cx="256.1" cy="499.6" r="0.8" fill="#111"/>
<circle cx="255.7" cy="499.6" r="0.8" fill="#111"/>
<circle cx="253.2" cy="500.0" r="0.8" fill="#111"/>
<circle cx="254.4" cy="500.0" r="0.8" fill="#111"/>
<line x1="254.4" y1="499.8" x2="254.4" y2="499.3" stroke="#222" stroke-width="0.5"/>
<line x1="252.9" y1="499.3" x2="255.9" y2="499.3" stroke="#222" stroke-width="0.5"/>
<line x1="252.9" y1="499.8" x2="255.9" y2="499.8" stroke="#222" stroke-width="0.5"/>
<line x1="252.2" y1="499.6" x2="256.6" y2="499.6" stroke="#222" stroke-width="0.7"/>
<rect x="259.7" y="498.7" width="6.6" height="1.8" fill="#fff" stroke="#444" stroke-width="0.6"/>
<line x1="263.0" y1="500.9" x2="263.0" y2="502.3" stroke="#444" stroke-width="0.5"/>
<circle cx="265.3" cy="496.8" r="0.8" fill="#111"/>
<circle cx="265.2" cy="497.7" r="0.8" fill="#111"/>
<circle cx="260.8" cy="498.2" r="0.8" fill="#111"/>
<circle cx="260.9" cy="498.7" r="0.8" fill="#111"/>
<circle cx="264.7" cy="499.1" r="0.8" fill="#111"/>
<circle cx="264.2" cy="499.1" r="0.8" fill="#111"/>
<circle cx="263.9" cy="499.6" r="0.8" fill="#111"/>
<line x1="263.0" y1="499.1" x2="263.0" y2="498.2" stroke="#222" stroke-width="0.5"/>
<line x1="261.5" y1="498.2" x2="264.5" y2="498.2" stroke="#222" stroke-width="0.5"/>
<line x1="261.5" y1="499.1" x2="264.5" y2="499.1" stroke="#222" stroke-width="0.5"/>
<line x1="260.8" y1="498.7" x2="265.2" y2="498.7" stroke="#222" stroke-width="0.7"/>
<rect x="268.2" y="490.4" width="6.6" height="10.1" fill="#fff" stroke="#444" stroke-width="0.6"/>
<line x1="271.5" y1="500.9" x2="271.5" y2="502.3" stroke="#444" stroke-width="0.5"/>
<circle cx="270.2" cy="484.8" r="0.8" fill="#111"/>
<circle cx="271.7" cy="486.7" r="0.8" fill="#111"/>
<circle cx="270.8" cy="488.5" r="0.8" fill="#111"/>
<circle cx="272.0" cy="489.4" r="0.8" fill="#111"/>
<circle cx="272.1" cy="490.4" r="0.8" fill="#111"/>
<circle cx="269.3" cy="491.3" r="0.8" fill="#111"/>
<circle cx="269.1" cy="492.2" r="0.8" fill="#111"/>
<circle cx="273.2" cy="493.6" r="0.8" fill="#111"/>
<circle cx="270.3" cy="495.0" r="0.8" fill="#111"/>
<line x1="271.5" y1="491.7" x2="271.5" y2="489.0" stroke="#222" stroke-width="0.5"/>
<line x1="270.0" y1="489.0" x2="273.0" y2="489.0" stroke="#222" stroke-width="0.5"/>
<line x1="270.0" y1="491.7" x2="273.0" y2="491.7" stroke="#222" stroke-width="0.5"/>
<line x1="269.3" y1="490.4" x2="273.7" y2="490.4" stroke="#222" stroke-width="0.7"/>
<rect x="277.1" y="462.2" width="6.6" height="38.3" fill="#fff" stroke="#444" stroke-width="0.6"/>
<line x1="280.4" y1="500.9" x2="280.4" y2="502.3" stroke="#444" stroke-width="0.5"/>
<circle cx="279.1" cy="458.1" r="0.8" fill="#f0141e"/>
<circle cx="278.4" cy="459.9" r="0.8" fill="#f0141e"/>
<circle cx="279.9" cy="461.3" r="0.8" fill="#f0141e"/>
<circle cx="278.7" cy="462.7" r="0.8" fill="#f0141e"/>
<circle cx="278.2" cy="463.6" r="0.8" fill="#f0141e"/>
<circle cx="279.9" cy="465.5" r="0.8" fill="#f0141e"/>
<circle cx="282.5" cy="467.3" r="0.8" fill="#f0141e"/>
<line x1="280.4" y1="463.6" x2="280.4" y2="460.9" stroke="#222" stroke-width="0.5"/>
<line x1="278.9" y1="460.9" x2="281.9" y2="460.9" stroke="#222" stroke-width="0.5"/>
<line x1="278.9" y1="463.6" x2="281.9" y2="463.6" stroke="#222" stroke-width="0.5"/>
<line x1="278.2" y1="462.2" x2="282.6" y2="462.2" stroke="#222" stroke-width="0.7"/>
<rect x="285.8" y="466.4" width="6.6" height="34.1" fill="#fff" stroke="#444" stroke-width="0.6"/>
<line x1="289.1" y1="500.9" x2="289.1" y2="502.3" stroke="#444" stroke-width="0.5"/>
<circle cx="289.7" cy="462.7" r="0.8" fill="#f0141e"/>
<circle cx="290.3" cy="464.5" r="0.8" fill="#f0141e"/>
<circle cx="290.6" cy="465.9" r="0.8" fill="#f0141e"/>
<circle cx="291.3" cy="467.3" r="0.8" fill="#f0141e"/>
<circle cx="290.3" cy="468.2" r="0.8" fill="#f0141e"/>
<line x1="289.1" y1="467.8" x2="289.1" y2="465.0" stroke="#222" stroke-width="0.5"/>
<line x1="287.6" y1="465.0" x2="290.6" y2="465.0" stroke="#222" stroke-width="0.5"/>
<line x1="287.6" y1="467.8" x2="290.6" y2="467.8" stroke="#222" stroke-width="0.5"/>
<line x1="286.9" y1="466.4" x2="291.3" y2="466.4" stroke="#222" stroke-width="0.7"/>
<line x1="271.0" y1="450.8" x2="289.0" y2="450.8" stroke="#231f20" stroke-width="0.6"/>
<text x="281.1" y="451.7" font-size="7.2" text-anchor="middle" fill="#231f20" stroke="#231f20" letter-spacing="0.3"><tspan>****</tspan></text>
<line x1="271.0" y1="455.0" x2="280.5" y2="455.0" stroke="#231f20" stroke-width="0.6"/>
<text x="275.6" y="456.1" font-size="7.2" text-anchor="middle" fill="#231f20" stroke="#231f20" letter-spacing="0.3"><tspan>****</tspan></text>
<text x="341.3" y="442.1" font-size="6.5" text-anchor="middle" fill="#231f20" stroke="#231f20"><tspan>c-MAF MFI</tspan></text>
<line x1="318.0" y1="453.9" x2="318.0" y2="501.2" stroke="#444" stroke-width="0.6"/>
<line x1="316.4" y1="500.8" x2="318.0" y2="500.8" stroke="#444" stroke-width="0.5"/>
<text x="315.4" y="503.1" font-size="6.5" text-anchor="end" fill="#231f20" stroke="#231f20"><tspan>0</tspan></text>
<line x1="316.4" y1="485.3" x2="318.0" y2="485.3" stroke="#444" stroke-width="0.5"/>
<text x="315.4" y="487.7" font-size="6.5" text-anchor="end" fill="#231f20" stroke="#231f20"><tspan>5</tspan></text>
<line x1="316.4" y1="469.9" x2="318.0" y2="469.9" stroke="#444" stroke-width="0.5"/>
<text x="315.4" y="472.2" font-size="6.5" text-anchor="end" fill="#231f20" stroke="#231f20"><tspan>10</tspan></text>
<line x1="316.4" y1="454.4" x2="318.0" y2="454.4" stroke="#444" stroke-width="0.5"/>
<text x="315.4" y="456.7" font-size="6.5" text-anchor="end" fill="#231f20" stroke="#231f20"><tspan>15</tspan></text>
<line x1="318.0" y1="501.2" x2="364.4" y2="501.2" stroke="#444" stroke-width="0.6"/>
<rect x="321.2" y="496.2" width="5.8" height="4.6" fill="#fff" stroke="#444" stroke-width="0.6"/>
<line x1="324.1" y1="501.2" x2="324.1" y2="502.6" stroke="#444" stroke-width="0.5"/>
<circle cx="325.4" cy="494.9" r="0.8" fill="#111"/>
<circle cx="325.5" cy="495.5" r="0.8" fill="#111"/>
<circle cx="324.0" cy="496.2" r="0.8" fill="#111"/>
<circle cx="323.0" cy="496.8" r="0.8" fill="#111"/>
<circle cx="321.9" cy="497.1" r="0.8" fill="#111"/>
<line x1="324.1" y1="496.8" x2="324.1" y2="495.5" stroke="#222" stroke-width="0.5"/>
<line x1="322.6" y1="495.5" x2="325.6" y2="495.5" stroke="#222" stroke-width="0.5"/>
<line x1="322.6" y1="496.8" x2="325.6" y2="496.8" stroke="#222" stroke-width="0.5"/>
<line x1="321.9" y1="496.2" x2="326.3" y2="496.2" stroke="#222" stroke-width="0.7"/>
<rect x="329.6" y="482.2" width="5.8" height="18.6" fill="#fff" stroke="#444" stroke-width="0.6"/>
<line x1="332.5" y1="501.2" x2="332.5" y2="502.6" stroke="#444" stroke-width="0.5"/>
<circle cx="331.7" cy="479.8" r="0.8" fill="#111"/>
<circle cx="331.0" cy="480.7" r="0.8" fill="#111"/>
<circle cx="333.2" cy="481.3" r="0.8" fill="#111"/>
<circle cx="330.6" cy="482.2" r="0.8" fill="#111"/>
<circle cx="332.7" cy="483.8" r="0.8" fill="#111"/>
<circle cx="331.9" cy="491.5" r="0.8" fill="#111"/>
<line x1="332.5" y1="483.8" x2="332.5" y2="480.7" stroke="#222" stroke-width="0.5"/>
<line x1="331.0" y1="480.7" x2="334.0" y2="480.7" stroke="#222" stroke-width="0.5"/>
<line x1="331.0" y1="483.8" x2="334.0" y2="483.8" stroke="#222" stroke-width="0.5"/>
<line x1="330.3" y1="482.2" x2="334.7" y2="482.2" stroke="#222" stroke-width="0.7"/>
<rect x="338.4" y="482.2" width="5.8" height="18.6" fill="#fff" stroke="#444" stroke-width="0.6"/>
<line x1="341.3" y1="501.2" x2="341.3" y2="502.6" stroke="#444" stroke-width="0.5"/>
<circle cx="340.1" cy="471.4" r="0.8" fill="#111"/>
<circle cx="343.3" cy="476.7" r="0.8" fill="#111"/>
<circle cx="339.7" cy="479.1" r="0.8" fill="#111"/>
<circle cx="342.2" cy="480.7" r="0.8" fill="#111"/>
<circle cx="339.5" cy="483.8" r="0.8" fill="#111"/>
<circle cx="340.2" cy="486.9" r="0.8" fill="#111"/>
<circle cx="343.5" cy="490.0" r="0.8" fill="#111"/>
<circle cx="340.0" cy="491.5" r="0.8" fill="#111"/>
<line x1="341.3" y1="484.7" x2="341.3" y2="479.8" stroke="#222" stroke-width="0.5"/>
<line x1="339.8" y1="479.8" x2="342.8" y2="479.8" stroke="#222" stroke-width="0.5"/>
<line x1="339.8" y1="484.7" x2="342.8" y2="484.7" stroke="#222" stroke-width="0.5"/>
<line x1="339.1" y1="482.2" x2="343.5" y2="482.2" stroke="#222" stroke-width="0.7"/>
<rect x="347.2" y="468.3" width="5.8" height="32.5" fill="#fff" stroke="#444" stroke-width="0.6"/>
<line x1="350.1" y1="501.2" x2="350.1" y2="502.6" stroke="#444" stroke-width="0.5"/>
<circle cx="349.9" cy="455.9" r="0.8" fill="#f0141e"/>
<circle cx="349.5" cy="457.5" r="0.8" fill="#f0141e"/>
<circle cx="348.5" cy="460.6" r="0.8" fill="#f0141e"/>
<circle cx="351.7" cy="463.7" r="0.8" fill="#f0141e"/>
<circle cx="347.9" cy="466.8" r="0.8" fill="#f0141e"/>
<circle cx="350.1" cy="469.9" r="0.8" fill="#f0141e"/>
<circle cx="351.9" cy="473.0" r="0.8" fill="#f0141e"/>
<circle cx="348.3" cy="474.5" r="0.8" fill="#f0141e"/>
<circle cx="350.3" cy="477.6" r="0.8" fill="#f0141e"/>
<line x1="350.1" y1="472.0" x2="350.1" y2="464.6" stroke="#222" stroke-width="0.5"/>
<line x1="348.6" y1="464.6" x2="351.6" y2="464.6" stroke="#222" stroke-width="0.5"/>
<line x1="348.6" y1="472.0" x2="351.6" y2="472.0" stroke="#222" stroke-width="0.5"/>
<line x1="347.9" y1="468.3" x2="352.3" y2="468.3" stroke="#222" stroke-width="0.7"/>
<rect x="356.1" y="477.0" width="5.8" height="23.8" fill="#fff" stroke="#444" stroke-width="0.6"/>
<line x1="359.0" y1="501.2" x2="359.0" y2="502.6" stroke="#444" stroke-width="0.5"/>
<circle cx="359.3" cy="473.0" r="0.8" fill="#f0141e"/>
<circle cx="358.7" cy="474.5" r="0.8" fill="#f0141e"/>
<circle cx="359.3" cy="476.1" r="0.8" fill="#f0141e"/>
<circle cx="357.7" cy="477.6" r="0.8" fill="#f0141e"/>
<circle cx="360.4" cy="479.1" r="0.8" fill="#f0141e"/>
<line x1="359.0" y1="478.5" x2="359.0" y2="475.4" stroke="#222" stroke-width="0.5"/>
<line x1="357.5" y1="475.4" x2="360.5" y2="475.4" stroke="#222" stroke-width="0.5"/>
<line x1="357.5" y1="478.5" x2="360.5" y2="478.5" stroke="#222" stroke-width="0.5"/>
<line x1="356.8" y1="477.0" x2="361.2" y2="477.0" stroke="#222" stroke-width="0.7"/>
<line x1="318.0" y1="496.1" x2="362.5" y2="496.1" stroke="#888" stroke-width="0.5"/>
<line x1="341.0" y1="455.2" x2="350.0" y2="455.2" stroke="#231f20" stroke-width="0.6"/>
<text x="345.6" y="456.9" font-size="7.2" text-anchor="middle" fill="#231f20" stroke="#231f20" letter-spacing="0.3"><tspan>**</tspan></text>
<line x1="341.0" y1="450.2" x2="359.0" y2="450.2" stroke="#231f20" stroke-width="0.6"/>
<text x="350.0" y="449.1" font-size="6.5" text-anchor="middle" fill="#231f20" stroke="#231f20"><tspan>NS</tspan></text>
<g transform="translate(300.0,476.2) rotate(-90)"><text x="0" y="2.2" font-size="6.2" text-anchor="middle" fill="#231f20" stroke="#231f20"><tspan>(×10</tspan><tspan font-size="3.8" dy="-2.4">3</tspan><tspan dy="2.4">)</tspan></text></g>
<text x="404.0" y="442.1" font-size="6.5" text-anchor="middle" fill="#231f20" stroke="#231f20"><tspan>CXCR6</tspan><tspan font-size="4.0" dy="-2.5">+</tspan><tspan dy="2.5"> (%)</tspan></text>
<line x1="378.3" y1="453.9" x2="378.3" y2="501.2" stroke="#444" stroke-width="0.6"/>
<line x1="376.7" y1="500.8" x2="378.3" y2="500.8" stroke="#444" stroke-width="0.5"/>
<text x="375.7" y="503.1" font-size="6.5" text-anchor="end" fill="#231f20" stroke="#231f20"><tspan>0</tspan></text>
<line x1="376.7" y1="493.1" x2="378.3" y2="493.1" stroke="#444" stroke-width="0.5"/>
<text x="375.7" y="495.4" font-size="6.5" text-anchor="end" fill="#231f20" stroke="#231f20"><tspan>15</tspan></text>
<line x1="376.7" y1="485.3" x2="378.3" y2="485.3" stroke="#444" stroke-width="0.5"/>
<text x="375.7" y="487.7" font-size="6.5" text-anchor="end" fill="#231f20" stroke="#231f20"><tspan>30</tspan></text>
<line x1="376.7" y1="477.6" x2="378.3" y2="477.6" stroke="#444" stroke-width="0.5"/>
<text x="375.7" y="479.9" font-size="6.5" text-anchor="end" fill="#231f20" stroke="#231f20"><tspan>45</tspan></text>
<line x1="376.7" y1="469.9" x2="378.3" y2="469.9" stroke="#444" stroke-width="0.5"/>
<text x="375.7" y="472.2" font-size="6.5" text-anchor="end" fill="#231f20" stroke="#231f20"><tspan>60</tspan></text>
<line x1="376.7" y1="462.1" x2="378.3" y2="462.1" stroke="#444" stroke-width="0.5"/>
<text x="375.7" y="464.5" font-size="6.5" text-anchor="end" fill="#231f20" stroke="#231f20"><tspan>75</tspan></text>
<line x1="376.7" y1="454.4" x2="378.3" y2="454.4" stroke="#444" stroke-width="0.5"/>
<text x="375.7" y="456.7" font-size="6.5" text-anchor="end" fill="#231f20" stroke="#231f20"><tspan>90</tspan></text>
<line x1="378.3" y1="501.2" x2="428.6" y2="501.2" stroke="#444" stroke-width="0.6"/>
<rect x="385.7" y="498.2" width="6.0" height="2.6" fill="#fff" stroke="#444" stroke-width="0.6"/>
<line x1="388.7" y1="501.2" x2="388.7" y2="502.6" stroke="#444" stroke-width="0.5"/>
<circle cx="388.5" cy="496.7" r="0.8" fill="#111"/>
<circle cx="389.0" cy="497.2" r="0.8" fill="#111"/>
<circle cx="390.6" cy="497.7" r="0.8" fill="#111"/>
<circle cx="388.5" cy="498.2" r="0.8" fill="#111"/>
<circle cx="388.7" cy="498.7" r="0.8" fill="#111"/>
<circle cx="389.1" cy="499.3" r="0.8" fill="#111"/>
<line x1="388.7" y1="498.6" x2="388.7" y2="497.8" stroke="#222" stroke-width="0.5"/>
<line x1="387.2" y1="497.8" x2="390.2" y2="497.8" stroke="#222" stroke-width="0.5"/>
<line x1="387.2" y1="498.6" x2="390.2" y2="498.6" stroke="#222" stroke-width="0.5"/>
<line x1="386.5" y1="498.2" x2="390.9" y2="498.2" stroke="#222" stroke-width="0.7"/>
<rect x="394.5" y="495.6" width="6.0" height="5.2" fill="#fff" stroke="#444" stroke-width="0.6"/>
<line x1="397.5" y1="501.2" x2="397.5" y2="502.6" stroke="#444" stroke-width="0.5"/>
<circle cx="397.4" cy="493.6" r="0.8" fill="#111"/>
<circle cx="398.2" cy="494.6" r="0.8" fill="#111"/>
<circle cx="398.3" cy="495.1" r="0.8" fill="#111"/>
<circle cx="395.9" cy="495.6" r="0.8" fill="#111"/>
<circle cx="395.3" cy="496.2" r="0.8" fill="#111"/>
<circle cx="396.9" cy="496.7" r="0.8" fill="#111"/>
<line x1="397.5" y1="496.2" x2="397.5" y2="495.1" stroke="#222" stroke-width="0.5"/>
<line x1="396.0" y1="495.1" x2="399.0" y2="495.1" stroke="#222" stroke-width="0.5"/>
<line x1="396.0" y1="496.2" x2="399.0" y2="496.2" stroke="#222" stroke-width="0.5"/>
<line x1="395.3" y1="495.6" x2="399.7" y2="495.6" stroke="#222" stroke-width="0.7"/>
<rect x="403.0" y="480.2" width="6.0" height="20.6" fill="#fff" stroke="#444" stroke-width="0.6"/>
<line x1="406.0" y1="501.2" x2="406.0" y2="502.6" stroke="#444" stroke-width="0.5"/>
<circle cx="404.9" cy="472.4" r="0.8" fill="#111"/>
<circle cx="406.8" cy="474.0" r="0.8" fill="#111"/>
<circle cx="406.8" cy="476.1" r="0.8" fill="#111"/>
<circle cx="407.6" cy="477.6" r="0.8" fill="#111"/>
<circle cx="404.6" cy="480.2" r="0.8" fill="#111"/>
<circle cx="404.8" cy="481.2" r="0.8" fill="#111"/>
<circle cx="404.4" cy="482.8" r="0.8" fill="#111"/>
<circle cx="404.7" cy="485.3" r="0.8" fill="#111"/>
<circle cx="407.1" cy="490.5" r="0.8" fill="#111"/>
<line x1="406.0" y1="481.7" x2="406.0" y2="478.6" stroke="#222" stroke-width="0.5"/>
<line x1="404.5" y1="478.6" x2="407.5" y2="478.6" stroke="#222" stroke-width="0.5"/>
<line x1="404.5" y1="481.7" x2="407.5" y2="481.7" stroke="#222" stroke-width="0.5"/>
<line x1="403.8" y1="480.2" x2="408.2" y2="480.2" stroke="#222" stroke-width="0.7"/>
<rect x="411.6" y="459.6" width="6.0" height="41.2" fill="#fff" stroke="#444" stroke-width="0.6"/>
<line x1="414.6" y1="501.2" x2="414.6" y2="502.6" stroke="#444" stroke-width="0.5"/>
<circle cx="412.8" cy="457.5" r="0.8" fill="#f0141e"/>
<circle cx="415.5" cy="458.0" r="0.8" fill="#f0141e"/>
<circle cx="415.3" cy="458.5" r="0.8" fill="#f0141e"/>
<circle cx="416.6" cy="459.6" r="0.8" fill="#f0141e"/>
<circle cx="413.6" cy="460.1" r="0.8" fill="#f0141e"/>
<circle cx="413.5" cy="460.6" r="0.8" fill="#f0141e"/>
<circle cx="415.7" cy="461.1" r="0.8" fill="#f0141e"/>
<line x1="414.6" y1="460.3" x2="414.6" y2="458.8" stroke="#222" stroke-width="0.5"/>
<line x1="413.1" y1="458.8" x2="416.1" y2="458.8" stroke="#222" stroke-width="0.5"/>
<line x1="413.1" y1="460.3" x2="416.1" y2="460.3" stroke="#222" stroke-width="0.5"/>
<line x1="412.4" y1="459.6" x2="416.8" y2="459.6" stroke="#222" stroke-width="0.7"/>
<rect x="420.1" y="466.3" width="6.0" height="34.5" fill="#fff" stroke="#444" stroke-width="0.6"/>
<line x1="423.1" y1="501.2" x2="423.1" y2="502.6" stroke="#444" stroke-width="0.5"/>
<circle cx="425.2" cy="464.7" r="0.8" fill="#f0141e"/>
<circle cx="420.9" cy="465.2" r="0.8" fill="#f0141e"/>
<circle cx="424.2" cy="466.3" r="0.8" fill="#f0141e"/>
<circle cx="421.5" cy="466.8" r="0.8" fill="#f0141e"/>
<circle cx="425.3" cy="467.3" r="0.8" fill="#f0141e"/>
<line x1="423.1" y1="467.0" x2="423.1" y2="465.5" stroke="#222" stroke-width="0.5"/>
<line x1="421.6" y1="465.5" x2="424.6" y2="465.5" stroke="#222" stroke-width="0.5"/>
<line x1="421.6" y1="467.0" x2="424.6" y2="467.0" stroke="#222" stroke-width="0.5"/>
<line x1="420.9" y1="466.3" x2="425.3" y2="466.3" stroke="#222" stroke-width="0.7"/>
<line x1="378.3" y1="497.6" x2="427.0" y2="497.6" stroke="#888" stroke-width="0.5"/>
<line x1="406.6" y1="451.3" x2="423.4" y2="451.3" stroke="#231f20" stroke-width="0.6"/>
<text x="414.8" y="451.9" font-size="7.2" text-anchor="middle" fill="#231f20" stroke="#231f20" letter-spacing="0.3"><tspan>****</tspan></text>
<line x1="406.6" y1="456.4" x2="414.6" y2="456.4" stroke="#231f20" stroke-width="0.6"/>
<text x="410.1" y="457.2" font-size="7.2" text-anchor="middle" fill="#231f20" stroke="#231f20" letter-spacing="0.3"><tspan>****</tspan></text>
<text x="471.5" y="441.9" font-size="6.5" text-anchor="middle" fill="#231f20" stroke="#231f20"><tspan>CCR6</tspan><tspan font-size="4.0" dy="-2.5">+</tspan><tspan dy="2.5"> (%)</tspan></text>
<line x1="446.4" y1="454.4" x2="446.4" y2="501.0" stroke="#444" stroke-width="0.6"/>
<line x1="444.8" y1="500.6" x2="446.4" y2="500.6" stroke="#444" stroke-width="0.5"/>
<text x="443.8" y="502.9" font-size="6.5" text-anchor="end" fill="#231f20" stroke="#231f20"><tspan>0</tspan></text>
<line x1="444.8" y1="491.5" x2="446.4" y2="491.5" stroke="#444" stroke-width="0.5"/>
<text x="443.8" y="493.8" font-size="6.5" text-anchor="end" fill="#231f20" stroke="#231f20"><tspan>20</tspan></text>
<line x1="444.8" y1="482.3" x2="446.4" y2="482.3" stroke="#444" stroke-width="0.5"/>
<text x="443.8" y="484.7" font-size="6.5" text-anchor="end" fill="#231f20" stroke="#231f20"><tspan>40</tspan></text>
<line x1="444.8" y1="473.2" x2="446.4" y2="473.2" stroke="#444" stroke-width="0.5"/>
<text x="443.8" y="475.5" font-size="6.5" text-anchor="end" fill="#231f20" stroke="#231f20"><tspan>60</tspan></text>
<line x1="444.8" y1="464.0" x2="446.4" y2="464.0" stroke="#444" stroke-width="0.5"/>
<text x="443.8" y="466.4" font-size="6.5" text-anchor="end" fill="#231f20" stroke="#231f20"><tspan>80</tspan></text>
<line x1="444.8" y1="454.9" x2="446.4" y2="454.9" stroke="#444" stroke-width="0.5"/>
<text x="443.8" y="457.2" font-size="6.5" text-anchor="end" fill="#231f20" stroke="#231f20"><tspan>100</tspan></text>
<line x1="446.4" y1="501.0" x2="493.3" y2="501.0" stroke="#444" stroke-width="0.6"/>
<rect x="449.4" y="499.2" width="6.4" height="1.4" fill="#fff" stroke="#444" stroke-width="0.6"/>
<line x1="452.6" y1="501.0" x2="452.6" y2="502.4" stroke="#444" stroke-width="0.5"/>
<circle cx="451.9" cy="497.9" r="0.8" fill="#111"/>
<circle cx="452.5" cy="498.3" r="0.8" fill="#111"/>
<circle cx="452.2" cy="498.8" r="0.8" fill="#111"/>
<circle cx="452.3" cy="499.2" r="0.8" fill="#111"/>
<circle cx="452.2" cy="499.7" r="0.8" fill="#111"/>
<circle cx="453.4" cy="500.1" r="0.8" fill="#111"/>
<line x1="452.6" y1="499.5" x2="452.6" y2="499.0" stroke="#222" stroke-width="0.5"/>
<line x1="451.1" y1="499.0" x2="454.1" y2="499.0" stroke="#222" stroke-width="0.5"/>
<line x1="451.1" y1="499.5" x2="454.1" y2="499.5" stroke="#222" stroke-width="0.5"/>
<line x1="450.4" y1="499.2" x2="454.8" y2="499.2" stroke="#222" stroke-width="0.7"/>
<rect x="458.1" y="492.8" width="6.4" height="7.8" fill="#fff" stroke="#444" stroke-width="0.6"/>
<line x1="461.3" y1="501.0" x2="461.3" y2="502.4" stroke="#444" stroke-width="0.5"/>
<circle cx="461.4" cy="490.1" r="0.8" fill="#111"/>
<circle cx="462.8" cy="491.5" r="0.8" fill="#111"/>
<circle cx="463.5" cy="492.4" r="0.8" fill="#111"/>
<circle cx="460.3" cy="492.8" r="0.8" fill="#111"/>
<circle cx="462.6" cy="493.3" r="0.8" fill="#111"/>
<circle cx="462.3" cy="493.7" r="0.8" fill="#111"/>
<circle cx="462.1" cy="494.2" r="0.8" fill="#111"/>
<line x1="461.3" y1="493.5" x2="461.3" y2="492.1" stroke="#222" stroke-width="0.5"/>
<line x1="459.8" y1="492.1" x2="462.8" y2="492.1" stroke="#222" stroke-width="0.5"/>
<line x1="459.8" y1="493.5" x2="462.8" y2="493.5" stroke="#222" stroke-width="0.5"/>
<line x1="459.1" y1="492.8" x2="463.5" y2="492.8" stroke="#222" stroke-width="0.7"/>
<rect x="466.9" y="481.4" width="6.4" height="19.2" fill="#fff" stroke="#444" stroke-width="0.6"/>
<line x1="470.1" y1="501.0" x2="470.1" y2="502.4" stroke="#444" stroke-width="0.5"/>
<circle cx="468.5" cy="474.1" r="0.8" fill="#111"/>
<circle cx="470.9" cy="476.8" r="0.8" fill="#111"/>
<circle cx="469.3" cy="478.7" r="0.8" fill="#111"/>
<circle cx="468.6" cy="480.5" r="0.8" fill="#111"/>
<circle cx="470.0" cy="482.3" r="0.8" fill="#111"/>
<circle cx="470.1" cy="483.2" r="0.8" fill="#111"/>
<circle cx="470.0" cy="484.6" r="0.8" fill="#111"/>
<circle cx="469.9" cy="487.8" r="0.8" fill="#111"/>
<circle cx="469.0" cy="491.5" r="0.8" fill="#111"/>
<line x1="470.1" y1="482.8" x2="470.1" y2="480.0" stroke="#222" stroke-width="0.5"/>
<line x1="468.6" y1="480.0" x2="471.6" y2="480.0" stroke="#222" stroke-width="0.5"/>
<line x1="468.6" y1="482.8" x2="471.6" y2="482.8" stroke="#222" stroke-width="0.5"/>
<line x1="467.9" y1="481.4" x2="472.3" y2="481.4" stroke="#222" stroke-width="0.7"/>
<rect x="475.6" y="459.5" width="6.4" height="41.1" fill="#fff" stroke="#444" stroke-width="0.6"/>
<line x1="478.8" y1="501.0" x2="478.8" y2="502.4" stroke="#444" stroke-width="0.5"/>
<circle cx="479.7" cy="455.4" r="0.8" fill="#f0141e"/>
<circle cx="480.2" cy="456.3" r="0.8" fill="#f0141e"/>
<circle cx="478.9" cy="457.2" r="0.8" fill="#f0141e"/>
<circle cx="478.9" cy="458.6" r="0.8" fill="#f0141e"/>
<circle cx="478.3" cy="459.5" r="0.8" fill="#f0141e"/>
<circle cx="481.2" cy="461.3" r="0.8" fill="#f0141e"/>
<circle cx="477.8" cy="464.0" r="0.8" fill="#f0141e"/>
<line x1="478.8" y1="460.4" x2="478.8" y2="458.6" stroke="#222" stroke-width="0.5"/>
<line x1="477.3" y1="458.6" x2="480.3" y2="458.6" stroke="#222" stroke-width="0.5"/>
<line x1="477.3" y1="460.4" x2="480.3" y2="460.4" stroke="#222" stroke-width="0.5"/>
<line x1="476.6" y1="459.5" x2="481.0" y2="459.5" stroke="#222" stroke-width="0.7"/>
<rect x="484.4" y="466.8" width="6.4" height="33.8" fill="#fff" stroke="#444" stroke-width="0.6"/>
<line x1="487.6" y1="501.0" x2="487.6" y2="502.4" stroke="#444" stroke-width="0.5"/>
<circle cx="489.6" cy="464.0" r="0.8" fill="#f0141e"/>
<circle cx="488.5" cy="465.0" r="0.8" fill="#f0141e"/>
<circle cx="488.9" cy="465.9" r="0.8" fill="#f0141e"/>
<circle cx="489.6" cy="466.8" r="0.8" fill="#f0141e"/>
<circle cx="486.4" cy="467.2" r="0.8" fill="#f0141e"/>
<line x1="487.6" y1="467.5" x2="487.6" y2="466.1" stroke="#222" stroke-width="0.5"/>
<line x1="486.1" y1="466.1" x2="489.1" y2="466.1" stroke="#222" stroke-width="0.5"/>
<line x1="486.1" y1="467.5" x2="489.1" y2="467.5" stroke="#222" stroke-width="0.5"/>
<line x1="485.4" y1="466.8" x2="489.8" y2="466.8" stroke="#222" stroke-width="0.7"/>
<line x1="446.4" y1="497.8" x2="491.5" y2="497.8" stroke="#888" stroke-width="0.5"/>
<line x1="470.0" y1="448.1" x2="488.3" y2="448.1" stroke="#231f20" stroke-width="0.6"/>
<text x="479.1" y="449.1" font-size="7.2" text-anchor="middle" fill="#231f20" stroke="#231f20" letter-spacing="0.3"><tspan>****</tspan></text>
<line x1="470.0" y1="453.0" x2="478.8" y2="453.0" stroke="#231f20" stroke-width="0.6"/>
<text x="474.6" y="454.1" font-size="7.2" text-anchor="middle" fill="#231f20" stroke="#231f20" letter-spacing="0.3"><tspan>****</tspan></text>
<text x="113.3" y="529.0" font-size="11" font-weight="bold" fill="#000">k</text>
<text x="157.4" y="532.2" font-size="6.5" text-anchor="middle" fill="#f0141e" stroke="#f0141e"><tspan>TGM1–IL-2(WT)</tspan></text>
<text x="244.6" y="532.0" font-size="6.5" text-anchor="middle" fill="#e61ee6" stroke="#e61ee6"><tspan>TGM1–IL-2(DN)</tspan></text>
<text x="136.3" y="542.0" font-size="6.5" text-anchor="middle" fill="#231f20" stroke="#231f20"><tspan>RORγt</tspan></text>
<text x="136.3" y="550.0" font-size="6.5" text-anchor="middle" fill="#231f20" stroke="#231f20"><tspan>-BV650</tspan></text>
<text x="180.8" y="542.0" font-size="6.5" text-anchor="middle" fill="#231f20" stroke="#231f20"><tspan>c-MAF</tspan></text>
<text x="180.8" y="550.0" font-size="6.5" text-anchor="middle" fill="#231f20" stroke="#231f20"><tspan>-FITC</tspan></text>
<text x="224.2" y="542.0" font-size="6.5" text-anchor="middle" fill="#231f20" stroke="#231f20"><tspan>CXCR6</tspan></text>
<text x="224.2" y="550.0" font-size="6.5" text-anchor="middle" fill="#231f20" stroke="#231f20"><tspan>-PE-cf594</tspan></text>
<text x="267.3" y="542.0" font-size="6.5" text-anchor="middle" fill="#231f20" stroke="#231f20"><tspan>CCR6</tspan></text>
<text x="267.3" y="550.0" font-size="6.5" text-anchor="middle" fill="#231f20" stroke="#231f20"><tspan>-BV605</tspan></text>
<path d="M115.1,582.8 L115.1,582.8 L116.0,582.8 L116.9,582.8 L117.8,582.8 L118.7,582.8 L119.6,582.8 L120.5,582.7 L121.4,582.7 L122.3,582.5 L123.2,582.4 L124.1,582.1 L125.0,581.9 L125.9,581.6 L126.9,581.4 L127.8,581.3 L128.7,581.3 L129.6,581.5 L130.5,581.5 L131.4,581.0 L132.3,579.3 L133.2,576.8 L134.1,575.6 L135.0,576.9 L135.9,579.5 L136.8,581.2 L137.7,581.3 L138.6,580.1 L139.5,577.7 L140.4,574.2 L141.3,570.0 L142.2,565.7 L143.1,562.7 L144.0,561.8 L144.9,563.4 L145.8,566.9 L146.7,571.3 L147.7,575.4 L148.6,578.6 L149.5,580.7 L150.4,581.8 L151.3,582.4 L152.2,582.7 L153.1,582.8 L154.0,582.8 L154.9,582.8 L155.8,582.8 L156.7,582.8 L157.6,582.8 L158.5,582.8 L158.5,582.8 Z" fill="#f47a7a" fill-opacity="0.4" stroke="#f04848" stroke-width="0.5"/>
<path d="M115.1,596.6 L115.1,596.6 L116.0,596.6 L116.9,596.6 L117.8,596.6 L118.7,596.6 L119.6,596.6 L120.5,596.6 L121.4,596.6 L122.3,596.6 L123.2,596.6 L124.1,596.6 L125.0,596.6 L125.9,596.6 L126.9,596.6 L127.8,596.5 L128.7,596.4 L129.6,595.9 L130.5,594.3 L131.4,590.5 L132.3,584.6 L133.2,580.2 L134.1,580.9 L135.0,585.5 L135.9,589.7 L136.8,591.9 L137.7,592.9 L138.6,593.4 L139.5,593.9 L140.4,594.3 L141.3,594.4 L142.2,594.5 L143.1,594.4 L144.0,594.5 L144.9,594.6 L145.8,594.9 L146.7,595.3 L147.7,595.6 L148.6,596.0 L149.5,596.2 L150.4,596.4 L151.3,596.5 L152.2,596.6 L153.1,596.6 L154.0,596.6 L154.9,596.6 L155.8,596.6 L156.7,596.6 L157.6,596.6 L158.5,596.6 L158.5,596.6 Z" fill="#ff50ff" fill-opacity="0.35" stroke="#e020e0" stroke-width="0.5"/>
<path d="M158.5,582.8 L158.5,582.8 L159.4,582.8 L160.3,582.8 L161.2,582.8 L162.2,582.8 L163.1,582.8 L164.0,582.8 L164.9,582.8 L165.8,582.8 L166.8,582.8 L167.7,582.8 L168.6,582.8 L169.5,582.8 L170.4,582.8 L171.3,582.8 L172.2,582.8 L173.2,582.8 L174.1,582.8 L175.0,582.8 L175.9,582.8 L176.8,582.8 L177.8,582.8 L178.7,582.7 L179.6,582.2 L180.5,580.8 L181.4,577.3 L182.3,571.2 L183.2,563.9 L184.2,559.2 L185.1,560.0 L186.0,565.8 L186.9,573.1 L187.8,578.5 L188.8,581.3 L189.7,582.4 L190.6,582.7 L191.5,582.8 L192.4,582.8 L193.3,582.8 L194.2,582.8 L195.2,582.8 L196.1,582.8 L197.0,582.8 L197.9,582.8 L198.8,582.8 L199.8,582.8 L200.7,582.8 L201.6,582.8 L202.5,582.8 L202.5,582.8 Z" fill="#f47a7a" fill-opacity="0.4" stroke="#f04848" stroke-width="0.5"/>
<path d="M158.5,596.6 L158.5,596.6 L159.4,596.6 L160.3,596.6 L161.2,596.6 L162.2,596.6 L163.1,596.6 L164.0,596.6 L164.9,596.6 L165.8,596.6 L166.8,596.6 L167.7,596.6 L168.6,596.6 L169.5,596.6 L170.4,596.6 L171.3,596.6 L172.2,596.6 L173.2,596.6 L174.1,596.6 L175.0,596.6 L175.9,596.6 L176.8,596.6 L177.8,596.6 L178.7,596.6 L179.6,596.6 L180.5,596.4 L181.4,595.9 L182.3,594.2 L183.2,590.9 L184.2,586.9 L185.1,584.5 L186.0,585.3 L186.9,587.3 L187.8,588.4 L188.8,589.7 L189.7,592.6 L190.6,595.2 L191.5,596.3 L192.4,596.6 L193.3,596.6 L194.2,596.6 L195.2,596.6 L196.1,596.6 L197.0,596.6 L197.9,596.6 L198.8,596.6 L199.8,596.6 L200.7,596.6 L201.6,596.6 L202.5,596.6 L202.5,596.6 Z" fill="#ff50ff" fill-opacity="0.35" stroke="#e020e0" stroke-width="0.5"/>
<path d="M202.5,582.8 L202.5,582.8 L203.4,582.8 L204.3,582.8 L205.2,582.8 L206.2,582.8 L207.1,582.8 L208.0,582.8 L208.9,582.8 L209.8,582.8 L210.7,582.8 L211.6,582.8 L212.6,582.6 L213.5,582.0 L214.4,580.2 L215.3,576.8 L216.2,573.2 L217.1,572.0 L218.0,573.9 L219.0,576.9 L219.9,578.7 L220.8,579.3 L221.7,579.5 L222.6,579.8 L223.5,579.9 L224.4,579.5 L225.4,578.4 L226.3,576.9 L227.2,575.0 L228.1,572.9 L229.0,570.8 L229.9,568.6 L230.9,566.2 L231.8,563.6 L232.7,561.0 L233.6,558.8 L234.5,557.7 L235.4,558.1 L236.3,560.1 L237.3,563.5 L238.2,567.6 L239.1,571.7 L240.0,575.4 L240.9,578.2 L241.8,580.2 L242.7,581.4 L243.7,582.1 L244.6,582.5 L245.5,582.7 L246.4,582.8 L246.4,582.8 Z" fill="#f47a7a" fill-opacity="0.4" stroke="#f04848" stroke-width="0.5"/>
<path d="M202.5,596.6 L202.5,596.6 L203.4,596.6 L204.3,596.6 L205.2,596.6 L206.2,596.6 L207.1,596.6 L208.0,596.6 L208.9,596.6 L209.8,596.6 L210.7,596.6 L211.6,596.6 L212.6,596.6 L213.5,596.4 L214.4,595.1 L215.3,591.0 L216.2,585.1 L217.1,583.4 L218.0,588.1 L219.0,593.5 L219.9,595.9 L220.8,596.5 L221.7,596.5 L222.6,596.4 L223.5,596.2 L224.4,596.0 L225.4,595.8 L226.3,595.6 L227.2,595.4 L228.1,595.4 L229.0,595.5 L229.9,595.6 L230.9,595.7 L231.8,595.7 L232.7,595.5 L233.6,595.3 L234.5,595.1 L235.4,595.2 L236.3,595.5 L237.3,595.8 L238.2,596.2 L239.1,596.4 L240.0,596.5 L240.9,596.6 L241.8,596.6 L242.7,596.6 L243.7,596.6 L244.6,596.6 L245.5,596.6 L246.4,596.6 L246.4,596.6 Z" fill="#ff50ff" fill-opacity="0.35" stroke="#e020e0" stroke-width="0.5"/>
<path d="M246.4,582.8 L246.4,582.8 L247.3,582.8 L248.2,582.8 L249.1,582.8 L250.1,582.8 L251.0,582.8 L251.9,582.7 L252.8,582.6 L253.7,582.3 L254.6,581.8 L255.5,580.9 L256.4,579.5 L257.4,577.6 L258.3,575.3 L259.2,572.8 L260.1,570.7 L261.0,569.5 L261.9,569.4 L262.8,570.5 L263.7,572.5 L264.6,574.6 L265.6,575.9 L266.5,575.5 L267.4,572.6 L268.3,567.8 L269.2,562.8 L270.1,560.6 L271.0,562.6 L271.9,567.8 L272.9,573.7 L273.8,578.3 L274.7,581.0 L275.6,582.2 L276.5,582.6 L277.4,582.8 L278.3,582.8 L279.2,582.8 L280.2,582.8 L281.1,582.8 L282.0,582.8 L282.9,582.8 L283.8,582.8 L284.7,582.8 L285.6,582.8 L286.6,582.8 L287.5,582.8 L288.4,582.8 L289.3,582.8 L290.2,582.8 L290.2,582.8 Z" fill="#f47a7a" fill-opacity="0.4" stroke="#f04848" stroke-width="0.5"/>
<path d="M246.4,596.6 L246.4,596.6 L247.3,596.6 L248.2,596.6 L249.1,596.6 L250.1,596.6 L251.0,596.6 L251.9,596.6 L252.8,596.6 L253.7,596.6 L254.6,596.6 L255.5,596.4 L256.4,595.9 L257.4,594.7 L258.3,592.2 L259.2,588.5 L260.1,584.5 L261.0,581.9 L261.9,582.1 L262.8,585.0 L263.7,589.0 L264.6,592.6 L265.6,594.8 L266.5,595.8 L267.4,595.7 L268.3,594.7 L269.2,593.5 L270.1,593.1 L271.0,593.8 L271.9,595.1 L272.9,596.0 L273.8,596.5 L274.7,596.6 L275.6,596.6 L276.5,596.6 L277.4,596.6 L278.3,596.6 L279.2,596.6 L280.2,596.6 L281.1,596.6 L282.0,596.6 L282.9,596.6 L283.8,596.6 L284.7,596.6 L285.6,596.6 L286.6,596.6 L287.5,596.6 L288.4,596.6 L289.3,596.6 L290.2,596.6 L290.2,596.6 Z" fill="#ff50ff" fill-opacity="0.35" stroke="#e020e0" stroke-width="0.5"/>
<line x1="115.1" y1="582.8" x2="290.2" y2="582.8" stroke="#f27070" stroke-width="0.5"/>
<line x1="115.1" y1="596.3" x2="290.2" y2="596.3" stroke="#e050e0" stroke-width="0.5"/>
<rect x="115.1" y="552.8" width="175.1" height="43.8" fill="none" stroke="#222" stroke-width="0.6"/>
<line x1="158.5" y1="552.8" x2="158.5" y2="596.6" stroke="#222" stroke-width="0.6"/>
<line x1="202.5" y1="552.8" x2="202.5" y2="596.6" stroke="#222" stroke-width="0.6"/>
<line x1="246.4" y1="552.8" x2="246.4" y2="596.6" stroke="#222" stroke-width="0.6"/>
<line x1="137.4" y1="552.8" x2="137.4" y2="596.6" stroke="#222" stroke-width="0.6"/>
<line x1="223.5" y1="552.8" x2="223.5" y2="596.6" stroke="#222" stroke-width="0.6"/>
<line x1="266.5" y1="552.8" x2="266.5" y2="596.6" stroke="#222" stroke-width="0.6"/>
<g transform="translate(121.1,603.7) rotate(-45)"><text x="0" y="0" font-size="7.0" text-anchor="end" fill="#231f20" stroke="#231f20">10</text><text x="0.3" y="-2.9" font-size="4.2" fill="#231f20" stroke="#231f20">−3</text></g>
<g transform="translate(128.4,603.7) rotate(-45)"><text x="0" y="0" font-size="7.0" text-anchor="end" fill="#231f20" stroke="#231f20">10</text><text x="0.3" y="-2.9" font-size="4.2" fill="#231f20" stroke="#231f20">0</text></g>
<g transform="translate(137.9,603.7) rotate(-45)"><text x="0" y="0" font-size="7.0" text-anchor="end" fill="#231f20" stroke="#231f20">10</text><text x="0.3" y="-2.9" font-size="4.2" fill="#231f20" stroke="#231f20">3</text></g>
<g transform="translate(151.7,603.7) rotate(-45)"><text x="0" y="0" font-size="7.0" text-anchor="end" fill="#231f20" stroke="#231f20">10</text><text x="0.3" y="-2.9" font-size="4.2" fill="#231f20" stroke="#231f20">4</text></g>
<g transform="translate(171.4,603.7) rotate(-45)"><text x="0" y="0" font-size="7.0" text-anchor="end" fill="#231f20" stroke="#231f20">10</text><text x="0.3" y="-2.9" font-size="4.2" fill="#231f20" stroke="#231f20">3</text></g>
<g transform="translate(189.7,603.7) rotate(-45)"><text x="0" y="0" font-size="7.0" text-anchor="end" fill="#231f20" stroke="#231f20">10</text><text x="0.3" y="-2.9" font-size="4.2" fill="#231f20" stroke="#231f20">4</text></g>
<g transform="translate(199.2,603.7) rotate(-45)"><text x="0" y="0" font-size="7.0" text-anchor="end" fill="#231f20" stroke="#231f20">10</text><text x="0.3" y="-2.9" font-size="4.2" fill="#231f20" stroke="#231f20">5</text></g>
<g transform="translate(218.5,603.7) rotate(-45)"><text x="0" y="0" font-size="7.0" text-anchor="end" fill="#231f20" stroke="#231f20">10</text><text x="0.3" y="-2.9" font-size="4.2" fill="#231f20" stroke="#231f20">3</text></g>
<g transform="translate(233.1,603.7) rotate(-45)"><text x="0" y="0" font-size="7.0" text-anchor="end" fill="#231f20" stroke="#231f20">10</text><text x="0.3" y="-2.9" font-size="4.2" fill="#231f20" stroke="#231f20">4</text></g>
<g transform="translate(242.6,603.7) rotate(-45)"><text x="0" y="0" font-size="7.0" text-anchor="end" fill="#231f20" stroke="#231f20">10</text><text x="0.3" y="-2.9" font-size="4.2" fill="#231f20" stroke="#231f20">5</text></g>
<g transform="translate(257.9,603.7) rotate(-45)"><text x="0" y="0" font-size="7.0" text-anchor="end" fill="#231f20" stroke="#231f20">10</text><text x="0.3" y="-2.9" font-size="4.2" fill="#231f20" stroke="#231f20">3</text></g>
<g transform="translate(275.4,603.7) rotate(-45)"><text x="0" y="0" font-size="7.0" text-anchor="end" fill="#231f20" stroke="#231f20">10</text><text x="0.3" y="-2.9" font-size="4.2" fill="#231f20" stroke="#231f20">4</text></g>
<g transform="translate(287.1,603.7) rotate(-45)"><text x="0" y="0" font-size="7.0" text-anchor="end" fill="#231f20" stroke="#231f20">10</text><text x="0.3" y="-2.9" font-size="4.2" fill="#231f20" stroke="#231f20">5</text></g>
<text x="325.7" y="539.8" font-size="6.5" text-anchor="middle" fill="#231f20" stroke="#231f20"><tspan>RORγt</tspan><tspan font-size="4.0" dy="-2.5">+</tspan><tspan dy="2.5"> (%)</tspan></text>
<line x1="314.1" y1="549.7" x2="314.1" y2="596.9" stroke="#444" stroke-width="0.6"/>
<line x1="312.5" y1="596.5" x2="314.1" y2="596.5" stroke="#444" stroke-width="0.5"/>
<text x="311.5" y="598.8" font-size="6.5" text-anchor="end" fill="#231f20" stroke="#231f20"><tspan>0</tspan></text>
<line x1="312.5" y1="587.2" x2="314.1" y2="587.2" stroke="#444" stroke-width="0.5"/>
<text x="311.5" y="589.6" font-size="6.5" text-anchor="end" fill="#231f20" stroke="#231f20"><tspan>20</tspan></text>
<line x1="312.5" y1="578.0" x2="314.1" y2="578.0" stroke="#444" stroke-width="0.5"/>
<text x="311.5" y="580.3" font-size="6.5" text-anchor="end" fill="#231f20" stroke="#231f20"><tspan>40</tspan></text>
<line x1="312.5" y1="568.7" x2="314.1" y2="568.7" stroke="#444" stroke-width="0.5"/>
<text x="311.5" y="571.1" font-size="6.5" text-anchor="end" fill="#231f20" stroke="#231f20"><tspan>60</tspan></text>
<line x1="312.5" y1="559.5" x2="314.1" y2="559.5" stroke="#444" stroke-width="0.5"/>
<text x="311.5" y="561.8" font-size="6.5" text-anchor="end" fill="#231f20" stroke="#231f20"><tspan>80</tspan></text>
<line x1="312.5" y1="550.2" x2="314.1" y2="550.2" stroke="#444" stroke-width="0.5"/>
<text x="311.5" y="552.5" font-size="6.5" text-anchor="end" fill="#231f20" stroke="#231f20"><tspan>100</tspan></text>
<line x1="314.1" y1="596.9" x2="336.8" y2="596.9" stroke="#444" stroke-width="0.6"/>
<rect x="317.3" y="564.1" width="6.9" height="32.4" fill="#fff" stroke="#444" stroke-width="0.6"/>
<line x1="320.8" y1="596.9" x2="320.8" y2="598.3" stroke="#444" stroke-width="0.5"/>
<circle cx="319.0" cy="557.6" r="0.8" fill="#f0141e"/>
<circle cx="321.7" cy="558.5" r="0.8" fill="#f0141e"/>
<circle cx="321.5" cy="559.5" r="0.8" fill="#f0141e"/>
<circle cx="320.6" cy="559.9" r="0.8" fill="#f0141e"/>
<circle cx="319.3" cy="560.4" r="0.8" fill="#f0141e"/>
<circle cx="322.3" cy="560.8" r="0.8" fill="#f0141e"/>
<circle cx="322.4" cy="561.3" r="0.8" fill="#f0141e"/>
<circle cx="320.8" cy="561.8" r="0.8" fill="#f0141e"/>
<circle cx="320.8" cy="562.2" r="0.8" fill="#f0141e"/>
<circle cx="319.4" cy="562.7" r="0.8" fill="#f0141e"/>
<circle cx="318.1" cy="563.2" r="0.8" fill="#f0141e"/>
<circle cx="320.1" cy="563.6" r="0.8" fill="#f0141e"/>
<circle cx="321.2" cy="564.1" r="0.8" fill="#f0141e"/>
<circle cx="318.5" cy="565.0" r="0.8" fill="#f0141e"/>
<circle cx="322.3" cy="565.9" r="0.8" fill="#f0141e"/>
<circle cx="319.3" cy="566.9" r="0.8" fill="#f0141e"/>
<circle cx="319.3" cy="567.8" r="0.8" fill="#f0141e"/>
<circle cx="318.4" cy="568.7" r="0.8" fill="#f0141e"/>
<circle cx="323.4" cy="569.6" r="0.8" fill="#f0141e"/>
<circle cx="322.0" cy="570.6" r="0.8" fill="#f0141e"/>
<line x1="320.8" y1="565.5" x2="320.8" y2="562.7" stroke="#222" stroke-width="0.5"/>
<line x1="319.2" y1="562.7" x2="322.2" y2="562.7" stroke="#222" stroke-width="0.5"/>
<line x1="319.2" y1="565.5" x2="322.2" y2="565.5" stroke="#222" stroke-width="0.5"/>
<line x1="318.6" y1="564.1" x2="322.9" y2="564.1" stroke="#222" stroke-width="0.7"/>
<rect x="327.4" y="582.1" width="6.9" height="14.4" fill="#fff" stroke="#444" stroke-width="0.6"/>
<line x1="330.8" y1="596.9" x2="330.8" y2="598.3" stroke="#444" stroke-width="0.5"/>
<circle cx="333.2" cy="574.3" r="0.8" fill="#e61ee6"/>
<circle cx="328.9" cy="576.1" r="0.8" fill="#e61ee6"/>
<circle cx="328.3" cy="578.0" r="0.8" fill="#e61ee6"/>
<circle cx="333.4" cy="579.8" r="0.8" fill="#e61ee6"/>
<circle cx="329.1" cy="580.8" r="0.8" fill="#e61ee6"/>
<circle cx="328.8" cy="581.7" r="0.8" fill="#e61ee6"/>
<circle cx="331.6" cy="582.6" r="0.8" fill="#e61ee6"/>
<circle cx="330.0" cy="583.1" r="0.8" fill="#e61ee6"/>
<circle cx="332.8" cy="583.5" r="0.8" fill="#e61ee6"/>
<circle cx="329.4" cy="584.5" r="0.8" fill="#e61ee6"/>
<circle cx="333.2" cy="585.4" r="0.8" fill="#e61ee6"/>
<circle cx="329.9" cy="586.3" r="0.8" fill="#e61ee6"/>
<circle cx="331.3" cy="587.2" r="0.8" fill="#e61ee6"/>
<circle cx="333.1" cy="588.2" r="0.8" fill="#e61ee6"/>
<line x1="330.8" y1="583.5" x2="330.8" y2="580.8" stroke="#222" stroke-width="0.5"/>
<line x1="329.3" y1="580.8" x2="332.3" y2="580.8" stroke="#222" stroke-width="0.5"/>
<line x1="329.3" y1="583.5" x2="332.3" y2="583.5" stroke="#222" stroke-width="0.5"/>
<line x1="328.6" y1="582.1" x2="333.0" y2="582.1" stroke="#222" stroke-width="0.7"/>
<text x="325.1" y="554.9" font-size="7.2" text-anchor="middle" fill="#231f20" stroke="#231f20" letter-spacing="0.3"><tspan>****</tspan></text>
<text x="376.4" y="539.8" font-size="6.5" text-anchor="middle" fill="#231f20" stroke="#231f20"><tspan>c-MAF MFI</tspan></text>
<line x1="364.7" y1="549.7" x2="364.7" y2="596.9" stroke="#444" stroke-width="0.6"/>
<line x1="363.1" y1="596.5" x2="364.7" y2="596.5" stroke="#444" stroke-width="0.5"/>
<text x="362.1" y="598.8" font-size="6.5" text-anchor="end" fill="#231f20" stroke="#231f20"><tspan>0</tspan></text>
<line x1="363.1" y1="584.9" x2="364.7" y2="584.9" stroke="#444" stroke-width="0.5"/>
<text x="362.1" y="587.3" font-size="6.5" text-anchor="end" fill="#231f20" stroke="#231f20"><tspan>3</tspan></text>
<line x1="363.1" y1="573.4" x2="364.7" y2="573.4" stroke="#444" stroke-width="0.5"/>
<text x="362.1" y="575.7" font-size="6.5" text-anchor="end" fill="#231f20" stroke="#231f20"><tspan>6</tspan></text>
<line x1="363.1" y1="561.8" x2="364.7" y2="561.8" stroke="#444" stroke-width="0.5"/>
<text x="362.1" y="564.1" font-size="6.5" text-anchor="end" fill="#231f20" stroke="#231f20"><tspan>9</tspan></text>
<line x1="363.1" y1="550.2" x2="364.7" y2="550.2" stroke="#444" stroke-width="0.5"/>
<text x="362.1" y="552.5" font-size="6.5" text-anchor="end" fill="#231f20" stroke="#231f20"><tspan>12</tspan></text>
<line x1="364.7" y1="596.9" x2="387.2" y2="596.9" stroke="#444" stroke-width="0.6"/>
<rect x="367.9" y="562.9" width="6.7" height="33.6" fill="#fff" stroke="#444" stroke-width="0.6"/>
<line x1="371.2" y1="596.9" x2="371.2" y2="598.3" stroke="#444" stroke-width="0.5"/>
<circle cx="373.4" cy="559.8" r="0.8" fill="#f0141e"/>
<circle cx="373.5" cy="561.8" r="0.8" fill="#f0141e"/>
<circle cx="373.2" cy="562.5" r="0.8" fill="#f0141e"/>
<circle cx="369.1" cy="562.9" r="0.8" fill="#f0141e"/>
<circle cx="371.7" cy="563.3" r="0.8" fill="#f0141e"/>
<circle cx="370.9" cy="563.7" r="0.8" fill="#f0141e"/>
<circle cx="371.4" cy="564.1" r="0.8" fill="#f0141e"/>
<line x1="371.2" y1="563.7" x2="371.2" y2="562.2" stroke="#222" stroke-width="0.5"/>
<line x1="369.8" y1="562.2" x2="372.8" y2="562.2" stroke="#222" stroke-width="0.5"/>
<line x1="369.8" y1="563.7" x2="372.8" y2="563.7" stroke="#222" stroke-width="0.5"/>
<line x1="369.1" y1="562.9" x2="373.4" y2="562.9" stroke="#222" stroke-width="0.7"/>
<rect x="378.0" y="561.0" width="6.7" height="35.5" fill="#fff" stroke="#444" stroke-width="0.6"/>
<line x1="381.4" y1="596.9" x2="381.4" y2="598.3" stroke="#444" stroke-width="0.5"/>
<circle cx="382.4" cy="560.2" r="0.8" fill="#e61ee6"/>
<circle cx="383.1" cy="560.6" r="0.8" fill="#e61ee6"/>
<circle cx="379.7" cy="561.0" r="0.8" fill="#e61ee6"/>
<circle cx="383.9" cy="561.4" r="0.8" fill="#e61ee6"/>
<line x1="381.4" y1="561.4" x2="381.4" y2="560.6" stroke="#222" stroke-width="0.5"/>
<line x1="379.9" y1="560.6" x2="382.9" y2="560.6" stroke="#222" stroke-width="0.5"/>
<line x1="379.9" y1="561.4" x2="382.9" y2="561.4" stroke="#222" stroke-width="0.5"/>
<line x1="379.2" y1="561.0" x2="383.6" y2="561.0" stroke="#222" stroke-width="0.7"/>
<text x="377.2" y="550.3" font-size="6.5" text-anchor="middle" fill="#231f20" stroke="#231f20"><tspan>NS</tspan></text>
<g transform="translate(347.0,573.2) rotate(-90)"><text x="0" y="2.2" font-size="6.2" text-anchor="middle" fill="#231f20" stroke="#231f20"><tspan>(×10</tspan><tspan font-size="3.8" dy="-2.4">3</tspan><tspan dy="2.4">)</tspan></text></g>
<text x="419.7" y="539.8" font-size="6.5" text-anchor="middle" fill="#231f20" stroke="#231f20"><tspan>CXCR6</tspan><tspan font-size="4.0" dy="-2.5">+</tspan><tspan dy="2.5"> (%)</tspan></text>
<line x1="408.5" y1="549.7" x2="408.5" y2="596.9" stroke="#444" stroke-width="0.6"/>
<line x1="406.9" y1="596.5" x2="408.5" y2="596.5" stroke="#444" stroke-width="0.5"/>
<text x="405.9" y="598.8" font-size="6.5" text-anchor="end" fill="#231f20" stroke="#231f20"><tspan>0</tspan></text>
<line x1="406.9" y1="587.2" x2="408.5" y2="587.2" stroke="#444" stroke-width="0.5"/>
<text x="405.9" y="589.6" font-size="6.5" text-anchor="end" fill="#231f20" stroke="#231f20"><tspan>20</tspan></text>
<line x1="406.9" y1="578.0" x2="408.5" y2="578.0" stroke="#444" stroke-width="0.5"/>
<text x="405.9" y="580.3" font-size="6.5" text-anchor="end" fill="#231f20" stroke="#231f20"><tspan>40</tspan></text>
<line x1="406.9" y1="568.7" x2="408.5" y2="568.7" stroke="#444" stroke-width="0.5"/>
<text x="405.9" y="571.1" font-size="6.5" text-anchor="end" fill="#231f20" stroke="#231f20"><tspan>60</tspan></text>
<line x1="406.9" y1="559.5" x2="408.5" y2="559.5" stroke="#444" stroke-width="0.5"/>
<text x="405.9" y="561.8" font-size="6.5" text-anchor="end" fill="#231f20" stroke="#231f20"><tspan>80</tspan></text>
<line x1="406.9" y1="550.2" x2="408.5" y2="550.2" stroke="#444" stroke-width="0.5"/>
<text x="405.9" y="552.5" font-size="6.5" text-anchor="end" fill="#231f20" stroke="#231f20"><tspan>100</tspan></text>
<line x1="408.5" y1="596.9" x2="430.8" y2="596.9" stroke="#444" stroke-width="0.6"/>
<rect x="411.7" y="560.8" width="6.9" height="35.7" fill="#fff" stroke="#444" stroke-width="0.6"/>
<line x1="415.1" y1="596.9" x2="415.1" y2="598.3" stroke="#444" stroke-width="0.5"/>
<circle cx="414.5" cy="559.9" r="0.8" fill="#f0141e"/>
<circle cx="417.4" cy="560.4" r="0.8" fill="#f0141e"/>
<circle cx="417.0" cy="560.8" r="0.8" fill="#f0141e"/>
<circle cx="413.7" cy="561.3" r="0.8" fill="#f0141e"/>
<circle cx="417.1" cy="561.8" r="0.8" fill="#f0141e"/>
<circle cx="415.9" cy="562.7" r="0.8" fill="#f0141e"/>
<line x1="415.1" y1="561.3" x2="415.1" y2="560.4" stroke="#222" stroke-width="0.5"/>
<line x1="413.6" y1="560.4" x2="416.6" y2="560.4" stroke="#222" stroke-width="0.5"/>
<line x1="413.6" y1="561.3" x2="416.6" y2="561.3" stroke="#222" stroke-width="0.5"/>
<line x1="412.9" y1="560.8" x2="417.3" y2="560.8" stroke="#222" stroke-width="0.7"/>
<rect x="421.4" y="584.0" width="6.9" height="12.5" fill="#fff" stroke="#444" stroke-width="0.6"/>
<line x1="424.9" y1="596.9" x2="424.9" y2="598.3" stroke="#444" stroke-width="0.5"/>
<circle cx="426.2" cy="579.8" r="0.8" fill="#e61ee6"/>
<circle cx="423.3" cy="582.6" r="0.8" fill="#e61ee6"/>
<circle cx="423.4" cy="586.3" r="0.8" fill="#e61ee6"/>
<circle cx="425.4" cy="587.2" r="0.8" fill="#e61ee6"/>
<line x1="424.9" y1="585.9" x2="424.9" y2="582.1" stroke="#222" stroke-width="0.5"/>
<line x1="423.4" y1="582.1" x2="426.4" y2="582.1" stroke="#222" stroke-width="0.5"/>
<line x1="423.4" y1="585.9" x2="426.4" y2="585.9" stroke="#222" stroke-width="0.5"/>
<line x1="422.7" y1="584.0" x2="427.1" y2="584.0" stroke="#222" stroke-width="0.7"/>
<text x="420.6" y="558.8" font-size="7.2" text-anchor="middle" fill="#231f20" stroke="#231f20" letter-spacing="0.3"><tspan>**</tspan></text>
<text x="463.6" y="539.8" font-size="6.5" text-anchor="middle" fill="#231f20" stroke="#231f20"><tspan>CCR6</tspan><tspan font-size="4.0" dy="-2.5">+</tspan><tspan dy="2.5"> (%)</tspan></text>
<line x1="450.7" y1="549.7" x2="450.7" y2="596.9" stroke="#444" stroke-width="0.6"/>
<line x1="449.1" y1="596.5" x2="450.7" y2="596.5" stroke="#444" stroke-width="0.5"/>
<text x="448.1" y="598.8" font-size="6.5" text-anchor="end" fill="#231f20" stroke="#231f20"><tspan>0</tspan></text>
<line x1="449.1" y1="584.9" x2="450.7" y2="584.9" stroke="#444" stroke-width="0.5"/>
<text x="448.1" y="587.3" font-size="6.5" text-anchor="end" fill="#231f20" stroke="#231f20"><tspan>20</tspan></text>
<line x1="449.1" y1="573.4" x2="450.7" y2="573.4" stroke="#444" stroke-width="0.5"/>
<text x="448.1" y="575.7" font-size="6.5" text-anchor="end" fill="#231f20" stroke="#231f20"><tspan>40</tspan></text>
<line x1="449.1" y1="561.8" x2="450.7" y2="561.8" stroke="#444" stroke-width="0.5"/>
<text x="448.1" y="564.1" font-size="6.5" text-anchor="end" fill="#231f20" stroke="#231f20"><tspan>60</tspan></text>
<line x1="449.1" y1="550.2" x2="450.7" y2="550.2" stroke="#444" stroke-width="0.5"/>
<text x="448.1" y="552.5" font-size="6.5" text-anchor="end" fill="#231f20" stroke="#231f20"><tspan>80</tspan></text>
<line x1="450.7" y1="596.9" x2="475.2" y2="596.9" stroke="#444" stroke-width="0.6"/>
<rect x="455.0" y="567.0" width="7.2" height="29.5" fill="#fff" stroke="#444" stroke-width="0.6"/>
<line x1="458.6" y1="596.9" x2="458.6" y2="598.3" stroke="#444" stroke-width="0.5"/>
<circle cx="459.5" cy="559.5" r="0.8" fill="#f0141e"/>
<circle cx="459.8" cy="560.6" r="0.8" fill="#f0141e"/>
<circle cx="461.2" cy="561.8" r="0.8" fill="#f0141e"/>
<circle cx="457.0" cy="562.9" r="0.8" fill="#f0141e"/>
<circle cx="456.3" cy="564.1" r="0.8" fill="#f0141e"/>
<circle cx="460.4" cy="565.2" r="0.8" fill="#f0141e"/>
<circle cx="457.7" cy="566.4" r="0.8" fill="#f0141e"/>
<circle cx="458.0" cy="567.6" r="0.8" fill="#f0141e"/>
<circle cx="460.4" cy="568.7" r="0.8" fill="#f0141e"/>
<circle cx="456.9" cy="569.9" r="0.8" fill="#f0141e"/>
<circle cx="460.9" cy="571.0" r="0.8" fill="#f0141e"/>
<circle cx="458.6" cy="573.4" r="0.8" fill="#f0141e"/>
<circle cx="456.3" cy="575.7" r="0.8" fill="#f0141e"/>
<circle cx="460.9" cy="583.2" r="0.8" fill="#f0141e"/>
<line x1="458.6" y1="568.7" x2="458.6" y2="565.2" stroke="#222" stroke-width="0.5"/>
<line x1="457.1" y1="565.2" x2="460.1" y2="565.2" stroke="#222" stroke-width="0.5"/>
<line x1="457.1" y1="568.7" x2="460.1" y2="568.7" stroke="#222" stroke-width="0.5"/>
<line x1="456.4" y1="567.0" x2="460.8" y2="567.0" stroke="#222" stroke-width="0.7"/>
<rect x="465.5" y="583.8" width="7.2" height="12.7" fill="#fff" stroke="#444" stroke-width="0.6"/>
<line x1="469.1" y1="596.9" x2="469.1" y2="598.3" stroke="#444" stroke-width="0.5"/>
<circle cx="467.0" cy="574.5" r="0.8" fill="#e61ee6"/>
<circle cx="467.1" cy="576.8" r="0.8" fill="#e61ee6"/>
<circle cx="469.6" cy="579.1" r="0.8" fill="#e61ee6"/>
<circle cx="467.3" cy="580.3" r="0.8" fill="#e61ee6"/>
<circle cx="467.1" cy="581.5" r="0.8" fill="#e61ee6"/>
<circle cx="468.9" cy="582.6" r="0.8" fill="#e61ee6"/>
<circle cx="468.6" cy="583.8" r="0.8" fill="#e61ee6"/>
<circle cx="467.5" cy="584.9" r="0.8" fill="#e61ee6"/>
<circle cx="468.5" cy="586.1" r="0.8" fill="#e61ee6"/>
<circle cx="471.0" cy="587.2" r="0.8" fill="#e61ee6"/>
<circle cx="467.1" cy="588.4" r="0.8" fill="#e61ee6"/>
<circle cx="467.4" cy="589.6" r="0.8" fill="#e61ee6"/>
<circle cx="466.5" cy="590.7" r="0.8" fill="#e61ee6"/>
<line x1="469.1" y1="584.9" x2="469.1" y2="582.6" stroke="#222" stroke-width="0.5"/>
<line x1="467.6" y1="582.6" x2="470.6" y2="582.6" stroke="#222" stroke-width="0.5"/>
<line x1="467.6" y1="584.9" x2="470.6" y2="584.9" stroke="#222" stroke-width="0.5"/>
<line x1="466.9" y1="583.8" x2="471.3" y2="583.8" stroke="#222" stroke-width="0.7"/>
<text x="463.1" y="558.5" font-size="7.2" text-anchor="middle" fill="#231f20" stroke="#231f20" letter-spacing="0.3"><tspan>****</tspan></text>
<text x="-0.7" y="632.8" font-size="11" font-weight="bold" fill="#000">l</text>
<text x="49.9" y="654.1" font-size="6.5" text-anchor="middle" fill="#231f20" stroke="#231f20"><tspan>THY1.1</tspan><tspan font-size="4.0" dy="-2.5">+</tspan><tspan dy="2.5"> naive</tspan></text>
<text x="49.9" y="662.2" font-size="6.5" text-anchor="middle" fill="#231f20" stroke="#231f20"><tspan>OT-II (IV)</tspan></text>
<circle cx="47.4" cy="671.0" r="3.2" fill="#eaa4a4" fill-opacity="0.85"/>
<circle cx="54.0" cy="670.5" r="3.2" fill="#eaa4a4" fill-opacity="0.85"/>
<circle cx="51.0" cy="677.1" r="3.2" fill="#eaa4a4" fill-opacity="0.85"/>
<circle cx="47.4" cy="671.0" r="2.0" fill="#de8082" fill-opacity="0.75"/>
<circle cx="47.4" cy="671.0" r="0.8" fill="#e89a9a" fill-opacity="0.8"/>
<circle cx="54.0" cy="670.5" r="2.0" fill="#de8082" fill-opacity="0.75"/>
<circle cx="54.0" cy="670.5" r="0.8" fill="#e89a9a" fill-opacity="0.8"/>
<circle cx="51.0" cy="677.1" r="2.0" fill="#de8082" fill-opacity="0.75"/>
<circle cx="51.0" cy="677.1" r="0.8" fill="#e89a9a" fill-opacity="0.8"/>
<text x="65.2" y="674.0" font-size="6.5" text-anchor="start" fill="#231f20" stroke="#231f20"><tspan>Day −11</tspan></text>
<path d="M58,675.3 C66,675 72.5,679 73.6,686" fill="none" stroke="#231f20" stroke-width="0.6" />
<path d="M73.7,689.2 L72.0,686.4 L75.4,686.4 Z" fill="#231f20" />
<path d="M56.2,701.9 C55.2,702.1 52.0,702.1 50.5,702.9 C49.0,703.6 47.7,705.2 47.4,706.4 C47.1,707.6 47.4,709.3 48.8,710.0 C50.2,710.7 52.6,711.2 55.8,710.8 C59.0,710.4 66.0,708.2 68.0,707.7" fill="none" stroke="#c98a84" stroke-width="1.2" />
<line x1="81.2" y1="704.2" x2="85.2" y2="705.3" stroke="#c98a84" stroke-width="1.0"/>
<line x1="59.2" y1="704.2" x2="63.2" y2="705.3" stroke="#c98a84" stroke-width="1.0"/>
<path d="M88.2,695.9 C88.1,695.4 87.0,694.7 86.2,694.1 C85.4,693.5 84.2,692.7 83.2,692.1 C82.2,691.5 81.2,690.9 80.2,690.7 C79.2,690.4 78.4,690.5 77.2,690.6 C76.0,690.7 74.9,690.8 73.2,691.1 C71.5,691.4 69.0,691.8 67.2,692.2 C65.4,692.6 63.7,692.8 62.2,693.3 C60.7,693.8 59.4,694.5 58.2,695.4 C57.0,696.2 55.8,697.4 55.2,698.4 C54.6,699.4 54.5,700.6 54.7,701.4 C55.0,702.2 55.3,702.8 56.7,703.1 C58.1,703.5 60.8,703.5 63.2,703.5 C65.6,703.5 68.9,703.4 71.2,703.3 C73.5,703.2 75.5,703.2 77.2,702.9 C78.9,702.6 80.0,702.0 81.2,701.4 C82.4,700.8 83.3,700.1 84.2,699.4 C85.1,698.7 86.0,698.0 86.7,697.4 C87.4,696.8 88.3,696.4 88.2,695.9 Z" fill="#4a4647" />
<ellipse cx="78.7" cy="691.5" rx="1.5" ry="2.0" fill="#3a3637" transform="rotate(20 78.7 690.9)"/>
<ellipse cx="77.4" cy="693.7" rx="1.5" ry="2.0" fill="#c98a84" transform="rotate(-15 77.4 693.7)"/>
<circle cx="83.7" cy="695.1" r="0.6" fill="#111"/>
<circle cx="87.8" cy="695.9" r="0.6" fill="#c98a84"/>
<text x="67.0" y="719.2" font-size="6.5" text-anchor="middle" fill="#231f20" stroke="#231f20"><tspan>C57BL/6</tspan></text>
<path d="M141.7,668 Q150,667.5 160.1,666.3" fill="none" stroke="#c98a84" stroke-width="0.7" />
<line x1="123.0" y1="663.5" x2="121.6" y2="659.3" stroke="#c98a84" stroke-width="0.8"/>
<line x1="123.0" y1="672.5" x2="121.6" y2="676.0" stroke="#c98a84" stroke-width="0.8"/>
<line x1="139.5" y1="663.0" x2="142.2" y2="659.7" stroke="#c98a84" stroke-width="0.8"/>
<line x1="139.5" y1="673.0" x2="142.2" y2="676.0" stroke="#c98a84" stroke-width="0.8"/>
<path d="M115.4,668.0 C115.4,667.1 117.1,665.9 118.0,665.2 C118.9,664.5 120.0,664.1 121.0,663.8 C122.0,663.5 123.0,663.5 124.0,663.2 C125.0,662.9 125.8,662.0 127.0,661.8 C128.2,661.6 129.7,662.2 131.0,662.2 C132.3,662.2 133.7,661.5 135.0,661.5 C136.3,661.5 137.9,661.8 139.0,662.5 C140.1,663.2 141.2,664.2 141.7,665.5 C142.1,666.8 142.1,669.2 141.7,670.5 C141.2,671.8 140.1,672.8 139.0,673.4 C137.9,674.0 136.3,674.2 135.0,674.3 C133.7,674.4 132.3,673.8 131.0,673.8 C129.7,673.8 128.2,674.6 127.0,674.4 C125.8,674.2 125.0,673.2 124.0,672.8 C123.0,672.4 122.0,672.5 121.0,672.2 C120.0,671.9 118.9,671.5 118.0,670.8 C117.1,670.1 115.4,668.9 115.4,668.0 Z" fill="#4a4647" />
<circle cx="119.8" cy="663.8" r="1.1" fill="#c98a84"/>
<circle cx="119.8" cy="672.2" r="1.1" fill="#c98a84"/>
<line x1="118.5" y1="646.1" x2="129.5" y2="660.6" stroke="#b8c0c6" stroke-width="0.7"/>
<line x1="126.0" y1="656.6" x2="129.0" y2="660.1" stroke="#2faa5a" stroke-width="1.2"/>
<defs><linearGradient id="glove" x1="0" y1="0" x2="0" y2="1"><stop offset="0" stop-color="#4a98cc"/><stop offset="0.75" stop-color="#4a9acd"/><stop offset="1" stop-color="#b8dcf0"/></linearGradient></defs>
<path d="M208.0,639.0 C208.8,638.4 210.7,640.5 212.0,641.5 C213.3,642.5 214.7,643.8 216.0,645.0 C217.3,646.2 218.9,647.2 220.0,648.5 C221.1,649.8 222.2,651.1 222.5,653.0 C222.8,654.9 222.2,657.7 222.0,660.0 C221.8,662.3 221.2,664.6 221.0,667.0 C220.8,669.4 222.8,673.2 220.5,674.5 C218.2,675.8 209.3,675.8 207.0,674.5 C204.7,673.2 206.5,669.4 206.5,667.0 C206.5,664.6 206.8,662.5 207.0,660.0 C207.2,657.5 207.5,654.5 207.5,652.0 C207.5,649.5 206.9,647.2 207.0,645.0 C207.1,642.8 207.2,639.6 208.0,639.0 Z" fill="url(#glove)" />
<line x1="193.8" y1="629.9" x2="201.2" y2="634.2" stroke="#c8d0d8" stroke-width="2.0"/>
<line x1="200.3" y1="633.4" x2="202.3" y2="634.9" stroke="#2aa8a0" stroke-width="1.6"/>
<path d="M204.3,633.8 C204.9,633.6 205.4,634.4 206.0,635.0 C206.6,635.6 207.5,636.5 208.0,637.5 C208.5,638.5 208.9,639.6 209.0,641.0 C209.1,642.4 208.7,644.2 208.5,646.0 C208.3,647.8 208.2,650.2 208.0,652.0 C207.8,653.8 207.8,655.9 207.5,657.0 C207.2,658.1 207.2,658.3 206.5,658.5 C205.8,658.7 203.9,658.6 203.0,658.0 C202.1,657.4 201.4,656.5 201.0,655.0 C200.6,653.5 200.5,651.0 200.5,649.0 C200.5,647.0 200.6,644.7 200.8,643.0 C201.0,641.3 201.2,640.2 201.5,639.0 C201.8,637.8 202.0,636.9 202.5,636.0 C203.0,635.1 203.7,634.0 204.3,633.8 Z" fill="#4a4647" />
<ellipse cx="204.3" cy="652.5" rx="2.3" ry="3.1" fill="#d98a80"/>
<line x1="198.5" y1="643.5" x2="201.0" y2="643.8" stroke="#c98a84" stroke-width="0.8"/>
<line x1="198.5" y1="658.5" x2="201.5" y2="658.2" stroke="#c98a84" stroke-width="0.8"/>
<path d="M210.5,659.4 Q212,668 213.1,678.4" fill="none" stroke="#c98a84" stroke-width="0.6" />
<line x1="206.0" y1="640.5" x2="206.0" y2="655.0" stroke="#c98a84" stroke-width="0.6"/>
<line x1="106.9" y1="700.8" x2="261.5" y2="700.8" stroke="#8a8a8a" stroke-width="1.3"/>
<path d="M264.5,700.8 L261.3,698.9 L261.3,702.7 Z" fill="#333" />
<text x="95.2" y="708.2" font-size="6.5" text-anchor="middle" fill="#231f20" stroke="#231f20"><tspan>Day</tspan></text>
<text x="109.0" y="708.9" font-size="6.5" text-anchor="middle" fill="#231f20" stroke="#231f20"><tspan>−10</tspan></text>
<line x1="109.0" y1="723.5" x2="109.0" y2="715.0" stroke="#1a1ae6" stroke-width="0.7"/>
<path d="M109.0,712.3 L107.4,715.0 L110.6,715.0 Z" fill="#1a1ae6" />
<text x="123.0" y="708.9" font-size="6.5" text-anchor="middle" fill="#231f20" stroke="#231f20"><tspan>−8</tspan></text>
<line x1="123.0" y1="723.5" x2="123.0" y2="715.0" stroke="#1a1ae6" stroke-width="0.7"/>
<path d="M123.0,712.3 L121.4,715.0 L124.6,715.0 Z" fill="#1a1ae6" />
<text x="136.6" y="708.9" font-size="6.5" text-anchor="middle" fill="#231f20" stroke="#231f20"><tspan>−6</tspan></text>
<line x1="136.6" y1="723.5" x2="136.6" y2="715.0" stroke="#1a1ae6" stroke-width="0.7"/>
<path d="M136.6,712.3 L135.0,715.0 L138.2,715.0 Z" fill="#1a1ae6" />
<text x="151.0" y="708.9" font-size="6.5" text-anchor="middle" fill="#231f20" stroke="#231f20"><tspan>−4</tspan></text>
<line x1="151.0" y1="723.5" x2="151.0" y2="715.0" stroke="#1a1ae6" stroke-width="0.7"/>
<path d="M151.0,712.3 L149.4,715.0 L152.6,715.0 Z" fill="#1a1ae6" />
<text x="165.5" y="708.9" font-size="6.5" text-anchor="middle" fill="#231f20" stroke="#231f20"><tspan>−2</tspan></text>
<line x1="165.5" y1="723.5" x2="165.5" y2="715.0" stroke="#1a1ae6" stroke-width="0.7"/>
<path d="M165.5,712.3 L163.9,715.0 L167.1,715.0 Z" fill="#1a1ae6" />
<text x="179.9" y="708.9" font-size="6.5" text-anchor="middle" fill="#231f20" stroke="#231f20"><tspan>0</tspan></text>
<text x="194.3" y="708.9" font-size="6.5" text-anchor="middle" fill="#231f20" stroke="#231f20"><tspan>2</tspan></text>
<text x="208.8" y="708.9" font-size="6.5" text-anchor="middle" fill="#231f20" stroke="#231f20"><tspan>4</tspan></text>
<text x="223.2" y="708.9" font-size="6.5" text-anchor="middle" fill="#231f20" stroke="#231f20"><tspan>6</tspan></text>
<text x="237.4" y="708.9" font-size="6.5" text-anchor="middle" fill="#231f20" stroke="#231f20"><tspan>8</tspan></text>
<text x="252.0" y="708.9" font-size="6.5" text-anchor="middle" fill="#231f20" stroke="#231f20"><tspan>10</tspan></text>
<line x1="109.0" y1="689.9" x2="165.5" y2="689.9" stroke="#f0141e" stroke-width="0.7"/>
<line x1="109.0" y1="689.9" x2="109.0" y2="697.0" stroke="#f0141e" stroke-width="0.7"/>
<path d="M109.0,699.6 L107.4,696.9 L110.6,696.9 Z" fill="#f0141e" />
<line x1="123.0" y1="689.9" x2="123.0" y2="697.0" stroke="#f0141e" stroke-width="0.7"/>
<path d="M123.0,699.6 L121.4,696.9 L124.6,696.9 Z" fill="#f0141e" />
<line x1="136.6" y1="689.9" x2="136.6" y2="697.0" stroke="#f0141e" stroke-width="0.7"/>
<path d="M136.6,699.6 L135.0,696.9 L138.2,696.9 Z" fill="#f0141e" />
<line x1="151.0" y1="689.9" x2="151.0" y2="697.0" stroke="#f0141e" stroke-width="0.7"/>
<path d="M151.0,699.6 L149.4,696.9 L152.6,696.9 Z" fill="#f0141e" />
<line x1="165.5" y1="689.9" x2="165.5" y2="697.0" stroke="#f0141e" stroke-width="0.7"/>
<path d="M165.5,699.6 L163.9,696.9 L167.1,696.9 Z" fill="#f0141e" />
<line x1="179.9" y1="689.3" x2="252.0" y2="689.3" stroke="#f0141e" stroke-width="0.7"/>
<line x1="179.9" y1="689.3" x2="179.9" y2="696.5" stroke="#f0141e" stroke-width="0.7"/>
<path d="M179.9,699.0 L178.3,696.3 L181.5,696.3 Z" fill="#f0141e" />
<line x1="194.3" y1="689.3" x2="194.3" y2="696.5" stroke="#f0141e" stroke-width="0.7"/>
<path d="M194.3,699.0 L192.7,696.3 L195.9,696.3 Z" fill="#f0141e" />
<line x1="208.8" y1="689.3" x2="208.8" y2="696.5" stroke="#f0141e" stroke-width="0.7"/>
<path d="M208.8,699.0 L207.2,696.3 L210.4,696.3 Z" fill="#f0141e" />
<line x1="223.2" y1="689.3" x2="223.2" y2="696.5" stroke="#f0141e" stroke-width="0.7"/>
<path d="M223.2,699.0 L221.6,696.3 L224.8,696.3 Z" fill="#f0141e" />
<line x1="237.4" y1="689.3" x2="237.4" y2="696.5" stroke="#f0141e" stroke-width="0.7"/>
<path d="M237.4,699.0 L235.8,696.3 L239.0,696.3 Z" fill="#f0141e" />
<line x1="252.0" y1="689.3" x2="252.0" y2="696.5" stroke="#f0141e" stroke-width="0.7"/>
<path d="M252.0,699.0 L250.4,696.3 L253.6,696.3 Z" fill="#f0141e" />
<text x="136.6" y="685.9" font-size="6.5" text-anchor="middle" fill="#f0141e" stroke="#f0141e"><tspan>OVA (IP)</tspan></text>
<text x="216.0" y="685.7" font-size="6.5" text-anchor="middle" fill="#f0141e" stroke="#f0141e"><tspan>OVA (IG)</tspan></text>
<text x="136.6" y="731.6" font-size="6.5" text-anchor="middle" fill="#1a1ae6" stroke="#1a1ae6"><tspan>Protein (IP)</tspan></text>
<line x1="179.0" y1="711.1" x2="225.0" y2="711.1" stroke="#9a30aa" stroke-width="0.8"/>
<text x="200.9" y="719.2" font-size="6.5" text-anchor="middle" fill="#9a30aa" stroke="#9a30aa"><tspan>DSS + OVA</tspan></text>
<text x="200.9" y="726.8" font-size="6.5" text-anchor="middle" fill="#9a30aa" stroke="#9a30aa"><tspan>in drinking water</tspan></text>
<text x="282.0" y="681.6" font-size="6.5" text-anchor="middle" fill="#231f20" stroke="#231f20"><tspan>Gut</tspan></text>
<path d="M270.8,686 Q281.6,691 292.9,685 L293.9,700 Q294,706 291.5,707.8 L285.5,708 L284.5,713 L281,713 L280.5,707.5 L274.5,705.8 Q270.2,704 270.4,699 Z" fill="#d27c7e" />
<ellipse cx="282.2" cy="697.8" rx="9.6" ry="7.4" fill="#f1aaa2"/>
<path d="M275,694 q2,-2 4,0 t4,0 t4,0 t4,0 M274.5,698 q2,-2 4,0 t4,0 t4,0 t4,0 M275,702 q2,-2 4,0 t4,0 t4,0 t4,0" fill="none" stroke="#e08e8a" stroke-width="0.5" />
<text x="282.0" y="719.9" font-size="6.5" text-anchor="middle" fill="#231f20" stroke="#231f20"><tspan>Day 11</tspan></text>
<text x="282.0" y="728.0" font-size="6.5" text-anchor="middle" fill="#231f20" stroke="#231f20"><tspan>analysis</tspan></text>
<text x="-0.7" y="743.8" font-size="11" font-weight="bold" fill="#000">m</text>
<text x="76.6" y="747.5" font-size="6.3" text-anchor="middle" fill="#231f20" stroke="#231f20"><tspan>DSS-induced colitis</tspan></text>
<line x1="36.4" y1="760.5" x2="36.4" y2="816.3" stroke="#444" stroke-width="0.6"/>
<line x1="36.4" y1="816.3" x2="128.5" y2="816.3" stroke="#444" stroke-width="0.6"/>
<line x1="34.8" y1="761.2" x2="36.4" y2="761.2" stroke="#444" stroke-width="0.5"/>
<text x="33.8" y="763.5" font-size="6.5" text-anchor="end" fill="#231f20" stroke="#231f20"><tspan>105</tspan></text>
<line x1="34.8" y1="774.9" x2="36.4" y2="774.9" stroke="#444" stroke-width="0.5"/>
<text x="33.8" y="777.2" font-size="6.5" text-anchor="end" fill="#231f20" stroke="#231f20"><tspan>100</tspan></text>
<line x1="34.8" y1="788.5" x2="36.4" y2="788.5" stroke="#444" stroke-width="0.5"/>
<text x="33.8" y="790.8" font-size="6.5" text-anchor="end" fill="#231f20" stroke="#231f20"><tspan>95</tspan></text>
<line x1="34.8" y1="802.4" x2="36.4" y2="802.4" stroke="#444" stroke-width="0.5"/>
<text x="33.8" y="804.7" font-size="6.5" text-anchor="end" fill="#231f20" stroke="#231f20"><tspan>90</tspan></text>
<line x1="34.8" y1="816.3" x2="36.4" y2="816.3" stroke="#444" stroke-width="0.5"/>
<text x="33.8" y="818.6" font-size="6.5" text-anchor="end" fill="#231f20" stroke="#231f20"><tspan>85</tspan></text>
<line x1="37.2" y1="816.3" x2="37.2" y2="818.0" stroke="#444" stroke-width="0.5"/>
<text x="37.2" y="826.6" font-size="6.5" text-anchor="middle" fill="#231f20" stroke="#231f20"><tspan>1</tspan></text>
<line x1="46.2" y1="816.3" x2="46.2" y2="818.0" stroke="#444" stroke-width="0.5"/>
<text x="46.2" y="826.6" font-size="6.5" text-anchor="middle" fill="#231f20" stroke="#231f20"><tspan>2</tspan></text>
<line x1="55.1" y1="816.3" x2="55.1" y2="818.0" stroke="#444" stroke-width="0.5"/>
<text x="55.1" y="826.6" font-size="6.5" text-anchor="middle" fill="#231f20" stroke="#231f20"><tspan>3</tspan></text>
<line x1="64.0" y1="816.3" x2="64.0" y2="818.0" stroke="#444" stroke-width="0.5"/>
<text x="64.0" y="826.6" font-size="6.5" text-anchor="middle" fill="#231f20" stroke="#231f20"><tspan>4</tspan></text>
<line x1="73.0" y1="816.3" x2="73.0" y2="818.0" stroke="#444" stroke-width="0.5"/>
<text x="73.0" y="826.6" font-size="6.5" text-anchor="middle" fill="#231f20" stroke="#231f20"><tspan>5</tspan></text>
<line x1="82.0" y1="816.3" x2="82.0" y2="818.0" stroke="#444" stroke-width="0.5"/>
<text x="82.0" y="826.6" font-size="6.5" text-anchor="middle" fill="#231f20" stroke="#231f20"><tspan>6</tspan></text>
<line x1="90.9" y1="816.3" x2="90.9" y2="818.0" stroke="#444" stroke-width="0.5"/>
<text x="90.9" y="826.6" font-size="6.5" text-anchor="middle" fill="#231f20" stroke="#231f20"><tspan>7</tspan></text>
<line x1="99.8" y1="816.3" x2="99.8" y2="818.0" stroke="#444" stroke-width="0.5"/>
<text x="99.8" y="826.6" font-size="6.5" text-anchor="middle" fill="#231f20" stroke="#231f20"><tspan>8</tspan></text>
<line x1="108.8" y1="816.3" x2="108.8" y2="818.0" stroke="#444" stroke-width="0.5"/>
<text x="108.8" y="826.6" font-size="6.5" text-anchor="middle" fill="#231f20" stroke="#231f20"><tspan>9</tspan></text>
<line x1="117.8" y1="816.3" x2="117.8" y2="818.0" stroke="#444" stroke-width="0.5"/>
<text x="117.8" y="826.6" font-size="6.5" text-anchor="middle" fill="#231f20" stroke="#231f20"><tspan>10</tspan></text>
<line x1="126.7" y1="816.3" x2="126.7" y2="818.0" stroke="#444" stroke-width="0.5"/>
<text x="126.7" y="826.6" font-size="6.5" text-anchor="middle" fill="#231f20" stroke="#231f20"><tspan>11</tspan></text>
<text x="81.7" y="838.5" font-size="6.5" text-anchor="middle" fill="#231f20" stroke="#231f20"><tspan>Time (days)</tspan></text>
<g transform="translate(11.6,788.7) rotate(-90)"><text x="0" y="2.3" font-size="6.5" text-anchor="middle" fill="#231f20" stroke="#231f20"><tspan>Per cent of initial mass</tspan></text></g>
<line x1="46.2" y1="773.3" x2="46.2" y2="771.1" stroke="#777" stroke-width="0.5"/>
<line x1="44.7" y1="771.1" x2="47.7" y2="771.1" stroke="#777" stroke-width="0.5"/>
<line x1="44.7" y1="773.3" x2="47.7" y2="773.3" stroke="#777" stroke-width="0.5"/>
<line x1="55.1" y1="771.7" x2="55.1" y2="769.5" stroke="#777" stroke-width="0.5"/>
<line x1="53.6" y1="769.5" x2="56.6" y2="769.5" stroke="#777" stroke-width="0.5"/>
<line x1="53.6" y1="771.7" x2="56.6" y2="771.7" stroke="#777" stroke-width="0.5"/>
<line x1="64.0" y1="775.0" x2="64.0" y2="772.2" stroke="#777" stroke-width="0.5"/>
<line x1="62.5" y1="772.2" x2="65.5" y2="772.2" stroke="#777" stroke-width="0.5"/>
<line x1="62.5" y1="775.0" x2="65.5" y2="775.0" stroke="#777" stroke-width="0.5"/>
<line x1="73.0" y1="789.6" x2="73.0" y2="784.6" stroke="#777" stroke-width="0.5"/>
<line x1="71.5" y1="784.6" x2="74.5" y2="784.6" stroke="#777" stroke-width="0.5"/>
<line x1="71.5" y1="789.6" x2="74.5" y2="789.6" stroke="#777" stroke-width="0.5"/>
<line x1="82.0" y1="806.4" x2="82.0" y2="799.2" stroke="#777" stroke-width="0.5"/>
<line x1="80.5" y1="799.2" x2="83.5" y2="799.2" stroke="#777" stroke-width="0.5"/>
<line x1="80.5" y1="806.4" x2="83.5" y2="806.4" stroke="#777" stroke-width="0.5"/>
<line x1="90.9" y1="812.2" x2="90.9" y2="805.6" stroke="#777" stroke-width="0.5"/>
<line x1="89.4" y1="805.6" x2="92.4" y2="805.6" stroke="#777" stroke-width="0.5"/>
<line x1="89.4" y1="812.2" x2="92.4" y2="812.2" stroke="#777" stroke-width="0.5"/>
<line x1="99.8" y1="815.5" x2="99.8" y2="810.5" stroke="#777" stroke-width="0.5"/>
<line x1="98.3" y1="810.5" x2="101.3" y2="810.5" stroke="#777" stroke-width="0.5"/>
<line x1="98.3" y1="815.5" x2="101.3" y2="815.5" stroke="#777" stroke-width="0.5"/>
<line x1="108.8" y1="812.4" x2="108.8" y2="806.9" stroke="#777" stroke-width="0.5"/>
<line x1="107.3" y1="806.9" x2="110.3" y2="806.9" stroke="#777" stroke-width="0.5"/>
<line x1="107.3" y1="812.4" x2="110.3" y2="812.4" stroke="#777" stroke-width="0.5"/>
<line x1="117.8" y1="808.0" x2="117.8" y2="800.9" stroke="#777" stroke-width="0.5"/>
<line x1="116.2" y1="800.9" x2="119.2" y2="800.9" stroke="#777" stroke-width="0.5"/>
<line x1="116.2" y1="808.0" x2="119.2" y2="808.0" stroke="#777" stroke-width="0.5"/>
<line x1="126.7" y1="796.7" x2="126.7" y2="789.0" stroke="#777" stroke-width="0.5"/>
<line x1="125.2" y1="789.0" x2="128.2" y2="789.0" stroke="#777" stroke-width="0.5"/>
<line x1="125.2" y1="796.7" x2="128.2" y2="796.7" stroke="#777" stroke-width="0.5"/>
<polyline points="37.2,775.0 46.2,772.2 55.1,770.6 64.0,773.6 73.0,787.1 82.0,802.8 90.9,808.9 99.8,813.0 108.8,809.7 117.8,804.5 126.7,792.9" fill="none" stroke="#111" stroke-width="0.7"/>
<rect x="36.1" y="773.9" width="2.2" height="2.2" fill="#111"/>
<rect x="45.1" y="771.1" width="2.2" height="2.2" fill="#111"/>
<rect x="54.0" y="769.5" width="2.2" height="2.2" fill="#111"/>
<rect x="62.9" y="772.5" width="2.2" height="2.2" fill="#111"/>
<rect x="71.9" y="786.0" width="2.2" height="2.2" fill="#111"/>
<rect x="80.9" y="801.7" width="2.2" height="2.2" fill="#111"/>
<rect x="89.8" y="807.8" width="2.2" height="2.2" fill="#111"/>
<rect x="98.8" y="811.9" width="2.2" height="2.2" fill="#111"/>
<rect x="107.7" y="808.6" width="2.2" height="2.2" fill="#111"/>
<rect x="116.7" y="803.4" width="2.2" height="2.2" fill="#111"/>
<rect x="125.6" y="791.8" width="2.2" height="2.2" fill="#111"/>
<line x1="46.2" y1="771.7" x2="46.2" y2="769.5" stroke="#f08080" stroke-width="0.5"/>
<line x1="44.7" y1="769.5" x2="47.7" y2="769.5" stroke="#f08080" stroke-width="0.5"/>
<line x1="44.7" y1="771.7" x2="47.7" y2="771.7" stroke="#f08080" stroke-width="0.5"/>
<line x1="55.1" y1="769.7" x2="55.1" y2="767.5" stroke="#f08080" stroke-width="0.5"/>
<line x1="53.6" y1="767.5" x2="56.6" y2="767.5" stroke="#f08080" stroke-width="0.5"/>
<line x1="53.6" y1="769.7" x2="56.6" y2="769.7" stroke="#f08080" stroke-width="0.5"/>
<line x1="64.0" y1="767.3" x2="64.0" y2="764.5" stroke="#f08080" stroke-width="0.5"/>
<line x1="62.5" y1="764.5" x2="65.5" y2="764.5" stroke="#f08080" stroke-width="0.5"/>
<line x1="62.5" y1="767.3" x2="65.5" y2="767.3" stroke="#f08080" stroke-width="0.5"/>
<line x1="73.0" y1="773.9" x2="73.0" y2="770.6" stroke="#f08080" stroke-width="0.5"/>
<line x1="71.5" y1="770.6" x2="74.5" y2="770.6" stroke="#f08080" stroke-width="0.5"/>
<line x1="71.5" y1="773.9" x2="74.5" y2="773.9" stroke="#f08080" stroke-width="0.5"/>
<line x1="82.0" y1="787.6" x2="82.0" y2="781.6" stroke="#f08080" stroke-width="0.5"/>
<line x1="80.5" y1="781.6" x2="83.5" y2="781.6" stroke="#f08080" stroke-width="0.5"/>
<line x1="80.5" y1="787.6" x2="83.5" y2="787.6" stroke="#f08080" stroke-width="0.5"/>
<line x1="90.9" y1="796.2" x2="90.9" y2="790.7" stroke="#f08080" stroke-width="0.5"/>
<line x1="89.4" y1="790.7" x2="92.4" y2="790.7" stroke="#f08080" stroke-width="0.5"/>
<line x1="89.4" y1="796.2" x2="92.4" y2="796.2" stroke="#f08080" stroke-width="0.5"/>
<line x1="99.8" y1="803.1" x2="99.8" y2="799.2" stroke="#f08080" stroke-width="0.5"/>
<line x1="98.3" y1="799.2" x2="101.3" y2="799.2" stroke="#f08080" stroke-width="0.5"/>
<line x1="98.3" y1="803.1" x2="101.3" y2="803.1" stroke="#f08080" stroke-width="0.5"/>
<line x1="108.8" y1="803.6" x2="108.8" y2="799.2" stroke="#f08080" stroke-width="0.5"/>
<line x1="107.3" y1="799.2" x2="110.3" y2="799.2" stroke="#f08080" stroke-width="0.5"/>
<line x1="107.3" y1="803.6" x2="110.3" y2="803.6" stroke="#f08080" stroke-width="0.5"/>
<line x1="117.8" y1="798.4" x2="117.8" y2="792.9" stroke="#f08080" stroke-width="0.5"/>
<line x1="116.2" y1="792.9" x2="119.2" y2="792.9" stroke="#f08080" stroke-width="0.5"/>
<line x1="116.2" y1="798.4" x2="119.2" y2="798.4" stroke="#f08080" stroke-width="0.5"/>
<line x1="126.7" y1="784.9" x2="126.7" y2="778.3" stroke="#f08080" stroke-width="0.5"/>
<line x1="125.2" y1="778.3" x2="128.2" y2="778.3" stroke="#f08080" stroke-width="0.5"/>
<line x1="125.2" y1="784.9" x2="128.2" y2="784.9" stroke="#f08080" stroke-width="0.5"/>
<polyline points="37.2,775.0 46.2,770.6 55.1,768.6 64.0,765.9 73.0,772.2 82.0,784.6 90.9,793.4 99.8,801.1 108.8,801.4 117.8,795.6 126.7,781.6" fill="none" stroke="#f01818" stroke-width="0.7"/>
<rect x="36.1" y="773.9" width="2.2" height="2.2" fill="#f01818"/>
<rect x="45.1" y="769.5" width="2.2" height="2.2" fill="#f01818"/>
<rect x="54.0" y="767.5" width="2.2" height="2.2" fill="#f01818"/>
<rect x="62.9" y="764.8" width="2.2" height="2.2" fill="#f01818"/>
<rect x="71.9" y="771.1" width="2.2" height="2.2" fill="#f01818"/>
<rect x="80.9" y="783.5" width="2.2" height="2.2" fill="#f01818"/>
<rect x="89.8" y="792.3" width="2.2" height="2.2" fill="#f01818"/>
<rect x="98.8" y="800.0" width="2.2" height="2.2" fill="#f01818"/>
<rect x="107.7" y="800.3" width="2.2" height="2.2" fill="#f01818"/>
<rect x="116.7" y="794.5" width="2.2" height="2.2" fill="#f01818"/>
<rect x="125.6" y="780.5" width="2.2" height="2.2" fill="#f01818"/>
<text x="64.2" y="761.8" font-size="7.2" text-anchor="middle" fill="#231f20" stroke="#231f20" letter-spacing="0.3"><tspan>**</tspan></text>
<text x="73.0" y="769.1" font-size="7.2" text-anchor="middle" fill="#231f20" stroke="#231f20" letter-spacing="0.3"><tspan>**</tspan></text>
<text x="82.0" y="779.8" font-size="7.2" text-anchor="middle" fill="#231f20" stroke="#231f20" letter-spacing="0.3"><tspan>*</tspan></text>
<text x="91.0" y="788.9" font-size="7.2" text-anchor="middle" fill="#231f20" stroke="#231f20" letter-spacing="0.3"><tspan>*</tspan></text>
<text x="100.1" y="795.1" font-size="6.5" text-anchor="middle" fill="#231f20" stroke="#231f20"><tspan>NS</tspan></text>
<rect x="135.2" y="772.3" width="2.2" height="2.2" fill="#111"/>
<text x="139.7" y="775.7" font-size="6.5" text-anchor="start" fill="#231f20" stroke="#231f20"><tspan>PBS</tspan></text>
<rect x="135.2" y="781.9" width="2.2" height="2.2" fill="#f01818"/>
<text x="139.7" y="785.3" font-size="6.5" text-anchor="start" fill="#231f20" stroke="#231f20"><tspan>TGM1–IL-2(WT)</tspan></text>
<text x="204.3" y="743.7" font-size="11" font-weight="bold" fill="#000">n</text>
<text x="222.2" y="754.1" font-size="6.5" text-anchor="middle" fill="#231f20" stroke="#231f20"><tspan>PBS</tspan></text>
<text x="248.2" y="746.2" font-size="6.5" text-anchor="middle" fill="#f0141e" stroke="#f0141e"><tspan>TGM1–</tspan></text>
<text x="248.2" y="754.1" font-size="6.5" text-anchor="middle" fill="#f0141e" stroke="#f0141e"><tspan>IL-2(WT)</tspan></text>
<defs><linearGradient id="photo" x1="0" y1="0" x2="1" y2="1"><stop offset="0" stop-color="#e0ddd8"/><stop offset="0.5" stop-color="#ebe9e5"/><stop offset="1" stop-color="#e4e2de"/></linearGradient></defs>
<rect x="213.7" y="756.7" width="43.4" height="75.9" fill="url(#photo)"/>
<rect x="213.7" y="756.7" width="5.0" height="75.9" fill="#c6c6c4"/>
<line x1="214.5" y1="758.0" x2="217.2" y2="758.0" stroke="#707070" stroke-width="0.35"/>
<line x1="214.5" y1="760.5" x2="216.0" y2="760.5" stroke="#707070" stroke-width="0.35"/>
<line x1="214.5" y1="763.0" x2="217.2" y2="763.0" stroke="#707070" stroke-width="0.35"/>
<line x1="214.5" y1="765.5" x2="216.0" y2="765.5" stroke="#707070" stroke-width="0.35"/>
<line x1="214.5" y1="768.0" x2="217.2" y2="768.0" stroke="#707070" stroke-width="0.35"/>
<line x1="214.5" y1="770.5" x2="216.0" y2="770.5" stroke="#707070" stroke-width="0.35"/>
<line x1="214.5" y1="773.0" x2="217.2" y2="773.0" stroke="#707070" stroke-width="0.35"/>
<line x1="214.5" y1="775.5" x2="216.0" y2="775.5" stroke="#707070" stroke-width="0.35"/>
<line x1="214.5" y1="778.0" x2="217.2" y2="778.0" stroke="#707070" stroke-width="0.35"/>
<line x1="214.5" y1="780.5" x2="216.0" y2="780.5" stroke="#707070" stroke-width="0.35"/>
<line x1="214.5" y1="783.0" x2="217.2" y2="783.0" stroke="#707070" stroke-width="0.35"/>
<line x1="214.5" y1="785.5" x2="216.0" y2="785.5" stroke="#707070" stroke-width="0.35"/>
<line x1="214.5" y1="788.0" x2="217.2" y2="788.0" stroke="#707070" stroke-width="0.35"/>
<line x1="214.5" y1="790.5" x2="216.0" y2="790.5" stroke="#707070" stroke-width="0.35"/>
<line x1="214.5" y1="793.0" x2="217.2" y2="793.0" stroke="#707070" stroke-width="0.35"/>
<line x1="214.5" y1="795.5" x2="216.0" y2="795.5" stroke="#707070" stroke-width="0.35"/>
<line x1="214.5" y1="798.0" x2="217.2" y2="798.0" stroke="#707070" stroke-width="0.35"/>
<line x1="214.5" y1="800.5" x2="216.0" y2="800.5" stroke="#707070" stroke-width="0.35"/>
<line x1="214.5" y1="803.0" x2="217.2" y2="803.0" stroke="#707070" stroke-width="0.35"/>
<line x1="214.5" y1="805.5" x2="216.0" y2="805.5" stroke="#707070" stroke-width="0.35"/>
<line x1="214.5" y1="808.0" x2="217.2" y2="808.0" stroke="#707070" stroke-width="0.35"/>
<line x1="214.5" y1="810.5" x2="216.0" y2="810.5" stroke="#707070" stroke-width="0.35"/>
<line x1="214.5" y1="813.0" x2="217.2" y2="813.0" stroke="#707070" stroke-width="0.35"/>
<line x1="214.5" y1="815.5" x2="216.0" y2="815.5" stroke="#707070" stroke-width="0.35"/>
<line x1="214.5" y1="818.0" x2="217.2" y2="818.0" stroke="#707070" stroke-width="0.35"/>
<line x1="214.5" y1="820.5" x2="216.0" y2="820.5" stroke="#707070" stroke-width="0.35"/>
<line x1="214.5" y1="823.0" x2="217.2" y2="823.0" stroke="#707070" stroke-width="0.35"/>
<line x1="214.5" y1="825.5" x2="216.0" y2="825.5" stroke="#707070" stroke-width="0.35"/>
<line x1="214.5" y1="828.0" x2="217.2" y2="828.0" stroke="#707070" stroke-width="0.35"/>
<line x1="214.5" y1="830.5" x2="216.0" y2="830.5" stroke="#707070" stroke-width="0.35"/>
<path d="M237.4,771.8 C237.3,771.0 235.8,769.8 234.6,769.3 C233.5,768.8 231.7,768.4 230.5,768.8 C229.3,769.3 228.1,770.6 227.5,772.0 C226.9,773.3 227.2,775.6 227.1,777.0 C227.1,778.3 226.9,779.1 227.0,780.1 C227.2,781.2 227.9,782.4 228.0,783.5 C228.1,784.7 227.8,785.7 227.6,786.9 C227.4,788.0 226.9,789.2 226.8,790.4 C226.7,791.6 226.9,792.9 226.9,794.1 C227.0,795.3 227.0,796.5 227.1,797.7 C227.3,798.8 227.9,799.9 228.0,801.0 C228.0,802.1 227.6,803.2 227.5,804.4 C227.4,805.5 227.3,806.7 227.2,807.9 C227.2,809.1 227.0,810.4 227.1,811.6 C227.1,812.8 227.3,814.0 227.4,815.1 C227.6,816.3 228.0,817.4 228.0,818.5 C228.1,819.6 227.7,820.7 227.6,821.9 C227.5,823.0 227.3,824.3 227.2,825.5 C227.1,826.6 226.3,828.5 226.8,829.1 C227.4,829.6 229.9,829.5 230.3,828.9 C230.8,828.4 229.8,826.7 229.8,825.5 C229.7,824.4 230.0,823.3 230.1,822.1 C230.2,820.9 230.2,819.7 230.2,818.5 C230.3,817.3 230.5,816.1 230.4,814.9 C230.4,813.7 230.1,812.5 230.0,811.4 C229.9,810.3 229.7,809.2 229.8,808.1 C229.8,806.9 230.2,805.8 230.3,804.6 C230.4,803.5 230.3,802.2 230.3,801.0 C230.4,799.8 230.7,798.5 230.6,797.3 C230.6,796.2 230.1,795.0 230.0,793.9 C230.0,792.8 230.3,791.8 230.3,790.6 C230.4,789.5 230.4,788.3 230.4,787.1 C230.4,785.9 230.2,784.7 230.2,783.5 C230.3,782.3 230.6,780.9 230.6,779.9 C230.5,778.8 230.1,778.2 230.1,777.0 C230.0,775.9 230.3,773.9 230.5,773.0 C230.7,772.1 231.0,771.8 231.5,771.6 C232.0,771.4 232.7,771.5 233.4,771.9 C234.1,772.3 234.9,773.9 235.6,773.8 C236.3,773.8 237.6,772.5 237.4,771.8 Z" fill="#7b5a3c" />
<path d="M258.8,765.8 C259.1,764.6 257.2,762.8 255.9,761.8 C254.5,760.7 252.4,759.8 250.6,759.6 C248.9,759.4 246.8,759.6 245.4,760.4 C244.0,761.1 242.9,762.5 242.1,763.9 C241.4,765.4 240.9,767.6 240.8,769.0 C240.8,770.4 241.8,771.1 242.0,772.2 C242.2,773.3 242.0,774.6 242.1,775.9 C242.2,777.1 242.4,778.3 242.4,779.5 C242.3,780.8 241.8,782.0 241.7,783.3 C241.6,784.5 241.9,785.9 241.8,787.2 C241.8,788.5 241.5,789.8 241.5,791.1 C241.5,792.4 241.8,793.7 241.9,794.9 C242.1,796.2 242.4,797.4 242.4,798.6 C242.5,799.8 242.3,801.0 242.2,802.3 C242.1,803.5 241.7,804.8 241.7,806.1 C241.7,807.4 241.9,808.7 241.9,810.0 C241.9,811.3 241.8,812.6 241.8,813.9 C241.8,815.2 241.8,816.5 242.0,817.7 C242.1,819.0 242.5,820.2 242.5,821.4 C242.5,822.6 242.0,823.8 241.9,825.1 C241.7,826.3 241.1,828.2 241.6,828.8 C242.1,829.5 244.4,829.7 245.1,829.2 C245.7,828.6 245.5,826.6 245.5,825.3 C245.6,824.1 245.3,822.7 245.4,821.4 C245.4,820.1 245.7,818.8 245.6,817.5 C245.6,816.2 245.3,814.9 245.1,813.7 C244.9,812.4 244.6,811.2 244.6,810.0 C244.6,808.8 245.0,807.6 245.2,806.3 C245.3,805.1 245.4,803.8 245.4,802.5 C245.5,801.2 245.5,799.9 245.5,798.6 C245.5,797.3 245.5,795.9 245.5,794.7 C245.4,793.4 245.3,792.1 245.2,790.9 C245.1,789.7 244.7,788.5 244.7,787.2 C244.7,786.0 245.2,784.8 245.4,783.5 C245.5,782.3 245.3,781.0 245.4,779.7 C245.4,778.4 245.8,777.0 245.7,775.7 C245.7,774.4 245.3,772.9 245.2,771.8 C245.1,770.7 245.2,770.1 245.2,769.0 C245.1,767.9 244.6,766.0 244.9,765.1 C245.1,764.2 245.9,763.8 246.6,763.6 C247.4,763.5 248.5,764.0 249.4,764.4 C250.3,764.8 251.3,765.4 252.1,766.2 C252.9,767.0 253.0,769.2 254.2,769.2 C255.3,769.1 258.5,767.1 258.8,765.8 Z" fill="#7b5a3c" />
<line x1="228.7" y1="823.5" x2="228.7" y2="831.5" stroke="#d8a09a" stroke-width="2.0"/>
<line x1="243.3" y1="823.5" x2="243.3" y2="831.5" stroke="#d8a09a" stroke-width="2.2"/>
<circle cx="228.7" cy="832.0" r="0.9" fill="#4a3a30"/>
<circle cx="243.3" cy="832.0" r="0.9" fill="#4a3a30"/>
<line x1="290.6" y1="788.0" x2="290.6" y2="840.4" stroke="#444" stroke-width="0.6"/>
<line x1="290.6" y1="840.4" x2="322.1" y2="840.4" stroke="#444" stroke-width="0.6"/>
<line x1="289.0" y1="840.4" x2="290.6" y2="840.4" stroke="#444" stroke-width="0.5"/>
<text x="288.0" y="842.7" font-size="6.5" text-anchor="end" fill="#231f20" stroke="#231f20"><tspan>6.5</tspan></text>
<line x1="289.0" y1="830.0" x2="290.6" y2="830.0" stroke="#444" stroke-width="0.5"/>
<text x="288.0" y="832.4" font-size="6.5" text-anchor="end" fill="#231f20" stroke="#231f20"><tspan>7.0</tspan></text>
<line x1="289.0" y1="819.7" x2="290.6" y2="819.7" stroke="#444" stroke-width="0.5"/>
<text x="288.0" y="822.0" font-size="6.5" text-anchor="end" fill="#231f20" stroke="#231f20"><tspan>7.5</tspan></text>
<line x1="289.0" y1="809.3" x2="290.6" y2="809.3" stroke="#444" stroke-width="0.5"/>
<text x="288.0" y="811.7" font-size="6.5" text-anchor="end" fill="#231f20" stroke="#231f20"><tspan>8.0</tspan></text>
<line x1="289.0" y1="799.0" x2="290.6" y2="799.0" stroke="#444" stroke-width="0.5"/>
<text x="288.0" y="801.3" font-size="6.5" text-anchor="end" fill="#231f20" stroke="#231f20"><tspan>8.5</tspan></text>
<line x1="289.0" y1="788.6" x2="290.6" y2="788.6" stroke="#444" stroke-width="0.5"/>
<text x="288.0" y="790.9" font-size="6.5" text-anchor="end" fill="#231f20" stroke="#231f20"><tspan>9.0</tspan></text>
<line x1="299.5" y1="840.4" x2="299.5" y2="842.0" stroke="#444" stroke-width="0.5"/>
<line x1="313.3" y1="840.4" x2="313.3" y2="842.0" stroke="#444" stroke-width="0.5"/>
<g transform="translate(267.5,814.8) rotate(-90)"><text x="0" y="2.3" font-size="6.5" text-anchor="middle" fill="#231f20" stroke="#231f20"><tspan>Colon length (cm)</tspan></text></g>
<circle cx="299.5" cy="807.2" r="0.9" fill="#111"/>
<circle cx="300.0" cy="811.4" r="0.9" fill="#111"/>
<circle cx="297.5" cy="819.7" r="0.9" fill="#111"/>
<circle cx="299.5" cy="819.7" r="0.9" fill="#111"/>
<circle cx="301.5" cy="820.7" r="0.9" fill="#111"/>
<circle cx="298.5" cy="821.8" r="0.9" fill="#111"/>
<circle cx="300.5" cy="823.8" r="0.9" fill="#111"/>
<circle cx="299.5" cy="825.9" r="0.9" fill="#111"/>
<circle cx="299.5" cy="830.0" r="0.9" fill="#111"/>
<circle cx="313.8" cy="794.8" r="0.9" fill="#f01818"/>
<circle cx="311.3" cy="796.9" r="0.9" fill="#f01818"/>
<circle cx="314.8" cy="797.9" r="0.9" fill="#f01818"/>
<circle cx="313.3" cy="801.0" r="0.9" fill="#f01818"/>
<circle cx="314.8" cy="805.2" r="0.9" fill="#f01818"/>
<circle cx="311.8" cy="807.2" r="0.9" fill="#f01818"/>
<circle cx="313.8" cy="809.3" r="0.9" fill="#f01818"/>
<circle cx="315.1" cy="811.4" r="0.9" fill="#f01818"/>
<circle cx="313.3" cy="815.5" r="0.9" fill="#f01818"/>
<circle cx="312.8" cy="819.7" r="0.9" fill="#f01818"/>
<circle cx="313.3" cy="825.9" r="0.9" fill="#f01818"/>
<line x1="296.5" y1="819.7" x2="302.5" y2="819.7" stroke="#222" stroke-width="0.6"/>
<line x1="299.5" y1="822.2" x2="299.5" y2="817.2" stroke="#222" stroke-width="0.5"/>
<line x1="298.0" y1="817.2" x2="301.0" y2="817.2" stroke="#222" stroke-width="0.5"/>
<line x1="298.0" y1="822.2" x2="301.0" y2="822.2" stroke="#222" stroke-width="0.5"/>
<line x1="310.3" y1="808.3" x2="316.3" y2="808.3" stroke="#222" stroke-width="0.6"/>
<line x1="313.3" y1="811.8" x2="313.3" y2="804.8" stroke="#222" stroke-width="0.5"/>
<line x1="311.8" y1="804.8" x2="314.8" y2="804.8" stroke="#222" stroke-width="0.5"/>
<line x1="311.8" y1="811.8" x2="314.8" y2="811.8" stroke="#222" stroke-width="0.5"/>
<text x="305.6" y="795.7" font-size="7.2" text-anchor="middle" fill="#231f20" stroke="#231f20" letter-spacing="0.3"><tspan>**</tspan></text>
<text x="348.4" y="622.8" font-size="11" font-weight="bold" fill="#000">o</text>
<text x="396.6" y="625.0" font-size="6.5" text-anchor="middle" fill="#231f20" stroke="#231f20"><tspan>PBS</tspan></text>
<text x="475.6" y="625.0" font-size="6.5" text-anchor="middle" fill="#f0141e" stroke="#f0141e"><tspan>TGM1–IL-2(WT)</tspan></text>
<defs><clipPath id="oc1"><rect x="357" y="629.1" width="78.6" height="58.4"/></clipPath><clipPath id="oc2"><rect x="436.4" y="629.1" width="78.6" height="58.4"/></clipPath>
<filter id="wig" x="-10%" y="-10%" width="120%" height="120%"><feTurbulence type="fractalNoise" baseFrequency="0.35" numOctaves="2" seed="3"/><feDisplacementMap in="SourceGraphic" scale="2.6" xChannelSelector="R" yChannelSelector="G"/></filter>
<filter id="tex" x="0" y="0" width="100%" height="100%"><feTurbulence type="fractalNoise" baseFrequency="0.9" numOctaves="1" seed="7" result="n"/><feColorMatrix in="n" type="matrix" values="0 0 0 0 1  0 0 0 0 1  0 0 0 0 1  0 0 0 -1.6 1.05" result="w"/><feComposite in="w" in2="SourceGraphic" operator="in"/></filter>
</defs>
<rect x="357.0" y="629.1" width="78.6" height="58.4" fill="#e5efed"/>
<g clip-path="url(#oc1)"><g filter="url(#wig)">
<path d="M363.0,627.0 C366.0,625.7 373.8,626.2 380.0,626.0 C386.2,625.8 393.7,625.8 400.0,626.0 C406.3,626.2 413.5,626.2 418.0,627.0 C422.5,627.8 424.7,628.8 427.0,631.0 C429.3,633.2 430.8,636.5 432.0,640.0 C433.2,643.5 434.2,647.7 434.5,652.0 C434.8,656.3 434.6,661.7 434.0,666.0 C433.4,670.3 432.2,674.3 431.0,678.0 C429.8,681.7 428.8,685.8 427.0,688.0 C425.2,690.2 424.5,690.5 420.0,691.0 C415.5,691.5 406.7,691.0 400.0,691.0 C393.3,691.0 386.3,691.0 380.0,691.0 C373.7,691.0 365.7,692.3 362.0,691.0 C358.3,689.7 358.7,686.2 358.0,683.0 C357.3,679.8 357.7,676.2 358.0,672.0 C358.3,667.8 359.5,662.5 360.0,658.0 C360.5,653.5 360.7,649.0 361.0,645.0 C361.3,641.0 361.7,637.0 362.0,634.0 C362.3,631.0 360.0,628.3 363.0,627.0 Z" fill="#d9a1d2" />
<path d="M366.0,640.0 C367.3,636.7 368.0,633.7 372.0,632.0 C376.0,630.3 383.7,630.0 390.0,630.0 C396.3,630.0 404.7,630.3 410.0,632.0 C415.3,633.7 419.3,636.2 422.0,640.0 C424.7,643.8 425.7,649.7 426.0,655.0 C426.3,660.3 425.7,667.2 424.0,672.0 C422.3,676.8 420.3,681.3 416.0,684.0 C411.7,686.7 404.0,687.5 398.0,688.0 C392.0,688.5 384.8,688.3 380.0,687.0 C375.2,685.7 371.7,683.3 369.0,680.0 C366.3,676.7 364.8,671.7 364.0,667.0 C363.2,662.3 363.7,656.5 364.0,652.0 C364.3,647.5 364.7,643.3 366.0,640.0 Z" fill="#d38fca" fill-opacity="0.7" />
<path d="M419.6,663.0 C420.6,663.9 422.1,665.0 422.9,666.1 C423.7,667.2 424.4,668.5 424.3,669.5 C424.3,670.6 423.6,671.7 422.7,672.5 C421.9,673.3 420.3,673.9 419.2,674.4 C418.0,675.0 416.6,675.4 415.7,675.9 C414.8,676.5 414.1,677.0 413.6,677.8 C413.1,678.5 412.9,679.5 412.5,680.4 C412.2,681.3 411.9,682.4 411.5,683.3 C411.0,684.2 410.4,685.1 409.7,685.8 C409.0,686.5 408.1,687.1 407.3,687.7 C406.4,688.3 405.5,688.8 404.6,689.3 C403.7,689.7 402.8,690.2 401.8,690.5 C400.8,690.7 399.7,690.9 398.6,690.8 C397.6,690.6 396.4,690.2 395.4,689.6 C394.4,689.1 393.4,688.1 392.5,687.6 C391.6,687.0 390.8,686.3 390.0,686.1 C389.1,686.0 388.3,686.2 387.3,686.6 C386.3,687.0 385.1,687.9 383.9,688.5 C382.7,689.1 381.2,689.9 380.0,690.0 C378.9,690.1 377.7,689.8 376.9,689.1 C376.1,688.4 375.6,687.0 375.3,685.8 C375.1,684.5 375.3,682.8 375.2,681.5 C375.1,680.3 375.2,679.1 374.9,678.3 C374.5,677.5 373.9,677.1 373.0,676.7 C372.1,676.2 370.8,676.1 369.7,675.7 C368.5,675.3 367.1,674.9 366.2,674.3 C365.3,673.7 364.5,672.8 364.0,671.9 C363.5,671.0 363.4,670.0 363.4,669.0 C363.3,668.0 363.4,666.9 363.5,665.9 C363.6,664.9 363.7,664.0 363.9,663.0 C364.1,662.0 364.2,661.1 364.5,660.2 C364.8,659.2 365.3,658.4 365.7,657.5 C366.2,656.7 366.9,655.9 367.3,655.1 C367.7,654.3 368.1,653.5 368.2,652.6 C368.4,651.6 368.2,650.6 368.1,649.4 C368.0,648.3 367.6,646.8 367.7,645.6 C367.7,644.4 367.8,642.9 368.3,642.0 C368.9,641.1 370.0,640.4 371.1,640.1 C372.3,639.8 374.0,640.1 375.4,640.4 C376.9,640.6 378.5,641.3 379.7,641.6 C380.9,641.8 381.8,642.0 382.6,641.7 C383.5,641.3 383.9,640.5 384.6,639.6 C385.3,638.6 385.8,637.1 386.6,636.1 C387.4,635.1 388.3,634.0 389.3,633.5 C390.3,633.0 391.5,633.0 392.5,633.2 C393.5,633.5 394.6,634.3 395.5,635.0 C396.5,635.7 397.3,636.7 398.1,637.5 C399.0,638.2 399.7,638.8 400.5,639.3 C401.3,639.7 402.1,640.0 402.9,640.4 C403.8,640.8 404.6,641.0 405.4,641.4 C406.2,641.8 407.0,642.3 407.8,642.7 C408.6,643.1 409.4,643.5 410.3,643.9 C411.3,644.3 412.3,644.5 413.3,644.9 C414.4,645.3 415.6,645.6 416.5,646.2 C417.4,646.7 418.4,647.4 418.8,648.3 C419.3,649.2 419.3,650.4 419.2,651.6 C419.0,652.7 418.2,654.0 417.7,655.1 C417.2,656.2 416.4,657.2 416.2,658.1 C416.1,659.0 416.2,659.7 416.7,660.5 C417.3,661.4 418.5,662.1 419.6,663.0 Z" fill="#5f4697" />
<path d="M419.4,662.5 C419.8,663.3 419.5,664.4 418.7,665.1 C417.9,665.9 415.9,666.5 414.6,667.0 C413.3,667.5 411.6,667.6 410.9,668.2 C410.3,668.7 410.4,669.3 410.7,670.2 C411.0,671.1 412.3,672.5 412.8,673.6 C413.3,674.8 413.8,676.3 413.6,677.1 C413.3,677.9 412.3,678.4 411.3,678.5 C410.3,678.7 408.7,678.3 407.6,678.2 C406.5,678.1 405.5,677.8 404.8,678.0 C404.0,678.2 403.7,678.7 403.2,679.3 C402.7,679.9 402.4,680.8 401.9,681.4 C401.4,682.1 400.9,682.7 400.2,683.2 C399.6,683.7 398.9,684.1 398.2,684.5 C397.4,684.8 396.7,685.2 395.9,685.3 C395.1,685.4 394.3,685.4 393.5,685.0 C392.7,684.7 392.0,683.9 391.3,683.3 C390.6,682.7 390.2,681.6 389.5,681.3 C388.9,680.9 388.3,680.9 387.4,681.2 C386.5,681.5 385.4,682.7 384.2,683.3 C383.1,683.9 381.6,684.8 380.6,684.8 C379.7,684.7 378.9,684.1 378.6,683.1 C378.2,682.1 378.7,680.1 378.8,678.8 C378.9,677.5 379.6,676.0 379.4,675.2 C379.2,674.4 378.6,674.3 377.5,674.1 C376.5,673.9 374.6,674.3 373.3,674.2 C372.0,674.0 370.4,673.7 369.7,673.1 C369.1,672.4 369.1,671.3 369.4,670.3 C369.7,669.3 370.9,668.1 371.5,667.2 C372.1,666.2 372.9,665.4 373.1,664.6 C373.3,663.9 373.1,663.2 372.9,662.5 C372.6,661.8 372.0,661.0 371.8,660.2 C371.5,659.4 371.3,658.6 371.2,657.8 C371.2,657.0 371.3,656.1 371.4,655.3 C371.6,654.5 371.8,653.7 372.2,653.0 C372.5,652.3 373.1,651.6 373.8,651.1 C374.6,650.7 375.7,650.5 376.7,650.3 C377.6,650.1 378.8,650.2 379.5,649.9 C380.2,649.6 380.6,649.2 380.8,648.4 C381.0,647.5 380.6,646.0 380.7,644.8 C380.7,643.6 380.7,641.9 381.2,641.2 C381.7,640.4 382.7,640.1 383.7,640.4 C384.7,640.7 386.1,642.1 387.1,642.9 C388.2,643.7 389.1,645.1 389.8,645.3 C390.6,645.5 391.0,645.0 391.6,644.2 C392.2,643.4 392.7,641.5 393.5,640.4 C394.3,639.3 395.3,638.0 396.1,637.7 C396.9,637.4 397.9,638.0 398.6,638.7 C399.3,639.3 399.7,640.9 400.2,641.8 C400.7,642.7 401.1,643.7 401.6,644.2 C402.2,644.7 402.9,644.7 403.7,644.8 C404.5,644.9 405.5,644.6 406.4,644.7 C407.3,644.8 408.2,645.0 409.0,645.3 C409.8,645.6 410.5,646.1 411.2,646.5 C411.9,647.0 412.6,647.6 413.1,648.2 C413.6,648.9 414.0,649.7 414.1,650.6 C414.2,651.5 413.9,652.6 413.6,653.5 C413.4,654.5 412.7,655.5 412.7,656.3 C412.6,657.1 412.8,657.6 413.5,658.3 C414.1,658.9 415.6,659.4 416.6,660.1 C417.6,660.8 419.1,661.7 419.4,662.5 Z" fill="#7a5fb0" fill-opacity="0.8" />
<path d="M404.4 643.2h.1M407.8 660.0h.1M412.8 647.8h.1M399.7 654.8h.1M377.1 676.0h.1M396.2 651.0h.1M397.0 687.3h.1M384.8 674.8h.1M410.3 682.2h.1M404.8 658.2h.1M384.3 655.5h.1M386.3 683.2h.1M412.8 646.2h.1M387.3 644.5h.1M389.9 669.3h.1M413.0 663.2h.1M412.3 676.8h.1M399.8 665.4h.1M416.3 671.6h.1M384.4 683.9h.1M403.4 658.9h.1M385.1 668.7h.1M374.9 674.6h.1M405.8 682.8h.1M377.2 666.4h.1M396.6 667.3h.1M401.6 650.9h.1M386.2 640.2h.1M413.1 670.1h.1M378.0 665.7h.1M376.7 672.1h.1M380.1 682.1h.1M374.9 642.6h.1M400.5 684.0h.1M388.5 644.1h.1M370.2 657.1h.1M415.2 669.0h.1M392.7 663.3h.1M376.6 647.2h.1M379.9 674.8h.1M397.5 687.2h.1M379.7 651.3h.1M377.6 675.9h.1M370.5 658.8h.1M409.7 673.8h.1M382.8 643.0h.1M401.9 667.2h.1M370.5 653.1h.1M380.8 662.0h.1M380.8 668.0h.1M372.7 644.9h.1M404.5 664.8h.1M398.0 675.1h.1M405.5 645.1h.1M407.0 656.3h.1M405.5 673.0h.1M369.3 658.9h.1M409.5 680.1h.1M404.3 652.6h.1M415.2 664.8h.1M376.7 663.3h.1M403.8 649.4h.1M412.8 674.1h.1M409.9 659.4h.1M417.1 652.0h.1M392.8 679.7h.1M399.8 683.7h.1M383.3 642.5h.1M399.4 680.1h.1M377.0 677.1h.1M370.4 641.9h.1M412.9 656.2h.1M406.2 662.6h.1M400.0 654.0h.1M396.8 647.6h.1M402.7 660.5h.1M409.6 682.0h.1M380.6 668.5h.1M375.6 653.2h.1M417.7 669.1h.1M391.2 659.9h.1M385.2 671.7h.1M388.3 641.9h.1M402.8 654.1h.1M400.4 674.2h.1M396.9 683.2h.1M366.6 664.2h.1M379.6 667.6h.1M409.4 666.0h.1M379.9 657.5h.1M377.3 680.9h.1M387.1 647.0h.1M418.1 665.5h.1M396.4 687.9h.1M400.8 678.7h.1M384.0 662.6h.1M381.1 676.2h.1M380.1 650.7h.1M386.7 682.5h.1M395.1 644.4h.1M405.3 681.1h.1M403.6 661.2h.1M412.7 672.4h.1M387.2 659.1h.1M395.0 639.8h.1M408.1 671.2h.1M378.8 685.9h.1M391.0 645.6h.1M414.0 670.0h.1M396.1 673.6h.1M395.9 679.3h.1M414.1 663.3h.1M407.3 678.5h.1M408.0 657.5h.1M391.9 664.1h.1M406.7 650.2h.1M366.5 671.2h.1M399.9 677.1h.1M415.9 649.7h.1M401.0 669.5h.1M387.5 636.8h.1M371.5 666.5h.1M389.5 643.1h.1M387.2 649.7h.1M407.2 655.8h.1M392.3 648.2h.1M369.8 673.6h.1M392.3 677.7h.1M368.9 653.7h.1M408.6 653.1h.1M396.3 670.4h.1M403.3 658.5h.1M369.5 649.9h.1M402.3 680.7h.1M397.2 666.4h.1M377.8 657.9h.1M386.0 671.2h.1M403.4 650.5h.1M416.3 651.7h.1M382.4 680.8h.1M366.2 668.3h.1M404.4 653.3h.1M410.9 646.4h.1M404.6 651.5h.1M397.0 679.1h.1M406.0 672.2h.1M401.4 655.5h.1M378.3 658.3h.1M397.8 669.1h.1M384.1 646.8h.1M394.2 649.3h.1M372.3 661.6h.1M370.5 667.9h.1M381.6 649.5h.1M398.0 683.5h.1M413.7 660.5h.1M389.1 664.4h.1M399.2 664.3h.1M372.1 672.1h.1M396.1 644.6h.1M407.4 681.4h.1M390.4 638.3h.1M389.2 658.6h.1M407.2 651.5h.1M397.7 645.8h.1M386.0 666.0h.1M396.5 643.1h.1M390.3 655.0h.1M401.5 669.7h.1M409.7 681.0h.1M413.1 655.7h.1M374.5 669.6h.1M388.4 682.9h.1M365.2 666.6h.1M378.2 671.4h.1M391.0 665.0h.1M389.9 641.4h.1M406.7 666.8h.1M367.0 664.4h.1M413.4 650.3h.1M400.1 674.2h.1M399.4 653.5h.1M408.7 653.2h.1M382.2 687.7h.1M394.2 645.6h.1M408.4 660.3h.1M370.8 672.7h.1M388.5 642.7h.1M377.3 656.3h.1M411.2 654.8h.1M383.6 685.8h.1M400.8 660.2h.1M372.2 662.9h.1M383.8 683.0h.1M401.2 675.8h.1M399.4 651.3h.1M408.8 658.5h.1M381.1 657.3h.1M367.6 667.1h.1M404.5 646.5h.1M402.8 663.1h.1M410.1 671.0h.1M370.2 643.5h.1M394.8 667.6h.1M403.5 686.4h.1M404.3 677.7h.1M411.6 664.4h.1M369.3 666.3h.1M384.0 679.8h.1M394.6 664.8h.1M400.1 670.7h.1M394.0 656.0h.1M393.7 645.7h.1M413.9 657.0h.1M411.1 652.8h.1M370.4 655.3h.1M399.0 680.5h.1M395.7 669.9h.1M388.9 650.6h.1M418.6 668.7h.1M394.5 643.2h.1M403.0 683.8h.1M376.9 652.8h.1M414.7 648.3h.1M387.8 665.1h.1M398.5 679.3h.1M408.8 672.8h.1M400.2 683.9h.1M388.1 656.9h.1M391.6 678.2h.1M385.6 678.2h.1M387.7 683.7h.1M366.6 661.8h.1M400.0 659.1h.1M402.4 685.1h.1M415.5 647.6h.1M420.0 666.2h.1M383.5 669.8h.1M416.1 670.2h.1M414.2 676.0h.1M410.8 675.4h.1M396.5 662.6h.1M400.8 641.9h.1M377.7 647.9h.1M373.5 673.6h.1M389.6 676.6h.1M400.7 651.9h.1M394.7 681.0h.1M402.9 652.8h.1M397.7 663.1h.1M389.8 639.1h.1M402.7 669.2h.1M382.2 652.5h.1M416.7 673.7h.1M403.1 641.8h.1M408.7 663.8h.1M395.6 681.2h.1M404.7 666.6h.1M389.2 662.9h.1M388.2 671.0h.1M373.3 645.9h.1M386.2 648.0h.1M385.0 650.8h.1M399.6 669.0h.1M389.1 677.6h.1M381.6 649.7h.1M366.8 661.2h.1M368.3 655.4h.1M408.0 671.0h.1M405.7 670.9h.1M406.1 665.2h.1M385.9 646.3h.1M389.9 670.5h.1M411.8 670.8h.1M405.5 679.9h.1M408.9 670.6h.1M385.2 656.7h.1M385.5 645.1h.1M376.4 680.3h.1M407.6 657.4h.1M407.5 647.5h.1M393.7 676.2h.1M399.3 648.9h.1M388.8 662.0h.1M380.2 659.1h.1M415.3 659.3h.1M393.9 639.6h.1M402.8 651.1h.1M381.9 670.2h.1M370.3 673.2h.1M376.2 645.3h.1M403.8 642.2h.1M409.4 651.5h.1M381.2 651.1h.1M394.1 666.2h.1M396.7 680.4h.1M397.8 657.5h.1M398.2 640.7h.1M374.4 667.9h.1M406.3 647.6h.1" stroke="#a58ccf" stroke-opacity="0.55" stroke-width="1.1" stroke-linecap="square" fill="none"/>
<path d="M383.9,650.1 L382.8,648.7 L380.0,647.7 L377.4,646.3 L376.2,645.5 M401.3,647.6 L403.3,646.6 L406.3,643.2 L408.9,642.8 L410.3,640.2 M404.4,661.1 L407.8,662.7 L409.9,664.5 L412.4,666.4 L415.9,668.6 M386.0,670.3 L383.0,671.8 L379.9,672.6 L377.9,675.4 L374.6,676.4 M396.7,675.5 L397.6,677.7 L399.5,680.8 L400.6,683.3 L401.8,686.6 M389.1,654.5 L388.2,656.2 L385.9,657.3 L381.7,659.0 L380.5,659.6 M407.3,653.7 L411.3,653.5 L412.3,651.5 L414.8,650.2 L418.5,649.4 M371.1,657.9 L369.2,659.9 L367.8,661.3 L366.6,662.4 L365.5,663.6 M414.8,676.5 L415.1,677.7 L416.5,677.8 L419.1,679.3 L419.3,680.9 M378.5,683.6 L380.7,682.7 L381.1,681.2 L382.0,681.1 L383.5,680.2 " fill="none" stroke="#eef3f4" stroke-width="0.9" stroke-opacity="0.85" stroke-linejoin="round"/>
<path d="M390.2 662.7h.1M400.7 664.3h.1M419.3 688.8h.1M409.5 678.6h.1M401.6 656.6h.1M401.8 667.0h.1M362.8 682.0h.1M407.1 667.2h.1M370.6 663.8h.1M404.4 636.2h.1M389.5 674.3h.1M417.7 672.3h.1M409.5 687.8h.1M418.5 630.4h.1M385.7 628.3h.1M427.5 670.8h.1M374.8 637.7h.1M375.4 665.5h.1M394.8 626.4h.1M408.0 644.6h.1M380.0 690.9h.1M427.1 682.9h.1M426.0 663.0h.1M362.3 650.5h.1M404.5 686.5h.1M383.0 630.7h.1M431.0 672.6h.1M422.2 657.8h.1M380.7 646.8h.1M368.6 649.9h.1M401.0 688.6h.1M431.7 657.6h.1M374.4 688.6h.1M409.8 665.1h.1M420.1 683.3h.1M396.8 667.6h.1M416.8 627.6h.1M398.1 652.6h.1M418.3 638.6h.1M422.0 640.5h.1M393.3 661.8h.1M381.9 672.9h.1M419.4 690.5h.1M389.3 686.0h.1M403.7 677.9h.1M371.7 655.4h.1M416.3 667.4h.1M372.2 664.3h.1M416.8 681.2h.1M381.4 626.2h.1M424.5 678.7h.1M418.1 662.5h.1M382.3 656.0h.1M363.3 679.3h.1M373.6 674.7h.1M383.7 636.3h.1M387.3 646.3h.1M385.0 653.6h.1M397.0 626.6h.1M419.2 649.8h.1M406.9 641.4h.1M377.8 644.6h.1M382.5 683.4h.1M372.6 626.5h.1M431.5 639.6h.1M429.9 669.9h.1M424.9 654.4h.1M393.6 677.3h.1M391.6 655.9h.1M365.5 667.3h.1M378.5 682.7h.1M376.2 681.5h.1M408.8 673.9h.1M425.7 679.0h.1M374.2 657.7h.1M422.2 653.5h.1M366.4 645.5h.1M420.1 628.2h.1M404.0 641.2h.1M362.7 678.6h.1M422.3 636.7h.1M385.3 638.9h.1M414.1 685.2h.1M424.1 637.9h.1M379.2 664.3h.1M430.2 642.2h.1M415.2 645.8h.1M380.8 663.2h.1M364.5 655.9h.1M368.0 636.8h.1M373.7 674.3h.1M408.1 683.0h.1M399.6 680.8h.1M383.8 676.0h.1M408.0 674.0h.1M394.3 665.7h.1M408.8 655.2h.1M402.8 660.2h.1M429.0 668.5h.1M425.8 669.2h.1M420.9 680.0h.1M359.7 668.3h.1M377.7 636.3h.1M411.6 659.5h.1M410.1 666.7h.1M383.6 628.0h.1M388.9 645.6h.1M423.8 638.1h.1M388.8 682.1h.1M388.1 637.5h.1M374.3 646.2h.1M399.0 689.1h.1M386.0 660.8h.1M426.9 635.3h.1M392.6 682.0h.1M404.3 690.6h.1M368.8 642.5h.1M398.7 684.4h.1M427.5 662.7h.1M395.3 678.3h.1M426.5 648.1h.1M385.0 637.9h.1M392.6 659.1h.1M429.3 655.5h.1M420.3 634.7h.1M378.3 680.8h.1M421.3 655.7h.1M384.8 662.8h.1M411.2 654.4h.1M365.1 651.9h.1M389.1 668.7h.1M377.1 681.3h.1M415.7 637.1h.1M380.1 667.5h.1M376.9 652.6h.1M422.4 644.8h.1M393.4 658.1h.1M398.5 684.3h.1M415.1 645.8h.1M415.6 689.4h.1M409.0 676.2h.1M384.1 663.7h.1M394.3 643.7h.1M416.5 651.5h.1M399.8 682.5h.1M383.1 648.7h.1M369.9 650.6h.1M367.9 641.1h.1M407.1 641.8h.1M374.5 655.7h.1M375.0 638.4h.1M382.8 675.2h.1M374.7 658.6h.1M371.4 681.9h.1M392.7 656.3h.1M396.2 643.5h.1M372.2 650.0h.1M382.7 657.4h.1M372.6 651.0h.1M410.4 672.5h.1" stroke="#ecc4e6" stroke-opacity="0.5" stroke-width="1.0" stroke-linecap="square" fill="none"/>
<path d="M387.8,647.4 C389.4,647.5 391.1,651.8 392.7,651.6 C394.4,651.5 396.3,646.7 397.6,646.5 C399.0,646.4 400.6,649.4 400.9,650.8 C401.2,652.2 398.2,654.6 399.3,655.0 C400.4,655.5 405.7,652.9 407.5,653.4 C409.3,653.8 410.6,656.3 409.9,657.6 C409.3,658.9 405.2,659.7 403.4,661.0 C401.6,662.3 399.4,663.3 399.3,665.2 C399.1,667.2 402.8,670.2 402.6,672.9 C402.3,675.6 399.3,681.3 397.6,681.4 C396.0,681.5 394.1,676.2 392.7,673.8 C391.4,671.3 391.1,667.5 389.4,667.0 C387.8,666.4 384.2,670.6 382.9,670.4 C381.5,670.1 380.4,666.8 381.2,665.2 C382.1,663.7 387.0,662.7 387.8,661.0 C388.6,659.3 387.0,656.8 386.2,655.0 C385.3,653.3 382.6,652.1 382.9,650.8 C383.2,649.5 386.2,647.3 387.8,647.4 Z" fill="#f4f7f7" />
<path d="M407.0,652.0 C407.5,651.0 411.0,649.5 412.0,650.0 C413.0,650.5 413.5,654.0 413.0,655.0 C412.5,656.0 410.0,656.5 409.0,656.0 C408.0,655.5 406.5,653.0 407.0,652.0 Z" fill="#f4f7f7" />
</g></g>
<rect x="357" y="629.1" width="78.6" height="58.4" fill="#fff" filter="url(#tex)" opacity="0.18" clip-path="url(#oc1)"/>
<rect x="357.0" y="629.1" width="78.6" height="58.4" fill="none" stroke="#555" stroke-width="0.6"/>
<line x1="359.1" y1="631.4" x2="378.5" y2="631.4" stroke="#b04a2a" stroke-width="0.9"/>
<rect x="436.4" y="629.1" width="78.6" height="58.4" fill="#e3efed"/>
<g clip-path="url(#oc2)"><g filter="url(#wig)">
<path d="M500.9,658.4 C500.9,659.3 501.0,660.3 501.0,661.2 C501.0,662.1 501.0,663.1 501.0,664.1 C500.9,665.0 500.8,666.0 500.6,666.9 C500.4,667.9 500.1,668.8 499.8,669.7 C499.4,670.6 498.9,671.4 498.4,672.3 C497.9,673.1 497.3,673.8 496.7,674.6 C496.1,675.3 495.5,676.0 494.8,676.6 C494.1,677.3 493.5,677.9 492.8,678.5 C492.1,679.1 491.4,679.7 490.6,680.3 C489.9,680.8 489.1,681.3 488.3,681.8 C487.5,682.2 486.7,682.6 485.8,683.0 C485.0,683.3 484.1,683.6 483.3,683.9 C482.4,684.1 481.5,684.4 480.7,684.6 C479.8,684.8 478.9,684.9 478.0,685.1 C477.1,685.3 476.2,685.5 475.3,685.6 C474.4,685.7 473.5,685.8 472.5,685.9 C471.6,685.9 470.6,685.9 469.7,685.8 C468.8,685.7 467.8,685.5 466.9,685.2 C466.0,684.9 465.1,684.5 464.3,684.0 C463.5,683.5 462.7,682.9 462.0,682.3 C461.3,681.7 460.6,681.0 459.9,680.3 C459.3,679.7 458.7,679.0 458.0,678.3 C457.4,677.6 456.8,677.0 456.1,676.3 C455.5,675.6 454.9,675.0 454.3,674.3 C453.7,673.5 453.1,672.8 452.5,672.0 C452.0,671.3 451.5,670.5 451.0,669.6 C450.6,668.8 450.2,667.9 449.9,667.0 C449.6,666.0 449.4,665.1 449.2,664.2 C449.0,663.2 448.9,662.2 448.8,661.3 C448.7,660.3 448.7,659.4 448.7,658.4 C448.7,657.4 448.8,656.5 448.9,655.5 C449.0,654.6 449.1,653.6 449.4,652.7 C449.6,651.7 449.9,650.8 450.3,650.0 C450.6,649.1 451.1,648.2 451.5,647.4 C452.0,646.6 452.5,645.8 453.1,645.1 C453.6,644.3 454.2,643.6 454.7,642.9 C455.2,642.1 455.8,641.4 456.3,640.7 C456.9,639.9 457.4,639.2 458.0,638.5 C458.6,637.7 459.2,637.0 459.8,636.3 C460.5,635.6 461.2,634.9 461.9,634.4 C462.7,633.8 463.5,633.3 464.3,632.9 C465.2,632.4 466.1,632.1 467.0,631.9 C467.9,631.7 468.9,631.6 469.8,631.5 C470.7,631.4 471.6,631.4 472.6,631.4 C473.5,631.4 474.4,631.5 475.3,631.5 C476.2,631.6 477.1,631.6 478.0,631.7 C478.9,631.8 479.8,631.9 480.7,632.0 C481.6,632.2 482.5,632.4 483.4,632.6 C484.3,632.9 485.1,633.2 486.0,633.5 C486.8,633.9 487.7,634.3 488.5,634.7 C489.3,635.2 490.0,635.7 490.8,636.2 C491.6,636.8 492.3,637.3 493.1,637.9 C493.8,638.5 494.5,639.1 495.2,639.8 C495.9,640.5 496.6,641.2 497.1,641.9 C497.7,642.7 498.3,643.5 498.7,644.4 C499.2,645.2 499.5,646.2 499.8,647.1 C500.1,648.0 500.3,649.0 500.4,649.9 C500.5,650.9 500.6,651.9 500.6,652.8 C500.7,653.8 500.7,654.7 500.8,655.6 C500.8,656.6 500.8,657.5 500.9,658.4 Z" fill="#c46cb0" />
<path d="M500.1,658.4 C500.1,659.3 500.0,660.2 499.8,661.1 C499.7,661.9 499.4,662.8 499.1,663.6 C498.8,664.5 498.4,665.3 498.0,666.0 C497.6,666.8 497.2,667.6 496.8,668.3 C496.4,669.1 496.0,669.8 495.6,670.6 C495.2,671.3 494.9,672.1 494.5,672.8 C494.0,673.6 493.6,674.4 493.2,675.1 C492.7,675.8 492.2,676.6 491.7,677.2 C491.1,677.9 490.5,678.5 489.8,679.1 C489.1,679.7 488.4,680.2 487.7,680.6 C486.9,681.0 486.1,681.4 485.3,681.7 C484.5,682.1 483.7,682.4 482.9,682.6 C482.1,682.8 481.2,683.1 480.4,683.2 C479.6,683.4 478.7,683.5 477.9,683.6 C477.0,683.7 476.1,683.7 475.3,683.7 C474.5,683.7 473.6,683.6 472.8,683.4 C471.9,683.3 471.1,683.1 470.3,682.8 C469.5,682.6 468.7,682.3 467.9,682.0 C467.1,681.7 466.3,681.4 465.6,681.1 C464.8,680.8 464.0,680.5 463.2,680.1 C462.4,679.8 461.6,679.4 460.9,679.0 C460.1,678.6 459.3,678.1 458.6,677.6 C457.9,677.1 457.2,676.5 456.7,675.8 C456.1,675.1 455.5,674.4 455.1,673.6 C454.7,672.8 454.3,672.0 454.0,671.2 C453.7,670.3 453.5,669.4 453.2,668.6 C453.0,667.7 452.9,666.9 452.7,666.0 C452.5,665.2 452.3,664.3 452.2,663.5 C452.0,662.7 451.8,661.8 451.7,661.0 C451.6,660.1 451.4,659.3 451.4,658.4 C451.3,657.5 451.3,656.7 451.3,655.8 C451.3,654.9 451.4,654.0 451.6,653.2 C451.7,652.3 451.9,651.5 452.2,650.6 C452.4,649.8 452.7,648.9 453.1,648.1 C453.4,647.3 453.7,646.5 454.1,645.7 C454.5,644.9 455.0,644.2 455.4,643.4 C455.9,642.7 456.4,642.0 457.0,641.3 C457.6,640.7 458.2,640.1 458.9,639.5 C459.6,639.0 460.3,638.5 461.1,638.1 C461.8,637.6 462.6,637.3 463.3,636.9 C464.1,636.6 464.9,636.3 465.7,636.0 C466.4,635.7 467.2,635.4 468.0,635.1 C468.8,634.7 469.5,634.4 470.3,634.1 C471.1,633.8 471.9,633.5 472.8,633.2 C473.6,633.0 474.4,632.8 475.3,632.6 C476.2,632.5 477.1,632.5 477.9,632.5 C478.8,632.6 479.7,632.8 480.5,633.0 C481.3,633.2 482.2,633.6 483.0,633.9 C483.8,634.3 484.5,634.8 485.3,635.2 C486.0,635.6 486.7,636.1 487.4,636.6 C488.1,637.1 488.8,637.6 489.5,638.2 C490.2,638.7 490.8,639.2 491.4,639.8 C492.1,640.4 492.7,641.0 493.2,641.7 C493.8,642.3 494.3,643.0 494.8,643.7 C495.3,644.4 495.7,645.2 496.1,645.9 C496.6,646.7 496.9,647.5 497.3,648.2 C497.7,649.0 498.0,649.8 498.3,650.6 C498.7,651.4 499.0,652.3 499.2,653.1 C499.5,654.0 499.7,654.8 499.9,655.7 C500.0,656.6 500.1,657.5 500.1,658.4 Z" fill="#d7a0d0" />
<path d="M498.8,658.6 C499.0,659.4 499.1,660.4 498.9,661.2 C498.7,662.0 498.2,662.8 497.7,663.6 C497.3,664.3 496.7,665.0 496.3,665.7 C496.0,666.5 495.8,667.2 495.7,668.1 C495.5,668.9 495.7,669.9 495.5,670.8 C495.4,671.7 495.2,672.6 494.7,673.3 C494.2,674.0 493.5,674.5 492.7,675.0 C492.0,675.4 491.0,675.6 490.3,675.9 C489.5,676.3 488.9,676.7 488.3,677.2 C487.6,677.7 487.2,678.5 486.6,679.1 C486.1,679.7 485.5,680.4 484.8,680.9 C484.1,681.3 483.3,681.6 482.5,681.7 C481.7,681.9 480.9,681.9 480.0,681.9 C479.2,681.9 478.4,681.9 477.6,681.9 C476.9,681.9 476.1,681.9 475.3,681.9 C474.5,681.9 473.7,681.8 473.0,681.8 C472.2,681.8 471.4,681.7 470.6,681.7 C469.8,681.6 469.0,681.6 468.2,681.4 C467.4,681.3 466.6,681.1 465.9,680.7 C465.2,680.3 464.5,679.7 464.0,679.1 C463.4,678.5 463.0,677.7 462.4,677.1 C461.9,676.5 461.3,676.0 460.7,675.6 C460.0,675.1 459.1,674.9 458.4,674.5 C457.6,674.1 456.7,673.7 456.1,673.1 C455.6,672.5 455.2,671.7 455.0,670.8 C454.8,670.0 455.0,669.0 454.9,668.1 C454.8,667.2 454.8,666.4 454.5,665.6 C454.3,664.9 453.7,664.2 453.3,663.5 C452.8,662.7 452.2,662.0 451.9,661.2 C451.6,660.4 451.5,659.4 451.6,658.6 C451.7,657.8 452.1,656.9 452.3,656.1 C452.6,655.3 453.0,654.5 453.3,653.7 C453.5,652.9 453.7,652.1 453.9,651.3 C454.0,650.5 454.2,649.7 454.4,648.9 C454.6,648.1 454.9,647.3 455.2,646.5 C455.6,645.8 456.0,645.0 456.4,644.3 C456.9,643.6 457.4,642.9 458.0,642.3 C458.5,641.7 459.2,641.2 459.9,640.8 C460.6,640.3 461.4,640.1 462.1,639.7 C462.9,639.3 463.6,639.0 464.2,638.5 C464.9,638.1 465.4,637.4 466.0,636.9 C466.7,636.3 467.3,635.6 468.0,635.2 C468.7,634.8 469.6,634.6 470.4,634.6 C471.2,634.6 472.1,635.1 473.0,635.3 C473.8,635.5 474.5,635.9 475.3,636.0 C476.1,636.1 476.8,635.9 477.6,635.7 C478.4,635.5 479.3,635.1 480.1,635.0 C480.9,634.9 481.8,634.9 482.6,635.2 C483.3,635.5 484.0,636.2 484.6,636.8 C485.2,637.4 485.7,638.2 486.3,638.7 C486.9,639.2 487.5,639.6 488.2,640.0 C488.9,640.5 489.7,640.7 490.4,641.1 C491.1,641.5 491.8,642.0 492.4,642.5 C493.0,643.1 493.5,643.7 494.0,644.4 C494.4,645.1 494.8,645.9 495.2,646.6 C495.5,647.4 495.8,648.2 496.1,648.9 C496.3,649.7 496.5,650.6 496.7,651.4 C496.9,652.1 497.0,652.9 497.2,653.7 C497.4,654.5 497.7,655.3 498.0,656.1 C498.3,656.9 498.7,657.8 498.8,658.6 Z" fill="#5d4595" />
<path d="M494.8,658.6 C494.1,659.3 492.7,659.9 491.9,660.5 C491.1,661.0 490.3,661.4 490.1,662.0 C489.9,662.6 490.3,663.2 490.7,664.0 C491.1,664.8 492.1,665.9 492.6,666.9 C493.0,667.8 493.5,669.0 493.4,669.8 C493.3,670.6 492.6,671.2 491.9,671.6 C491.2,671.9 489.9,671.9 489.0,671.9 C488.1,672.0 487.1,671.8 486.4,672.0 C485.7,672.1 485.2,672.4 484.7,672.7 C484.3,673.1 484.0,673.7 483.5,674.2 C483.1,674.7 482.7,675.3 482.2,675.7 C481.7,676.2 481.2,676.5 480.6,676.9 C480.1,677.2 479.5,677.6 478.9,677.9 C478.3,678.2 477.6,678.6 477.0,678.7 C476.3,678.7 475.6,678.7 475.0,678.4 C474.4,678.1 473.7,677.3 473.2,676.7 C472.7,676.0 472.3,674.9 471.8,674.4 C471.4,673.9 471.0,673.4 470.4,673.4 C469.9,673.4 469.1,674.0 468.3,674.5 C467.5,674.9 466.3,675.9 465.4,676.2 C464.5,676.5 463.4,676.6 462.9,676.2 C462.3,675.9 462.0,674.8 462.0,673.9 C462.0,672.9 462.5,671.4 462.6,670.4 C462.8,669.4 463.2,668.4 463.0,667.8 C462.8,667.2 462.3,667.0 461.6,666.8 C460.8,666.5 459.5,666.6 458.6,666.3 C457.7,666.0 456.6,665.6 456.0,665.1 C455.4,664.6 455.2,663.8 455.2,663.0 C455.1,662.3 455.5,661.5 455.8,660.7 C456.1,660.0 456.5,659.3 456.8,658.6 C457.0,657.9 457.2,657.3 457.4,656.6 C457.6,656.0 457.7,655.4 457.8,654.7 C458.0,654.1 458.2,653.5 458.3,652.9 C458.5,652.2 458.6,651.6 458.6,650.9 C458.6,650.2 458.5,649.3 458.4,648.5 C458.4,647.7 458.2,646.6 458.4,645.9 C458.6,645.1 459.0,644.3 459.6,644.0 C460.3,643.6 461.4,643.7 462.4,643.8 C463.3,643.9 464.6,644.5 465.5,644.7 C466.3,644.9 467.0,645.2 467.5,644.9 C468.0,644.6 468.1,643.7 468.3,642.8 C468.6,641.9 468.7,640.3 469.1,639.4 C469.5,638.4 470.0,637.4 470.7,637.1 C471.3,636.8 472.2,637.2 472.9,637.7 C473.6,638.3 474.4,639.6 475.0,640.4 C475.6,641.2 476.1,642.2 476.6,642.7 C477.1,643.1 477.6,643.1 478.2,642.9 C478.7,642.8 479.4,642.2 480.2,641.9 C480.9,641.6 481.7,641.2 482.4,641.1 C483.1,641.0 483.8,641.2 484.3,641.5 C484.9,641.8 485.4,642.3 485.9,642.8 C486.4,643.2 486.8,643.7 487.2,644.3 C487.6,644.8 488.0,645.4 488.2,646.0 C488.5,646.6 488.6,647.4 488.7,648.1 C488.9,648.7 488.8,649.5 488.9,650.1 C489.1,650.7 489.3,651.2 489.9,651.6 C490.4,652.1 491.3,652.3 492.1,652.7 C493.0,653.1 494.2,653.5 494.9,654.1 C495.6,654.7 496.2,655.5 496.2,656.3 C496.2,657.0 495.5,657.9 494.8,658.6 Z" fill="#7a5fb0" fill-opacity="0.8" />
<path d="M494.0 658.1h.1M478.2 651.7h.1M457.6 651.8h.1M477.7 641.1h.1M480.8 652.4h.1M493.8 665.5h.1M487.6 665.1h.1M465.9 649.0h.1M462.1 670.6h.1M493.3 648.5h.1M461.0 653.2h.1M467.3 672.8h.1M475.1 677.8h.1M483.8 660.6h.1M482.0 665.5h.1M494.1 647.2h.1M480.3 658.8h.1M466.4 679.3h.1M471.6 638.4h.1M472.9 636.4h.1M471.3 679.0h.1M484.3 660.2h.1M458.6 664.3h.1M485.0 639.2h.1M454.9 651.6h.1M464.7 678.6h.1M471.8 650.9h.1M476.4 648.5h.1M483.0 659.6h.1M477.3 657.4h.1M467.5 679.1h.1M492.1 662.4h.1M494.1 649.3h.1M465.3 642.5h.1M472.4 672.4h.1M474.5 657.8h.1M481.4 644.1h.1M472.2 668.6h.1M488.0 642.1h.1M473.8 657.7h.1M471.6 644.0h.1M483.5 657.3h.1M470.5 667.2h.1M472.1 657.5h.1M471.0 670.7h.1M468.0 651.5h.1M454.1 662.8h.1M476.3 645.0h.1M478.2 643.8h.1M482.1 645.8h.1M483.7 646.8h.1M482.5 642.5h.1M482.9 653.0h.1M463.4 641.6h.1M464.3 650.0h.1M472.9 649.1h.1M487.2 652.6h.1M468.2 664.6h.1M469.1 679.8h.1M468.5 659.0h.1M463.2 675.0h.1M459.0 673.5h.1M486.6 673.4h.1M457.0 657.2h.1M479.4 669.2h.1M491.4 669.2h.1M478.4 674.7h.1M479.7 655.3h.1M475.2 664.5h.1M469.7 651.3h.1M480.0 636.5h.1M454.6 662.6h.1M488.4 661.1h.1M494.1 656.4h.1M462.7 657.0h.1M455.9 664.9h.1M464.2 645.3h.1M470.1 645.1h.1M492.7 657.9h.1M468.7 647.8h.1M472.9 670.4h.1M487.8 649.3h.1M471.8 641.1h.1M468.7 658.4h.1M481.6 672.5h.1M465.5 651.2h.1M453.9 662.5h.1M469.6 660.1h.1M486.5 664.0h.1M473.1 640.8h.1M474.1 678.4h.1M463.1 672.4h.1M485.7 654.8h.1M478.7 647.9h.1M465.0 648.0h.1M492.3 673.3h.1M491.7 664.9h.1M469.3 648.0h.1M460.0 656.5h.1M483.8 641.3h.1M464.4 649.9h.1M456.4 666.0h.1M496.0 652.4h.1M469.2 656.6h.1M484.7 677.3h.1M462.4 640.5h.1M464.8 677.6h.1M474.2 675.9h.1M461.3 660.7h.1M477.0 662.3h.1M491.0 644.1h.1M479.6 667.5h.1M464.9 655.8h.1M462.1 668.7h.1M496.6 658.6h.1M474.8 670.2h.1M462.8 657.4h.1M488.6 664.9h.1M460.4 670.9h.1M467.8 640.6h.1M475.7 659.4h.1M461.4 669.2h.1M494.6 648.8h.1M459.2 656.5h.1M485.0 674.9h.1M492.8 648.6h.1M457.2 662.2h.1M468.8 660.2h.1M480.7 677.7h.1M471.9 674.6h.1M488.3 648.1h.1M485.5 676.6h.1M467.8 647.5h.1M472.7 658.1h.1M483.9 679.6h.1M475.9 649.7h.1M482.0 679.0h.1M488.3 644.8h.1M453.8 656.1h.1M487.1 670.7h.1M472.6 639.2h.1M472.7 676.9h.1M477.0 643.9h.1M460.1 664.6h.1M492.0 646.2h.1M462.4 645.2h.1M481.0 675.6h.1M482.6 641.2h.1M454.6 657.4h.1M459.0 670.1h.1M454.6 657.7h.1M455.7 664.9h.1M494.3 667.6h.1M461.3 673.2h.1M472.5 679.1h.1M476.7 666.7h.1M492.0 652.6h.1M472.5 649.8h.1M464.9 645.2h.1M481.4 675.5h.1M472.5 680.2h.1M489.3 651.7h.1M463.6 662.7h.1M461.9 661.7h.1M477.2 661.4h.1M495.3 658.7h.1M480.7 674.8h.1M490.4 669.7h.1M488.8 648.7h.1M490.2 674.0h.1M471.2 664.5h.1M471.7 638.2h.1M480.1 653.0h.1M458.6 658.3h.1M468.6 646.4h.1M486.5 659.3h.1M477.2 657.7h.1M480.8 660.1h.1M473.0 675.0h.1M469.5 661.3h.1M485.0 674.3h.1M460.8 651.1h.1M475.9 663.6h.1M468.6 673.0h.1M475.9 662.5h.1M477.6 668.8h.1M465.4 678.3h.1M467.8 656.5h.1M486.1 649.8h.1M474.3 657.5h.1M461.7 663.0h.1M489.8 662.7h.1M493.6 660.8h.1M458.7 663.3h.1M468.4 642.0h.1M484.4 676.4h.1M485.0 646.3h.1M494.8 655.4h.1M459.1 655.7h.1M460.4 641.5h.1M455.4 665.3h.1M496.3 657.0h.1M493.2 645.2h.1M460.6 644.7h.1M495.3 657.3h.1M480.5 670.5h.1M469.5 651.6h.1M465.4 675.2h.1M477.9 665.5h.1M472.4 674.0h.1M478.8 653.0h.1M463.4 667.9h.1M481.8 646.1h.1M488.6 653.0h.1M475.4 665.7h.1M473.2 649.2h.1M467.6 665.5h.1M467.4 677.5h.1M460.1 642.2h.1M473.9 642.8h.1M469.6 648.4h.1M468.2 658.9h.1M485.9 663.5h.1M473.0 645.7h.1M475.0 669.0h.1M488.4 676.0h.1M475.5 668.3h.1M454.5 654.3h.1M471.4 661.4h.1M487.5 668.7h.1M495.8 652.2h.1M491.7 665.8h.1M456.8 670.1h.1M467.3 646.1h.1M488.5 646.6h.1M486.5 664.4h.1M468.3 647.2h.1M486.4 642.6h.1M484.3 666.5h.1M471.3 666.4h.1M477.3 647.7h.1M485.5 641.5h.1M485.9 641.9h.1M470.8 676.9h.1M486.3 641.1h.1M491.6 668.5h.1M467.7 655.1h.1M476.0 643.5h.1M469.9 645.6h.1M490.2 668.4h.1M488.4 647.8h.1M463.2 668.2h.1M457.6 650.0h.1M486.4 645.6h.1M485.9 658.6h.1M489.4 666.3h.1M483.6 671.9h.1M459.9 643.0h.1M474.3 641.8h.1M453.7 655.9h.1" stroke="#a58ccf" stroke-opacity="0.55" stroke-width="1.1" stroke-linecap="square" fill="none"/>
<path d="M468.0,650.0 C469.2,650.1 471.2,653.6 472.8,653.2 C474.4,652.8 476.3,647.7 477.6,647.6 C478.9,647.5 479.5,651.9 480.8,652.4 C482.1,652.9 484.5,650.3 485.6,650.8 C486.7,651.3 487.7,654.1 487.2,655.6 C486.7,657.1 482.5,658.0 482.4,659.6 C482.3,661.2 486.7,664.0 486.4,665.2 C486.1,666.4 482.4,667.2 480.8,666.8 C479.2,666.4 478.1,662.5 476.8,662.8 C475.5,663.1 474.3,667.9 472.8,668.4 C471.3,668.9 468.4,667.3 468.0,666.0 C467.6,664.7 470.9,661.9 470.4,660.4 C469.9,658.9 465.6,658.5 464.8,657.2 C464.0,655.9 465.1,653.6 465.6,652.4 C466.1,651.2 466.8,649.9 468.0,650.0 Z" fill="#f2f6f7" />
<path d="M470.0,655.3 L468.3,653.1 L465.1,652.3 L463.6,651.8 L462.3,650.2 M481.1,652.3 L482.6,650.1 L484.9,649.2 L487.0,647.3 L489.2,645.3 M482.7,662.8 L485.9,663.4 L486.7,666.2 L489.8,666.0 L492.9,668.8 M469.3,663.9 L467.1,665.2 L465.7,666.4 L463.6,667.7 L460.4,670.6 M475.8,666.9 L476.7,669.5 L476.8,671.2 L477.9,675.3 L478.9,677.3 M473.7,649.8 L473.8,648.1 L472.3,645.0 L472.3,643.3 L472.6,641.0 " fill="none" stroke="#eef3f4" stroke-width="0.9" stroke-opacity="0.85" stroke-linejoin="round"/>
<circle cx="466.0" cy="652.0" r="1.6" fill="#8d74bf" fill-opacity="0.7"/>
<circle cx="485.0" cy="647.0" r="1.6" fill="#8d74bf" fill-opacity="0.7"/>
<circle cx="488.0" cy="664.0" r="1.6" fill="#8d74bf" fill-opacity="0.7"/>
<circle cx="470.0" cy="668.0" r="1.6" fill="#8d74bf" fill-opacity="0.7"/>
<circle cx="480.0" cy="672.0" r="1.6" fill="#8d74bf" fill-opacity="0.7"/>
<circle cx="463.0" cy="660.0" r="1.6" fill="#8d74bf" fill-opacity="0.7"/>
<circle cx="491.0" cy="656.0" r="1.6" fill="#8d74bf" fill-opacity="0.7"/>
</g></g>
<rect x="436.4" y="629.1" width="78.6" height="58.4" fill="#fff" filter="url(#tex)" opacity="0.18" clip-path="url(#oc2)"/>
<rect x="436.4" y="629.1" width="78.6" height="58.4" fill="none" stroke="#555" stroke-width="0.6"/>
<line x1="438.7" y1="631.4" x2="457.6" y2="631.4" stroke="#b04a2a" stroke-width="0.9"/>
<text x="544.6" y="621.7" font-size="6.5" text-anchor="middle" fill="#231f20" stroke="#231f20"><tspan>Histology</tspan></text>
<text x="544.6" y="629.3" font-size="6.5" text-anchor="middle" fill="#231f20" stroke="#231f20"><tspan>score</tspan></text>
<line x1="527.0" y1="638.5" x2="527.0" y2="691.0" stroke="#444" stroke-width="0.6"/>
<line x1="527.0" y1="691.0" x2="560.8" y2="691.0" stroke="#444" stroke-width="0.6"/>
<line x1="525.4" y1="691.0" x2="527.0" y2="691.0" stroke="#444" stroke-width="0.5"/>
<text x="524.4" y="693.3" font-size="6.5" text-anchor="end" fill="#231f20" stroke="#231f20"><tspan>0</tspan></text>
<line x1="525.4" y1="678.0" x2="527.0" y2="678.0" stroke="#444" stroke-width="0.5"/>
<text x="524.4" y="680.4" font-size="6.5" text-anchor="end" fill="#231f20" stroke="#231f20"><tspan>1</tspan></text>
<line x1="525.4" y1="665.1" x2="527.0" y2="665.1" stroke="#444" stroke-width="0.5"/>
<text x="524.4" y="667.4" font-size="6.5" text-anchor="end" fill="#231f20" stroke="#231f20"><tspan>2</tspan></text>
<line x1="525.4" y1="652.2" x2="527.0" y2="652.2" stroke="#444" stroke-width="0.5"/>
<text x="524.4" y="654.5" font-size="6.5" text-anchor="end" fill="#231f20" stroke="#231f20"><tspan>3</tspan></text>
<line x1="525.4" y1="639.2" x2="527.0" y2="639.2" stroke="#444" stroke-width="0.5"/>
<text x="524.4" y="641.5" font-size="6.5" text-anchor="end" fill="#231f20" stroke="#231f20"><tspan>4</tspan></text>
<line x1="537.8" y1="691.0" x2="537.8" y2="692.6" stroke="#444" stroke-width="0.5"/>
<line x1="551.8" y1="691.0" x2="551.8" y2="692.6" stroke="#444" stroke-width="0.5"/>
<circle cx="535.8" cy="639.2" r="0.9" fill="#111"/>
<circle cx="537.8" cy="639.2" r="0.9" fill="#111"/>
<circle cx="539.8" cy="639.2" r="0.9" fill="#111"/>
<circle cx="534.8" cy="652.2" r="0.9" fill="#111"/>
<circle cx="536.8" cy="652.2" r="0.9" fill="#111"/>
<circle cx="538.8" cy="652.2" r="0.9" fill="#111"/>
<circle cx="540.8" cy="652.2" r="0.9" fill="#111"/>
<circle cx="537.8" cy="665.1" r="0.9" fill="#111"/>
<circle cx="537.8" cy="678.0" r="0.9" fill="#111"/>
<circle cx="551.8" cy="639.2" r="0.9" fill="#f01818"/>
<circle cx="549.8" cy="652.2" r="0.9" fill="#f01818"/>
<circle cx="551.8" cy="652.2" r="0.9" fill="#f01818"/>
<circle cx="553.8" cy="652.2" r="0.9" fill="#f01818"/>
<circle cx="551.8" cy="665.1" r="0.9" fill="#f01818"/>
<circle cx="551.8" cy="678.0" r="0.9" fill="#f01818"/>
<circle cx="548.8" cy="691.0" r="0.9" fill="#f01818"/>
<circle cx="550.8" cy="691.0" r="0.9" fill="#f01818"/>
<circle cx="552.8" cy="691.0" r="0.9" fill="#f01818"/>
<circle cx="554.8" cy="691.0" r="0.9" fill="#f01818"/>
<line x1="534.3" y1="652.2" x2="541.3" y2="652.2" stroke="#222" stroke-width="0.6"/>
<line x1="537.8" y1="656.7" x2="537.8" y2="647.6" stroke="#222" stroke-width="0.5"/>
<line x1="536.0" y1="647.6" x2="539.6" y2="647.6" stroke="#222" stroke-width="0.5"/>
<line x1="536.0" y1="656.7" x2="539.6" y2="656.7" stroke="#222" stroke-width="0.5"/>
<line x1="548.3" y1="670.3" x2="555.3" y2="670.3" stroke="#555" stroke-width="0.6"/>
<line x1="551.8" y1="676.8" x2="551.8" y2="663.8" stroke="#555" stroke-width="0.5"/>
<line x1="550.0" y1="663.8" x2="553.6" y2="663.8" stroke="#555" stroke-width="0.5"/>
<line x1="550.0" y1="676.8" x2="553.6" y2="676.8" stroke="#555" stroke-width="0.5"/>
<text x="544.8" y="639.9" font-size="7.2" text-anchor="middle" fill="#231f20" stroke="#231f20" letter-spacing="0.3"><tspan>*</tspan></text>
<text x="348.3" y="708.8" font-size="11" font-weight="bold" fill="#000">p</text>
<text x="372.8" y="713.6" font-size="6.5" fill="#231f20" stroke="#231f20"><tspan fill="#f0141e" stroke="#f0141e">TGFβ</tspan> signalling</text>
<text x="571.6" y="711.6" font-size="6.5" fill="#231f20" stroke="#231f20"><tspan fill="#1a1ae6" stroke="#1a1ae6">IL-2</tspan> signalling</text>
<line x1="389.1" y1="716.5" x2="389.1" y2="733.5" stroke="#f0141e" stroke-width="0.7"/>
<path d="M389.1,736.2 L387.5,733.5 L390.7,733.5 Z" fill="#f0141e" />
<polyline points="414.9,716.5 414.9,726.0 484.5,726.0 484.5,733.5" fill="none" stroke="#f0141e" stroke-width="0.7"/>
<path d="M484.5,736.2 L482.9,733.5 L486.1,733.5 Z" fill="#f0141e" />
<polyline points="580.8,716.5 580.8,726.1 510.3,726.1 510.3,733.5" fill="none" stroke="#1a1ae6" stroke-width="0.7"/>
<path d="M510.3,736.2 L508.7,733.5 L511.9,733.5 Z" fill="#1a1ae6" />
<line x1="609.0" y1="716.5" x2="609.0" y2="733.5" stroke="#1a1ae6" stroke-width="0.7"/>
<path d="M609.0,736.2 L607.4,733.5 L610.6,733.5 Z" fill="#1a1ae6" />
<rect x="349.9" y="737.1" width="74.4" height="107.1" rx="8.5" ry="8.5" fill="none" stroke="#333" stroke-width="0.8"/>
<rect x="426.1" y="737.6" width="146.5" height="106.2" rx="8.5" ry="8.5" fill="none" stroke="#333" stroke-width="0.8"/>
<rect x="574.6" y="737.5" width="87.3" height="106.7" rx="8.5" ry="8.5" fill="none" stroke="#333" stroke-width="0.8"/>
<text x="388.5" y="746.1" font-size="6.6" text-anchor="middle" fill="#f0141e" stroke="#f0141e"><tspan>pT</tspan><tspan font-size="4.1" dy="1.8">reg</tspan><tspan dy="-1.8"> lineage</tspan></text>
<text x="499.7" y="746.0" font-size="6.6" text-anchor="middle" fill="#7e1f96" stroke="#7e1f96"><tspan>Effector and colonic pT</tspan><tspan font-size="4.1" dy="1.8">reg</tspan><tspan dy="-1.8"> property</tspan></text>
<text x="617.6" y="745.8" font-size="6.6" text-anchor="middle" fill="#1a1ae6" stroke="#1a1ae6"><tspan>Cell proliferation</tspan></text>
<text x="356.2" y="762.0" font-size="6.6" fill="#231f20" stroke="#231f20"><tspan fill="#f0141e" stroke="#f0141e"><tspan>TFs: </tspan></tspan><tspan fill="#231f20" stroke="#231f20"><tspan font-style="italic">Foxp3, Smad3,</tspan></tspan></text>
<text x="356.2" y="769.9" font-size="6.6" fill="#231f20" stroke="#231f20"><tspan fill="#231f20" stroke="#231f20"><tspan font-style="italic">Rarg, Foxo1,</tspan></tspan></text>
<text x="356.2" y="777.9" font-size="6.6" fill="#231f20" stroke="#231f20"><tspan fill="#231f20" stroke="#231f20"><tspan font-style="italic">Ikzf3, Tle1…</tspan></tspan></text>
<text x="356.2" y="785.8" font-size="6.6" fill="#231f20" stroke="#231f20"><tspan fill="#f0141e" stroke="#f0141e"><tspan>Surface: </tspan></tspan><tspan fill="#231f20" stroke="#231f20"><tspan font-style="italic">Il7r, Ccr6,</tspan></tspan></text>
<text x="356.2" y="793.8" font-size="6.6" fill="#231f20" stroke="#231f20"><tspan fill="#231f20" stroke="#231f20"><tspan font-style="italic">Ccr8, Cd38, Tgfbr1,</tspan></tspan></text>
<text x="356.2" y="801.7" font-size="6.6" fill="#231f20" stroke="#231f20"><tspan fill="#231f20" stroke="#231f20"><tspan font-style="italic">Il18r1, Il18rap,</tspan></tspan></text>
<text x="356.2" y="809.7" font-size="6.6" fill="#231f20" stroke="#231f20"><tspan fill="#231f20" stroke="#231f20"><tspan font-style="italic">Tmem176a,</tspan></tspan></text>
<text x="356.2" y="817.6" font-size="6.6" fill="#231f20" stroke="#231f20"><tspan fill="#231f20" stroke="#231f20"><tspan font-style="italic">Tmem176b,</tspan></tspan></text>
<text x="356.2" y="825.6" font-size="6.6" fill="#231f20" stroke="#231f20"><tspan fill="#231f20" stroke="#231f20"><tspan font-style="italic">Gpr34, Itgb7…</tspan></tspan></text>
<text x="432.7" y="761.9" font-size="6.6" fill="#231f20" stroke="#231f20"><tspan fill="#7e1f96" stroke="#7e1f96"><tspan>TFs: </tspan></tspan><tspan fill="#231f20" stroke="#231f20"><tspan font-style="italic">Rorc, Rora, Ahr, Prdm1, Runx1, Maf,</tspan></tspan></text>
<text x="432.7" y="769.9" font-size="6.6" fill="#231f20" stroke="#231f20"><tspan fill="#231f20" stroke="#231f20"><tspan font-style="italic">Fli1,  Nr1d1, Arnt2, Klf12…</tspan></tspan></text>
<text x="432.7" y="777.8" font-size="6.6" fill="#231f20" stroke="#231f20"><tspan fill="#7e1f96" stroke="#7e1f96"><tspan>Co-stimulation or inhibition: </tspan></tspan><tspan fill="#231f20" stroke="#231f20"><tspan font-style="italic">Icos, Ctla4, Tigit,</tspan></tspan></text>
<text x="432.7" y="785.8" font-size="6.6" fill="#231f20" stroke="#231f20"><tspan fill="#231f20" stroke="#231f20"><tspan font-style="italic">Havcr2, Pvrig, Tnfrsf1b, Cd47…</tspan></tspan></text>
<text x="432.7" y="793.8" font-size="6.6" fill="#231f20" stroke="#231f20"><tspan fill="#7e1f96" stroke="#7e1f96"><tspan>Cytokine and chemokine receptors: </tspan></tspan><tspan fill="#231f20" stroke="#231f20"><tspan font-style="italic">Il10, Il2ra,</tspan></tspan></text>
<text x="432.7" y="801.8" font-size="6.6" fill="#231f20" stroke="#231f20"><tspan fill="#231f20" stroke="#231f20"><tspan font-style="italic">Il2rb, Il1r1, Il1r2, Il10ra, Il12rb1, Il23r, Ccr1,</tspan></tspan></text>
<text x="432.7" y="809.8" font-size="6.6" fill="#231f20" stroke="#231f20"><tspan fill="#231f20" stroke="#231f20"><tspan font-style="italic">Ccr2, Ccr4, Ccr5, Ccr9, Cxcr6…</tspan></tspan></text>
<text x="432.7" y="817.7" font-size="6.6" fill="#231f20" stroke="#231f20"><tspan fill="#7e1f96" stroke="#7e1f96"><tspan>Others: </tspan></tspan><tspan fill="#231f20" stroke="#231f20"><tspan font-style="italic">Itgae, Emp1, Furin, Fgl2, Ltb4r1,</tspan></tspan></text>
<text x="432.7" y="825.7" font-size="6.6" fill="#231f20" stroke="#231f20"><tspan fill="#231f20" stroke="#231f20"><tspan font-style="italic">F2r, Ticam1, Gpr15, Ubash3b…</tspan></tspan></text>
<text x="582.8" y="756.7" font-size="6.6" fill="#231f20" stroke="#231f20"><tspan fill="#231f20" stroke="#231f20"><tspan font-style="italic">Mki67, Ccna2, Ccnb1,</tspan></tspan></text>
<text x="582.8" y="764.5" font-size="6.6" fill="#231f20" stroke="#231f20"><tspan fill="#231f20" stroke="#231f20"><tspan font-style="italic">Aurkb, Cenpe, Mcm3,</tspan></tspan></text>
<text x="582.8" y="772.4" font-size="6.6" fill="#231f20" stroke="#231f20"><tspan fill="#231f20" stroke="#231f20"><tspan font-style="italic">Kif11, Kif14, Cdca2,</tspan></tspan></text>
<text x="582.8" y="780.2" font-size="6.6" fill="#231f20" stroke="#231f20"><tspan fill="#231f20" stroke="#231f20"><tspan font-style="italic">Cdca3…</tspan></tspan></text>
<text x="618.0" y="791.0" font-size="6.6" text-anchor="middle" fill="#1a1ae6" stroke="#1a1ae6"><tspan>T cell activation</tspan></text>
<text x="582.8" y="803.3" font-size="6.6" fill="#231f20" stroke="#231f20"><tspan fill="#1a1ae6" stroke="#1a1ae6"><tspan>TFs: </tspan></tspan><tspan fill="#231f20" stroke="#231f20"><tspan font-style="italic">Tbx21, Irf8, Runx2,</tspan></tspan></text>
<text x="582.8" y="811.3" font-size="6.6" fill="#231f20" stroke="#231f20"><tspan fill="#231f20" stroke="#231f20"><tspan font-style="italic">E2f2, Foxm1…</tspan></tspan></text>
<text x="582.8" y="819.3" font-size="6.6" fill="#231f20" stroke="#231f20"><tspan fill="#1a1ae6" stroke="#1a1ae6"><tspan>Surface: </tspan></tspan><tspan fill="#231f20" stroke="#231f20"><tspan font-style="italic">Cxcr3, Ccr3,</tspan></tspan></text>
<text x="582.8" y="827.3" font-size="6.6" fill="#231f20" stroke="#231f20"><tspan fill="#231f20" stroke="#231f20"><tspan font-style="italic">Ccl4, Il1rl1, Il1m, Ifitm3,</tspan></tspan></text>
<text x="582.8" y="835.3" font-size="6.6" fill="#231f20" stroke="#231f20"><tspan fill="#231f20" stroke="#231f20"><tspan font-style="italic">Slac17a8…</tspan></tspan></text>
<text x="387.1" y="853.7" font-size="6.6" text-anchor="middle" fill="#f0141e" stroke="#f0141e"><tspan>168 (99 + 69)</tspan></text>
<text x="498.7" y="853.9" font-size="6.6" text-anchor="middle" fill="#7e1f96" stroke="#7e1f96"><tspan>270 (150 + 120)</tspan></text>
<text x="617.6" y="853.7" font-size="6.6" text-anchor="middle" fill="#1a1ae6" stroke="#1a1ae6"><tspan>343 (237 + 106)</tspan></text>
</svg></body></html>
